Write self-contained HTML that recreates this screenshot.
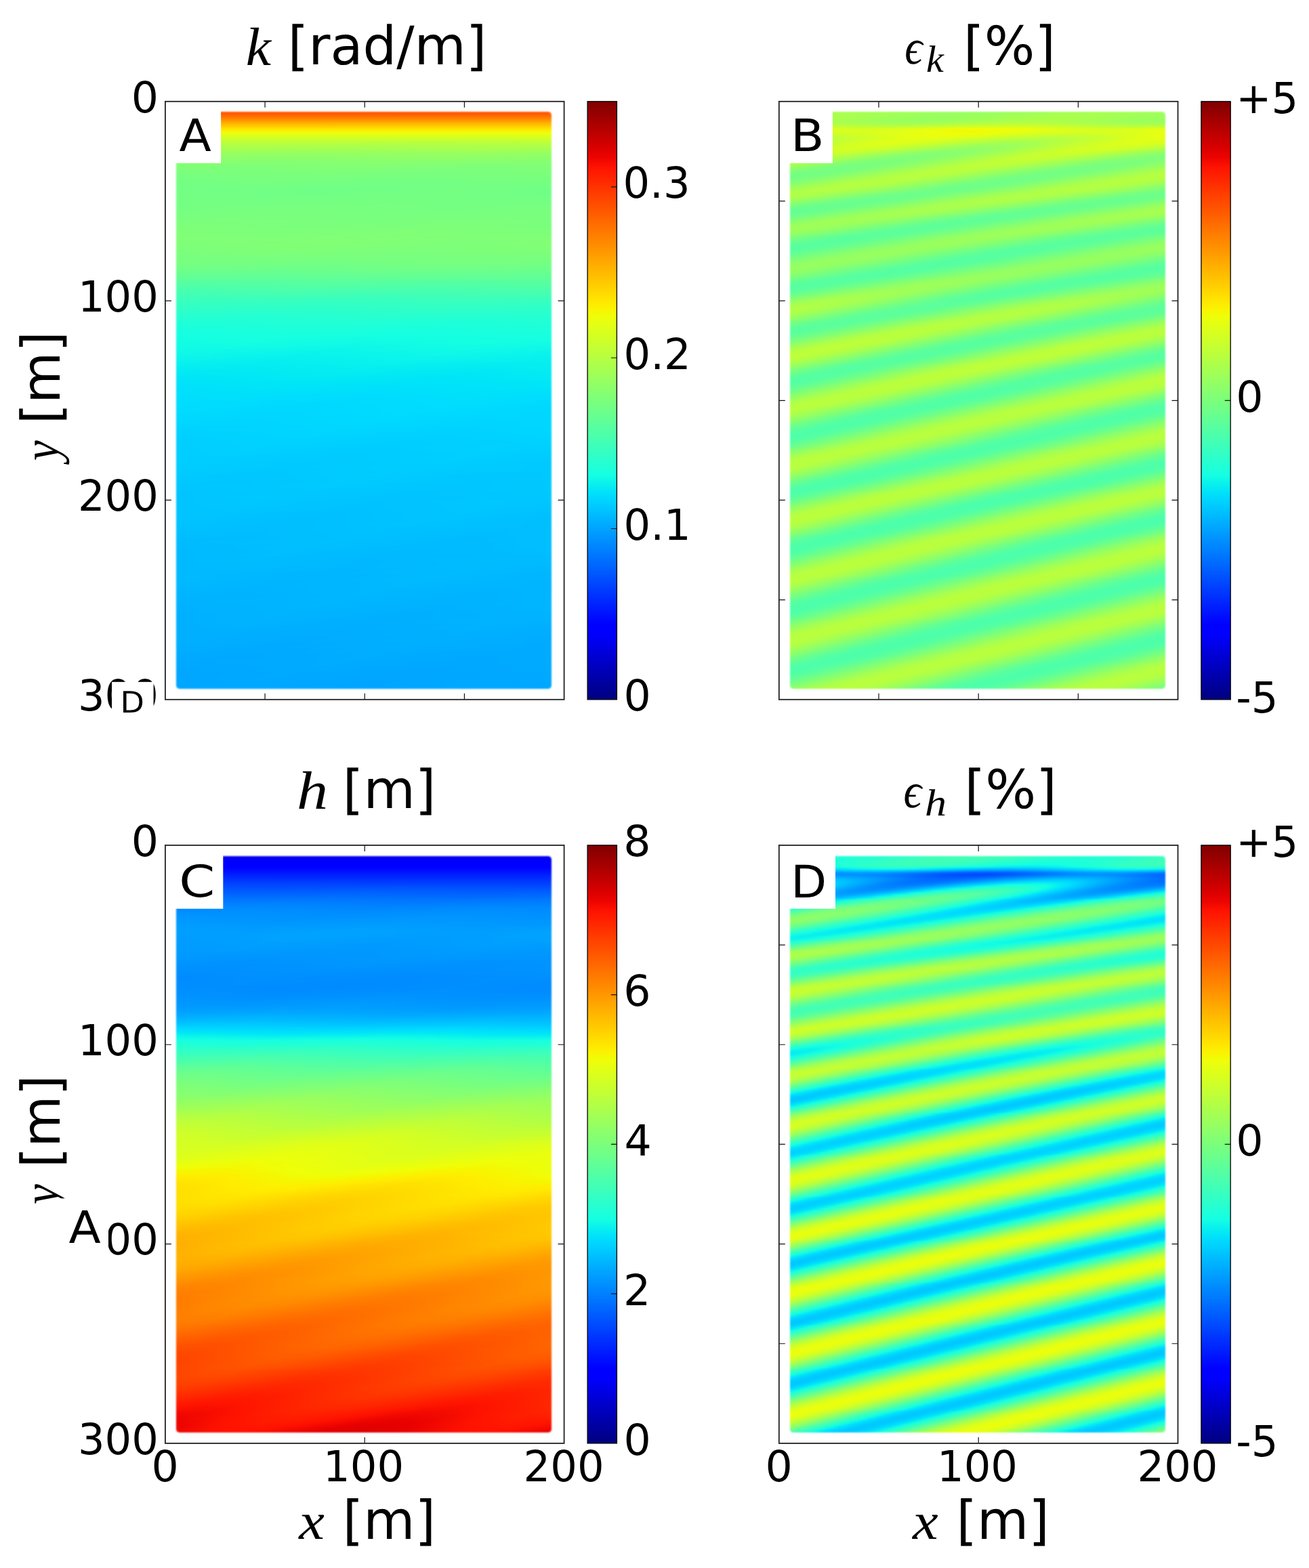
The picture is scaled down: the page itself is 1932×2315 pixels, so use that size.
<!DOCTYPE html><html><head><meta charset="utf-8"><title>Figure</title><style>html,body{margin:0;padding:0;background:#fff}#r{position:relative;width:1932px;height:2315px;overflow:hidden;background:#fff}#b{position:absolute;left:0;top:0;width:100%;height:100%}.f{filter:blur(.8px)}.f{position:absolute;overflow:hidden;border-radius:5px;display:flex;flex-direction:column}.f i{display:block;flex:1 1 0;min-height:0}svg{position:absolute;left:0;top:0}text{font-size:100px;fill:#000;font-kerning:none;text-rendering:geometricPrecision}.s{font-family:"DejaVu Sans","Liberation Sans",sans-serif}.m{font-family:"Liberation Serif","DejaVu Serif",serif;font-style:italic}</style></head><body><div id="r"><div id="b"><div class="f" style="left:259.6px;top:165.4px;width:554.7px;height:851.5px"><i style="background:#ff5200"></i><i style="background:#ff6200"></i><i style="background:linear-gradient(90deg,#ff7300 0%,#ff7400 100%)"></i><i style="background:linear-gradient(90deg,#ff8500 0%,#ff8700 100%)"></i><i style="background:linear-gradient(90deg,#ff9a00 0%,#ff9c00 100%)"></i><i style="background:linear-gradient(90deg,#ffae00 0%,#ffb000 100%)"></i><i style="background:linear-gradient(90deg,#ffc000 0%,#ffc100 100%)"></i><i style="background:linear-gradient(90deg,#ffd200 0%,#ffd300 100%)"></i><i style="background:#ffe300"></i><i style="background:#f8f400"></i><i style="background:#ebff0c"></i><i style="background:linear-gradient(90deg,#dfff18 0%,#e1ff16 100%)"></i><i style="background:linear-gradient(90deg,#d4ff23 0%,#d6ff21 100%)"></i><i style="background:linear-gradient(90deg,#c9ff2e 0%,#ccff2b 100%)"></i><i style="background:linear-gradient(90deg,#bfff38 0%,#c2ff34 28%,#bfff38 63%,#c2ff35 100%)"></i><i style="background:linear-gradient(90deg,#b7ff40 0%,#baff3d 24.9%,#b7ff40 58.7%,#b9ff3d 100%)"></i><i style="background:linear-gradient(90deg,#b0ff47 0%,#b3ff44 21.7%,#afff48 55%,#b2ff45 100%)"></i><i style="background:linear-gradient(90deg,#a9ff4d 0%,#acff4b 19%,#a8ff4f 50.8%,#acff4b 82%,#aaff4d 100%)"></i><i style="background:linear-gradient(90deg,#a4ff53 0%,#a6ff51 18%,#a2ff55 49.7%,#a6ff51 81.5%,#a3ff53 100%)"></i><i style="background:linear-gradient(90deg,#9fff58 0%,#9cff5b 45.5%,#a0ff57 78.3%,#9dff5a 100%)"></i><i style="background:linear-gradient(90deg,#9aff5c 0%,#97ff60 41.3%,#9bff5c 75.7%,#97ff5f 100%)"></i><i style="background:linear-gradient(90deg,#96ff61 0%,#92ff64 37.6%,#96ff61 72.5%,#93ff64 100%)"></i><i style="background:linear-gradient(90deg,#92ff65 0%,#8eff69 33.9%,#92ff65 68.8%,#8eff69 100%)"></i><i style="background:linear-gradient(90deg,#8eff69 0%,#8aff6d 28%,#8eff69 63%,#8aff6d 100%)"></i><i style="background:linear-gradient(90deg,#8aff6d 0%,#86ff70 24.9%,#8aff6d 59.3%,#87ff70 100%)"></i><i style="background:linear-gradient(90deg,#86ff71 0%,#83ff74 22.2%,#87ff70 55%,#84ff73 100%)"></i><i style="background:linear-gradient(90deg,#83ff74 0%,#80ff76 19%,#84ff73 51.3%,#80ff76 82.5%,#82ff75 100%)"></i><i style="background:linear-gradient(90deg,#80ff77 0%,#7eff79 18.5%,#82ff75 50.3%,#7eff79 82%,#80ff76 100%)"></i><i style="background:linear-gradient(90deg,#7eff79 0%,#80ff77 46.6%,#7cff7a 79.4%,#7fff78 100%)"></i><i style="background:linear-gradient(90deg,#7bff7b 0%,#7eff79 42.3%,#7bff7c 76.2%,#7eff79 100%)"></i><i style="background:linear-gradient(90deg,#79ff7d 0%,#7dff7a 38.6%,#79ff7e 73%,#7dff7a 100%)"></i><i style="background:linear-gradient(90deg,#78ff7f 0%,#7bff7b 34.9%,#78ff7f 69.8%,#7bff7b 100%)"></i><i style="background:linear-gradient(90deg,#77ff80 0%,#7aff7d 29.6%,#77ff80 64.6%,#7aff7d 100%)"></i><i style="background:linear-gradient(90deg,#75ff81 0%,#79ff7e 26.5%,#75ff82 60.8%,#78ff7e 100%)"></i><i style="background:linear-gradient(90deg,#74ff82 0%,#77ff80 23.3%,#74ff83 56.6%,#77ff80 100%)"></i><i style="background:linear-gradient(90deg,#73ff83 0%,#76ff81 20.6%,#72ff84 52.9%,#75ff82 100%)"></i><i style="background:#73ff84"></i><i style="background:linear-gradient(90deg,#73ff84 0%,#74ff83 16.9%,#71ff86 48.1%,#74ff83 79.9%,#72ff85 100%)"></i><i style="background:linear-gradient(90deg,#73ff84 0%,#70ff87 43.9%,#74ff83 77.2%,#71ff86 100%)"></i><i style="background:linear-gradient(90deg,#73ff84 0%,#70ff87 40.2%,#74ff83 74.1%,#70ff86 100%)"></i><i style="background:linear-gradient(90deg,#74ff83 0%,#70ff86 36%,#74ff83 70.9%,#70ff86 100%)"></i><i style="background:linear-gradient(90deg,#74ff82 0%,#71ff86 30.2%,#74ff82 65.1%,#71ff86 100%)"></i><i style="background:linear-gradient(90deg,#75ff82 0%,#71ff85 27%,#75ff82 61.4%,#72ff85 100%)"></i><i style="background:linear-gradient(90deg,#75ff82 0%,#72ff85 23.3%,#75ff81 57.1%,#73ff84 100%)"></i><i style="background:linear-gradient(90deg,#75ff82 0%,#73ff84 20.6%,#76ff81 52.9%,#74ff83 100%)"></i><i style="background:#75ff82"></i><i style="background:linear-gradient(90deg,#75ff82 0%,#77ff7f 47.1%,#74ff83 79.4%,#76ff80 100%)"></i><i style="background:linear-gradient(90deg,#75ff82 0%,#78ff7f 42.9%,#75ff82 76.2%,#77ff7f 100%)"></i><i style="background:linear-gradient(90deg,#75ff81 0%,#79ff7e 38.6%,#75ff82 73%,#78ff7e 100%)"></i><i style="background:linear-gradient(90deg,#76ff81 0%,#79ff7e 34.4%,#76ff81 69.3%,#79ff7e 100%)"></i><i style="background:linear-gradient(90deg,#76ff80 0%,#7aff7d 28.6%,#76ff80 63%,#7aff7d 100%)"></i><i style="background:linear-gradient(90deg,#77ff7f 0%,#7aff7c 24.9%,#77ff80 58.7%,#7aff7d 100%)"></i><i style="background:linear-gradient(90deg,#78ff7e 0%,#7bff7c 21.7%,#78ff7f 54.5%,#7aff7d 100%)"></i><i style="background:#7aff7d"></i><i style="background:linear-gradient(90deg,#7bff7c 0%,#7cff7b 17.5%,#79ff7e 49.2%,#7cff7b 81%,#7aff7d 100%)"></i><i style="background:linear-gradient(90deg,#7cff7b 0%,#79ff7d 45%,#7dff7a 77.8%,#7aff7d 100%)"></i><i style="background:linear-gradient(90deg,#7dff7a 0%,#7aff7d 40.7%,#7dff79 74.6%,#7aff7c 100%)"></i><i style="background:linear-gradient(90deg,#7eff79 0%,#7bff7c 36.5%,#7eff79 71.4%,#7bff7c 100%)"></i><i style="background:linear-gradient(90deg,#7fff78 0%,#7cff7b 30.7%,#7fff78 65.6%,#7cff7b 100%)"></i><i style="background:linear-gradient(90deg,#80ff77 0%,#7cff7b 27.5%,#80ff77 61.9%,#7cff7a 100%)"></i><i style="background:linear-gradient(90deg,#80ff77 0%,#7dff7a 24.3%,#80ff77 58.2%,#7dff79 100%)"></i><i style="background:linear-gradient(90deg,#80ff77 0%,#7dff79 21.7%,#81ff76 54.5%,#7eff78 100%)"></i><i style="background:linear-gradient(90deg,#80ff77 0%,#7eff79 19%,#81ff76 50.8%,#7eff79 82%,#7fff77 100%)"></i><i style="background:#80ff77"></i><i style="background:linear-gradient(90deg,#7fff78 0%,#82ff75 46%,#7eff79 78.8%,#81ff76 100%)"></i><i style="background:linear-gradient(90deg,#7fff78 0%,#81ff75 42.3%,#7eff79 76.2%,#81ff76 100%)"></i><i style="background:linear-gradient(90deg,#7eff79 0%,#81ff76 38.6%,#7eff79 73%,#81ff76 100%)"></i><i style="background:linear-gradient(90deg,#7dff7a 0%,#80ff76 34.9%,#7dff7a 69.8%,#80ff76 100%)"></i><i style="background:linear-gradient(90deg,#7cff7a 0%,#80ff77 29.6%,#7cff7a 64.6%,#80ff77 100%)"></i><i style="background:linear-gradient(90deg,#7bff7b 0%,#7fff78 26.5%,#7bff7b 60.8%,#7eff78 100%)"></i><i style="background:linear-gradient(90deg,#7bff7c 0%,#7eff79 23.8%,#7aff7c 57.7%,#7dff7a 100%)"></i><i style="background:linear-gradient(90deg,#7aff7d 0%,#7cff7a 21.2%,#79ff7e 54%,#7bff7b 100%)"></i><i style="background:#79ff7e"></i><i style="background:#78ff7f"></i><i style="background:linear-gradient(90deg,#77ff7f 0%,#75ff82 46%,#78ff7e 78.8%,#76ff81 100%)"></i><i style="background:linear-gradient(90deg,#76ff81 0%,#73ff83 42.3%,#77ff80 76.2%,#74ff83 100%)"></i><i style="background:linear-gradient(90deg,#74ff82 0%,#71ff85 38.6%,#75ff82 73%,#72ff85 100%)"></i><i style="background:linear-gradient(90deg,#72ff85 0%,#6fff88 35.4%,#72ff85 70.4%,#6fff88 100%)"></i><i style="background:linear-gradient(90deg,#6fff88 0%,#6cff8b 30.2%,#6fff88 64.6%,#6cff8b 100%)"></i><i style="background:linear-gradient(90deg,#6cff8b 0%,#69ff8e 27%,#6cff8b 61.4%,#69ff8e 100%)"></i><i style="background:linear-gradient(90deg,#68ff8e 0%,#66ff91 23.8%,#69ff8e 57.7%,#66ff91 100%)"></i><i style="background:linear-gradient(90deg,#65ff92 0%,#62ff95 21.2%,#65ff91 54%,#63ff94 100%)"></i><i style="background:#61ff96"></i><i style="background:#5dff9a"></i><i style="background:linear-gradient(90deg,#59ff9e 0%,#5bff9c 46%,#58ff9f 78.8%,#5aff9d 100%)"></i><i style="background:linear-gradient(90deg,#55ffa2 0%,#58ff9f 42.3%,#54ffa2 75.7%,#57ff9f 100%)"></i><i style="background:linear-gradient(90deg,#51ffa5 0%,#54ffa2 38.6%,#51ffa6 73%,#54ffa2 100%)"></i><i style="background:linear-gradient(90deg,#4effa9 0%,#51ffa6 34.9%,#4effa9 69.8%,#51ffa6 100%)"></i><i style="background:linear-gradient(90deg,#4affad 0%,#4effa9 29.6%,#4affad 64.6%,#4effa9 100%)"></i><i style="background:linear-gradient(90deg,#47ffb0 0%,#4affad 26.5%,#47ffb0 60.8%,#4affad 100%)"></i><i style="background:linear-gradient(90deg,#43ffb4 0%,#46ffb1 23.8%,#43ffb4 57.7%,#46ffb1 100%)"></i><i style="background:linear-gradient(90deg,#40ffb7 0%,#43ffb4 21.2%,#3fffb8 54%,#42ffb5 100%)"></i><i style="background:linear-gradient(90deg,#3dffba 0%,#3fffb7 18.5%,#3cffbb 50.3%,#3fffb7 82%,#3effb9 100%)"></i><i style="background:linear-gradient(90deg,#3bffbc 0%,#3cffba 18%,#39ffbe 49.7%,#3cffba 81.5%,#3affbd 100%)"></i><i style="background:linear-gradient(90deg,#38ffbe 0%,#36ffc1 46%,#3affbd 78.8%,#37ffc0 100%)"></i><i style="background:linear-gradient(90deg,#36ffc1 0%,#33ffc3 42.9%,#37ffc0 76.2%,#34ffc3 100%)"></i><i style="background:linear-gradient(90deg,#34ffc3 0%,#31ffc6 39.2%,#34ffc2 73.5%,#31ffc6 100%)"></i><i style="background:linear-gradient(90deg,#32ffc5 0%,#2effc8 36%,#32ffc5 70.9%,#2effc8 100%)"></i><i style="background:linear-gradient(90deg,#2fffc7 0%,#2cffcb 30.7%,#2fffc7 65.6%,#2cffcb 100%)"></i><i style="background:linear-gradient(90deg,#2dffca 0%,#2affcd 28%,#2dffca 62.4%,#2affcd 100%)"></i><i style="background:linear-gradient(90deg,#2bffcc 0%,#27ffcf 25.4%,#2bffcc 59.3%,#28ffcf 100%)"></i><i style="background:linear-gradient(90deg,#28ffcf 0%,#25ffd2 22.8%,#29ffce 56.1%,#26ffd1 100%)"></i><i style="background:linear-gradient(90deg,#26ffd1 0%,#23ffd4 20.6%,#27ffd0 52.9%,#23ffd4 83.6%,#24ffd2 100%)"></i><i style="background:linear-gradient(90deg,#23ffd3 0%,#21ffd6 18%,#25ffd2 49.7%,#21ffd6 81.5%,#23ffd4 100%)"></i><i style="background:linear-gradient(90deg,#21ffd6 0%,#1fffd7 18%,#23ffd4 49.2%,#1fffd7 81%,#22ffd5 100%)"></i><i style="background:linear-gradient(90deg,#1fffd8 0%,#21ffd5 46%,#1effd9 78.8%,#20ffd6 100%)"></i><i style="background:linear-gradient(90deg,#1dffda 0%,#20ffd7 42.9%,#1cffdb 76.7%,#1fffd7 100%)"></i><i style="background:linear-gradient(90deg,#1bffdc 0%,#1effd8 39.7%,#1bffdc 74.1%,#1effd9 100%)"></i><i style="background:linear-gradient(90deg,#19ffdd 0%,#1dffda 37%,#19ffde 71.4%,#1dffda 100%)"></i><i style="background:linear-gradient(90deg,#18ffdf 0%,#1cffdb 33.9%,#18ffdf 68.8%,#1cffdb 100%)"></i><i style="background:linear-gradient(90deg,#17ffe0 0%,#1affdd 29.1%,#17ffe0 64%,#1affdd 100%)"></i><i style="background:linear-gradient(90deg,#15ffe1 0%,#19ffde 26.5%,#15ffe2 60.8%,#19ffde 100%)"></i><i style="background:linear-gradient(90deg,#14ffe2 0%,#18ffdf 24.3%,#14fee3 57.7%,#17ffe0 100%)"></i><i style="background:linear-gradient(90deg,#14fee3 0%,#17ffe0 21.7%,#13fde4 55%,#16ffe1 100%)"></i><i style="background:linear-gradient(90deg,#13fde4 0%,#15ffe1 19.6%,#12fbe5 52.4%,#15ffe1 83.1%,#14fee3 100%)"></i><i style="background:linear-gradient(90deg,#12fce5 0%,#14ffe2 17.5%,#11fae6 48.7%,#14ffe2 81%,#12fce4 100%)"></i><i style="background:linear-gradient(90deg,#12fbe5 0%,#13fde4 17.5%,#0ff9e7 48.7%,#13fde4 81%,#11fae6 100%)"></i><i style="background:linear-gradient(90deg,#11fbe6 0%,#12fce5 15.3%,#0ef7e8 45.5%,#12fce5 78.8%,#0ff8e8 100%)"></i><i style="background:linear-gradient(90deg,#10fae6 0%,#0df6ea 42.9%,#11fbe6 76.2%,#0ef6e9 100%)"></i><i style="background:linear-gradient(90deg,#10f9e7 0%,#0cf5eb 39.7%,#10f9e7 74.1%,#0cf5ea 100%)"></i><i style="background:linear-gradient(90deg,#0ff8e8 0%,#0bf3ec 37%,#0ff8e8 71.4%,#0bf3ec 100%)"></i><i style="background:linear-gradient(90deg,#0ef7e9 0%,#0af2ed 34.4%,#0ef7e9 69.3%,#0af2ed 100%)"></i><i style="background:linear-gradient(90deg,#0df5ea 0%,#09f1ee 29.6%,#0df5ea 64.6%,#09f1ee 100%)"></i><i style="background:linear-gradient(90deg,#0cf4eb 0%,#08efef 27%,#0cf4eb 61.4%,#08f0ee 100%)"></i><i style="background:linear-gradient(90deg,#0af3ec 0%,#07eef0 24.9%,#0bf3ec 58.7%,#08efef 100%)"></i><i style="background:linear-gradient(90deg,#09f1ee 0%,#06edf1 22.8%,#0af2ed 56.1%,#06edf1 85.2%,#07eef0 100%)"></i><i style="background:linear-gradient(90deg,#08efef 0%,#05ecf2 20.6%,#09f1ee 52.9%,#05ecf2 83.6%,#06eef0 100%)"></i><i style="background:linear-gradient(90deg,#07eef0 0%,#04ebf3 18.5%,#08efef 50.3%,#04ebf3 82%,#06edf1 100%)"></i><i style="background:linear-gradient(90deg,#05ecf2 0%,#03eaf3 18.5%,#07eef0 50.3%,#03eaf3 82%,#06ecf1 100%)"></i><i style="background:linear-gradient(90deg,#04eaf3 0%,#02e9f4 16.4%,#06edf1 47.6%,#02e8f4 79.9%,#05ecf2 100%)"></i><i style="background:linear-gradient(90deg,#02e9f4 0%,#02e8f5 14.8%,#05ecf2 44.4%,#02e7f5 77.8%,#05ebf2 100%)"></i><i style="background:linear-gradient(90deg,#01e7f6 0%,#04ebf2 41.8%,#01e6f6 75.7%,#04eaf3 100%)"></i><i style="background:linear-gradient(90deg,#00e6f7 0%,#03eaf3 39.2%,#00e5f7 73.5%,#03eaf4 100%)"></i><i style="background:linear-gradient(90deg,#00e4f8 0%,#03e9f4 36.5%,#00e4f8 71.4%,#02e9f4 100%)"></i><i style="background:linear-gradient(90deg,#00e3f9 0%,#02e7f5 33.9%,#00e3f9 68.8%,#02e7f5 100%)"></i><i style="background:linear-gradient(90deg,#00e2fa 0%,#01e6f6 29.1%,#00e2fa 64%,#01e6f6 100%)"></i><i style="background:linear-gradient(90deg,#00e1fa 0%,#00e5f7 27%,#00e1fb 61.4%,#00e5f7 100%)"></i><i style="background:linear-gradient(90deg,#00e0fb 0%,#00e4f8 24.9%,#00e0fb 58.7%,#00e4f8 100%)"></i><i style="background:linear-gradient(90deg,#00dffc 0%,#00e3f9 22.8%,#00dffc 56.1%,#00e3f9 85.7%,#00e2f9 100%)"></i><i style="background:linear-gradient(90deg,#00dffc 0%,#00e2f9 20.6%,#00defd 53.4%,#00e2f9 84.1%,#00e1fb 100%)"></i><i style="background:linear-gradient(90deg,#00dffc 0%,#00e1fa 19%,#00ddfe 50.8%,#00e1fa 82%,#00dffc 100%)"></i><i style="background:linear-gradient(90deg,#00defd 0%,#00e0fb 19%,#00dcfe 50.8%,#00e1fb 82.5%,#00defd 100%)"></i><i style="background:linear-gradient(90deg,#00defd 0%,#00e0fb 16.9%,#00dbff 48.1%,#00e0fb 80.4%,#00ddfe 100%)"></i><i style="background:linear-gradient(90deg,#00defd 0%,#00dffc 15.3%,#00dbff 45.5%,#00dffc 78.3%,#00dbff 100%)"></i><i style="background:linear-gradient(90deg,#00ddfd 0%,#00daff 42.9%,#00defd 76.2%,#00daff 100%)"></i><i style="background:linear-gradient(90deg,#00ddfd 0%,#00d9ff 40.2%,#00defd 74.6%,#00daff 100%)"></i><i style="background:linear-gradient(90deg,#00ddfe 0%,#00d9ff 37.6%,#00ddfe 72%,#00d9ff 100%)"></i><i style="background:linear-gradient(90deg,#00ddfe 0%,#00d8ff 34.9%,#00ddfe 69.8%,#00d8ff 100%)"></i><i style="background:linear-gradient(90deg,#00dcfe 0%,#00d8ff 30.7%,#00dcfe 65.6%,#00d8ff 100%)"></i><i style="background:linear-gradient(90deg,#00dcff 0%,#00d7ff 28%,#00dcff 63%,#00d7ff 100%)"></i><i style="background:linear-gradient(90deg,#00dbff 0%,#00d7ff 25.9%,#00dbff 60.3%,#00d7ff 100%)"></i><i style="background:linear-gradient(90deg,#00daff 0%,#00d6ff 23.8%,#00dbff 57.7%,#00d7ff 100%)"></i><i style="background:linear-gradient(90deg,#00daff 0%,#00d6ff 22.2%,#00daff 55%,#00d6ff 85.2%,#00d7ff 100%)"></i><i style="background:linear-gradient(90deg,#00d9ff 0%,#00d5ff 20.1%,#00daff 52.4%,#00d6ff 83.6%,#00d7ff 100%)"></i><i style="background:linear-gradient(90deg,#00d8ff 0%,#00d5ff 18%,#00d9ff 49.7%,#00d5ff 81.5%,#00d7ff 100%)"></i><i style="background:linear-gradient(90deg,#00d6ff 0%,#00d4ff 18.5%,#00d9ff 50.3%,#00d4ff 82%,#00d7ff 100%)"></i><i style="background:linear-gradient(90deg,#00d5ff 0%,#00d4ff 16.4%,#00d8ff 47.6%,#00d4ff 79.9%,#00d7ff 100%)"></i><i style="background:linear-gradient(90deg,#00d4ff 0%,#00d3ff 14.8%,#00d7ff 45%,#00d3ff 77.8%,#00d7ff 100%)"></i><i style="background:linear-gradient(90deg,#00d3ff 0%,#00d7ff 42.3%,#00d2ff 76.2%,#00d6ff 100%)"></i><i style="background:linear-gradient(90deg,#00d2ff 0%,#00d6ff 39.7%,#00d2ff 74.1%,#00d6ff 100%)"></i><i style="background:linear-gradient(90deg,#00d1ff 0%,#00d5ff 37.6%,#00d1ff 72%,#00d5ff 100%)"></i><i style="background:linear-gradient(90deg,#00d0ff 0%,#00d5ff 34.9%,#00d0ff 69.8%,#00d5ff 100%)"></i><i style="background:linear-gradient(90deg,#00cfff 0%,#00d4ff 30.7%,#00cfff 65.1%,#00d4ff 100%)"></i><i style="background:linear-gradient(90deg,#00cfff 0%,#00d3ff 28%,#00cfff 63%,#00d3ff 100%)"></i><i style="background:linear-gradient(90deg,#00ceff 0%,#00d3ff 25.9%,#00ceff 60.3%,#00d2ff 100%)"></i><i style="background:linear-gradient(90deg,#00ceff 0%,#00d2ff 24.3%,#00ceff 57.7%,#00d1ff 100%)"></i><i style="background:linear-gradient(90deg,#00ceff 0%,#00d2ff 22.2%,#00cdff 55.6%,#00d1ff 85.2%,#00d0ff 100%)"></i><i style="background:linear-gradient(90deg,#00ceff 0%,#00d1ff 20.1%,#00cdff 52.9%,#00d1ff 83.6%,#00d0ff 100%)"></i><i style="background:linear-gradient(90deg,#00ceff 0%,#00d1ff 18.5%,#0cf 50.3%,#00d1ff 82%,#00cfff 100%)"></i><i style="background:linear-gradient(90deg,#00ceff 0%,#00d0ff 18.5%,#0cf 50.3%,#00d0ff 82%,#00ceff 100%)"></i><i style="background:linear-gradient(90deg,#00ceff 0%,#00d0ff 16.9%,#00cbff 48.1%,#00d0ff 80.4%,#00cdff 100%)"></i><i style="background:linear-gradient(90deg,#00ceff 0%,#00cfff 15.3%,#00cbff 45.5%,#00cfff 78.3%,#0cf 100%)"></i><i style="background:linear-gradient(90deg,#00ceff 0%,#00cbff 42.9%,#00cfff 76.2%,#00cbff 100%)"></i><i style="background:linear-gradient(90deg,#00ceff 0%,#00caff 40.2%,#00cfff 74.6%,#00caff 100%)"></i><i style="background:linear-gradient(90deg,#00ceff 0%,#00caff 37.6%,#00ceff 72.5%,#00caff 100%)"></i><i style="background:linear-gradient(90deg,#00ceff 0%,#00c9ff 35.4%,#00ceff 69.8%,#00c9ff 100%)"></i><i style="background:linear-gradient(90deg,#00cdff 0%,#00c9ff 30.7%,#00cdff 65.6%,#00c9ff 100%)"></i><i style="background:linear-gradient(90deg,#00cdff 0%,#00c9ff 28.6%,#00cdff 63%,#00c9ff 100%)"></i><i style="background:linear-gradient(90deg,#00cdff 0%,#00c8ff 26.5%,#00cdff 60.3%,#00c9ff 100%)"></i><i style="background:linear-gradient(90deg,#0cf 0%,#00c8ff 24.3%,#0cf 58.2%,#00c9ff 100%)"></i><i style="background:linear-gradient(90deg,#00cbff 0%,#00c8ff 22.2%,#0cf 55.6%,#00c8ff 85.2%,#00c9ff 100%)"></i><i style="background:linear-gradient(90deg,#00caff 0%,#00c7ff 20.1%,#0cf 52.9%,#00c7ff 83.6%,#00c9ff 100%)"></i><i style="background:linear-gradient(90deg,#00caff 0%,#00c7ff 18.5%,#00cbff 50.3%,#00c7ff 82%,#00c9ff 100%)"></i><i style="background:linear-gradient(90deg,#00c9ff 0%,#00c7ff 18.5%,#00cbff 50.3%,#00c7ff 82%,#00c9ff 100%)"></i><i style="background:linear-gradient(90deg,#00c8ff 0%,#00c6ff 16.9%,#00cbff 47.6%,#00c6ff 79.9%,#00c9ff 100%)"></i><i style="background:linear-gradient(90deg,#00c7ff 0%,#00c6ff 14.8%,#00caff 45%,#00c6ff 77.8%,#00c9ff 100%)"></i><i style="background:linear-gradient(90deg,#00c6ff 0%,#00caff 42.3%,#00c6ff 76.2%,#00c9ff 100%)"></i><i style="background:linear-gradient(90deg,#00c6ff 0%,#00caff 39.7%,#00c5ff 74.1%,#00c9ff 100%)"></i><i style="background:linear-gradient(90deg,#00c5ff 0%,#00c9ff 37%,#00c5ff 71.4%,#00c9ff 100%)"></i><i style="background:linear-gradient(90deg,#00c5ff 0%,#00c9ff 34.4%,#00c5ff 69.3%,#00c9ff 100%)"></i><i style="background:linear-gradient(90deg,#00c4ff 0%,#00c8ff 30.2%,#00c4ff 64.6%,#00c8ff 100%)"></i><i style="background:linear-gradient(90deg,#00c4ff 0%,#00c8ff 27.5%,#00c4ff 62.4%,#00c8ff 100%)"></i><i style="background:linear-gradient(90deg,#00c4ff 0%,#00c8ff 25.4%,#00c3ff 59.8%,#00c7ff 100%)"></i><i style="background:linear-gradient(90deg,#00c4ff 0%,#00c7ff 23.3%,#00c3ff 57.1%,#00c7ff 100%)"></i><i style="background:linear-gradient(90deg,#00c4ff 0%,#00c7ff 21.7%,#00c3ff 54.5%,#00c7ff 84.7%,#00c6ff 100%)"></i><i style="background:linear-gradient(90deg,#00c4ff 0%,#00c7ff 19.6%,#00c2ff 51.9%,#00c7ff 83.1%,#00c5ff 100%)"></i><i style="background:linear-gradient(90deg,#00c4ff 0%,#00c6ff 18%,#00c2ff 49.2%,#00c6ff 81%,#00c4ff 100%)"></i><i style="background:linear-gradient(90deg,#00c4ff 0%,#00c6ff 18%,#00c2ff 49.2%,#00c6ff 81.5%,#00c3ff 100%)"></i><i style="background:linear-gradient(90deg,#00c4ff 0%,#00c5ff 16.4%,#00c1ff 46.6%,#00c6ff 79.4%,#00c2ff 100%)"></i><i style="background:linear-gradient(90deg,#00c4ff 0%,#00c5ff 14.8%,#00c1ff 43.9%,#00c5ff 77.2%,#00c2ff 100%)"></i><i style="background:linear-gradient(90deg,#00c4ff 0%,#00c0ff 41.8%,#00c5ff 75.7%,#00c1ff 100%)"></i><i style="background:linear-gradient(90deg,#00c4ff 0%,#00c0ff 39.2%,#00c4ff 73.5%,#00c0ff 100%)"></i><i style="background:linear-gradient(90deg,#00c4ff 0%,#00c0ff 36.5%,#00c4ff 71.4%,#00c0ff 100%)"></i><i style="background:linear-gradient(90deg,#00c4ff 0%,#00bfff 34.4%,#00c4ff 68.8%,#00bfff 100%)"></i><i style="background:linear-gradient(90deg,#00c3ff 0%,#00bfff 29.6%,#00c3ff 64.6%,#00bfff 100%)"></i><i style="background:linear-gradient(90deg,#00c3ff 0%,#00bfff 27.5%,#00c3ff 61.9%,#00bfff 100%)"></i><i style="background:linear-gradient(90deg,#00c2ff 0%,#00beff 25.4%,#00c3ff 59.8%,#00bfff 100%)"></i><i style="background:linear-gradient(90deg,#00c2ff 0%,#00beff 23.8%,#00c2ff 57.1%,#00bfff 100%)"></i><i style="background:linear-gradient(90deg,#00c1ff 0%,#00beff 21.7%,#00c2ff 54.5%,#00beff 84.7%,#00bfff 100%)"></i><i style="background:linear-gradient(90deg,#00c0ff 0%,#00bdff 20.1%,#00c2ff 52.4%,#00bdff 83.1%,#00bfff 100%)"></i><i style="background:linear-gradient(90deg,#00c0ff 0%,#00bdff 18%,#00c1ff 49.7%,#00bdff 81.5%,#00bfff 100%)"></i><i style="background:linear-gradient(90deg,#00bfff 0%,#00bdff 18.5%,#00c1ff 50.3%,#00bdff 81.5%,#00bfff 100%)"></i><i style="background:linear-gradient(90deg,#00beff 0%,#00bcff 16.9%,#00c1ff 47.6%,#00bcff 79.9%,#00bfff 100%)"></i><i style="background:linear-gradient(90deg,#00bdff 0%,#00bcff 15.3%,#00c0ff 45%,#00bcff 78.3%,#00bfff 100%)"></i><i style="background:linear-gradient(90deg,#00bcff 0%,#00c0ff 42.9%,#00bcff 76.2%,#00bfff 100%)"></i><i style="background:linear-gradient(90deg,#00bcff 0%,#00c0ff 40.2%,#0bf 74.6%,#00bfff 100%)"></i><i style="background:linear-gradient(90deg,#0bf 0%,#00bfff 37.6%,#0bf 72.5%,#00bfff 100%)"></i><i style="background:linear-gradient(90deg,#0bf 0%,#00bfff 35.4%,#0bf 70.4%,#00bfff 100%)"></i><i style="background:linear-gradient(90deg,#00baff 0%,#00bfff 31.2%,#00baff 66.1%,#00bfff 100%)"></i><i style="background:linear-gradient(90deg,#00baff 0%,#00beff 29.1%,#00baff 63.5%,#00beff 100%)"></i><i style="background:linear-gradient(90deg,#00baff 0%,#00beff 27%,#00baff 61.4%,#00beff 100%)"></i><i style="background:linear-gradient(90deg,#00baff 0%,#00beff 24.9%,#00b9ff 59.3%,#00bdff 100%)"></i><i style="background:linear-gradient(90deg,#00baff 0%,#00bdff 23.3%,#00b9ff 56.6%,#00bcff 100%)"></i><i style="background:linear-gradient(90deg,#00baff 0%,#00bdff 21.2%,#00b9ff 54%,#00bdff 84.7%,#00bcff 100%)"></i><i style="background:linear-gradient(90deg,#00baff 0%,#00bdff 19.6%,#00b8ff 51.9%,#00bdff 83.1%,#0bf 100%)"></i><i style="background:linear-gradient(90deg,#00baff 0%,#00bcff 18%,#00b8ff 49.2%,#00bcff 81.5%,#00baff 100%)"></i><i style="background:linear-gradient(90deg,#00baff 0%,#00bcff 18%,#00b8ff 49.7%,#00bcff 81.5%,#00b9ff 100%)"></i><i style="background:linear-gradient(90deg,#00baff 0%,#00bcff 16.4%,#00b8ff 47.1%,#00bcff 79.9%,#00b9ff 100%)"></i><i style="background:linear-gradient(90deg,#00baff 0%,#0bf 14.8%,#00b7ff 45%,#0bf 77.8%,#00b8ff 100%)"></i><i style="background:linear-gradient(90deg,#00baff 0%,#00b7ff 42.3%,#0bf 76.2%,#00b7ff 100%)"></i><i style="background:linear-gradient(90deg,#00baff 0%,#00b7ff 40.2%,#0bf 74.1%,#00b7ff 100%)"></i><i style="background:linear-gradient(90deg,#00baff 0%,#00b6ff 37.6%,#00baff 72.5%,#00b6ff 100%)"></i><i style="background:linear-gradient(90deg,#00baff 0%,#00b6ff 35.4%,#00baff 70.4%,#00b6ff 100%)"></i><i style="background:linear-gradient(90deg,#00baff 0%,#00b6ff 31.2%,#00baff 66.1%,#00b6ff 100%)"></i><i style="background:linear-gradient(90deg,#00baff 0%,#00b5ff 29.1%,#00baff 63.5%,#00b5ff 100%)"></i><i style="background:linear-gradient(90deg,#00b9ff 0%,#00b5ff 27%,#00b9ff 61.4%,#00b5ff 100%)"></i><i style="background:linear-gradient(90deg,#00b9ff 0%,#00b5ff 24.9%,#00b9ff 58.7%,#00b5ff 100%)"></i><i style="background:linear-gradient(90deg,#00b8ff 0%,#00b4ff 23.3%,#00b9ff 56.6%,#00b5ff 100%)"></i><i style="background:linear-gradient(90deg,#00b7ff 0%,#00b4ff 21.2%,#00b8ff 54%,#00b4ff 84.7%,#00b5ff 100%)"></i><i style="background:linear-gradient(90deg,#00b7ff 0%,#00b4ff 19.6%,#00b8ff 51.9%,#00b4ff 83.1%,#00b5ff 100%)"></i><i style="background:linear-gradient(90deg,#00b6ff 0%,#00b3ff 18%,#00b8ff 49.2%,#00b3ff 81.5%,#00b6ff 100%)"></i><i style="background:linear-gradient(90deg,#00b5ff 0%,#00b3ff 18%,#00b7ff 49.7%,#00b3ff 81.5%,#00b6ff 100%)"></i><i style="background:linear-gradient(90deg,#00b4ff 0%,#00b3ff 16.4%,#00b7ff 47.6%,#00b3ff 79.9%,#00b6ff 100%)"></i><i style="background:linear-gradient(90deg,#00b4ff 0%,#00b3ff 14.8%,#00b7ff 45%,#00b2ff 77.8%,#00b6ff 100%)"></i><i style="background:linear-gradient(90deg,#00b3ff 0%,#00b6ff 42.3%,#00b2ff 76.2%,#00b6ff 100%)"></i><i style="background:linear-gradient(90deg,#00b2ff 0%,#00b6ff 40.2%,#00b2ff 74.6%,#00b6ff 100%)"></i><i style="background:linear-gradient(90deg,#00b2ff 0%,#00b6ff 38.1%,#00b2ff 72.5%,#00b6ff 100%)"></i><i style="background:linear-gradient(90deg,#00b1ff 0%,#00b5ff 35.4%,#00b1ff 70.4%,#00b5ff 100%)"></i><i style="background:linear-gradient(90deg,#00b1ff 0%,#00b5ff 31.2%,#00b1ff 66.1%,#00b5ff 100%)"></i><i style="background:linear-gradient(90deg,#00b1ff 0%,#00b5ff 29.1%,#00b0ff 64%,#00b4ff 100%)"></i><i style="background:linear-gradient(90deg,#00b0ff 0%,#00b4ff 27%,#00b0ff 61.9%,#00b4ff 100%)"></i><i style="background:linear-gradient(90deg,#00b0ff 0%,#00b4ff 25.4%,#00b0ff 59.3%,#00b3ff 100%)"></i><i style="background:linear-gradient(90deg,#00b0ff 0%,#00b4ff 23.3%,#00b0ff 57.1%,#00b3ff 100%)"></i><i style="background:linear-gradient(90deg,#00b0ff 0%,#00b3ff 21.7%,#00afff 54.5%,#00b3ff 84.7%,#00b2ff 100%)"></i><i style="background:linear-gradient(90deg,#00b0ff 0%,#00b3ff 20.1%,#00afff 52.4%,#00b3ff 83.1%,#00b1ff 100%)"></i><i style="background:linear-gradient(90deg,#00b0ff 0%,#00b3ff 18%,#00afff 49.7%,#00b3ff 81.5%,#00b1ff 100%)"></i><i style="background:linear-gradient(90deg,#00b0ff 0%,#00b2ff 18.5%,#00aeff 50.3%,#00b2ff 82%,#00b0ff 100%)"></i><i style="background:linear-gradient(90deg,#00b0ff 0%,#00b2ff 16.9%,#00aeff 48.1%,#00b2ff 79.9%,#00afff 100%)"></i><i style="background:linear-gradient(90deg,#00b0ff 0%,#00b1ff 15.3%,#00aeff 45.5%,#00b2ff 78.3%,#00aeff 100%)"></i><i style="background:linear-gradient(90deg,#00b0ff 0%,#00adff 42.9%,#00b1ff 76.7%,#00aeff 100%)"></i><i style="background:linear-gradient(90deg,#00b0ff 0%,#00adff 40.7%,#00b1ff 74.6%,#00adff 100%)"></i><i style="background:linear-gradient(90deg,#00b0ff 0%,#00adff 38.6%,#00b1ff 73%,#00adff 100%)"></i><i style="background:linear-gradient(90deg,#00b0ff 0%,#00acff 36%,#00b0ff 70.9%,#00acff 100%)"></i><i style="background:linear-gradient(90deg,#00b0ff 0%,#00acff 33.9%,#00b0ff 68.8%,#00acff 100%)"></i><i style="background:linear-gradient(90deg,#00b0ff 0%,#00acff 29.6%,#00b0ff 64.6%,#00acff 100%)"></i><i style="background:linear-gradient(90deg,#00afff 0%,#00abff 27.5%,#00afff 62.4%,#00abff 100%)"></i><i style="background:linear-gradient(90deg,#00afff 0%,#00abff 25.9%,#00afff 59.8%,#00abff 100%)"></i><i style="background:linear-gradient(90deg,#00aeff 0%,#00abff 23.8%,#00afff 57.7%,#00abff 100%)"></i><i style="background:linear-gradient(90deg,#00aeff 0%,#0af 22.2%,#00aeff 55%,#00abff 100%)"></i><i style="background:linear-gradient(90deg,#00adff 0%,#0af 20.6%,#00aeff 52.9%,#0af 83.6%,#00abff 100%)"></i><i style="background:linear-gradient(90deg,#00acff 0%,#0af 18.5%,#00aeff 50.8%,#0af 82%,#00abff 100%)"></i><i style="background:linear-gradient(90deg,#00abff 0%,#00a9ff 19%,#00adff 50.8%,#00a9ff 82.5%,#00acff 100%)"></i><i style="background:linear-gradient(90deg,#00abff 0%,#00a9ff 17.5%,#00adff 48.7%,#00a9ff 81%,#00acff 100%)"></i><i style="background:linear-gradient(90deg,#0af 0%,#00a9ff 15.9%,#00adff 46.6%,#00a9ff 78.8%,#00acff 100%)"></i><i style="background:linear-gradient(90deg,#00a9ff 0%,#00acff 43.9%,#00a8ff 77.2%,#00acff 100%)"></i><i style="background:linear-gradient(90deg,#00a9ff 0%,#00acff 41.8%,#00a8ff 75.7%,#00acff 100%)"></i><i style="background:linear-gradient(90deg,#00a8ff 0%,#00acff 39.2%,#00a8ff 73.5%,#00abff 100%)"></i><i style="background:linear-gradient(90deg,#00a7ff 0%,#00abff 37%,#00a7ff 71.4%,#00abff 100%)"></i><i style="background:linear-gradient(90deg,#00a7ff 0%,#00abff 34.9%,#00a7ff 69.8%,#00abff 100%)"></i><i style="background:linear-gradient(90deg,#00a7ff 0%,#00abff 30.7%,#00a7ff 65.6%,#00abff 100%)"></i><i style="background:linear-gradient(90deg,#00a6ff 0%,#0af 28.6%,#00a6ff 63%,#0af 100%)"></i><i style="background:linear-gradient(90deg,#00a6ff 0%,#0af 26.5%,#00a6ff 60.8%,#0af 100%)"></i><i style="background:linear-gradient(90deg,#00a6ff 0%,#0af 24.9%,#00a6ff 58.7%,#00a9ff 100%)"></i><i style="background:linear-gradient(90deg,#00a6ff 0%,#0af 22.8%,#00a6ff 56.1%,#00a9ff 100%)"></i><i style="background:linear-gradient(90deg,#00a6ff 0%,#00a9ff 21.2%,#00a5ff 54%,#00a9ff 84.1%,#00a8ff 100%)"></i><i style="background:linear-gradient(90deg,#00a6ff 0%,#00a9ff 19.6%,#00a5ff 51.3%,#00a9ff 82.5%,#00a7ff 100%)"></i><i style="background:linear-gradient(90deg,#00a7ff 0%,#00a9ff 18%,#00a5ff 49.2%,#00a9ff 81.5%,#00a7ff 100%)"></i><i style="background:linear-gradient(90deg,#00a7ff 0%,#00a9ff 18%,#00a5ff 49.7%,#00a9ff 81.5%,#00a6ff 100%)"></i><i style="background:linear-gradient(90deg,#00a7ff 0%,#00a8ff 16.4%,#00a4ff 47.6%,#00a8ff 79.9%,#00a6ff 100%)"></i></div><div class="f" style="left:1165.5px;top:165.4px;width:554.7px;height:851.5px"><i style="background:linear-gradient(90deg,#a0ff57 0%,#a7ff50 10.1%,#a8ff4f 18%,#9aff5d 41.3%,#98ff5f 49.7%,#a8ff4f 81.5%,#9eff59 100%)"></i><i style="background:linear-gradient(90deg,#a4ff53 0%,#a8ff4f 7.9%,#a8ff4e 15.3%,#9aff5d 37%,#98ff5f 45.5%,#9aff5c 53.4%,#a7ff50 70.4%,#a9ff4e 78.8%,#9cff5b 100%)"></i><i style="background:linear-gradient(90deg,#a7ff50 0%,#a9ff4e 13.2%,#9aff5c 33.3%,#98ff5f 41.8%,#9bff5c 49.7%,#a8ff4f 67.2%,#aaff4d 75.7%,#9aff5d 100%)"></i><i style="background:linear-gradient(90deg,#abff4c 0%,#aaff4d 10.6%,#9bff5b 29.1%,#98ff5e 37.6%,#9bff5b 46%,#aaff4d 64%,#abff4b 72.5%,#99ff5e 100%)"></i><i style="background:linear-gradient(90deg,#aeff49 0%,#acff4b 7.9%,#9cff5a 25.4%,#99ff5e 33.9%,#9cff5b 42.3%,#acff4b 60.3%,#aeff49 68.8%,#9bff5b 92.1%,#99ff5e 100%)"></i><i style="background:linear-gradient(90deg,#b5ff42 0%,#9fff58 28.6%,#a1ff56 37%,#b2ff45 54.5%,#b5ff42 63%,#b2ff45 71.4%,#a1ff56 89.9%,#a0ff57 100%)"></i><i style="background:linear-gradient(90deg,#c3ff34 0%,#b1ff45 17.5%,#adff4a 24.9%,#afff48 33.3%,#c1ff36 50.8%,#c5ff32 59.3%,#c1ff36 67.7%,#aeff49 87.3%,#adff4a 93.7%,#b0ff47 100%)"></i><i style="background:linear-gradient(90deg,#d3ff23 0%,#c4ff33 13.8%,#bfff38 21.7%,#c2ff35 30.2%,#d4ff23 47.1%,#d8ff1e 55%,#d5ff22 63.5%,#c0ff37 84.7%,#c0ff37 92.1%,#c6ff31 100%)"></i><i style="background:linear-gradient(90deg,#e5ff12 0%,#d8ff1f 11.1%,#d4ff23 19%,#d7ff20 27%,#eaff0c 43.4%,#efff08 50.8%,#ecff0b 59.3%,#d9ff1e 75.7%,#d4ff23 82.5%,#d6ff21 90.5%,#e0ff17 100%)"></i><i style="background:linear-gradient(90deg,#e6ff11 0%,#dbff1c 10.1%,#d9ff1e 18%,#deff19 25.4%,#eeff09 37.6%,#f4f802 44.4%,#f5f701 49.7%,#eeff08 59.3%,#ddff1a 73%,#d9ff1e 81.5%,#ddff1a 89.4%,#eaff0c 100%)"></i><i style="background:linear-gradient(90deg,#dbff1c 0%,#d2ff24 7.9%,#d2ff25 15.3%,#d7ff20 21.7%,#ecff0b 37%,#f0fd06 45.5%,#ebff0b 53.4%,#d5ff22 70.4%,#d1ff26 78.3%,#d6ff21 86.2%,#e9ff0d 100%)"></i><i style="background:linear-gradient(90deg,#ccff2b 0%,#c7ff30 6.9%,#c9ff2e 13.2%,#e5ff11 33.3%,#eaff0d 41.8%,#e4ff12 49.7%,#caff2d 67.2%,#c7ff30 75.7%,#cdff2a 83.1%,#e7ff10 100%)"></i><i style="background:linear-gradient(90deg,#bfff38 0%,#bdff3a 5.3%,#c0ff37 10.6%,#e0ff16 29.1%,#e7ff10 37.6%,#e0ff17 46%,#c1ff36 63.5%,#bdff39 72%,#c4ff33 78.8%,#deff18 93.1%,#e6ff11 100%)"></i><i style="background:linear-gradient(90deg,#b3ff43 0%,#b8ff3f 7.9%,#dcff1a 25.4%,#e4ff13 33.9%,#dcff1a 42.3%,#b8ff3f 59.8%,#b4ff43 64.6%,#b4ff43 68.8%,#bcff3b 75.7%,#deff19 91.5%,#e4ff13 100%)"></i><i style="background:linear-gradient(90deg,#abff4c 0%,#b4ff42 6.9%,#d8ff1f 21.7%,#e0ff17 28%,#e0ff16 32.3%,#dcff1b 36.5%,#b2ff44 54.5%,#acff4b 58.7%,#aaff4d 63%,#acff4a 67.2%,#b3ff44 71.4%,#dcff1b 89.4%,#e1ff16 94.7%,#deff18 100%)"></i><i style="background:linear-gradient(90deg,#a7ff50 0%,#b1ff46 4.8%,#d3ff24 17.5%,#ddff1a 24.9%,#dcff1a 29.1%,#d7ff1f 33.3%,#abff4b 50.8%,#a2ff54 58.7%,#a4ff53 63%,#aaff4c 67.2%,#d0ff27 81.5%,#daff1c 87.3%,#ddff1a 93.7%,#d5ff22 100%)"></i><i style="background:linear-gradient(90deg,#a8ff4f 0%,#cfff28 13.8%,#daff1d 21.7%,#d9ff1d 25.4%,#d4ff23 29.6%,#a5ff52 47.1%,#9eff59 51.3%,#9bff5c 55%,#9dff5a 59.3%,#a4ff53 63.5%,#cdff2a 78.3%,#d8ff1e 84.7%,#d8ff1f 92.1%,#c8ff2e 100%)"></i><i style="background:linear-gradient(90deg,#acff4a 0%,#ceff29 11.1%,#d5ff22 15.3%,#d7ff1f 19%,#d0ff27 26.5%,#a0ff56 42.9%,#98ff5f 47.1%,#94ff62 50.8%,#96ff61 55%,#9cff5b 59.3%,#caff2d 75.1%,#d6ff21 82%,#d7ff20 85.7%,#d3ff24 89.9%,#caff2d 94.2%,#b9ff3e 100%)"></i><i style="background:linear-gradient(90deg,#b4ff43 0%,#c6ff31 5.8%,#cfff27 10.1%,#d4ff23 14.3%,#d3ff23 18%,#c7ff2f 24.9%,#96ff61 41.3%,#90ff67 45.5%,#8fff68 49.7%,#9aff5d 57.1%,#ccff2b 73.5%,#d3ff24 77.8%,#d4ff23 81.5%,#d2ff25 85.2%,#cbff2c 88.9%,#a9ff4e 100%)"></i><i style="background:linear-gradient(90deg,#bcff3b 0%,#ceff29 7.9%,#d1ff26 11.6%,#cfff28 15.3%,#c3ff34 21.7%,#93ff64 37%,#8cff6b 41.3%,#8aff6d 45.5%,#8dff6a 49.2%,#96ff61 53.4%,#c9ff2e 70.4%,#d0ff27 74.6%,#d1ff26 78.3%,#ceff29 82%,#c5ff32 86.2%,#99ff5d 100%)"></i><i style="background:linear-gradient(90deg,#c2ff34 0%,#cdff2a 6.9%,#caff2d 13.2%,#bdff3a 19%,#91ff66 32.8%,#89ff6e 37%,#86ff70 41.3%,#8aff6d 45.5%,#92ff65 49.7%,#baff3c 62.4%,#c7ff30 67.2%,#cdff2a 71.4%,#cdff2a 75.7%,#c0ff36 83.1%,#99ff5d 95.2%,#8dff6a 100%)"></i><i style="background:linear-gradient(90deg,#c7ff30 0%,#caff2c 5.3%,#c5ff32 10.6%,#b8ff3f 15.9%,#8eff68 29.1%,#86ff71 33.3%,#83ff73 37.6%,#86ff70 41.8%,#8fff68 46%,#b7ff40 58.7%,#c3ff34 63.5%,#caff2d 68.3%,#c9ff2d 72.5%,#bfff38 78.8%,#92ff65 93.1%,#85ff72 100%)"></i><i style="background:linear-gradient(90deg,#c7ff30 0%,#c6ff30 3.7%,#c0ff36 7.9%,#b4ff43 12.7%,#8cff6b 25.4%,#83ff73 29.6%,#81ff76 33.9%,#83ff73 38.1%,#8bff6b 42.3%,#b5ff42 55.6%,#c1ff36 60.3%,#c7ff30 64.6%,#c7ff30 68.8%,#b9ff3d 76.2%,#89ff6e 92.1%,#82ff75 96.3%,#81ff76 100%)"></i><i style="background:linear-gradient(90deg,#c4ff33 0%,#b6ff40 7.4%,#8aff6d 21.7%,#7fff78 28%,#7fff78 32.3%,#85ff72 37%,#91ff65 41.8%,#baff3d 54.5%,#c2ff35 58.7%,#c5ff32 63%,#c2ff35 67.2%,#baff3d 71.4%,#90ff67 84.7%,#83ff73 89.9%,#7eff79 95.2%,#81ff76 100%)"></i><i style="background:linear-gradient(90deg,#bdff3a 0%,#b0ff47 5.3%,#88ff6f 18%,#7cff7a 24.9%,#7dff7a 29.1%,#82ff74 33.3%,#8fff68 38.1%,#b7ff40 50.8%,#bfff37 55%,#c3ff34 59.3%,#c0ff37 63.5%,#b8ff3f 67.7%,#8dff6a 81.5%,#80ff77 87.3%,#7cff7b 93.7%,#85ff72 100%)"></i><i style="background:linear-gradient(90deg,#b3ff44 0%,#86ff71 14.3%,#7dff79 18.5%,#7aff7d 22.2%,#7bff7c 25.9%,#81ff76 30.2%,#b4ff42 47.1%,#bdff3a 51.3%,#c0ff36 55%,#bfff38 59.3%,#b8ff3f 63.5%,#88ff6e 78.8%,#7cff7b 85.2%,#7cff7b 92.1%,#8dff6a 100%)"></i><i style="background:linear-gradient(90deg,#a7ff50 0%,#82ff74 11.6%,#7bff7c 15.3%,#78ff7f 19%,#79ff7d 22.8%,#80ff77 27%,#b2ff45 43.4%,#bbff3c 47.6%,#beff38 51.3%,#bdff3a 55.6%,#b6ff40 59.8%,#86ff71 75.7%,#79ff7e 82.5%,#78ff7f 86.2%,#7cff7a 90.5%,#86ff71 94.7%,#96ff61 100%)"></i><i style="background:linear-gradient(90deg,#9aff5d 0%,#7dff7a 10.1%,#77ff80 14.3%,#77ff80 18.5%,#83ff74 25.4%,#b5ff42 41.8%,#bcff3b 46%,#bdff3a 50.3%,#b9ff3e 54%,#b0ff47 58.2%,#7fff77 74.1%,#78ff7f 78.3%,#76ff80 82%,#79ff7e 85.7%,#80ff77 89.4%,#a0ff56 100%)"></i><i style="background:linear-gradient(90deg,#8dff6a 0%,#78ff7f 8.5%,#75ff82 12.2%,#76ff80 15.9%,#84ff73 22.8%,#b3ff44 38.1%,#baff3d 42.3%,#bbff3b 46.6%,#b8ff3f 50.3%,#afff48 54.5%,#7dff7a 70.9%,#76ff80 75.1%,#75ff82 79.4%,#79ff7e 83.1%,#82ff75 87.3%,#aaff4d 100%)"></i><i style="background:linear-gradient(90deg,#81ff76 0%,#75ff82 6.9%,#77ff80 13.8%,#83ff73 19.6%,#b0ff47 33.9%,#b8ff3f 38.1%,#baff3c 42.3%,#b7ff40 46.6%,#afff48 50.8%,#7bff7b 67.7%,#75ff82 72%,#74ff83 76.2%,#80ff77 83.6%,#b2ff45 100%)"></i><i style="background:linear-gradient(90deg,#78ff7f 0%,#73ff84 5.8%,#77ff80 11.1%,#83ff74 16.4%,#aeff48 30.2%,#b6ff40 34.4%,#b9ff3d 38.6%,#b6ff40 42.9%,#aeff49 47.1%,#7aff7d 64.6%,#74ff83 68.8%,#73ff84 73%,#7eff79 79.9%,#a9ff4d 93.7%,#b7ff40 100%)"></i><i style="background:linear-gradient(90deg,#73ff84 0%,#72ff84 4.2%,#79ff7e 9%,#85ff72 13.8%,#adff4a 26.5%,#b5ff41 30.7%,#b8ff3e 34.9%,#b6ff41 39.2%,#aeff49 43.4%,#84ff72 56.6%,#78ff7e 61.4%,#73ff84 65.6%,#73ff84 69.8%,#7fff77 77.2%,#afff48 92.6%,#b6ff41 96.3%,#b8ff3e 100%)"></i><i style="background:linear-gradient(90deg,#71ff85 0%,#7bff7c 6.9%,#aaff4d 22.2%,#b7ff40 29.6%,#b7ff40 33.9%,#b1ff46 38.1%,#a5ff52 42.9%,#7cff7b 56.1%,#74ff83 60.3%,#71ff86 64.6%,#74ff82 68.8%,#7dff7a 73%,#a5ff52 85.7%,#b1ff46 90.5%,#b7ff40 95.2%,#b6ff41 100%)"></i><i style="background:linear-gradient(90deg,#74ff83 0%,#80ff76 5.8%,#acff4b 19.6%,#b6ff40 26.5%,#b6ff41 30.7%,#b0ff47 34.9%,#7bff7b 52.4%,#73ff83 56.6%,#70ff86 60.8%,#73ff84 65.1%,#7bff7b 69.3%,#a7ff50 83.1%,#b3ff44 88.4%,#b7ff40 94.2%,#b0ff46 100%)"></i><i style="background:linear-gradient(90deg,#7aff7d 0%,#aaff4c 15.9%,#b6ff41 23.3%,#b5ff42 27.5%,#aeff48 31.7%,#7bff7b 48.7%,#73ff84 52.9%,#70ff87 56.6%,#72ff85 60.8%,#79ff7e 65.1%,#a7ff50 79.9%,#b4ff43 86.2%,#b5ff42 93.1%,#a7ff4f 100%)"></i><i style="background:linear-gradient(90deg,#83ff74 0%,#abff4c 12.7%,#b3ff44 16.9%,#b6ff41 20.6%,#b4ff43 24.3%,#adff4a 28.6%,#7bff7c 45%,#73ff84 49.2%,#6fff87 52.9%,#71ff86 57.1%,#78ff7f 61.4%,#a7ff50 76.7%,#b4ff43 83.6%,#b6ff41 87.3%,#b2ff44 91%,#aaff4d 95.2%,#9cff5b 100%)"></i><i style="background:linear-gradient(90deg,#8dff69 0%,#acff4b 10.1%,#b3ff44 13.8%,#b5ff42 17.5%,#b3ff44 21.2%,#adff4a 24.9%,#7bff7c 41.3%,#72ff84 45.5%,#6fff88 49.2%,#70ff87 53.4%,#77ff80 57.7%,#a7ff4f 73.5%,#b4ff42 81%,#b4ff43 85.2%,#afff48 89.4%,#90ff67 100%)"></i><i style="background:linear-gradient(90deg,#99ff5e 0%,#b0ff47 9%,#b4ff43 13.2%,#b3ff44 16.9%,#a6ff51 23.8%,#76ff81 39.7%,#6fff87 43.9%,#6eff89 48.1%,#7aff7d 55.6%,#acff4b 72%,#b3ff44 76.2%,#b4ff42 79.9%,#b2ff45 83.6%,#aaff4d 87.8%,#83ff73 100%)"></i><i style="background:linear-gradient(90deg,#a3ff54 0%,#b2ff45 7.4%,#b2ff45 14.3%,#a4ff52 20.6%,#77ff80 35.4%,#6fff87 39.7%,#6dff89 43.9%,#70ff86 47.6%,#79ff7e 51.9%,#acff4b 68.8%,#b2ff44 73%,#b3ff43 77.2%,#b0ff47 81%,#a7ff50 85.2%,#79ff7e 100%)"></i><i style="background:linear-gradient(90deg,#abff4b 0%,#b3ff44 6.3%,#afff48 12.2%,#a3ff54 17.5%,#76ff80 31.7%,#6fff88 36%,#6dff8a 40.2%,#70ff87 43.9%,#78ff7f 48.1%,#acff4b 65.6%,#b2ff45 69.8%,#b3ff44 74.1%,#a8ff4f 81%,#7eff79 94.2%,#71ff86 100%)"></i><i style="background:linear-gradient(90deg,#b0ff46 0%,#b2ff45 4.8%,#acff4a 9.5%,#a1ff56 14.3%,#77ff80 27.5%,#6fff88 31.7%,#6cff8b 36%,#6fff88 40.2%,#77ff80 44.4%,#a0ff57 57.7%,#acff4b 62.4%,#b2ff45 66.7%,#b2ff45 70.9%,#a4ff52 78.3%,#77ff80 93.1%,#6cff8b 100%)"></i><i style="background:linear-gradient(90deg,#b1ff45 0%,#afff48 3.7%,#a8ff4f 7.4%,#78ff7f 23.3%,#6cff8b 30.2%,#6cff8b 34.4%,#72ff85 39.2%,#a6ff50 56.6%,#afff48 60.8%,#b1ff45 65.1%,#afff48 69.3%,#a6ff50 73.5%,#72ff85 91%,#6cff8b 95.8%,#6cff8b 100%)"></i><i style="background:linear-gradient(90deg,#aeff49 0%,#a1ff56 6.3%,#76ff81 20.1%,#6bff8c 27%,#6bff8c 31.2%,#71ff85 35.4%,#a5ff51 52.9%,#aeff49 57.1%,#b0ff46 61.4%,#aeff49 65.6%,#a6ff51 69.8%,#7bff7c 83.6%,#6eff88 88.9%,#6aff8d 94.2%,#70ff87 100%)"></i><i style="background:linear-gradient(90deg,#a6ff51 0%,#76ff81 15.9%,#6aff8d 23.3%,#6aff8c 27.5%,#70ff86 31.7%,#a5ff52 49.2%,#adff4a 53.4%,#afff47 57.1%,#adff4a 61.4%,#a6ff51 65.6%,#79ff7d 79.9%,#6cff8b 86.2%,#6bff8c 93.1%,#77ff7f 100%)"></i><i style="background:linear-gradient(90deg,#9bff5c 0%,#73ff84 12.7%,#6bff8c 16.9%,#68ff8e 20.6%,#6aff8d 24.3%,#71ff86 28.6%,#a2ff54 45%,#abff4c 49.2%,#aeff49 52.9%,#adff4a 57.1%,#a6ff51 61.4%,#77ff80 76.7%,#6aff8d 83.6%,#68ff8e 87.3%,#6cff8b 91%,#74ff83 95.2%,#82ff75 100%)"></i><i style="background:linear-gradient(90deg,#8eff69 0%,#6eff88 10.6%,#68ff8e 14.8%,#68ff8f 19%,#74ff83 26.5%,#a5ff52 42.9%,#acff4b 47.1%,#adff4a 51.3%,#a2ff55 58.7%,#70ff87 75.1%,#6aff8d 78.8%,#67ff8f 82.5%,#69ff8d 86.2%,#70ff87 89.9%,#8eff69 100%)"></i><i style="background:linear-gradient(90deg,#80ff77 0%,#72ff85 4.8%,#6aff8d 9%,#67ff90 12.7%,#68ff8f 16.4%,#75ff82 23.3%,#a3ff54 38.6%,#aaff4d 42.9%,#acff4b 47.1%,#a8ff4e 50.8%,#a0ff57 55%,#6fff88 71.4%,#68ff8f 75.7%,#66ff90 79.4%,#69ff8d 83.1%,#71ff85 87.3%,#99ff5e 100%)"></i><i style="background:linear-gradient(90deg,#73ff84 0%,#67ff90 6.9%,#68ff8f 13.8%,#74ff82 19.6%,#a1ff55 34.4%,#a9ff4e 38.6%,#abff4c 42.9%,#a8ff4f 46.6%,#a0ff57 50.8%,#6dff89 67.7%,#67ff90 72%,#66ff91 76.2%,#69ff8d 79.9%,#72ff85 84.1%,#a2ff55 100%)"></i><i style="background:linear-gradient(90deg,#69ff8d 0%,#64ff92 5.8%,#69ff8e 11.1%,#75ff81 16.4%,#9fff57 30.2%,#a7ff50 34.4%,#a9ff4d 38.6%,#a7ff50 42.3%,#9fff58 46.6%,#77ff80 59.8%,#6bff8c 64.6%,#65ff92 68.8%,#65ff92 73%,#70ff87 79.9%,#9aff5c 93.7%,#a7ff50 100%)"></i><i style="background:linear-gradient(90deg,#64ff93 0%,#64ff92 4.2%,#6aff8c 8.5%,#9dff5a 25.9%,#a5ff52 30.2%,#a8ff4f 34.4%,#a5ff51 38.6%,#9dff59 42.9%,#6bff8c 60.3%,#64ff93 65.1%,#64ff93 69.3%,#71ff86 76.7%,#9fff58 92.1%,#a6ff51 96.3%,#a8ff4f 100%)"></i><i style="background:linear-gradient(90deg,#63ff94 0%,#70ff87 7.4%,#9dff5a 22.2%,#a6ff51 28.6%,#a6ff51 32.8%,#a0ff56 37%,#95ff62 41.8%,#6eff89 54.5%,#66ff91 58.7%,#63ff94 63%,#65ff92 67.2%,#6dff8a 71.4%,#96ff61 85.2%,#a1ff55 89.9%,#a7ff50 95.2%,#a4ff53 100%)"></i><i style="background:linear-gradient(90deg,#67ff90 0%,#74ff83 5.3%,#99ff5e 17.5%,#a5ff52 24.9%,#a5ff52 29.1%,#9fff58 33.3%,#6cff8a 50.8%,#64ff92 55%,#62ff95 58.7%,#64ff93 63%,#6bff8c 67.2%,#96ff61 81.5%,#a2ff55 87.3%,#a5ff52 93.7%,#9cff5b 100%)"></i><i style="background:linear-gradient(90deg,#6fff88 0%,#98ff5e 13.8%,#a1ff56 18%,#a4ff53 21.7%,#a3ff53 25.4%,#9dff59 29.6%,#6cff8a 46.6%,#64ff93 50.8%,#61ff96 54.5%,#62ff94 58.7%,#69ff8e 63%,#96ff60 78.3%,#a3ff54 84.7%,#a4ff52 88.4%,#a2ff55 92.1%,#91ff66 100%)"></i><i style="background:linear-gradient(90deg,#79ff7e 0%,#9aff5d 11.1%,#a3ff54 18.5%,#a2ff55 22.2%,#9bff5c 26.5%,#6bff8c 42.9%,#60ff97 50.3%,#61ff96 54.5%,#67ff8f 58.7%,#97ff60 75.1%,#a2ff54 82%,#a3ff54 85.7%,#9eff58 89.9%,#95ff62 94.2%,#84ff73 100%)"></i><i style="background:linear-gradient(90deg,#85ff72 0%,#9dff59 9.5%,#a2ff55 13.8%,#a1ff55 17.5%,#96ff61 24.3%,#66ff90 40.7%,#60ff97 45%,#5fff98 49.2%,#6aff8c 56.6%,#9aff5d 73%,#a1ff56 77.2%,#a2ff55 81%,#9fff57 84.7%,#98ff5f 88.9%,#76ff80 100%)"></i><i style="background:linear-gradient(90deg,#8fff68 0%,#9fff57 7.9%,#9fff57 14.8%,#93ff63 21.2%,#67ff90 36.5%,#60ff97 40.7%,#5eff98 45%,#61ff95 48.7%,#6aff8d 52.9%,#9aff5d 69.8%,#a0ff57 74.1%,#a1ff56 77.8%,#9eff59 81.5%,#95ff61 85.7%,#6bff8c 100%)"></i><i style="background:linear-gradient(90deg,#98ff5f 0%,#a0ff57 6.3%,#9dff5a 12.2%,#91ff66 18%,#67ff90 32.3%,#60ff97 36.5%,#5dff99 40.7%,#60ff97 44.4%,#68ff8f 48.7%,#99ff5e 66.1%,#9fff58 70.4%,#a0ff57 74.6%,#95ff62 82%,#6eff88 94.7%,#62ff94 100%)"></i><i style="background:linear-gradient(90deg,#9dff5a 0%,#9fff57 4.8%,#9aff5d 10.1%,#8fff68 14.8%,#68ff8f 28%,#60ff97 32.3%,#5dff9a 36.5%,#5fff98 40.7%,#67ff90 45%,#8eff69 58.2%,#99ff5d 63%,#9fff58 67.2%,#9fff58 71.4%,#93ff64 78.8%,#67ff90 93.7%,#5dff99 100%)"></i><i style="background:linear-gradient(90deg,#9fff58 0%,#9dff5a 3.7%,#96ff60 7.9%,#68ff8e 23.8%,#5dff9a 30.7%,#5dff9a 34.9%,#63ff94 39.7%,#94ff63 57.1%,#9cff5b 61.4%,#9fff58 65.6%,#9cff5b 69.8%,#95ff62 74.1%,#63ff94 91.5%,#5dff9a 95.8%,#5cff9a 100%)"></i><i style="background:linear-gradient(90deg,#9dff5a 0%,#90ff67 6.9%,#66ff91 21.2%,#5cff9b 27.5%,#5cff9b 31.7%,#62ff95 36%,#6dff8a 40.7%,#94ff63 54%,#9cff5b 58.2%,#9eff59 61.9%,#9cff5b 66.1%,#95ff62 70.4%,#6cff8b 84.1%,#60ff97 89.4%,#5bff9b 94.7%,#5fff97 100%)"></i><i style="background:linear-gradient(90deg,#97ff60 0%,#8cff6b 4.8%,#67ff90 16.9%,#5bff9b 24.3%,#5cff9b 28.6%,#62ff95 32.8%,#93ff64 50.3%,#9bff5c 54.5%,#9eff59 58.2%,#9cff5b 62.4%,#94ff62 66.7%,#6aff8c 81%,#5eff99 86.8%,#5bff9b 93.1%,#66ff91 100%)"></i><i style="background:linear-gradient(90deg,#8fff68 0%,#66ff91 13.8%,#5eff99 18%,#5aff9c 21.7%,#5bff9b 25.4%,#62ff95 29.6%,#92ff65 46.6%,#9aff5d 50.8%,#9dff5a 54.5%,#9bff5c 58.7%,#94ff62 63%,#68ff8f 78.3%,#5cff9b 84.7%,#5aff9c 88.4%,#5dff9a 92.1%,#6eff89 100%)"></i><i style="background:linear-gradient(90deg,#84ff73 0%,#63ff94 11.1%,#5cff9b 15.3%,#5aff9d 19%,#62ff95 26.5%,#91ff66 42.9%,#99ff5e 47.1%,#9cff5b 50.8%,#9bff5c 55%,#94ff62 59.3%,#66ff90 75.1%,#5bff9c 82%,#5aff9d 85.7%,#5eff99 89.9%,#67ff90 94.2%,#78ff7f 100%)"></i><i style="background:linear-gradient(90deg,#79ff7e 0%,#5eff99 10.1%,#59ff9d 14.3%,#5aff9d 18%,#65ff92 24.9%,#94ff63 41.3%,#9bff5c 45.5%,#9cff5b 49.7%,#98ff5f 53.4%,#90ff67 57.7%,#62ff95 73.5%,#5bff9c 77.8%,#59ff9e 81.5%,#5cff9b 85.2%,#63ff94 89.4%,#82ff74 100%)"></i><i style="background:linear-gradient(90deg,#6eff89 0%,#5bff9c 8.5%,#59ff9e 12.2%,#5aff9c 15.9%,#66ff91 22.2%,#93ff64 37.6%,#9aff5d 41.8%,#9bff5c 46%,#98ff5f 49.7%,#90ff67 54%,#60ff97 70.9%,#5aff9d 75.1%,#59ff9e 78.8%,#5cff9b 82.5%,#64ff93 86.8%,#8cff6b 100%)"></i><i style="background:linear-gradient(90deg,#64ff93 0%,#59ff9e 6.9%,#5bff9c 13.2%,#66ff91 19%,#92ff65 33.9%,#99ff5e 38.1%,#9bff5c 42.3%,#98ff5f 46%,#90ff67 50.3%,#5fff98 67.7%,#59ff9e 72%,#58ff9e 76.2%,#64ff93 83.6%,#93ff64 100%)"></i><i style="background:linear-gradient(90deg,#5cff9a 0%,#57ff9f 5.8%,#5cff9b 11.1%,#67ff8f 16.4%,#90ff67 30.2%,#98ff5f 34.4%,#9aff5d 38.6%,#97ff5f 42.9%,#8fff67 47.1%,#5eff99 64.6%,#58ff9e 68.8%,#58ff9f 73%,#63ff94 79.9%,#8bff6b 93.7%,#98ff5f 100%)"></i><i style="background:linear-gradient(90deg,#58ff9f 0%,#57ff9f 4.2%,#5dff99 9%,#69ff8e 13.8%,#8fff68 26.5%,#97ff60 30.7%,#9aff5d 34.9%,#97ff5f 39.2%,#90ff67 43.4%,#69ff8e 56.6%,#5dff9a 61.4%,#58ff9f 65.6%,#58ff9f 69.8%,#64ff93 77.2%,#90ff66 92.6%,#9aff5d 100%)"></i><i style="background:linear-gradient(90deg,#57ffa0 0%,#60ff96 7.4%,#8cff6b 22.2%,#98ff5e 29.6%,#99ff5e 33.9%,#92ff64 38.6%,#61ff96 56.1%,#59ff9e 60.3%,#56ffa0 64.6%,#59ff9e 68.8%,#61ff96 73%,#88ff6f 86.2%,#93ff63 91%,#99ff5e 95.8%,#98ff5f 100%)"></i><i style="background:linear-gradient(90deg,#59ff9e 0%,#65ff91 6.3%,#8dff6a 19.6%,#98ff5f 26.5%,#98ff5f 30.7%,#92ff65 35.4%,#60ff96 52.9%,#59ff9e 57.1%,#56ffa1 60.8%,#58ff9f 65.1%,#5fff97 69.3%,#89ff6d 83.6%,#95ff62 88.9%,#99ff5e 94.2%,#93ff63 100%)"></i><i style="background:linear-gradient(90deg,#5eff99 0%,#8dff6a 16.4%,#98ff5f 23.8%,#97ff60 28%,#91ff66 32.3%,#60ff97 49.7%,#58ff9f 54%,#56ffa1 57.7%,#58ff9f 61.9%,#5fff98 66.1%,#89ff6e 80.4%,#95ff61 86.2%,#97ff5f 93.1%,#8cff6b 100%)"></i><i style="background:linear-gradient(90deg,#65ff92 0%,#8dff6a 13.2%,#95ff62 17.5%,#98ff5f 21.2%,#97ff60 24.9%,#91ff66 29.1%,#60ff96 46%,#58ff9e 50.3%,#55ffa1 54%,#57ffa0 58.2%,#5eff99 62.4%,#8aff6c 77.8%,#96ff61 84.1%,#98ff5f 87.8%,#95ff61 91.5%,#83ff74 100%)"></i><i style="background:linear-gradient(90deg,#6eff88 0%,#8fff68 11.1%,#98ff5f 18.5%,#96ff61 22.2%,#8fff68 26.5%,#61ff96 42.3%,#59ff9e 46.6%,#55ffa2 50.3%,#56ffa0 54.5%,#5dff9a 58.7%,#8cff6b 75.1%,#97ff60 82%,#97ff5f 85.7%,#93ff64 89.9%,#78ff7f 100%)"></i><i style="background:linear-gradient(90deg,#78ff7e 0%,#8aff6d 5.8%,#93ff64 10.1%,#97ff60 14.3%,#97ff60 18%,#8bff6c 24.9%,#5cff9b 41.3%,#56ffa1 45.5%,#55ffa2 49.7%,#60ff97 57.1%,#8fff68 73.5%,#96ff61 77.8%,#97ff5f 81.5%,#8eff69 88.9%,#6eff89 100%)"></i><i style="background:linear-gradient(90deg,#82ff75 0%,#95ff62 8.5%,#97ff60 12.2%,#95ff61 15.9%,#89ff6d 22.2%,#5dff9a 37.6%,#56ffa1 41.8%,#55ffa2 46%,#58ff9f 49.7%,#60ff97 54%,#90ff67 70.9%,#96ff61 75.1%,#97ff60 78.8%,#94ff63 82.5%,#8bff6b 86.8%,#64ff93 100%)"></i><i style="background:linear-gradient(90deg,#8bff6c 0%,#96ff61 6.9%,#94ff62 13.2%,#88ff6f 19.6%,#5eff99 33.9%,#56ffa0 38.1%,#54ffa2 42.3%,#57ffa0 46%,#5fff98 50.3%,#90ff67 67.7%,#96ff61 72%,#97ff60 76.2%,#8bff6c 83.6%,#5cff9b 100%)"></i><i style="background:linear-gradient(90deg,#92ff65 0%,#97ff60 5.8%,#93ff64 11.1%,#87ff70 16.4%,#5fff98 30.2%,#57ffa0 34.4%,#54ffa2 38.6%,#57ffa0 42.9%,#5fff98 47.1%,#90ff67 64.6%,#96ff61 68.8%,#96ff60 73%,#8cff6b 79.9%,#63ff93 93.7%,#57ffa0 100%)"></i><i style="background:linear-gradient(90deg,#96ff61 0%,#96ff60 4.2%,#91ff66 9%,#86ff71 13.8%,#5eff98 27%,#57ffa0 31.2%,#54ffa3 35.4%,#57ffa0 39.7%,#5fff98 43.9%,#90ff67 61.4%,#96ff61 66.1%,#96ff61 70.4%,#8aff6c 77.2%,#5eff99 92.6%,#54ffa2 100%)"></i><i style="background:linear-gradient(90deg,#97ff60 0%,#8dff69 7.4%,#61ff96 22.8%,#55ffa2 30.2%,#55ffa2 34.4%,#5bff9c 38.6%,#8cff6b 56.1%,#94ff63 60.3%,#97ff60 64.6%,#94ff62 68.8%,#8dff6a 73%,#66ff91 86.2%,#5aff9c 91%,#55ffa2 95.8%,#55ffa1 100%)"></i><i style="background:linear-gradient(90deg,#95ff62 0%,#88ff6f 6.3%,#5fff98 20.1%,#55ffa2 27%,#55ffa2 31.2%,#5bff9c 35.4%,#8cff6a 52.9%,#94ff62 57.1%,#97ff60 61.4%,#94ff62 65.6%,#8dff6a 69.8%,#64ff93 83.6%,#59ff9e 88.9%,#54ffa2 94.2%,#5aff9d 100%)"></i><i style="background:linear-gradient(90deg,#90ff67 0%,#60ff96 16.4%,#55ffa2 23.8%,#55ffa1 28%,#5bff9b 32.3%,#8dff6a 49.7%,#95ff62 54%,#98ff5f 57.7%,#95ff61 61.9%,#8eff69 66.1%,#64ff93 80.4%,#57ffa0 86.8%,#55ffa2 93.1%,#61ff96 100%)"></i><i style="background:linear-gradient(90deg,#88ff6e 0%,#60ff97 13.2%,#58ff9f 17.5%,#55ffa2 21.2%,#56ffa1 24.9%,#5cff9b 29.1%,#8dff6a 46%,#95ff62 50.3%,#98ff5f 54%,#97ff60 58.2%,#90ff67 62.4%,#62ff94 77.8%,#56ffa0 84.1%,#54ffa2 87.8%,#57ffa0 91.5%,#6aff8d 100%)"></i><i style="background:linear-gradient(90deg,#7fff78 0%,#5eff99 11.1%,#55ffa2 18.5%,#56ffa0 22.2%,#5dff9a 26.5%,#8cff6a 42.3%,#95ff62 46.6%,#99ff5e 50.3%,#98ff5f 54.5%,#91ff66 58.7%,#61ff96 75.1%,#55ffa1 82%,#55ffa2 85.7%,#5aff9d 89.9%,#63ff94 94.2%,#75ff82 100%)"></i><i style="background:linear-gradient(90deg,#75ff82 0%,#63ff94 5.8%,#59ff9d 10.1%,#55ffa2 14.3%,#56ffa1 18%,#62ff95 24.9%,#91ff65 40.7%,#99ff5e 45.5%,#9aff5d 49.7%,#8eff69 57.1%,#5dff9a 73.5%,#56ffa1 77.8%,#55ffa2 81.5%,#5eff99 88.9%,#80ff77 100%)"></i><i style="background:linear-gradient(90deg,#6aff8c 0%,#58ff9f 7.9%,#55ffa2 11.6%,#56ffa1 15.3%,#64ff93 22.2%,#93ff64 37.6%,#9aff5d 41.8%,#9bff5c 46%,#97ff5f 49.7%,#8fff68 54%,#5dff9a 70.4%,#56ffa1 74.6%,#55ffa2 78.8%,#59ff9e 82.5%,#61ff95 86.8%,#8bff6c 100%)"></i><i style="background:linear-gradient(90deg,#61ff96 0%,#55ffa1 6.9%,#58ff9f 13.2%,#64ff93 19%,#93ff64 33.9%,#9aff5d 38.1%,#9cff5b 42.3%,#99ff5e 46%,#91ff66 50.3%,#5dff9a 67.2%,#56ffa1 71.4%,#55ffa2 75.7%,#61ff96 83.1%,#94ff62 100%)"></i><i style="background:linear-gradient(90deg,#5aff9d 0%,#55ffa2 5.8%,#5aff9d 11.1%,#67ff90 16.4%,#93ff64 30.2%,#9bff5c 34.4%,#9eff59 38.6%,#9aff5d 42.9%,#91ff65 47.1%,#68ff8f 59.8%,#5cff9b 64.6%,#56ffa1 68.8%,#55ffa1 73%,#61ff96 79.9%,#8eff69 93.7%,#9bff5c 100%)"></i><i style="background:linear-gradient(90deg,#56ffa1 0%,#55ffa1 4.2%,#5cff9b 9%,#69ff8e 13.8%,#93ff64 26.5%,#9cff5b 30.7%,#9fff58 34.9%,#9cff5b 39.2%,#94ff63 43.4%,#68ff8f 56.6%,#5cff9b 61.4%,#56ffa1 65.6%,#56ffa1 69.8%,#63ff94 77.2%,#95ff62 92.6%,#9cff5b 96.3%,#9fff58 100%)"></i><i style="background:linear-gradient(90deg,#55ffa2 0%,#5fff98 6.9%,#91ff65 22.2%,#9fff57 29.6%,#a0ff57 33.9%,#98ff5e 38.6%,#8dff6a 42.9%,#61ff96 56.1%,#58ff9f 60.3%,#55ffa2 64.6%,#58ff9f 68.8%,#61ff96 73%,#8dff69 86.2%,#9aff5d 91%,#a0ff57 95.8%,#9fff58 100%)"></i><i style="background:linear-gradient(90deg,#58ff9f 0%,#67ff90 6.3%,#94ff63 19.6%,#a1ff56 26.5%,#a1ff56 30.7%,#9aff5d 35.4%,#61ff96 52.9%,#58ff9f 57.1%,#55ffa2 60.8%,#58ff9f 65.1%,#60ff97 69.3%,#8fff68 83.1%,#9cff5a 88.4%,#a2ff55 94.2%,#9bff5b 100%)"></i><i style="background:linear-gradient(90deg,#5fff98 0%,#96ff61 16.4%,#9eff58 20.1%,#a3ff54 23.8%,#a2ff55 28%,#9bff5c 32.3%,#8fff68 36.5%,#62ff94 49.2%,#59ff9e 53.4%,#55ffa2 57.7%,#58ff9f 61.9%,#61ff96 66.1%,#92ff65 80.4%,#a0ff57 86.2%,#a3ff54 89.9%,#a2ff55 93.1%,#95ff62 100%)"></i><i style="background:linear-gradient(90deg,#69ff8e 0%,#98ff5f 13.2%,#a1ff55 17.5%,#a5ff52 21.2%,#a4ff53 24.9%,#9cff5a 29.1%,#90ff67 33.3%,#63ff94 46%,#59ff9d 50.3%,#56ffa1 54%,#58ff9f 58.2%,#60ff97 62.4%,#95ff62 77.8%,#a3ff54 84.1%,#a5ff52 87.8%,#a2ff55 91.5%,#9bff5c 95.2%,#8cff6b 100%)"></i><i style="background:linear-gradient(90deg,#75ff82 0%,#9dff5a 11.1%,#a4ff53 14.8%,#a7ff4f 18.5%,#a5ff52 22.2%,#9dff5a 26.5%,#65ff91 42.3%,#5bff9c 46.6%,#57ffa0 50.3%,#58ff9f 54.5%,#60ff97 58.7%,#6cff8a 63%,#99ff5e 75.1%,#a6ff50 82%,#a7ff50 85.7%,#a1ff55 89.9%,#96ff60 94.2%,#81ff76 100%)"></i><i style="background:linear-gradient(90deg,#83ff74 0%,#98ff5e 5.8%,#a4ff53 10.1%,#a9ff4e 14.3%,#a9ff4e 18%,#9bff5c 24.9%,#6eff89 37%,#61ff96 41.3%,#59ff9e 45.5%,#58ff9f 49.7%,#5cff9a 53.4%,#65ff92 57.1%,#9fff57 73.5%,#a8ff4f 77.8%,#aaff4d 81.5%,#a6ff50 85.2%,#9fff58 88.9%,#77ff80 100%)"></i><i style="background:linear-gradient(90deg,#91ff66 0%,#a1ff56 4.8%,#a9ff4e 8.5%,#acff4b 12.2%,#aaff4d 15.9%,#9bff5c 22.2%,#63ff93 37.6%,#5bff9c 41.8%,#59ff9e 46%,#5cff9a 49.7%,#66ff90 54%,#96ff61 66.7%,#a3ff54 70.9%,#aaff4c 75.1%,#acff4b 78.8%,#a8ff4f 82.5%,#9eff59 86.8%,#6cff8a 100%)"></i><i style="background:linear-gradient(90deg,#9eff59 0%,#adff4a 6.9%,#aeff49 10.1%,#aaff4c 13.8%,#9cff5b 19.6%,#65ff92 34.4%,#5cff9b 38.6%,#5aff9d 42.9%,#5dff99 46.6%,#67ff8f 50.8%,#97ff5f 63.5%,#a5ff52 67.7%,#acff4a 72%,#aeff49 76.2%,#a9ff4e 79.9%,#a0ff57 83.6%,#64ff93 100%)"></i><i style="background:linear-gradient(90deg,#a8ff4f 0%,#b0ff47 5.8%,#abff4c 11.6%,#9cff5b 16.9%,#67ff8f 30.7%,#5eff99 34.9%,#5aff9c 39.2%,#5eff99 43.4%,#68ff8f 47.6%,#99ff5e 60.3%,#a7ff4f 65.1%,#afff48 69.3%,#afff47 73.5%,#abff4c 76.7%,#a2ff55 80.4%,#6dff89 94.2%,#5eff99 100%)"></i><i style="background:linear-gradient(90deg,#afff47 0%,#b1ff46 4.8%,#aaff4d 9.5%,#9cff5b 14.3%,#68ff8e 27.5%,#5eff98 31.7%,#5bff9c 36%,#5eff98 40.2%,#68ff8e 44.4%,#99ff5d 57.1%,#a9ff4e 61.9%,#b1ff46 66.7%,#b1ff46 70.9%,#abff4c 74.6%,#a0ff57 78.3%,#68ff8f 93.1%,#5fff98 96.8%,#5bff9c 100%)"></i><i style="background:linear-gradient(90deg,#b3ff44 0%,#b0ff47 3.7%,#a7ff4f 7.9%,#6bff8c 23.8%,#61ff96 27.5%,#5cff9b 30.7%,#5cff9b 34.9%,#64ff93 39.7%,#73ff84 44.4%,#a5ff52 57.1%,#afff48 61.4%,#b3ff44 65.6%,#afff48 69.8%,#a5ff52 74.1%,#72ff85 87.3%,#64ff93 91.5%,#5cff9a 95.8%,#5cff9b 100%)"></i><i style="background:linear-gradient(90deg,#b2ff45 0%,#a2ff55 6.9%,#68ff8e 21.7%,#5cff9b 28%,#5cff9b 32.3%,#63ff94 36.5%,#72ff84 41.3%,#a5ff52 54%,#afff48 58.2%,#b3ff43 62.4%,#b0ff47 66.7%,#a6ff51 70.9%,#70ff86 84.7%,#62ff95 89.4%,#5bff9c 94.7%,#5fff98 100%)"></i><i style="background:linear-gradient(90deg,#aeff49 0%,#9eff59 5.3%,#6bff8c 18%,#61ff96 21.7%,#5bff9b 25.4%,#5cff9b 29.6%,#64ff93 33.9%,#72ff85 38.1%,#a6ff51 51.3%,#b0ff46 55.6%,#b4ff43 59.3%,#b1ff46 63.5%,#a8ff4f 67.7%,#6fff87 82%,#5fff98 87.8%,#5bff9c 93.7%,#66ff91 100%)"></i><i style="background:linear-gradient(90deg,#a6ff50 0%,#6bff8b 14.8%,#60ff97 19%,#5bff9c 22.8%,#5cff9a 27%,#65ff92 31.2%,#73ff84 35.4%,#a6ff51 48.1%,#b1ff46 52.4%,#b5ff42 56.1%,#b2ff45 60.3%,#a9ff4e 64.6%,#6eff88 79.4%,#5eff99 85.7%,#5bff9c 89.4%,#5dff9a 92.6%,#64ff93 96.3%,#70ff87 100%)"></i><i style="background:linear-gradient(90deg,#9cff5a 0%,#69ff8e 12.7%,#5eff99 16.9%,#5aff9c 20.6%,#5cff9a 24.3%,#65ff91 28.6%,#74ff83 32.8%,#a6ff51 45%,#b1ff46 49.2%,#b5ff42 52.9%,#b3ff44 57.1%,#aaff4d 61.4%,#9bff5b 65.6%,#6dff89 76.7%,#62ff95 80.4%,#5cff9b 83.6%,#5bff9c 87.3%,#5eff98 91%,#69ff8d 95.2%,#7bff7b 100%)"></i><i style="background:linear-gradient(90deg,#91ff66 0%,#66ff90 10.6%,#5eff99 14.3%,#5aff9d 18%,#5dff9a 21.7%,#66ff91 25.9%,#a5ff51 41.8%,#b1ff46 46%,#b6ff41 49.7%,#b4ff42 54%,#acff4b 58.2%,#9dff5a 62.4%,#6bff8c 74.6%,#60ff97 78.3%,#5bff9c 81.5%,#5bff9c 85.7%,#62ff94 89.9%,#70ff87 94.2%,#88ff6f 100%)"></i><i style="background:linear-gradient(90deg,#84ff72 0%,#6cff8a 5.8%,#60ff97 10.1%,#5aff9d 14.3%,#5bff9b 18%,#61ff96 21.2%,#6cff8b 24.9%,#9dff5a 36.5%,#acff4b 40.7%,#b5ff42 45%,#b7ff40 49.2%,#b2ff45 52.9%,#a6ff50 57.1%,#74ff83 69.3%,#65ff92 73.5%,#5dff9a 77.2%,#5aff9d 81%,#5dff9a 84.7%,#67ff8f 88.9%,#95ff62 100%)"></i><i style="background:linear-gradient(90deg,#78ff7f 0%,#66ff90 4.8%,#5dff99 8.5%,#5aff9d 12.2%,#5cff9b 15.9%,#6dff8a 22.2%,#abff4b 37.6%,#b5ff42 41.8%,#b7ff3f 46%,#b3ff44 49.7%,#a8ff4f 54%,#73ff84 66.7%,#64ff93 70.9%,#5bff9b 75.1%,#5aff9d 78.8%,#5eff99 82.5%,#6aff8d 86.8%,#a1ff56 100%)"></i><i style="background:linear-gradient(90deg,#6dff8a 0%,#61ff96 3.7%,#5bff9c 6.9%,#5aff9d 10.1%,#5dff9a 13.8%,#6fff88 20.1%,#abff4c 34.4%,#b5ff42 38.6%,#b8ff3f 42.9%,#b5ff42 46.6%,#aaff4d 50.8%,#72ff85 64%,#63ff93 68.3%,#5bff9c 72.5%,#5aff9d 76.7%,#60ff97 80.4%,#6aff8d 84.1%,#acff4b 100%)"></i><i style="background:linear-gradient(90deg,#63ff93 0%,#5cff9b 3.2%,#59ff9d 6.3%,#5fff98 12.2%,#70ff87 17.5%,#aaff4d 31.2%,#b5ff42 35.4%,#b9ff3e 39.7%,#b5ff42 43.9%,#aaff4d 48.1%,#73ff84 60.8%,#63ff94 65.6%,#5bff9c 69.8%,#5aff9d 74.1%,#5fff98 77.2%,#69ff8e 81%,#a1ff55 94.2%,#b4ff43 100%)"></i><i style="background:linear-gradient(90deg,#5dff9a 0%,#59ff9e 4.8%,#61ff96 10.1%,#70ff86 14.8%,#abff4c 28.6%,#b6ff41 32.8%,#baff3d 37%,#b5ff42 41.3%,#aaff4d 45.5%,#73ff84 58.2%,#62ff95 63%,#5aff9d 67.2%,#5aff9d 71.4%,#68ff8f 77.8%,#a7ff50 92.6%,#b2ff45 96.3%,#b8ff3e 100%)"></i><i style="background:linear-gradient(90deg,#59ff9e 0%,#5aff9d 3.7%,#62ff95 7.9%,#73ff84 12.7%,#aaff4c 25.4%,#b6ff41 29.6%,#baff3d 33.9%,#b6ff40 38.1%,#abff4b 42.3%,#72ff85 55.6%,#61ff95 60.3%,#5aff9d 64.6%,#5aff9d 68.8%,#60ff97 72.5%,#6cff8b 76.2%,#9fff58 87.8%,#afff48 92.1%,#b8ff3f 96.3%,#baff3d 100%)"></i><i style="background:linear-gradient(90deg,#59ff9e 0%,#5dff9a 3.2%,#67ff8f 6.9%,#a8ff4f 21.7%,#b3ff44 25.4%,#baff3d 29.1%,#baff3d 33.3%,#b2ff45 37.6%,#a1ff56 42.3%,#67ff8f 55.6%,#5cff9b 59.8%,#58ff9e 64%,#5dff9a 68.3%,#68ff8f 72.5%,#a2ff55 85.7%,#b2ff44 90.5%,#baff3c 95.2%,#b8ff3f 100%)"></i><i style="background:linear-gradient(90deg,#5cff9b 0%,#70ff87 6.3%,#aaff4c 19.6%,#b5ff42 23.3%,#baff3c 26.5%,#baff3d 30.7%,#b2ff45 34.9%,#a1ff56 39.7%,#67ff90 52.9%,#5cff9b 57.1%,#58ff9f 60.8%,#5cff9b 65.1%,#67ff90 69.3%,#a3ff54 83.1%,#b5ff42 88.4%,#bbff3c 94.2%,#b3ff44 100%)"></i><i style="background:linear-gradient(90deg,#63ff94 0%,#72ff85 4.2%,#abff4c 16.9%,#b6ff41 20.6%,#bbff3b 24.3%,#baff3d 28.6%,#b1ff46 32.8%,#a1ff56 37%,#68ff8f 49.7%,#5cff9a 54%,#58ff9f 57.7%,#5bff9c 61.9%,#65ff92 66.1%,#75ff81 70.4%,#a6ff51 81%,#b8ff3f 86.8%,#bbff3b 89.9%,#bbff3c 93.1%,#b6ff41 96.3%,#abff4c 100%)"></i><i style="background:linear-gradient(90deg,#6cff8b 0%,#aaff4d 13.8%,#b7ff40 18%,#bcff3b 21.7%,#baff3d 25.9%,#b1ff46 30.2%,#a1ff56 34.4%,#68ff8f 47.1%,#5cff9b 51.3%,#58ff9f 55%,#5bff9c 59.3%,#65ff92 63.5%,#76ff81 67.7%,#a7ff50 78.3%,#b9ff3e 84.7%,#bcff3b 88.4%,#b9ff3e 92.1%,#b0ff47 95.8%,#a0ff57 100%)"></i><i style="background:linear-gradient(90deg,#77ff7f 0%,#acff4b 11.6%,#b8ff3f 15.9%,#bdff3a 19.6%,#bbff3c 23.3%,#b1ff46 27.5%,#a1ff56 31.7%,#69ff8d 43.9%,#5dff9a 48.1%,#58ff9f 51.9%,#5aff9d 56.1%,#64ff93 60.3%,#74ff83 64.6%,#a9ff4e 76.2%,#b5ff42 79.9%,#bbff3c 83.1%,#bcff3a 86.8%,#b6ff41 91%,#a9ff4e 95.2%,#94ff63 100%)"></i><i style="background:linear-gradient(90deg,#84ff73 0%,#a0ff57 5.8%,#b0ff46 10.1%,#baff3d 13.8%,#bdff3a 17.5%,#baff3d 21.2%,#b1ff46 24.9%,#a1ff56 29.1%,#69ff8e 41.3%,#5eff99 45%,#58ff9f 48.7%,#59ff9e 52.9%,#64ff93 57.7%,#74ff83 61.9%,#aaff4d 73.5%,#b6ff41 77.2%,#bcff3b 81%,#bcff3b 85.2%,#b4ff43 89.4%,#a4ff52 93.7%,#87ff70 100%)"></i><i style="background:linear-gradient(90deg,#91ff65 0%,#a9ff4e 5.3%,#b7ff40 9.5%,#bdff3a 13.8%,#bcff3b 17.5%,#b6ff41 20.6%,#aaff4d 24.3%,#74ff83 36%,#63ff94 40.2%,#59ff9e 44.4%,#57ffa0 48.7%,#5cff9a 52.4%,#69ff8e 56.6%,#a1ff55 68.8%,#b2ff45 73%,#bbff3b 77.2%,#bdff39 81%,#b9ff3e 84.7%,#afff48 88.4%,#9dff59 92.6%,#7aff7d 100%)"></i><i style="background:linear-gradient(90deg,#9eff59 0%,#afff47 4.2%,#baff3d 7.9%,#beff39 11.6%,#bbff3b 15.3%,#b5ff42 18.5%,#a8ff4f 22.2%,#76ff81 32.8%,#65ff92 37%,#5aff9d 41.3%,#57ffa0 45.5%,#5bff9c 49.2%,#67ff90 53.4%,#a2ff55 66.1%,#b2ff45 70.4%,#bcff3b 74.6%,#bdff39 78.8%,#b8ff3f 82.5%,#abff4c 86.8%,#6eff89 100%)"></i><i style="background:linear-gradient(90deg,#aaff4d 0%,#b6ff41 3.7%,#bcff3a 6.9%,#beff39 10.1%,#baff3d 13.8%,#a8ff4f 19.6%,#76ff81 30.2%,#64ff92 34.4%,#5aff9d 38.6%,#57ffa0 42.9%,#5bff9c 46.6%,#67ff90 50.8%,#a2ff55 63.5%,#b2ff45 67.7%,#bcff3b 72%,#beff39 76.2%,#b8ff3f 79.9%,#abff4c 84.1%,#74ff82 95.8%,#64ff93 100%)"></i><i style="background:linear-gradient(90deg,#b3ff43 0%,#bbff3c 3.2%,#beff39 6.3%,#b8ff3f 12.2%,#a6ff51 17.5%,#66ff91 31.2%,#5aff9c 35.4%,#56ffa0 39.7%,#5bff9c 43.9%,#67ff90 48.1%,#a2ff55 60.8%,#b4ff43 65.6%,#bdff3a 69.8%,#bdff39 74.1%,#b8ff3e 77.2%,#adff4a 81%,#70ff87 94.2%,#5cff9b 100%)"></i><i style="background:linear-gradient(90deg,#baff3d 0%,#beff38 4.8%,#b6ff40 10.1%,#a3ff53 15.3%,#66ff91 28.6%,#5aff9d 32.8%,#56ffa1 37%,#5bff9c 41.3%,#67ff90 45.5%,#a2ff55 58.2%,#b4ff43 63%,#bdff3a 67.2%,#beff39 71.4%,#b8ff3e 74.6%,#afff48 77.8%,#6bff8c 92.6%,#5fff98 96.3%,#57ff9f 100%)"></i><i style="background:linear-gradient(90deg,#beff39 0%,#bdff3a 4.2%,#b3ff43 8.5%,#a3ff53 12.7%,#66ff91 25.9%,#5aff9d 30.2%,#56ffa1 34.4%,#5bff9c 38.6%,#67ff90 42.9%,#a2ff55 55.6%,#b4ff43 60.3%,#beff39 65.1%,#bdff3a 69.3%,#b7ff3f 72.5%,#abff4b 76.2%,#74ff82 87.8%,#63ff93 92.1%,#59ff9e 96.3%,#56ffa1 100%)"></i><i style="background:linear-gradient(90deg,#beff39 0%,#baff3c 3.2%,#b0ff47 6.9%,#6aff8d 22.2%,#5eff99 25.9%,#57ffa0 29.6%,#57ffa0 33.9%,#60ff97 38.1%,#71ff85 42.9%,#afff48 56.1%,#bbff3c 60.3%,#bfff38 64.6%,#baff3d 68.8%,#adff49 73%,#72ff85 85.7%,#60ff97 90.5%,#57ffa0 95.2%,#58ff9f 100%)"></i><i style="background:linear-gradient(90deg,#bbff3b 0%,#a8ff4f 6.3%,#66ff91 20.6%,#5cff9a 23.8%,#57ffa0 27%,#57ffa0 31.2%,#61ff96 36%,#71ff86 40.2%,#afff48 53.4%,#bbff3c 57.7%,#beff38 61.4%,#bbff3c 65.6%,#afff47 69.8%,#9eff59 74.1%,#70ff87 83.6%,#5dff9a 88.9%,#56ffa1 94.2%,#5dff9a 100%)"></i><i style="background:linear-gradient(90deg,#b5ff41 0%,#a4ff53 4.8%,#68ff8f 17.5%,#5cff9a 21.2%,#56ffa0 24.9%,#57ff9f 29.1%,#61ff96 33.3%,#71ff86 37.6%,#aeff48 50.8%,#baff3c 55%,#beff38 58.7%,#bbff3c 63%,#b0ff47 67.2%,#9eff59 71.4%,#6eff89 81.5%,#5bff9c 87.3%,#56ffa1 90.5%,#57ffa0 93.7%,#5cff9b 96.8%,#65ff92 100%)"></i><i style="background:linear-gradient(90deg,#adff4a 0%,#68ff8f 14.8%,#5bff9c 19%,#56ffa1 22.8%,#57ffa0 26.5%,#60ff96 30.7%,#70ff86 34.9%,#aeff49 48.1%,#baff3d 52.4%,#beff38 56.1%,#bbff3c 60.3%,#b0ff47 64.6%,#9eff59 68.8%,#6eff89 78.8%,#59ff9d 85.2%,#56ffa1 88.9%,#57ff9f 92.1%,#5fff97 95.8%,#6fff88 100%)"></i><i style="background:linear-gradient(90deg,#a2ff55 0%,#66ff90 12.7%,#5aff9d 16.9%,#55ffa1 20.6%,#58ff9f 24.3%,#62ff95 28.6%,#72ff85 32.8%,#acff4b 45%,#b9ff3e 49.2%,#beff39 52.9%,#bcff3b 57.1%,#b2ff45 61.4%,#a1ff56 65.6%,#69ff8d 77.2%,#58ff9f 83.6%,#55ffa1 87.3%,#5aff9d 91%,#66ff91 95.2%,#7bff7c 100%)"></i><i style="background:linear-gradient(90deg,#96ff61 0%,#65ff92 10.6%,#59ff9e 14.8%,#55ffa2 18.5%,#58ff9f 22.2%,#61ff96 25.9%,#72ff85 30.2%,#abff4c 42.3%,#b8ff3e 46.6%,#beff39 50.3%,#bcff3b 54.5%,#b2ff45 58.7%,#a1ff56 63%,#6aff8d 74.6%,#5dff9a 78.3%,#56ffa1 82%,#56ffa1 85.7%,#5dff9a 89.9%,#6cff8b 94.2%,#87ff70 100%)"></i><i style="background:linear-gradient(90deg,#89ff6e 0%,#6dff8a 5.8%,#5eff99 10.1%,#56ffa1 14.3%,#56ffa1 18.5%,#5cff9b 21.7%,#68ff8f 25.4%,#a2ff55 37.6%,#b2ff45 41.8%,#bcff3b 46%,#bdff39 50.3%,#b8ff3f 54%,#acff4a 57.7%,#73ff84 69.8%,#62ff95 74.1%,#57ff9f 78.3%,#55ffa2 82%,#59ff9e 85.7%,#63ff94 89.4%,#74ff82 93.7%,#94ff63 100%)"></i><i style="background:linear-gradient(90deg,#7cff7b 0%,#67ff90 4.8%,#5aff9d 9%,#55ffa2 12.7%,#56ffa0 16.4%,#5dff9a 19.6%,#69ff8d 23.3%,#a1ff56 34.9%,#b2ff45 39.2%,#bcff3b 43.4%,#bdff39 47.6%,#b8ff3f 51.3%,#abff4c 55.6%,#71ff86 67.7%,#60ff96 72%,#57ffa0 76.2%,#55ffa2 79.9%,#59ff9d 83.6%,#66ff91 87.8%,#a0ff57 100%)"></i><i style="background:linear-gradient(90deg,#70ff87 0%,#60ff97 4.2%,#57ffa0 7.9%,#54ffa2 11.1%,#57ff9f 14.8%,#6bff8c 21.2%,#9eff59 31.7%,#afff48 36%,#baff3d 40.2%,#bdff39 44.4%,#b9ff3e 48.1%,#adff4a 52.4%,#71ff86 65.1%,#5fff98 69.8%,#56ffa1 74.1%,#55ffa2 77.8%,#5aff9d 81.5%,#67ff8f 85.7%,#aaff4d 100%)"></i><i style="background:linear-gradient(90deg,#65ff91 0%,#5aff9d 3.7%,#55ffa2 6.9%,#54ffa2 10.1%,#59ff9e 13.2%,#6cff8b 19%,#9dff5a 29.1%,#aeff48 33.3%,#baff3d 37.6%,#bdff3a 41.8%,#b9ff3e 45.5%,#adff4a 49.7%,#6fff88 63%,#5fff98 67.2%,#56ffa1 71.4%,#55ffa2 75.7%,#5bff9c 79.4%,#66ff90 83.1%,#a0ff57 95.2%,#b3ff44 100%)"></i><i style="background:linear-gradient(90deg,#5dff9a 0%,#54ffa3 5.8%,#5bff9c 11.6%,#6dff89 16.9%,#adff49 30.7%,#b9ff3e 34.9%,#bdff3a 39.2%,#b8ff3f 43.4%,#acff4b 47.6%,#70ff87 60.3%,#5eff99 65.1%,#55ffa2 69.3%,#55ffa2 73.5%,#5aff9d 76.7%,#66ff91 80.4%,#a6ff51 94.2%,#b9ff3e 100%)"></i><i style="background:linear-gradient(90deg,#57ffa0 0%,#54ffa3 4.8%,#5dff9a 10.1%,#6fff88 14.8%,#adff4a 28%,#b9ff3e 32.3%,#bdff3a 36.5%,#b8ff3f 40.7%,#acff4b 45%,#70ff87 57.7%,#5eff99 62.4%,#54ffa2 67.2%,#55ffa2 71.4%,#5bff9c 74.6%,#67ff90 78.3%,#adff49 93.7%,#b7ff40 96.8%,#bcff3b 100%)"></i><i style="background:linear-gradient(90deg,#53ffa3 0%,#55ffa2 3.7%,#5eff99 7.9%,#70ff87 12.7%,#acff4b 25.4%,#b8ff3f 29.6%,#bcff3a 33.9%,#b8ff3e 38.1%,#acff4b 42.3%,#6eff89 55.6%,#5cff9a 60.3%,#54ffa3 64.6%,#54ffa3 68.8%,#5bff9c 72.5%,#68ff8f 76.2%,#9fff57 87.8%,#b0ff47 92.1%,#baff3d 96.3%,#bcff3a 100%)"></i><i style="background:linear-gradient(90deg,#53ffa4 0%,#57ff9f 3.2%,#62ff95 6.9%,#a9ff4e 22.2%,#b5ff42 25.9%,#bbff3c 29.1%,#bbff3b 33.3%,#b2ff45 38.1%,#a0ff57 42.9%,#64ff93 55.6%,#57ff9f 59.8%,#53ffa4 64%,#57ffa0 68.3%,#63ff94 72.5%,#a1ff56 85.7%,#b3ff44 90.5%,#bcff3b 95.2%,#baff3d 100%)"></i><i style="background:linear-gradient(90deg,#56ffa1 0%,#69ff8e 6.3%,#aaff4d 20.1%,#b5ff41 23.8%,#bbff3c 27%,#bbff3c 31.2%,#b2ff45 35.4%,#a0ff57 40.2%,#62ff95 53.4%,#56ffa0 57.7%,#52ffa4 61.4%,#56ffa1 65.6%,#62ff95 69.8%,#73ff83 74.1%,#a2ff55 83.6%,#b5ff42 88.9%,#bcff3b 94.2%,#b4ff42 100%)"></i><i style="background:linear-gradient(90deg,#5bff9c 0%,#6fff88 5.3%,#a9ff4e 17.5%,#b5ff42 21.2%,#bbff3c 24.9%,#baff3d 29.1%,#b1ff46 33.3%,#9eff58 38.1%,#63ff94 50.8%,#56ffa0 55%,#52ffa5 58.7%,#55ffa1 63%,#61ff96 67.2%,#72ff85 71.4%,#a3ff54 81.5%,#b6ff40 87.3%,#bbff3c 90.5%,#bbff3c 93.7%,#b6ff41 96.8%,#adff4a 100%)"></i><i style="background:linear-gradient(90deg,#63ff94 0%,#aaff4d 15.3%,#b5ff42 19%,#bbff3c 22.8%,#b9ff3d 27%,#b0ff47 31.2%,#9fff58 35.4%,#63ff94 48.1%,#57ffa0 52.4%,#52ffa5 56.1%,#55ffa2 60.3%,#60ff97 64.6%,#71ff86 68.8%,#a4ff53 79.4%,#b8ff3f 85.7%,#bbff3c 89.4%,#b9ff3e 92.6%,#b0ff46 96.3%,#a3ff54 100%)"></i><i style="background:linear-gradient(90deg,#6cff8a 0%,#a8ff4e 12.7%,#b6ff41 16.9%,#bbff3c 20.6%,#b9ff3d 24.3%,#b0ff47 28.6%,#9dff59 33.3%,#64ff93 45.5%,#57ffa0 49.7%,#52ffa5 53.4%,#54ffa3 57.7%,#5fff98 61.9%,#70ff87 66.1%,#a5ff52 77.2%,#b2ff45 81%,#b9ff3e 84.1%,#bbff3c 87.8%,#b6ff41 91.5%,#acff4b 95.2%,#97ff5f 100%)"></i><i style="background:linear-gradient(90deg,#77ff7f 0%,#9aff5d 6.9%,#abff4b 11.1%,#b7ff40 15.3%,#bbff3c 19%,#b8ff3f 22.8%,#afff48 26.5%,#9eff59 30.7%,#64ff93 42.9%,#57ffa0 47.1%,#52ffa5 50.8%,#54ffa3 55%,#5eff99 59.3%,#6eff88 63.5%,#a6ff51 75.1%,#b3ff44 78.8%,#b9ff3e 82%,#baff3c 85.7%,#b4ff43 89.9%,#a6ff51 94.2%,#8bff6c 100%)"></i><i style="background:linear-gradient(90deg,#83ff74 0%,#a2ff55 6.3%,#b1ff46 10.6%,#b9ff3d 14.8%,#b9ff3d 19%,#b4ff43 22.2%,#a8ff4f 25.9%,#6eff89 38.1%,#5dff9a 42.3%,#53ffa4 46.6%,#51ffa5 50.8%,#57ffa0 54.5%,#64ff93 58.7%,#9cff5b 70.4%,#adff4a 74.6%,#b8ff3f 78.8%,#baff3c 82.5%,#b7ff40 86.2%,#adff4a 89.9%,#9bff5b 94.2%,#7fff78 100%)"></i><i style="background:linear-gradient(90deg,#8fff68 0%,#a5ff52 4.8%,#b3ff44 9%,#baff3d 13.2%,#b9ff3e 16.9%,#b3ff44 20.1%,#a6ff50 23.8%,#6fff88 35.4%,#5eff99 39.7%,#53ffa4 43.9%,#51ffa6 48.1%,#56ffa1 51.9%,#63ff94 56.1%,#9dff5a 68.3%,#aeff49 72.5%,#b8ff3f 76.7%,#baff3d 80.4%,#b6ff41 84.1%,#a9ff4d 88.4%,#72ff84 100%)"></i><i style="background:linear-gradient(90deg,#9bff5c 0%,#acff4b 4.2%,#b6ff41 7.9%,#baff3d 11.6%,#b7ff3f 15.3%,#a5ff52 21.7%,#6fff87 32.8%,#5eff99 37%,#53ffa3 41.3%,#51ffa6 45.5%,#55ffa1 49.2%,#62ff95 53.4%,#9eff59 66.1%,#aeff48 70.4%,#b8ff3f 74.6%,#baff3d 78.3%,#b5ff42 82%,#a8ff4f 86.2%,#67ff8f 100%)"></i><i style="background:linear-gradient(90deg,#a5ff52 0%,#b2ff45 3.7%,#b8ff3f 6.9%,#baff3d 10.1%,#b6ff41 13.8%,#a3ff53 19.6%,#70ff86 30.2%,#5fff98 34.4%,#54ffa3 38.6%,#50ffa6 42.9%,#55ffa2 46.6%,#61ff96 50.8%,#9dff5a 63.5%,#afff48 68.3%,#b8ff3e 72.5%,#baff3d 76.2%,#b4ff43 79.9%,#a7ff50 84.1%,#6fff88 95.8%,#5eff99 100%)"></i><i style="background:linear-gradient(90deg,#aeff49 0%,#b6ff41 3.2%,#baff3d 6.3%,#b9ff3e 9%,#b4ff43 12.2%,#a0ff57 18%,#5fff97 31.7%,#54ffa3 36%,#50ffa7 40.2%,#54ffa3 43.9%,#60ff97 48.1%,#9eff59 61.4%,#b0ff47 66.1%,#b9ff3e 70.4%,#b9ff3e 74.6%,#b3ff43 77.8%,#a8ff4f 81.5%,#69ff8e 94.7%,#57ffa0 100%)"></i><i style="background:linear-gradient(90deg,#b4ff43 0%,#baff3d 5.3%,#b2ff45 10.6%,#9eff58 15.9%,#60ff97 29.1%,#54ffa3 33.3%,#50ffa7 37.6%,#54ffa2 41.8%,#61ff96 46%,#9dff5a 58.7%,#afff48 63.5%,#b8ff3f 67.7%,#b9ff3e 72%,#b4ff43 75.1%,#a8ff4e 78.8%,#65ff91 93.1%,#59ff9e 96.8%,#52ffa5 100%)"></i><i style="background:linear-gradient(90deg,#b8ff3f 0%,#b9ff3e 4.2%,#afff47 9%,#9dff5a 13.8%,#61ff96 26.5%,#54ffa2 30.7%,#50ffa7 34.9%,#54ffa3 39.2%,#60ff97 43.4%,#9eff59 56.6%,#b0ff47 61.4%,#b8ff3e 65.6%,#b9ff3e 69.8%,#b2ff45 73.5%,#a5ff52 77.2%,#70ff87 88.4%,#5eff99 92.6%,#54ffa3 96.3%,#50ffa7 100%)"></i><i style="background:linear-gradient(90deg,#baff3d 0%,#b6ff41 3.7%,#adff4a 7.4%,#9cff5b 11.6%,#64ff93 23.3%,#57ff9f 27%,#51ffa6 30.7%,#51ffa6 34.9%,#59ff9d 39.2%,#6cff8b 43.9%,#aaff4d 57.1%,#b6ff41 61.4%,#baff3d 65.6%,#b5ff42 69.8%,#a8ff4f 74.1%,#6cff8b 86.8%,#5aff9d 91.5%,#51ffa6 95.8%,#50ffa6 100%)"></i><i style="background:linear-gradient(90deg,#b8ff3f 0%,#b2ff45 3.2%,#a6ff51 6.9%,#61ff96 21.7%,#56ffa0 24.9%,#51ffa6 28%,#50ffa6 32.3%,#5aff9d 37%,#6dff8a 41.8%,#a9ff4e 54.5%,#b5ff42 58.7%,#baff3d 63%,#b5ff42 67.2%,#a9ff4e 71.4%,#6aff8c 84.7%,#57ffa0 89.9%,#4fffa7 95.2%,#54ffa3 100%)"></i><i style="background:linear-gradient(90deg,#b4ff43 0%,#a0ff57 5.8%,#61ff95 19%,#56ffa1 22.8%,#50ffa7 25.9%,#51ffa6 30.2%,#59ff9e 34.4%,#6bff8b 39.2%,#aaff4d 52.4%,#b6ff41 56.6%,#b9ff3d 60.3%,#b6ff41 64.6%,#aaff4d 68.8%,#69ff8e 82.5%,#55ffa2 88.4%,#50ffa7 91.5%,#4fffa7 94.2%,#5aff9d 100%)"></i><i style="background:linear-gradient(90deg,#adff49 0%,#9dff5a 4.2%,#62ff94 16.4%,#56ffa1 20.1%,#50ffa7 23.8%,#51ffa6 28%,#5aff9d 32.3%,#6cff8a 37%,#a9ff4e 49.7%,#b5ff42 54%,#b9ff3d 57.7%,#b6ff41 61.9%,#abff4c 66.1%,#99ff5e 70.4%,#66ff91 81%,#53ffa3 86.8%,#4fffa7 89.9%,#50ffa6 93.1%,#56ffa1 96.3%,#62ff95 100%)"></i><i style="background:linear-gradient(90deg,#a5ff52 0%,#61ff95 14.3%,#54ffa3 18.5%,#4fffa8 22.2%,#51ffa6 25.9%,#5bff9c 30.2%,#6bff8c 34.4%,#a8ff4f 47.1%,#b5ff42 51.3%,#b9ff3d 55%,#b7ff40 59.3%,#acff4b 63.5%,#9bff5c 67.7%,#65ff92 78.8%,#52ffa5 85.2%,#4fffa8 88.4%,#52ffa5 92.1%,#5bff9b 95.8%,#6cff8b 100%)"></i><i style="background:linear-gradient(90deg,#9aff5c 0%,#60ff96 12.2%,#54ffa3 16.4%,#4fffa8 20.1%,#51ffa6 23.8%,#5bff9c 28%,#6cff8b 32.3%,#a7ff50 44.4%,#b4ff43 48.7%,#b9ff3e 52.4%,#b7ff40 56.6%,#adff4a 60.8%,#9cff5b 65.1%,#64ff93 76.7%,#57ffa0 80.4%,#51ffa6 83.6%,#4fffa8 87.3%,#54ffa2 91%,#62ff95 95.2%,#77ff7f 100%)"></i><i style="background:linear-gradient(90deg,#8fff68 0%,#6fff88 6.3%,#5dff99 10.6%,#53ffa4 14.3%,#4fffa8 18%,#51ffa5 21.7%,#5cff9b 25.9%,#6dff8a 30.2%,#a7ff4f 42.3%,#b3ff44 46%,#b9ff3e 49.7%,#b8ff3f 54%,#aeff49 58.2%,#9dff5a 62.4%,#62ff94 74.6%,#56ffa1 78.3%,#50ffa7 81.5%,#50ffa7 85.7%,#58ff9f 89.9%,#67ff90 94.2%,#83ff74 100%)"></i><i style="background:linear-gradient(90deg,#83ff74 0%,#67ff90 5.8%,#58ff9f 10.1%,#4fffa7 14.3%,#50ffa7 18.5%,#56ffa1 21.7%,#62ff94 25.4%,#9dff5a 37.6%,#aeff49 41.8%,#b8ff3f 46%,#b9ff3e 50.3%,#b3ff44 54%,#a7ff4f 57.7%,#6dff8a 69.8%,#5cff9b 74.1%,#51ffa6 78.3%,#4fffa8 82%,#53ffa4 85.7%,#5dff99 89.4%,#6fff88 93.7%,#8fff68 100%)"></i><i style="background:linear-gradient(90deg,#77ff80 0%,#61ff95 4.8%,#54ffa3 9%,#4fffa8 12.7%,#50ffa7 16.4%,#57ffa0 19.6%,#63ff94 23.3%,#9cff5b 34.9%,#adff4a 39.2%,#b7ff40 43.4%,#b9ff3e 47.6%,#b4ff43 51.3%,#a6ff50 55.6%,#6cff8b 67.7%,#5bff9c 72%,#51ffa6 76.2%,#4fffa8 79.9%,#53ffa4 83.6%,#60ff97 87.8%,#9aff5c 100%)"></i><i style="background:linear-gradient(90deg,#6cff8b 0%,#5bff9c 4.2%,#51ffa5 7.9%,#4effa8 11.6%,#51ffa6 14.8%,#59ff9e 18%,#64ff93 21.2%,#9aff5d 32.3%,#acff4b 36.5%,#b7ff40 40.7%,#b9ff3d 45%,#b5ff42 48.7%,#a8ff4f 52.9%,#6bff8c 65.6%,#5aff9d 69.8%,#50ffa6 74.1%,#4fffa8 77.8%,#54ffa3 81.5%,#61ff96 85.7%,#a5ff52 100%)"></i><i style="background:linear-gradient(90deg,#62ff95 0%,#55ffa1 3.7%,#50ffa7 6.9%,#4effa8 10.1%,#52ffa4 13.2%,#67ff90 19.6%,#99ff5e 29.6%,#aaff4c 33.9%,#b6ff41 38.1%,#b9ff3d 42.3%,#b5ff42 46%,#a9ff4e 50.3%,#6aff8d 63.5%,#59ff9d 67.7%,#50ffa7 72%,#4fffa8 76.2%,#55ffa2 79.9%,#61ff95 83.6%,#9cff5b 95.8%,#adff4a 100%)"></i><i style="background:linear-gradient(90deg,#59ff9d 0%,#51ffa5 3.2%,#4effa9 6.3%,#4fffa7 9%,#55ffa2 12.2%,#68ff8f 17.5%,#a9ff4e 31.2%,#b5ff41 35.4%,#baff3d 39.7%,#b5ff42 43.9%,#a8ff4f 48.1%,#6bff8c 60.8%,#59ff9e 65.6%,#50ffa7 69.8%,#4fffa8 74.1%,#54ffa2 77.2%,#60ff97 81%,#9fff57 94.2%,#b4ff43 100%)"></i><i style="background:linear-gradient(90deg,#53ffa4 0%,#4effa9 5.3%,#57ffa0 10.6%,#69ff8e 15.3%,#98ff5f 24.9%,#aaff4d 29.1%,#b6ff41 33.3%,#b9ff3d 37.6%,#b6ff41 41.3%,#a9ff4d 45.5%,#6aff8d 58.7%,#58ff9f 63.5%,#4fffa8 67.7%,#4fffa8 72%,#55ffa2 75.1%,#5fff98 78.3%,#a5ff52 93.1%,#b1ff45 96.8%,#b8ff3f 100%)"></i><i style="background:linear-gradient(90deg,#4fffa8 0%,#4fffa8 4.2%,#59ff9e 9%,#6cff8b 13.8%,#a9ff4e 26.5%,#b5ff42 30.7%,#baff3d 34.9%,#b5ff42 39.2%,#a9ff4e 43.4%,#6cff8b 56.1%,#59ff9e 60.8%,#4fffa8 65.6%,#4fffa8 69.8%,#56ffa0 73.5%,#63ff93 77.2%,#9aff5d 88.4%,#abff4b 92.6%,#b6ff41 96.3%,#baff3d 100%)"></i><i style="background:linear-gradient(90deg,#4effa9 0%,#51ffa5 3.7%,#5bff9c 7.4%,#6dff8a 11.6%,#a5ff51 23.3%,#b2ff45 27%,#b9ff3e 30.7%,#b8ff3f 34.9%,#afff48 39.2%,#9dff5a 43.9%,#60ff97 56.6%,#53ffa4 60.8%,#4effa9 65.1%,#52ffa5 69.3%,#5eff99 73.5%,#9dff5a 86.8%,#b0ff47 91.5%,#b8ff3e 95.8%,#b9ff3e 100%)"></i><i style="background:linear-gradient(90deg,#4fffa8 0%,#55ffa2 3.2%,#62ff95 6.9%,#a8ff4f 21.7%,#b2ff44 24.9%,#b8ff3e 28%,#b9ff3e 32.3%,#afff48 37%,#9cff5b 41.8%,#5fff98 54.5%,#52ffa5 58.7%,#4effa9 63%,#52ffa5 67.2%,#5eff98 71.4%,#9eff59 84.7%,#b2ff45 89.9%,#baff3d 95.2%,#b5ff42 100%)"></i><i style="background:linear-gradient(90deg,#53ffa4 0%,#67ff90 5.8%,#a7ff50 19%,#b3ff44 22.8%,#b9ff3e 25.9%,#b8ff3e 30.2%,#aeff49 34.9%,#9dff59 39.2%,#5eff99 52.4%,#52ffa5 56.6%,#4effa9 60.3%,#51ffa5 64.6%,#5dff9a 68.8%,#6fff88 73%,#a1ff56 83.1%,#b3ff43 88.4%,#b9ff3e 91.5%,#b9ff3d 94.2%,#afff48 100%)"></i><i style="background:linear-gradient(90deg,#59ff9e 0%,#6aff8d 4.2%,#a8ff4f 16.9%,#b3ff43 20.6%,#b9ff3e 24.3%,#b8ff3f 28.6%,#adff49 32.8%,#9dff5a 37%,#5fff98 49.7%,#52ffa4 54%,#4effa9 57.7%,#51ffa6 61.9%,#5cff9b 66.1%,#6eff89 70.4%,#a2ff55 81%,#b5ff42 86.8%,#b9ff3d 89.9%,#b9ff3e 93.1%,#b3ff44 96.3%,#a7ff50 100%)"></i><i style="background:linear-gradient(90deg,#62ff95 0%,#a6ff51 14.3%,#b4ff43 18.5%,#b9ff3d 22.2%,#b8ff3f 25.9%,#afff48 30.2%,#9cff5b 34.9%,#5eff98 47.6%,#52ffa5 51.9%,#4dffa9 55.6%,#51ffa6 59.8%,#5cff9a 64%,#6eff88 68.3%,#a3ff54 78.8%,#b6ff40 85.2%,#baff3d 88.9%,#b7ff40 92.1%,#aeff49 95.8%,#9dff5a 100%)"></i><i style="background:linear-gradient(90deg,#6cff8b 0%,#a7ff50 12.2%,#b4ff43 16.4%,#b9ff3d 20.1%,#b8ff3f 23.8%,#aeff49 28%,#9dff59 32.3%,#60ff97 45%,#52ffa4 49.2%,#4dffa9 52.9%,#50ffa7 57.1%,#5bff9c 61.4%,#6dff8a 65.6%,#a4ff53 76.7%,#b1ff46 80.4%,#b8ff3f 83.6%,#baff3d 87.3%,#b5ff42 91%,#a8ff4f 95.2%,#92ff65 100%)"></i><i style="background:linear-gradient(90deg,#77ff80 0%,#aaff4d 10.6%,#b6ff41 14.8%,#baff3d 18.5%,#b7ff40 22.2%,#acff4b 26.5%,#9aff5d 30.7%,#61ff96 42.3%,#53ffa4 46.6%,#4effa9 50.3%,#4fffa7 54.5%,#5aff9d 58.7%,#6bff8c 63%,#a4ff52 74.6%,#b1ff45 78.3%,#b9ff3e 82%,#b9ff3e 85.7%,#b2ff45 89.9%,#a2ff54 94.2%,#86ff71 100%)"></i><i style="background:linear-gradient(90deg,#83ff74 0%,#a0ff57 5.8%,#b0ff47 10.1%,#b9ff3e 14.3%,#b9ff3e 18.5%,#b2ff45 22.2%,#a5ff52 25.9%,#6bff8b 37.6%,#5aff9d 41.8%,#50ffa7 46%,#4dffa9 50.3%,#53ffa4 54%,#60ff96 58.2%,#9cff5b 70.4%,#adff4a 74.6%,#b7ff40 78.3%,#baff3d 82%,#b6ff41 85.7%,#acff4b 89.4%,#9aff5c 93.7%,#7aff7d 100%)"></i><i style="background:linear-gradient(90deg,#8fff68 0%,#a5ff52 4.8%,#b3ff44 9%,#baff3d 13.2%,#b8ff3f 16.9%,#b1ff46 20.1%,#a4ff53 23.8%,#6bff8c 35.4%,#59ff9d 39.7%,#4fffa8 43.9%,#4dffa9 48.1%,#53ffa4 51.9%,#5fff98 55.6%,#9dff5a 68.3%,#aeff49 72.5%,#b8ff3f 76.7%,#baff3d 80.4%,#b5ff42 84.1%,#a7ff4f 88.4%,#6eff88 100%)"></i><i style="background:linear-gradient(90deg,#9aff5d 0%,#acff4b 4.2%,#b6ff41 7.9%,#baff3d 11.6%,#b7ff40 15.3%,#afff48 18.5%,#a3ff54 21.7%,#6cff8b 32.8%,#5aff9c 37%,#50ffa7 41.3%,#4dffaa 45.5%,#52ffa4 49.2%,#60ff97 53.4%,#9bff5b 65.6%,#aeff48 70.4%,#b8ff3f 74.6%,#baff3d 78.3%,#b4ff43 82%,#a7ff50 86.2%,#64ff93 100%)"></i><i style="background:linear-gradient(90deg,#a5ff52 0%,#b2ff45 3.7%,#b8ff3f 6.9%,#baff3d 10.1%,#b5ff41 13.8%,#a2ff54 19.6%,#6eff89 30.2%,#5cff9b 34.4%,#50ffa7 38.6%,#4dffaa 42.9%,#52ffa5 46.6%,#5eff98 50.8%,#9cff5b 63.5%,#adff49 67.7%,#b8ff3f 72%,#b9ff3d 76.2%,#b4ff43 79.9%,#a6ff51 84.1%,#6cff8a 95.8%,#5bff9c 100%)"></i><i style="background:linear-gradient(90deg,#adff49 0%,#b6ff41 3.2%,#baff3d 6.3%,#b9ff3e 9%,#b4ff43 12.2%,#9fff58 18%,#6fff88 27.5%,#5dff9a 31.7%,#51ffa6 36%,#4dffaa 40.2%,#51ffa6 43.9%,#5dff9a 48.1%,#70ff87 52.4%,#9dff5a 61.4%,#b0ff47 66.1%,#b9ff3e 70.4%,#b9ff3e 74.6%,#b3ff44 77.8%,#a7ff50 81.5%,#67ff90 94.7%,#54ffa3 100%)"></i><i style="background:linear-gradient(90deg,#b4ff43 0%,#baff3d 5.3%,#b2ff45 10.6%,#9eff59 15.9%,#5eff99 29.1%,#51ffa6 33.3%,#4dffaa 37.6%,#51ffa6 41.8%,#5eff99 46%,#9cff5b 58.7%,#afff48 63.5%,#b9ff3e 68.3%,#b9ff3e 72.5%,#b3ff44 75.7%,#a8ff4e 78.8%,#63ff94 93.1%,#56ffa1 96.8%,#4fffa8 100%)"></i><i style="background:linear-gradient(90deg,#b8ff3e 0%,#b9ff3d 4.2%,#b0ff47 9%,#9dff5a 13.8%,#6fff87 22.8%,#5dff9a 27%,#51ffa6 31.2%,#4dffaa 35.4%,#52ffa5 39.7%,#5fff98 43.9%,#9dff5a 56.6%,#b0ff47 61.4%,#b9ff3e 65.6%,#b9ff3e 69.8%,#b2ff45 73.5%,#a5ff51 77.2%,#6cff8b 88.9%,#5cff9b 92.6%,#51ffa6 96.3%,#4dffaa 100%)"></i><i style="background:linear-gradient(90deg,#baff3d 0%,#b7ff40 3.7%,#acff4b 7.9%,#9aff5d 12.2%,#62ff95 23.3%,#55ffa2 27%,#4effa9 30.7%,#4effa9 34.9%,#58ff9f 39.7%,#69ff8e 43.9%,#a9ff4e 57.1%,#b6ff41 61.4%,#baff3d 65.6%,#b6ff41 69.8%,#a9ff4e 74.1%,#6bff8c 86.8%,#58ff9f 91.5%,#4effa9 95.8%,#4dffa9 100%)"></i><i style="background:linear-gradient(90deg,#b9ff3e 0%,#b2ff45 3.7%,#a5ff52 7.4%,#5dff9a 22.2%,#53ffa4 25.4%,#4dffa9 28.6%,#4effa9 32.8%,#57ffa0 37%,#6aff8d 41.8%,#a8ff4f 54.5%,#b5ff42 58.7%,#baff3d 63%,#b6ff41 67.2%,#aaff4d 71.4%,#67ff90 85.2%,#55ffa2 89.9%,#4dffaa 95.2%,#51ffa6 100%)"></i><i style="background:linear-gradient(90deg,#b5ff42 0%,#a1ff56 5.8%,#5eff99 19.6%,#52ffa4 23.3%,#4dffaa 26.5%,#4effa9 30.7%,#58ff9f 34.9%,#6bff8c 39.7%,#a9ff4e 52.4%,#b6ff41 56.6%,#baff3d 60.3%,#b7ff40 64.6%,#abff4c 68.8%,#99ff5e 73%,#66ff91 83.1%,#53ffa4 88.4%,#4dffa9 91.5%,#4cffaa 94.2%,#57ffa0 100%)"></i><i style="background:linear-gradient(90deg,#afff48 0%,#9eff59 4.2%,#5fff98 16.9%,#53ffa4 20.6%,#4dffaa 24.3%,#4effa9 28.6%,#58ff9e 32.8%,#69ff8d 37%,#a8ff4f 49.7%,#b5ff42 54%,#baff3c 58.2%,#b6ff40 62.4%,#aaff4d 66.7%,#65ff92 81%,#51ffa6 86.8%,#4dffaa 89.9%,#4dffa9 93.1%,#53ffa4 96.3%,#5fff98 100%)"></i><i style="background:linear-gradient(90deg,#a6ff51 0%,#60ff97 14.3%,#52ffa5 18.5%,#4dffaa 22.2%,#4effa9 25.9%,#57ff9f 30.2%,#6bff8c 34.9%,#a9ff4e 47.6%,#b6ff41 51.9%,#baff3c 55.6%,#b7ff40 59.8%,#abff4c 64%,#99ff5e 68.3%,#63ff93 78.8%,#57ff9f 82%,#4fffa7 85.2%,#4cffab 88.9%,#4fffa8 92.1%,#58ff9f 95.8%,#69ff8d 100%)"></i><i style="background:linear-gradient(90deg,#9bff5c 0%,#5fff98 12.2%,#51ffa5 16.4%,#4cffaa 20.1%,#4effa9 23.8%,#58ff9f 28%,#69ff8d 32.3%,#a8ff4f 45%,#b5ff41 49.2%,#baff3c 52.9%,#b7ff3f 57.1%,#acff4b 61.4%,#9aff5d 65.6%,#62ff94 76.7%,#55ffa2 80.4%,#4effa9 83.6%,#4cffaa 87.3%,#51ffa5 91%,#5fff98 95.2%,#75ff82 100%)"></i><i style="background:linear-gradient(90deg,#8fff67 0%,#6eff89 6.3%,#5cff9b 10.6%,#50ffa7 14.8%,#4cffab 18.5%,#4fffa7 22.2%,#59ff9e 25.9%,#6bff8c 30.2%,#a7ff50 42.3%,#b5ff42 46.6%,#baff3d 50.3%,#b8ff3f 54.5%,#adff4a 58.7%,#9bff5b 63%,#61ff96 74.6%,#54ffa3 78.3%,#4dffaa 82%,#4dffaa 85.7%,#55ffa2 89.9%,#64ff92 94.2%,#81ff75 100%)"></i><i style="background:linear-gradient(90deg,#83ff74 0%,#65ff91 5.8%,#55ffa1 10.1%,#4dffaa 14.3%,#4dffa9 18.5%,#53ffa3 21.7%,#60ff97 25.4%,#9dff5a 37.6%,#aeff49 41.8%,#b9ff3e 46%,#baff3d 50.3%,#b4ff43 54%,#a8ff4f 57.7%,#6cff8b 69.8%,#5aff9d 74.1%,#4fffa8 78.3%,#4cffab 82%,#50ffa7 85.7%,#5bff9c 89.4%,#6dff8a 93.7%,#8eff69 100%)"></i><i style="background:linear-gradient(90deg,#76ff81 0%,#60ff97 4.8%,#52ffa5 9%,#4cffab 13.2%,#4effa8 16.9%,#56ffa1 20.1%,#63ff93 23.8%,#9cff5b 34.9%,#adff49 39.2%,#b8ff3f 43.4%,#baff3c 47.6%,#b5ff42 51.3%,#a7ff50 55.6%,#6aff8c 67.7%,#59ff9e 72%,#4effa9 76.2%,#4cffab 79.9%,#51ffa6 83.6%,#5eff99 87.8%,#9aff5d 100%)"></i><i style="background:linear-gradient(90deg,#6aff8d 0%,#59ff9e 4.2%,#4fffa8 7.9%,#4cffab 11.6%,#4fffa8 14.8%,#56ffa0 18%,#62ff94 21.2%,#9aff5c 32.3%,#adff4a 36.5%,#b8ff3f 40.7%,#bbff3c 45%,#b6ff41 48.7%,#a8ff4f 52.9%,#69ff8e 65.6%,#58ff9f 69.8%,#4effa9 74.1%,#4cffab 77.8%,#51ffa5 81.5%,#5fff98 85.7%,#a5ff52 100%)"></i><i style="background:linear-gradient(90deg,#5fff97 0%,#53ffa4 3.7%,#4dffaa 6.9%,#4cffab 10.1%,#50ffa7 13.2%,#63ff93 19%,#99ff5d 29.6%,#acff4b 33.9%,#b8ff3f 38.1%,#bbff3c 42.3%,#b6ff41 46%,#a9ff4e 50.3%,#6aff8d 63%,#57ffa0 67.7%,#4dffaa 72%,#4dffaa 76.2%,#53ffa4 79.9%,#60ff97 83.6%,#9dff5a 95.8%,#aeff48 100%)"></i><i style="background:linear-gradient(90deg,#57ffa0 0%,#4fffa8 3.2%,#4cffab 5.8%,#4cffaa 8.5%,#52ffa5 11.6%,#67ff90 17.5%,#98ff5f 27%,#abff4c 31.2%,#b7ff40 35.4%,#bbff3c 39.7%,#b7ff40 43.4%,#aaff4d 47.6%,#97ff5f 51.9%,#69ff8e 60.8%,#58ff9f 65.1%,#4dffaa 69.8%,#4dffaa 74.1%,#53ffa4 77.2%,#5fff98 81%,#a1ff56 94.2%,#b5ff41 100%)"></i><i style="background:linear-gradient(90deg,#50ffa7 0%,#4cffab 4.8%,#54ffa3 10.1%,#68ff8e 15.3%,#aaff4d 28.6%,#b7ff40 32.8%,#bbff3c 37%,#b6ff41 41.3%,#a9ff4e 45.5%,#6aff8d 58.2%,#57ffa0 63%,#4dffaa 67.2%,#4cffaa 71.4%,#52ffa5 74.6%,#5cff9b 77.8%,#a7ff50 93.1%,#b3ff43 96.8%,#baff3d 100%)"></i><i style="background:linear-gradient(90deg,#4cffaa 0%,#4dffaa 4.2%,#56ffa0 8.5%,#6aff8d 13.2%,#a9ff4e 25.9%,#b6ff41 30.2%,#bbff3c 34.4%,#b7ff40 38.6%,#aaff4d 42.9%,#68ff8e 56.1%,#56ffa1 60.8%,#4dffaa 65.1%,#4dffaa 69.3%,#54ffa3 73%,#61ff96 76.7%,#9aff5d 87.8%,#acff4b 92.1%,#b8ff3f 96.3%,#bbff3c 100%)"></i><i style="background:linear-gradient(90deg,#4bffab 0%,#50ffa7 3.7%,#5bff9c 7.4%,#6bff8c 11.1%,#a6ff51 22.8%,#b3ff44 26.5%,#baff3d 30.2%,#baff3d 34.4%,#b1ff46 38.6%,#9eff59 43.4%,#6fff88 52.4%,#5cff9b 56.6%,#4fffa7 60.8%,#4bffab 64.6%,#4fffa7 68.8%,#5cff9b 73%,#6fff88 77.2%,#9dff59 86.2%,#b1ff46 91%,#baff3c 95.8%,#baff3d 100%)"></i><i style="background:linear-gradient(90deg,#4effa9 0%,#55ffa2 3.2%,#62ff94 6.9%,#a9ff4e 21.2%,#b4ff43 24.3%,#baff3d 27.5%,#baff3d 31.7%,#b0ff47 36.5%,#9cff5b 41.3%,#5dff9a 54%,#50ffa7 58.2%,#4bffab 62.4%,#50ffa7 66.7%,#5dff9a 70.9%,#9fff58 84.1%,#b3ff44 89.4%,#bbff3c 94.7%,#b5ff42 100%)"></i><i style="background:linear-gradient(90deg,#52ffa4 0%,#66ff91 5.3%,#a8ff4e 18.5%,#b5ff42 22.2%,#baff3c 25.4%,#baff3d 29.6%,#b1ff46 33.9%,#9dff59 38.6%,#5eff99 51.3%,#50ffa6 55.6%,#4bffac 59.8%,#4fffa7 64%,#5cff9b 68.3%,#6fff88 72.5%,#a0ff57 82%,#b5ff42 87.8%,#bbff3c 91%,#bbff3c 93.7%,#b7ff40 96.8%,#aeff49 100%)"></i><i style="background:linear-gradient(90deg,#5aff9d 0%,#6cff8a 4.2%,#a7ff4f 15.9%,#b4ff43 19.6%,#bbff3c 23.3%,#baff3d 27.5%,#b0ff47 31.7%,#9cff5b 36.5%,#5dff9a 49.2%,#50ffa7 53.4%,#4bffac 57.1%,#4fffa8 61.4%,#5bff9c 65.6%,#6dff89 69.8%,#a1ff55 79.9%,#b7ff40 86.2%,#bbff3b 89.9%,#b9ff3d 93.1%,#b2ff44 96.3%,#a5ff52 100%)"></i><i style="background:linear-gradient(90deg,#64ff93 0%,#a8ff4e 13.8%,#b6ff41 18%,#bbff3c 21.7%,#b9ff3d 25.4%,#afff48 29.6%,#9eff59 33.9%,#5eff99 46.6%,#50ffa7 50.8%,#4bffab 54.5%,#4effa9 58.7%,#5aff9d 63%,#6cff8b 67.2%,#a5ff52 78.3%,#b1ff46 81.5%,#b9ff3e 84.7%,#bbff3b 88.4%,#b7ff40 92.1%,#acff4a 95.8%,#9aff5d 100%)"></i><i style="background:linear-gradient(90deg,#6fff88 0%,#a9ff4d 11.6%,#b7ff40 15.9%,#bbff3b 19.6%,#b9ff3e 23.3%,#aeff49 27.5%,#9cff5a 31.7%,#5fff98 43.9%,#51ffa6 48.1%,#4bffab 51.9%,#4effa9 56.1%,#59ff9e 60.3%,#6bff8c 64.6%,#a6ff51 76.2%,#b3ff44 79.9%,#baff3d 83.1%,#bbff3c 86.8%,#b4ff43 91%,#a5ff52 95.2%,#8eff69 100%)"></i><i style="background:linear-gradient(90deg,#7bff7c 0%,#9dff5a 6.3%,#aeff48 10.6%,#b8ff3f 14.3%,#bbff3b 18%,#b8ff3f 21.7%,#adff49 25.4%,#9bff5c 29.6%,#5eff99 41.8%,#51ffa5 45.5%,#4bffab 49.2%,#4dffaa 53.4%,#58ff9f 57.7%,#69ff8d 61.9%,#a7ff50 74.1%,#b4ff43 77.8%,#baff3d 81%,#baff3c 85.2%,#b2ff45 89.4%,#a1ff55 93.7%,#81ff76 100%)"></i><i style="background:linear-gradient(90deg,#88ff6f 0%,#a5ff52 5.8%,#b4ff43 10.1%,#bbff3c 14.3%,#baff3d 18%,#b3ff43 21.2%,#a6ff51 24.9%,#6bff8c 36.5%,#59ff9e 40.7%,#4effa9 45%,#4bffac 49.2%,#51ffa6 52.9%,#5fff98 57.1%,#9cff5a 69.3%,#aeff49 73.5%,#b9ff3e 77.8%,#bbff3b 81.5%,#b7ff40 85.2%,#acff4b 88.9%,#99ff5e 93.1%,#74ff83 100%)"></i><i style="background:linear-gradient(90deg,#94ff62 0%,#aaff4c 4.8%,#b6ff41 8.5%,#bcff3b 12.7%,#b9ff3e 16.4%,#b1ff46 19.6%,#a5ff52 22.8%,#6cff8b 33.9%,#5aff9d 38.1%,#4effa9 42.3%,#4bffac 46.6%,#50ffa7 50.3%,#5dff99 54.5%,#9eff59 67.2%,#afff48 71.4%,#b9ff3d 75.7%,#bbff3b 79.4%,#b6ff41 83.1%,#a9ff4e 87.3%,#68ff8e 100%)"></i><i style="background:linear-gradient(90deg,#a0ff57 0%,#b1ff46 4.2%,#baff3d 7.9%,#bcff3b 11.1%,#b7ff3f 14.8%,#afff48 18%,#a2ff55 21.2%,#6eff89 31.2%,#5bff9c 35.4%,#4fffa8 39.7%,#4bffac 43.9%,#4fffa7 47.6%,#5cff9b 51.9%,#9fff58 65.1%,#b0ff47 69.3%,#baff3d 73.5%,#bbff3c 77.2%,#b6ff41 81%,#a8ff4f 85.2%,#5eff99 100%)"></i><i style="background:linear-gradient(90deg,#aaff4d 0%,#b5ff42 3.2%,#baff3c 6.3%,#bbff3b 9.5%,#b7ff40 12.7%,#a3ff54 18.5%,#6dff8a 29.1%,#5aff9d 33.3%,#4effa9 37.6%,#4bffac 41.8%,#50ffa7 45.5%,#5dff9a 49.7%,#9dff5a 62.4%,#b1ff46 67.2%,#baff3d 71.4%,#bbff3c 75.7%,#b4ff43 79.4%,#a7ff50 83.1%,#69ff8e 95.2%,#56ffa1 100%)"></i><i style="background:linear-gradient(90deg,#b2ff45 0%,#b9ff3d 3.2%,#bcff3b 5.8%,#baff3d 8.5%,#b4ff43 11.6%,#a0ff57 16.9%,#6eff89 26.5%,#5bff9c 30.7%,#4fffa8 34.9%,#4bffac 39.2%,#4fffa8 42.9%,#5cff9b 47.1%,#6fff88 51.3%,#9eff59 60.3%,#b0ff47 64.6%,#baff3c 69.3%,#bbff3c 73.5%,#b5ff42 76.7%,#a8ff4f 80.4%,#65ff91 93.7%,#4fffa7 100%)"></i><i style="background:linear-gradient(90deg,#b8ff3f 0%,#bbff3b 4.8%,#b2ff45 10.1%,#9fff58 14.8%,#5cff9a 28%,#4fffa7 32.3%,#4bffac 36.5%,#50ffa7 40.7%,#5dff9a 45%,#9dff5a 57.7%,#b0ff47 62.4%,#bbff3c 67.2%,#baff3c 71.4%,#b3ff44 75.1%,#a5ff52 78.8%,#5cff9b 93.7%,#51ffa5 96.8%,#4cffab 100%)"></i><i style="background:linear-gradient(90deg,#bbff3c 0%,#baff3d 4.2%,#afff47 8.5%,#9eff59 12.7%,#6fff88 21.7%,#5cff9b 25.9%,#4fffa8 30.2%,#4bffac 34.4%,#50ffa7 38.6%,#5dff99 42.9%,#9dff59 55.6%,#b1ff46 60.3%,#baff3d 64.6%,#bbff3c 68.8%,#b4ff43 72.5%,#a6ff50 76.2%,#6bff8c 87.8%,#59ff9e 92.1%,#4effa9 96.3%,#4bffac 100%)"></i><i style="background:linear-gradient(90deg,#bbff3b 0%,#b6ff40 3.7%,#abff4c 7.4%,#62ff95 22.2%,#54ffa3 25.9%,#4cffab 29.6%,#4cffab 33.9%,#56ffa1 38.6%,#6aff8d 43.4%,#aaff4d 56.1%,#b7ff40 60.3%,#bcff3b 64.6%,#b7ff40 68.8%,#aaff4d 73%,#68ff8f 86.2%,#55ffa2 91%,#4bffab 95.8%,#4dffaa 100%)"></i><i style="background:linear-gradient(90deg,#b9ff3e 0%,#b2ff45 3.2%,#a4ff53 6.9%,#5dff9a 21.2%,#52ffa5 24.3%,#4cffab 27.5%,#4cffab 31.7%,#57ffa0 36.5%,#68ff8f 40.7%,#97ff60 49.7%,#aaff4c 54%,#b7ff40 58.2%,#bcff3b 61.9%,#b8ff3f 66.1%,#abff4b 70.4%,#99ff5e 74.6%,#67ff90 84.1%,#53ffa4 89.4%,#4bffac 94.7%,#51ffa5 100%)"></i><i style="background:linear-gradient(90deg,#b4ff43 0%,#a1ff56 5.3%,#5eff99 18.5%,#52ffa5 22.2%,#4cffab 25.4%,#4cffaa 29.6%,#56ffa1 33.9%,#69ff8e 38.6%,#a9ff4e 51.3%,#b6ff40 55.6%,#bcff3b 59.8%,#b7ff3f 64%,#abff4c 68.3%,#98ff5f 72.5%,#66ff91 82%,#51ffa6 87.8%,#4cffab 91%,#4bffac 93.7%,#4fffa8 96.8%,#58ff9f 100%)"></i><i style="background:linear-gradient(90deg,#adff4a 0%,#9bff5c 4.2%,#60ff97 15.9%,#51ffa6 20.1%,#4bffab 23.8%,#4dffaa 28%,#58ff9f 32.3%,#6aff8d 36.5%,#a9ff4d 49.2%,#b7ff40 53.4%,#bbff3b 57.1%,#b8ff3f 61.4%,#acff4b 65.6%,#9aff5d 69.8%,#63ff94 80.4%,#50ffa7 86.2%,#4bffac 89.9%,#4dffaa 93.1%,#54ffa3 96.3%,#61ff96 100%)"></i><i style="background:linear-gradient(90deg,#a4ff53 0%,#5fff98 13.8%,#51ffa6 18%,#4bffab 21.7%,#4dffa9 25.9%,#58ff9e 30.2%,#6aff8c 34.4%,#a8ff4f 46.6%,#b6ff41 50.8%,#bbff3c 54.5%,#b9ff3e 58.7%,#aeff49 63%,#9cff5b 67.2%,#63ff94 78.3%,#56ffa0 81.5%,#4effa9 84.7%,#4bffac 88.4%,#4fffa8 92.1%,#59ff9e 95.8%,#6bff8b 100%)"></i><i style="background:linear-gradient(90deg,#99ff5d 0%,#5cff9a 12.2%,#4fffa7 16.4%,#4bffac 20.1%,#4effa9 23.8%,#59ff9e 28%,#6bff8c 32.3%,#a8ff4e 44.4%,#b6ff41 48.7%,#bbff3c 52.4%,#b9ff3e 56.6%,#adff4a 60.8%,#9bff5c 65.1%,#62ff95 76.2%,#54ffa3 79.9%,#4dffaa 83.1%,#4bffac 86.8%,#51ffa5 91%,#60ff97 95.2%,#77ff80 100%)"></i><i style="background:linear-gradient(90deg,#8eff69 0%,#6cff8a 6.3%,#5aff9d 10.6%,#4fffa8 14.3%,#4bffac 18%,#4effa9 21.7%,#59ff9d 25.9%,#6cff8b 30.2%,#a7ff50 41.8%,#b5ff42 46%,#bbff3c 49.7%,#b9ff3e 54%,#afff48 58.2%,#9dff5a 62.4%,#5fff98 74.6%,#52ffa4 78.3%,#4cffaa 81.5%,#4cffab 85.7%,#55ffa2 89.9%,#65ff92 94.2%,#83ff74 100%)"></i><i style="background:linear-gradient(90deg,#82ff75 0%,#64ff92 5.8%,#54ffa3 10.1%,#4cffab 14.3%,#4dffaa 18.5%,#53ffa4 21.7%,#60ff97 25.4%,#9bff5c 37%,#adff49 41.3%,#b9ff3d 46%,#bbff3c 50.3%,#b5ff42 54%,#a8ff4f 57.7%,#6bff8c 69.8%,#59ff9e 74.1%,#4fffa8 77.8%,#4bffac 81.5%,#4fffa8 85.2%,#5bff9c 89.4%,#6dff89 93.7%,#8fff68 100%)"></i><i style="background:linear-gradient(90deg,#76ff81 0%,#5fff98 4.8%,#51ffa6 9%,#4bffac 13.2%,#4dffa9 16.9%,#55ffa2 20.1%,#63ff94 23.8%,#9cff5b 34.9%,#aeff49 39.2%,#b9ff3e 43.4%,#bbff3c 47.6%,#b6ff41 51.3%,#a8ff4f 55.6%,#6aff8d 67.7%,#58ff9f 72%,#4dffa9 76.2%,#4bffac 79.9%,#50ffa7 83.6%,#5dff9a 87.8%,#9aff5c 100%)"></i><i style="background:linear-gradient(90deg,#6bff8c 0%,#59ff9e 4.2%,#4fffa8 7.9%,#4bffac 11.6%,#4fffa8 15.3%,#57ffa0 18.5%,#63ff93 21.7%,#9aff5d 32.3%,#acff4b 36.5%,#b8ff3f 40.7%,#bbff3c 45%,#b7ff40 48.7%,#a9ff4d 52.9%,#6aff8d 65.6%,#58ff9f 69.8%,#4dffa9 74.1%,#4cffab 78.3%,#51ffa5 82%,#60ff97 86.2%,#a5ff52 100%)"></i><i style="background:linear-gradient(90deg,#61ff96 0%,#53ffa3 3.7%,#4dffaa 6.9%,#4bffac 10.1%,#50ffa7 13.8%,#64ff93 19.6%,#9aff5d 30.2%,#adff4a 34.4%,#b8ff3f 38.6%,#bbff3c 42.9%,#b6ff41 46.6%,#a9ff4e 50.8%,#69ff8e 63.5%,#58ff9f 67.7%,#4dffaa 72%,#4cffab 76.2%,#52ffa5 79.9%,#5eff99 83.6%,#9bff5b 95.8%,#adff49 100%)"></i><i style="background:linear-gradient(90deg,#58ff9f 0%,#4fffa7 3.2%,#4bffab 6.3%,#4cffab 9%,#51ffa5 12.2%,#67ff90 18%,#98ff5f 27.5%,#abff4c 31.7%,#b7ff3f 36%,#bbff3c 40.2%,#b7ff40 43.9%,#abff4c 48.1%,#98ff5f 52.4%,#69ff8e 61.4%,#56ffa1 66.1%,#4cffaa 70.4%,#4cffab 74.6%,#52ffa5 77.8%,#5eff98 81.5%,#a1ff56 94.7%,#b4ff43 100%)"></i><i style="background:linear-gradient(90deg,#51ffa5 0%,#4bffac 5.3%,#53ffa4 10.6%,#67ff90 15.9%,#98ff5e 25.4%,#abff4c 29.6%,#b8ff3f 33.9%,#bbff3c 37.6%,#b7ff40 41.8%,#aaff4d 46%,#68ff8f 59.3%,#55ffa2 64%,#4cffaa 68.3%,#4cffaa 72.5%,#52ffa5 75.7%,#5dff9a 78.8%,#a4ff53 93.1%,#b1ff45 96.8%,#b9ff3e 100%)"></i><i style="background:linear-gradient(90deg,#4dffaa 0%,#4cffab 4.2%,#55ffa2 9%,#67ff8f 13.8%,#aaff4d 27%,#b7ff40 31.2%,#bbff3c 35.4%,#b7ff40 39.7%,#aaff4d 43.9%,#68ff8f 57.1%,#57ffa0 61.4%,#4cffab 66.1%,#4cffaa 70.4%,#54ffa3 74.1%,#61ff95 77.8%,#9aff5d 88.9%,#acff4a 93.1%,#b7ff40 96.8%,#bbff3c 100%)"></i><i style="background:linear-gradient(90deg,#4bffac 0%,#4effa9 3.7%,#59ff9e 7.9%,#6aff8c 12.2%,#a6ff51 23.8%,#b3ff44 27.5%,#baff3d 31.2%,#baff3d 35.4%,#b1ff46 39.7%,#9eff59 44.4%,#6fff88 53.4%,#5cff9b 57.7%,#4fffa7 61.9%,#4bffac 66.1%,#50ffa7 70.4%,#5dff99 74.6%,#9dff5a 87.3%,#b0ff46 92.1%,#baff3d 96.3%,#bbff3c 100%)"></i><i style="background:linear-gradient(90deg,#4cffab 0%,#51ffa6 3.2%,#5bff9c 6.3%,#6bff8c 10.1%,#a6ff51 21.7%,#b3ff44 25.4%,#baff3d 29.1%,#baff3d 33.3%,#b1ff46 37.6%,#9eff59 42.3%,#6fff88 51.3%,#5cff9b 55.6%,#4fffa8 59.8%,#4bffac 63.5%,#4fffa8 67.7%,#5cff9b 72%,#6fff88 76.2%,#a0ff57 85.7%,#b2ff45 90.5%,#bbff3c 95.2%,#b8ff3f 100%)"></i><i style="background:linear-gradient(90deg,#4fffa8 0%,#57ff9f 3.2%,#64ff93 6.3%,#a8ff4e 20.1%,#b5ff42 23.8%,#baff3d 27%,#baff3d 31.2%,#b0ff46 35.4%,#9dff5a 40.2%,#5eff99 52.9%,#50ffa7 57.1%,#4bffac 61.4%,#4fffa7 65.6%,#5cff9b 69.8%,#6cff8a 73.5%,#a0ff57 83.6%,#b4ff43 88.9%,#bbff3c 94.2%,#b9ff3d 96.8%,#b3ff44 100%)"></i><i style="background:linear-gradient(90deg,#54ffa3 0%,#69ff8e 5.3%,#a6ff50 17.5%,#b3ff43 21.2%,#baff3d 24.9%,#baff3d 29.1%,#b0ff47 33.3%,#9dff5a 38.1%,#5dff9a 50.8%,#50ffa7 55%,#4bffac 59.3%,#50ffa7 63.5%,#5cff9b 67.7%,#a1ff56 81.5%,#b5ff41 87.3%,#baff3c 90.5%,#baff3c 93.7%,#b5ff41 96.8%,#acff4b 100%)"></i><i style="background:linear-gradient(90deg,#5cff9b 0%,#a7ff50 15.3%,#b5ff42 19.6%,#bbff3c 23.3%,#b9ff3e 27.5%,#aeff49 31.7%,#9cff5a 36%,#5dff9a 48.7%,#50ffa7 52.9%,#4bffab 56.6%,#4fffa8 60.8%,#5bff9c 65.1%,#6dff8a 69.3%,#a3ff54 79.9%,#b7ff40 85.7%,#bbff3c 89.4%,#b9ff3e 92.6%,#b1ff46 96.3%,#a3ff54 100%)"></i><i style="background:linear-gradient(90deg,#65ff92 0%,#a7ff50 13.2%,#b5ff42 17.5%,#bbff3c 21.2%,#b9ff3e 25.4%,#aeff49 29.6%,#9cff5b 33.9%,#5fff98 46%,#51ffa6 50.3%,#4cffab 54%,#4effa9 58.2%,#59ff9e 62.4%,#6bff8c 66.7%,#a4ff53 77.8%,#b1ff45 81.5%,#b9ff3e 84.7%,#bbff3c 88.4%,#b6ff41 92.1%,#abff4c 95.8%,#98ff5e 100%)"></i><i style="background:linear-gradient(90deg,#6fff88 0%,#a9ff4d 11.6%,#b6ff40 15.9%,#bbff3c 19.6%,#b9ff3e 23.3%,#aeff49 27.5%,#9cff5b 31.7%,#5fff98 43.9%,#51ffa6 48.1%,#4cffab 51.9%,#4effa9 56.1%,#59ff9e 60.3%,#6bff8c 64.6%,#a6ff51 76.2%,#b3ff44 79.9%,#baff3d 83.1%,#bbff3c 86.8%,#b3ff43 91%,#a4ff52 95.2%,#8dff6a 100%)"></i><i style="background:linear-gradient(90deg,#7bff7c 0%,#9cff5b 6.3%,#aeff49 10.6%,#b8ff3f 14.3%,#bbff3c 18%,#b7ff3f 21.7%,#adff49 25.4%,#9bff5b 29.6%,#5eff98 41.8%,#52ffa5 45.5%,#4cffab 49.2%,#4dffa9 53.4%,#58ff9f 57.7%,#69ff8e 61.9%,#a6ff50 74.1%,#b3ff44 77.8%,#baff3d 81.5%,#baff3d 85.2%,#b2ff45 89.4%,#a2ff55 93.7%,#81ff75 100%)"></i><i style="background:linear-gradient(90deg,#86ff71 0%,#a3ff53 5.8%,#b3ff44 10.1%,#baff3c 14.3%,#baff3d 18%,#b4ff43 21.2%,#a7ff50 24.9%,#6aff8d 37%,#58ff9f 41.3%,#4effa9 45.5%,#4cffab 49.7%,#52ffa5 53.4%,#60ff97 57.7%,#9bff5c 69.3%,#adff4a 73.5%,#b8ff3f 77.8%,#bbff3c 81.5%,#b7ff40 85.2%,#aaff4c 89.4%,#97ff5f 93.7%,#76ff81 100%)"></i><i style="background:linear-gradient(90deg,#92ff65 0%,#a8ff4f 4.8%,#b6ff41 9%,#bbff3c 12.7%,#b9ff3e 16.4%,#b2ff45 19.6%,#a4ff52 23.3%,#6cff8b 34.4%,#5aff9d 38.6%,#4effa8 42.9%,#4cffab 47.1%,#51ffa6 50.8%,#5eff99 55%,#9dff59 67.7%,#afff48 72%,#b9ff3e 76.2%,#bbff3c 79.9%,#b6ff41 83.6%,#a8ff4f 87.8%,#6bff8c 100%)"></i><i style="background:linear-gradient(90deg,#9dff5a 0%,#aeff49 4.2%,#b8ff3f 7.9%,#bbff3c 11.6%,#b8ff3f 14.8%,#b0ff47 18%,#a4ff53 21.2%,#6cff8b 32.3%,#5aff9d 36.5%,#4effa9 40.7%,#4cffab 45%,#51ffa6 48.7%,#5eff99 52.9%,#9eff59 65.6%,#afff48 69.8%,#b9ff3e 74.1%,#bbff3c 77.8%,#b5ff41 81.5%,#a8ff4f 85.7%,#61ff96 100%)"></i><i style="background:linear-gradient(90deg,#a6ff50 0%,#b3ff44 3.7%,#b9ff3d 6.9%,#bbff3c 10.1%,#b6ff41 13.8%,#a2ff55 19.6%,#6eff89 29.6%,#5bff9b 33.9%,#4fffa8 38.1%,#4bffab 42.3%,#50ffa7 46%,#5cff9a 50.3%,#9eff59 63.5%,#afff48 67.7%,#b9ff3e 72%,#baff3c 76.2%,#b4ff43 79.9%,#a7ff4f 83.6%,#6aff8d 95.8%,#59ff9e 100%)"></i><i style="background:linear-gradient(90deg,#afff48 0%,#b7ff40 3.2%,#bbff3c 6.3%,#baff3d 9%,#b4ff42 12.2%,#a1ff55 17.5%,#6eff89 27.5%,#5bff9c 31.7%,#4fffa8 36%,#4bffab 40.2%,#50ffa7 43.9%,#5dff9a 48.1%,#9eff59 61.4%,#afff47 65.6%,#b9ff3e 69.8%,#baff3d 74.1%,#b4ff43 77.8%,#a7ff50 81.5%,#67ff8f 94.2%,#52ffa5 100%)"></i><i style="background:linear-gradient(90deg,#b5ff42 0%,#bbff3c 5.3%,#b3ff44 10.6%,#9fff58 15.9%,#5dff9a 29.1%,#50ffa7 33.3%,#4bffab 37.6%,#50ffa7 41.8%,#5dff9a 46%,#9cff5b 58.7%,#b0ff47 63.5%,#baff3d 68.3%,#baff3d 72.5%,#b4ff43 75.7%,#a9ff4e 78.8%,#62ff94 93.1%,#55ffa2 96.8%,#4effa9 100%)"></i><i style="background:linear-gradient(90deg,#b9ff3e 0%,#baff3d 4.2%,#b1ff46 9%,#9eff59 13.8%,#5dff9a 27%,#50ffa7 31.2%,#4bffab 35.4%,#50ffa7 39.7%,#5dff9a 43.9%,#9cff5a 56.6%,#b0ff47 61.4%,#baff3d 66.1%,#b9ff3d 70.4%,#b2ff45 74.1%,#a4ff52 77.8%,#5cff9b 92.6%,#50ffa6 96.3%,#4cffab 100%)"></i><i style="background:linear-gradient(90deg,#bbff3c 0%,#b8ff3f 3.7%,#adff4a 7.9%,#9bff5b 12.2%,#61ff96 23.8%,#54ffa3 27.5%,#4cffaa 31.2%,#4dffaa 35.4%,#56ffa1 39.7%,#69ff8e 44.4%,#97ff5f 53.4%,#aaff4c 57.7%,#b7ff40 61.9%,#bbff3c 66.1%,#b6ff41 70.4%,#a8ff4e 74.6%,#69ff8e 87.3%,#58ff9f 91.5%,#4dffa9 95.8%,#4cffab 100%)"></i><i style="background:linear-gradient(90deg,#baff3d 0%,#b5ff42 3.2%,#abff4c 6.3%,#9bff5c 10.1%,#60ff96 21.7%,#53ffa3 25.4%,#4cffaa 29.1%,#4dffaa 33.3%,#56ffa1 37.6%,#69ff8e 42.3%,#a8ff4e 55%,#b6ff41 59.3%,#bbff3c 63.5%,#b7ff40 67.7%,#aaff4d 72%,#97ff5f 76.2%,#66ff90 85.7%,#54ffa3 90.5%,#4cffab 95.2%,#4fffa8 100%)"></i><i style="background:linear-gradient(90deg,#b7ff40 0%,#afff48 3.2%,#a2ff55 6.3%,#5eff99 20.1%,#52ffa5 23.8%,#4cffaa 27%,#4dffaa 31.2%,#56ffa0 35.4%,#6aff8d 40.2%,#a9ff4e 52.9%,#b6ff41 57.1%,#bbff3c 61.4%,#b7ff40 65.6%,#aaff4d 69.8%,#66ff91 83.6%,#53ffa4 88.9%,#4cffab 94.2%,#4dffaa 96.8%,#54ffa3 100%)"></i><i style="background:linear-gradient(90deg,#b2ff45 0%,#9dff5a 5.3%,#60ff97 17.5%,#53ffa4 21.2%,#4cffaa 24.9%,#4dffaa 29.1%,#57ffa0 33.3%,#6aff8d 38.1%,#a9ff4e 50.8%,#b6ff41 55%,#bbff3c 58.7%,#b7ff3f 63%,#acff4b 67.2%,#99ff5d 71.4%,#66ff91 81.5%,#51ffa6 87.3%,#4cffab 90.5%,#4cffab 93.7%,#51ffa5 96.8%,#5bff9c 100%)"></i><i style="background:linear-gradient(90deg,#aaff4c 0%,#60ff97 15.3%,#52ffa5 19.6%,#4cffab 23.3%,#4dffaa 27%,#57ffa0 31.2%,#6aff8d 36%,#a9ff4e 48.7%,#b6ff41 52.9%,#bbff3c 56.6%,#b7ff3f 60.8%,#abff4b 65.1%,#99ff5e 69.3%,#63ff94 79.9%,#50ffa7 85.7%,#4cffab 89.4%,#4dffa9 92.6%,#56ffa1 96.3%,#64ff93 100%)"></i><i style="background:linear-gradient(90deg,#a1ff55 0%,#5fff97 13.2%,#52ffa5 17.5%,#4cffab 21.2%,#4effa9 25.4%,#59ff9e 29.6%,#6aff8c 33.9%,#a7ff50 46%,#b5ff42 50.3%,#baff3c 54%,#b8ff3f 58.2%,#adff4a 62.4%,#9bff5b 66.7%,#63ff94 77.8%,#55ffa2 81.5%,#4effa9 84.7%,#4cffab 88.4%,#50ffa6 92.1%,#5bff9b 95.8%,#6eff89 100%)"></i><i style="background:linear-gradient(90deg,#97ff60 0%,#5dff9a 11.6%,#50ffa7 15.9%,#4cffab 19.6%,#4effa9 23.3%,#59ff9e 27.5%,#6bff8c 31.7%,#a7ff4f 43.9%,#b5ff42 48.1%,#baff3c 51.9%,#b8ff3f 56.1%,#adff4a 60.3%,#9bff5c 64.6%,#61ff96 76.2%,#54ffa3 79.9%,#4dffaa 83.1%,#4cffab 86.8%,#53ffa4 91%,#62ff95 95.2%,#79ff7e 100%)"></i><i style="background:linear-gradient(90deg,#8cff6b 0%,#6bff8c 6.3%,#59ff9e 10.6%,#4fffa8 14.3%,#4cffab 18%,#4fffa8 21.7%,#59ff9e 25.4%,#6bff8c 29.6%,#a8ff4f 41.8%,#b4ff43 45.5%,#baff3d 49.2%,#b9ff3e 53.4%,#afff48 57.7%,#9bff5c 62.4%,#60ff96 74.1%,#53ffa3 77.8%,#4dffaa 81.5%,#4cffaa 85.2%,#55ffa2 89.4%,#67ff90 94.2%,#85ff72 100%)"></i><i style="background:linear-gradient(90deg,#80ff76 0%,#63ff93 5.8%,#54ffa3 10.1%,#4cffab 14.3%,#4dffaa 18%,#54ffa3 21.7%,#61ff95 25.4%,#9cff5b 37%,#aeff49 41.3%,#b8ff3e 45.5%,#baff3d 49.7%,#b5ff42 53.4%,#a6ff50 57.7%,#6cff8b 69.3%,#5aff9d 73.5%,#4fffa8 77.8%,#4cffab 81.5%,#50ffa7 85.2%,#5cff9b 89.4%,#6fff88 93.7%,#90ff67 100%)"></i><i style="background:linear-gradient(90deg,#75ff82 0%,#5fff98 4.8%,#51ffa6 9%,#4cffab 12.7%,#4effa9 16.4%,#54ffa2 19.6%,#62ff95 23.3%,#9cff5a 34.9%,#aeff49 39.2%,#b8ff3e 43.4%,#baff3d 47.6%,#b4ff42 51.3%,#a8ff4e 55%,#69ff8d 67.7%,#58ff9f 72%,#4effa9 76.2%,#4cffab 79.9%,#51ffa6 83.6%,#5eff98 87.8%,#9bff5c 100%)"></i><i style="background:linear-gradient(90deg,#6aff8d 0%,#59ff9e 4.2%,#4fffa8 7.9%,#4cffab 11.6%,#4effa8 14.8%,#56ffa1 18%,#62ff95 21.2%,#9aff5d 32.3%,#acff4b 36.5%,#b8ff3f 40.7%,#baff3c 45%,#b5ff41 48.7%,#a8ff4f 52.9%,#69ff8e 65.6%,#58ff9f 69.8%,#4effa9 74.1%,#4cffab 77.8%,#51ffa6 81.5%,#5eff98 85.7%,#a5ff52 100%)"></i><i style="background:linear-gradient(90deg,#61ff96 0%,#54ffa3 3.7%,#4dffaa 6.9%,#4cffab 10.1%,#51ffa6 13.8%,#64ff92 19.6%,#9aff5d 30.2%,#aaff4d 33.9%,#b7ff40 38.1%,#baff3c 42.3%,#b5ff41 46.6%,#a8ff4f 50.8%,#69ff8e 63.5%,#58ff9f 67.7%,#4effa9 72%,#4cffab 76.2%,#52ffa4 79.9%,#5fff98 83.6%,#9bff5c 95.8%,#adff4a 100%)"></i><i style="background:linear-gradient(90deg,#58ff9e 0%,#50ffa7 3.2%,#4cffab 6.3%,#4dffaa 9%,#52ffa5 12.2%,#67ff90 18%,#98ff5f 27.5%,#aaff4c 31.7%,#b7ff40 36%,#baff3c 40.2%,#b6ff40 43.9%,#aaff4d 48.1%,#97ff60 52.4%,#69ff8e 61.4%,#56ffa1 66.1%,#4dffaa 70.4%,#4dffaa 74.6%,#53ffa4 77.8%,#5fff98 81.5%,#a0ff56 94.7%,#b4ff43 100%)"></i><i style="background:linear-gradient(90deg,#52ffa5 0%,#4cffab 5.3%,#53ffa3 10.6%,#67ff90 15.9%,#98ff5f 25.4%,#abff4c 29.6%,#b7ff40 33.9%,#baff3c 38.1%,#b6ff41 41.8%,#aaff4d 46%,#97ff60 50.3%,#69ff8e 59.3%,#58ff9f 63.5%,#4dffaa 68.3%,#4dffaa 72.5%,#53ffa4 75.7%,#5dff9a 78.8%,#a3ff54 93.1%,#b1ff46 96.8%,#b8ff3f 100%)"></i><i style="background:linear-gradient(90deg,#4effa9 0%,#4dffaa 4.8%,#57ffa0 9.5%,#6aff8d 14.3%,#a9ff4e 27%,#b6ff41 31.2%,#baff3c 35.4%,#b6ff41 39.7%,#aaff4d 43.9%,#68ff8e 57.1%,#56ffa1 61.9%,#4dffaa 66.1%,#4dffaa 70.4%,#54ffa3 74.1%,#61ff95 77.8%,#99ff5e 88.9%,#abff4b 93.1%,#b6ff41 96.8%,#baff3d 100%)"></i><i style="background:linear-gradient(90deg,#4cffab 0%,#4fffa8 4.2%,#5aff9c 8.5%,#6cff8a 12.7%,#a4ff52 23.8%,#b2ff45 27.5%,#b9ff3e 31.2%,#b9ff3d 35.4%,#afff48 40.2%,#9cff5b 45%,#5dff9a 57.7%,#50ffa7 61.9%,#4cffab 66.1%,#50ffa6 70.4%,#5dff9a 74.6%,#9cff5b 87.3%,#afff48 92.1%,#b9ff3e 96.3%,#baff3d 100%)"></i><i style="background:linear-gradient(90deg,#4cffaa 0%,#51ffa6 3.2%,#5cff9a 6.9%,#a5ff52 21.7%,#b2ff45 25.4%,#b9ff3e 29.1%,#b9ff3d 33.3%,#afff48 38.1%,#9eff59 42.3%,#5dff9a 55.6%,#50ffa7 59.8%,#4cffab 64%,#50ffa6 68.3%,#5dff99 72.5%,#9fff58 85.7%,#b1ff46 90.5%,#baff3d 95.2%,#b8ff3f 100%)"></i><i style="background:linear-gradient(90deg,#4fffa8 0%,#57ffa0 3.2%,#63ff94 6.3%,#a9ff4e 20.6%,#b3ff44 23.8%,#b9ff3e 27%,#b9ff3e 31.2%,#b0ff46 35.4%,#9eff59 40.2%,#5dff9a 53.4%,#50ffa7 57.7%,#4cffab 61.9%,#51ffa6 66.1%,#5dff99 70.4%,#9fff58 83.6%,#b2ff44 88.9%,#b9ff3e 92.1%,#baff3c 94.7%,#b3ff44 100%)"></i><i style="background:linear-gradient(90deg,#54ffa3 0%,#68ff8f 5.3%,#a7ff50 18%,#b3ff43 21.7%,#baff3d 25.4%,#b9ff3e 29.6%,#afff48 33.9%,#9eff59 38.1%,#5dff9a 51.3%,#50ffa7 55.6%,#4cffab 59.3%,#50ffa7 63.5%,#5cff9b 67.7%,#6eff89 72%,#a1ff56 82%,#b4ff43 87.3%,#b9ff3d 90.5%,#baff3d 93.7%,#b5ff41 96.8%,#acff4b 100%)"></i><i style="background:linear-gradient(90deg,#5bff9c 0%,#6bff8c 3.7%,#a7ff50 15.9%,#b3ff43 19.6%,#baff3d 23.3%,#b8ff3e 27.5%,#afff48 31.7%,#9eff59 36%,#5dff9a 49.2%,#50ffa7 53.4%,#4cffab 57.1%,#50ffa7 61.4%,#5cff9b 65.6%,#6eff89 69.8%,#a1ff55 79.9%,#b6ff40 86.2%,#baff3d 89.9%,#b8ff3f 93.1%,#b1ff46 96.3%,#a4ff53 100%)"></i><i style="background:linear-gradient(90deg,#63ff93 0%,#a7ff50 13.8%,#b5ff42 18%,#baff3d 21.7%,#b8ff3e 25.4%,#aeff48 29.6%,#9dff59 33.9%,#5fff98 46.6%,#51ffa6 50.8%,#4cffab 54.5%,#4fffa8 58.7%,#5aff9d 63%,#6cff8b 67.2%,#a4ff53 78.3%,#b0ff47 81.5%,#b7ff3f 84.7%,#baff3d 88.4%,#b6ff41 92.1%,#acff4b 95.8%,#9aff5d 100%)"></i><i style="background:linear-gradient(90deg,#6dff89 0%,#a9ff4e 12.2%,#b6ff41 16.4%,#baff3d 20.1%,#b8ff3f 23.8%,#adff4a 28%,#9bff5c 32.3%,#5eff98 44.4%,#51ffa6 48.7%,#4cffab 52.4%,#4fffa8 56.6%,#5aff9d 60.8%,#6cff8b 65.1%,#a4ff53 76.2%,#b1ff46 79.9%,#b8ff3f 83.1%,#baff3d 86.8%,#b4ff43 91%,#a6ff51 95.2%,#8fff68 100%)"></i><i style="background:linear-gradient(90deg,#78ff7f 0%,#99ff5e 6.3%,#abff4b 10.6%,#b6ff41 14.3%,#baff3d 18%,#b7ff3f 21.7%,#acff4a 25.9%,#9bff5c 30.2%,#5eff98 42.3%,#52ffa4 46%,#4cffaa 49.7%,#4effa9 54%,#58ff9e 58.2%,#6aff8d 62.4%,#a6ff51 74.6%,#b3ff44 78.3%,#b9ff3e 81.5%,#b9ff3e 85.7%,#b1ff46 89.9%,#a1ff56 94.2%,#84ff73 100%)"></i><i style="background:linear-gradient(90deg,#83ff73 0%,#a1ff56 5.8%,#b1ff46 10.1%,#b9ff3e 14.3%,#b9ff3e 18.5%,#b3ff44 21.7%,#a6ff51 25.4%,#6aff8d 37.6%,#58ff9e 41.8%,#4effa9 46%,#4cffaa 50.3%,#52ffa5 54%,#60ff96 58.2%,#9aff5c 69.8%,#acff4b 74.1%,#b7ff3f 78.3%,#baff3d 82%,#b6ff41 85.7%,#abff4b 89.4%,#99ff5d 93.7%,#78ff7e 100%)"></i><i style="background:linear-gradient(90deg,#8fff68 0%,#a5ff52 4.8%,#b4ff43 9%,#baff3d 13.2%,#b8ff3f 16.9%,#b1ff46 20.1%,#a4ff53 23.8%,#6aff8d 35.4%,#58ff9e 39.7%,#4effa9 43.9%,#4cffaa 48.1%,#52ffa4 51.9%,#5eff98 55.6%,#9aff5c 67.7%,#acff4b 72%,#b7ff3f 76.2%,#baff3d 79.9%,#b6ff41 83.6%,#a9ff4d 87.8%,#97ff60 92.1%,#6eff89 100%)"></i><i style="background:linear-gradient(90deg,#99ff5d 0%,#abff4b 4.2%,#b6ff41 7.9%,#baff3d 11.6%,#b7ff40 15.3%,#b0ff47 18.5%,#a4ff53 21.7%,#6cff8b 32.8%,#5aff9d 37%,#4fffa8 41.3%,#4cffab 45.5%,#51ffa6 49.2%,#5eff98 53.4%,#9dff5a 66.1%,#aeff49 70.4%,#b8ff3f 74.6%,#baff3d 78.3%,#b5ff42 82%,#a7ff50 86.2%,#64ff93 100%)"></i><i style="background:linear-gradient(90deg,#a3ff54 0%,#b1ff46 3.7%,#b8ff3f 6.9%,#baff3d 10.1%,#b6ff41 13.8%,#a1ff55 20.1%,#6fff88 30.2%,#5cff9b 34.4%,#50ffa7 38.6%,#4cffab 42.9%,#51ffa6 47.1%,#5fff98 51.3%,#9dff5a 64%,#aeff49 68.3%,#b8ff3f 72.5%,#b9ff3d 76.7%,#b3ff43 80.4%,#a7ff50 84.1%,#6bff8c 96.3%,#5bff9c 100%)"></i><i style="background:linear-gradient(90deg,#acff4b 0%,#b5ff42 3.2%,#baff3d 6.3%,#b9ff3e 9.5%,#b4ff43 12.7%,#9fff58 18.5%,#6eff88 28%,#5cff9b 32.3%,#50ffa7 36.5%,#4cffab 40.7%,#50ffa7 44.4%,#5dff9a 48.7%,#6fff88 52.9%,#9dff5a 61.9%,#aeff49 66.1%,#b8ff3f 70.4%,#b9ff3d 74.6%,#b3ff44 78.3%,#a7ff50 82%,#68ff8e 94.7%,#54ffa2 100%)"></i><i style="background:linear-gradient(90deg,#b2ff44 0%,#b9ff3e 3.2%,#baff3d 5.8%,#b2ff44 11.1%,#9fff58 16.4%,#6eff88 25.9%,#5cff9b 30.2%,#50ffa7 34.4%,#4cffab 38.6%,#50ffa7 42.3%,#5dff9a 46.6%,#9dff59 59.8%,#aeff49 64%,#b9ff3e 68.8%,#b9ff3e 73%,#b3ff44 76.2%,#a9ff4e 79.4%,#64ff93 93.7%,#57ff9f 96.8%,#4fffa7 100%)"></i><i style="background:linear-gradient(90deg,#b7ff40 0%,#baff3d 4.8%,#b1ff46 9.5%,#9fff58 14.3%,#5eff99 27.5%,#51ffa6 31.7%,#4cffab 36%,#50ffa6 40.2%,#5dff9a 44.4%,#9dff59 57.7%,#b0ff47 62.4%,#b9ff3e 66.7%,#b9ff3e 70.9%,#b2ff45 74.6%,#a5ff52 78.3%,#5dff9a 93.1%,#52ffa5 96.8%,#4dffaa 100%)"></i><i style="background:linear-gradient(90deg,#b9ff3d 0%,#b8ff3e 3.7%,#afff48 7.9%,#9cff5b 12.7%,#5eff99 25.4%,#51ffa6 29.6%,#4cffab 33.9%,#50ffa6 38.1%,#5dff9a 42.3%,#9dff59 55.6%,#b0ff47 60.3%,#b9ff3e 64.6%,#b9ff3e 68.8%,#b2ff45 72.5%,#a5ff52 76.2%,#6bff8c 87.8%,#59ff9e 92.1%,#4fffa8 96.3%,#4cffab 100%)"></i><i style="background:linear-gradient(90deg,#baff3d 0%,#b6ff41 3.2%,#acff4b 6.9%,#9aff5d 11.1%,#62ff95 22.2%,#55ffa2 25.9%,#4dffa9 29.6%,#4dffaa 33.9%,#57ff9f 38.6%,#6bff8c 43.4%,#a9ff4e 56.1%,#b5ff41 60.3%,#baff3d 64.6%,#b5ff41 68.8%,#a9ff4e 73%,#68ff8f 86.2%,#56ffa1 91%,#4dffaa 95.8%,#4effa9 100%)"></i><i style="background:linear-gradient(90deg,#b8ff3f 0%,#b1ff46 3.2%,#a3ff54 6.9%,#5eff99 21.2%,#53ffa3 24.3%,#4dffa9 27.5%,#4dffaa 31.7%,#57ff9f 36.5%,#6bff8c 41.3%,#a9ff4e 54%,#b5ff41 58.2%,#baff3d 62.4%,#b5ff41 66.7%,#a9ff4e 70.9%,#68ff8f 84.1%,#54ffa3 89.4%,#4cffab 94.7%,#52ffa5 100%)"></i><i style="background:linear-gradient(90deg,#b3ff43 0%,#9eff58 5.8%,#60ff97 18.5%,#53ffa3 22.2%,#4dffaa 25.9%,#4effa9 30.2%,#57ff9f 34.4%,#68ff8f 38.6%,#a9ff4e 51.9%,#b5ff41 56.1%,#baff3d 59.8%,#b6ff40 64%,#abff4c 68.3%,#98ff5f 72.5%,#66ff91 82.5%,#53ffa4 87.8%,#4dffaa 91%,#4cffaa 93.7%,#50ffa7 96.8%,#58ff9f 100%)"></i><i style="background:linear-gradient(90deg,#adff4a 0%,#9cff5b 4.2%,#60ff97 16.4%,#53ffa3 20.1%,#4dffaa 23.8%,#4effa9 28%,#58ff9f 32.3%,#68ff8e 36.5%,#a9ff4e 49.7%,#b5ff41 54%,#baff3d 57.7%,#b6ff41 61.9%,#aaff4c 66.1%,#98ff5f 70.4%,#65ff91 80.4%,#50ffa6 86.8%,#4cffaa 89.9%,#4effa9 93.1%,#54ffa3 96.3%,#60ff97 100%)"></i><i style="background:linear-gradient(90deg,#a5ff52 0%,#60ff97 14.3%,#52ffa5 18.5%,#4dffaa 22.2%,#4fffa8 26.5%,#59ff9d 30.7%,#6bff8c 34.9%,#a7ff50 47.1%,#b4ff43 51.3%,#baff3d 55%,#b7ff40 59.3%,#acff4b 63.5%,#9bff5c 67.7%,#63ff94 78.8%,#57ffa0 82%,#4fffa7 85.2%,#4cffab 88.9%,#4fffa8 92.1%,#58ff9e 95.8%,#69ff8d 100%)"></i><i style="background:linear-gradient(90deg,#9cff5b 0%,#5eff99 12.7%,#51ffa6 16.9%,#4cffaa 20.6%,#4fffa8 24.3%,#59ff9d 28.6%,#6bff8c 32.8%,#a7ff50 45%,#b4ff43 49.2%,#b9ff3d 52.9%,#b7ff40 57.1%,#acff4b 61.4%,#9bff5c 65.6%,#63ff94 76.7%,#56ffa1 80.4%,#4fffa8 83.6%,#4cffaa 87.3%,#51ffa6 91%,#5eff99 95.2%,#74ff83 100%)"></i><i style="background:linear-gradient(90deg,#91ff66 0%,#6eff89 6.9%,#5cff9b 11.1%,#51ffa6 14.8%,#4cffaa 18.5%,#4fffa8 22.2%,#59ff9d 26.5%,#6bff8c 30.7%,#a7ff50 42.9%,#b4ff43 47.1%,#b9ff3d 50.8%,#b7ff40 55%,#acff4b 59.3%,#9aff5c 63.5%,#61ff96 75.1%,#54ffa3 78.8%,#4effa9 82%,#4dffaa 85.7%,#54ffa3 89.9%,#63ff94 94.2%,#7fff78 100%)"></i><i style="background:linear-gradient(90deg,#86ff71 0%,#66ff90 6.3%,#56ffa1 10.6%,#4dffa9 14.8%,#4dffa9 19%,#55ffa2 22.8%,#62ff95 26.5%,#9bff5b 38.1%,#adff4a 42.3%,#b7ff3f 46.6%,#b9ff3d 50.8%,#b4ff43 54.5%,#a6ff51 58.7%,#6aff8d 70.9%,#59ff9e 75.1%,#4fffa7 78.8%,#4cffaa 82.5%,#50ffa7 86.2%,#5aff9c 89.9%,#6cff8b 94.2%,#8aff6d 100%)"></i><i style="background:linear-gradient(90deg,#7bff7c 0%,#62ff95 5.3%,#53ffa3 9.5%,#4dffaa 13.8%,#4effa9 17.5%,#55ffa2 20.6%,#62ff95 24.3%,#9bff5b 36%,#adff4a 40.2%,#b7ff40 44.4%,#b9ff3d 48.7%,#b4ff43 52.4%,#a6ff51 56.6%,#6aff8d 68.8%,#59ff9e 73%,#4fffa8 77.2%,#4dffaa 81%,#51ffa5 84.7%,#5cff9a 88.4%,#6fff88 92.6%,#95ff62 100%)"></i><i style="background:linear-gradient(90deg,#70ff86 0%,#5cff9b 4.8%,#51ffa6 8.5%,#4cffaa 12.2%,#4fffa8 15.9%,#56ffa1 19%,#62ff95 22.2%,#9bff5b 33.9%,#adff4a 38.1%,#b7ff40 42.3%,#b9ff3e 46.6%,#b4ff43 50.3%,#a6ff51 54.5%,#6aff8d 66.7%,#59ff9e 70.9%,#4fffa8 75.1%,#4dffaa 78.8%,#51ffa5 82.5%,#5eff98 86.8%,#9fff58 100%)"></i><i style="background:linear-gradient(90deg,#66ff90 0%,#58ff9f 3.7%,#4fffa8 7.4%,#4cffaa 10.6%,#50ffa7 14.3%,#64ff93 20.6%,#99ff5e 31.2%,#abff4c 35.4%,#b6ff40 39.7%,#b9ff3d 43.9%,#b5ff42 47.6%,#a8ff4f 51.9%,#6aff8d 64.6%,#59ff9e 68.8%,#4fffa8 73%,#4dffaa 77.2%,#53ffa4 81%,#60ff96 85.2%,#a8ff4f 100%)"></i><i style="background:linear-gradient(90deg,#5eff99 0%,#52ffa5 3.7%,#4dffaa 6.9%,#4dffaa 10.1%,#52ffa5 13.2%,#66ff90 19%,#99ff5e 29.1%,#abff4c 33.3%,#b6ff40 37.6%,#b9ff3d 41.8%,#b5ff42 45.5%,#a8ff4f 49.7%,#6aff8d 62.4%,#57ffa0 67.2%,#4effa9 71.4%,#4dffaa 75.7%,#54ffa3 79.4%,#61ff96 83.1%,#9cff5a 95.2%,#afff48 100%)"></i><i style="background:linear-gradient(90deg,#56ffa0 0%,#4dffaa 5.8%,#4effa9 8.5%,#53ffa3 11.6%,#66ff90 16.9%,#a9ff4e 30.7%,#b5ff41 34.9%,#b9ff3d 39.2%,#b5ff42 43.4%,#a8ff4f 47.6%,#6aff8d 60.3%,#57ffa0 65.1%,#4effa9 69.3%,#4dffa9 73.5%,#53ffa4 76.7%,#5eff98 80.4%,#a1ff56 94.2%,#b5ff42 100%)"></i><i style="background:linear-gradient(90deg,#51ffa6 0%,#4dffaa 4.8%,#55ffa2 10.1%,#69ff8e 15.3%,#a9ff4e 28.6%,#b5ff42 32.8%,#b9ff3d 37%,#b5ff42 41.3%,#a8ff4f 45.5%,#6aff8d 58.2%,#57ffa0 63%,#4effa9 67.2%,#4dffa9 71.4%,#53ffa4 74.6%,#5cff9a 77.8%,#a3ff53 92.6%,#b1ff46 96.3%,#b8ff3f 100%)"></i><i style="background:linear-gradient(90deg,#4effa9 0%,#4effa9 4.2%,#56ffa0 8.5%,#69ff8e 13.2%,#a9ff4e 26.5%,#b5ff42 30.7%,#b9ff3d 34.9%,#b5ff42 39.2%,#a8ff4f 43.4%,#6aff8d 56.1%,#57ffa0 60.8%,#4dffa9 65.6%,#4effa9 69.8%,#54ffa3 73%,#61ff96 76.7%,#9aff5d 88.4%,#acff4b 92.6%,#b6ff41 96.3%,#b9ff3d 100%)"></i><i style="background:linear-gradient(90deg,#4dffaa 0%,#50ffa7 3.7%,#5aff9d 7.4%,#6bff8c 11.6%,#a5ff52 23.3%,#b1ff45 27%,#b8ff3e 30.7%,#b8ff3f 34.9%,#afff48 39.2%,#9dff5a 43.9%,#6fff88 52.9%,#5dff9a 57.1%,#50ffa6 61.4%,#4dffaa 65.6%,#51ffa5 69.8%,#5eff98 74.1%,#9cff5a 86.8%,#afff48 91.5%,#b8ff3f 95.8%,#b8ff3e 100%)"></i><i style="background:linear-gradient(90deg,#4effa9 0%,#55ffa2 3.7%,#62ff95 7.4%,#a9ff4e 22.2%,#b3ff44 25.4%,#b8ff3e 28.6%,#b8ff3f 32.8%,#afff48 37%,#9dff5a 41.8%,#6fff88 50.8%,#5dff9a 55%,#51ffa6 59.3%,#4dffaa 63%,#50ffa6 67.2%,#5cff9a 71.4%,#6fff88 75.7%,#9fff58 85.2%,#b1ff46 89.9%,#b9ff3e 95.2%,#b5ff41 100%)"></i><i style="background:linear-gradient(90deg,#51ffa6 0%,#66ff90 6.3%,#a7ff50 19.6%,#b3ff44 23.3%,#b8ff3e 26.5%,#b8ff3f 30.7%,#afff48 34.9%,#9dff5a 39.7%,#6fff88 48.7%,#5dff9a 52.9%,#51ffa6 57.1%,#4dffaa 60.8%,#50ffa6 65.1%,#5dff9a 69.3%,#6fff88 73.5%,#9fff58 83.1%,#b2ff45 88.4%,#b8ff3f 91.5%,#b9ff3d 94.2%,#b0ff47 100%)"></i><i style="background:linear-gradient(90deg,#56ffa0 0%,#69ff8e 4.8%,#a7ff50 17.5%,#b3ff44 21.2%,#b9ff3e 24.9%,#b7ff3f 29.1%,#adff49 33.3%,#9dff5a 37.6%,#5fff98 50.3%,#52ffa5 54.5%,#4dffaa 58.7%,#50ffa6 63%,#5dff9a 67.2%,#a1ff56 81.5%,#b4ff42 87.3%,#b9ff3e 90.5%,#b8ff3e 93.7%,#b3ff44 96.8%,#a9ff4e 100%)"></i><i style="background:linear-gradient(90deg,#5eff99 0%,#a7ff50 15.3%,#b3ff44 19%,#b9ff3e 22.8%,#b7ff3f 27%,#adff49 31.2%,#9dff5a 35.4%,#5fff98 48.1%,#52ffa5 52.4%,#4dffaa 56.1%,#50ffa7 60.3%,#5bff9c 64.6%,#6cff8a 68.8%,#a1ff56 79.4%,#b6ff41 85.7%,#b9ff3e 89.4%,#b7ff40 92.6%,#aeff48 96.3%,#a0ff56 100%)"></i><i style="background:linear-gradient(90deg,#66ff90 0%,#a7ff50 13.2%,#b4ff43 17.5%,#b9ff3e 21.2%,#b7ff3f 24.9%,#adff49 29.1%,#9dff5a 33.3%,#5fff98 46%,#52ffa5 50.3%,#4dffaa 54%,#50ffa7 58.2%,#5bff9c 62.4%,#6cff8a 66.7%,#a3ff54 77.8%,#afff48 81%,#b6ff40 84.1%,#b9ff3e 87.8%,#b5ff42 91.5%,#abff4c 95.2%,#97ff60 100%)"></i><i style="background:linear-gradient(90deg,#70ff87 0%,#a9ff4e 11.6%,#b5ff42 15.9%,#b9ff3e 19.6%,#b7ff40 23.3%,#acff4b 27.5%,#9aff5d 31.7%,#5fff98 43.9%,#53ffa4 47.6%,#4dffaa 51.3%,#4fffa8 55.6%,#5bff9c 60.3%,#6cff8a 64.6%,#a3ff54 75.7%,#b0ff46 79.4%,#b7ff40 82.5%,#b9ff3e 86.2%,#b3ff44 90.5%,#a5ff52 94.7%,#8cff6b 100%)"></i><i style="background:linear-gradient(90deg,#7bff7c 0%,#9bff5c 6.3%,#acff4a 10.6%,#b6ff41 14.3%,#b9ff3e 18%,#b6ff41 21.7%,#acff4b 25.4%,#9aff5d 29.6%,#5fff98 41.8%,#53ffa4 45.5%,#4dffaa 49.2%,#4fffa8 53.4%,#59ff9e 57.7%,#6aff8d 61.9%,#a5ff51 74.1%,#b2ff45 77.8%,#b8ff3e 81.5%,#b8ff3e 85.2%,#b0ff47 89.4%,#a0ff56 93.7%,#81ff76 100%)"></i><i style="background:linear-gradient(90deg,#86ff71 0%,#a2ff55 5.8%,#b1ff46 10.1%,#b9ff3e 14.3%,#b8ff3f 18%,#b2ff45 21.2%,#a6ff51 24.9%,#6aff8d 37%,#59ff9e 41.3%,#4fffa8 45.5%,#4dffaa 49.7%,#53ffa4 53.4%,#61ff96 57.7%,#9aff5d 69.3%,#abff4b 73.5%,#b6ff40 77.8%,#b9ff3e 81.5%,#b5ff42 85.2%,#a9ff4e 89.4%,#76ff81 100%)"></i><i style="background:linear-gradient(90deg,#91ff66 0%,#a6ff50 4.8%,#b4ff43 9%,#b9ff3e 12.7%,#b7ff3f 16.4%,#b1ff46 19.6%,#a4ff53 23.3%,#6aff8c 34.9%,#59ff9e 39.2%,#4fffa8 43.4%,#4dffaa 47.6%,#53ffa4 51.3%,#5eff98 55%,#9cff5b 67.7%,#adff4a 72%,#b7ff40 76.2%,#b9ff3e 79.9%,#b4ff43 83.6%,#a7ff50 87.8%,#6cff8b 100%)"></i></div><div class="f" style="left:259.6px;top:1263.5px;width:554.7px;height:851.5px"><i style="background:#0000ef"></i><i style="background:#0000f4"></i><i style="background:#0000f9"></i><i style="background:#00f"></i><i style="background:#00f"></i><i style="background:#00f"></i><i style="background:#0006ff"></i><i style="background:#000eff"></i><i style="background:#0016ff"></i><i style="background:#001fff"></i><i style="background:#0027ff"></i><i style="background:linear-gradient(90deg,#002fff 0%,#002eff 100%)"></i><i style="background:linear-gradient(90deg,#0037ff 0%,#0036ff 100%)"></i><i style="background:linear-gradient(90deg,#0040ff 0%,#003dff 100%)"></i><i style="background:linear-gradient(90deg,#0048ff 0%,#0045ff 100%)"></i><i style="background:linear-gradient(90deg,#004fff 0%,#004cff 24.9%,#0050ff 58.7%,#004dff 100%)"></i><i style="background:linear-gradient(90deg,#0056ff 0%,#0053ff 21.7%,#0057ff 55%,#0054ff 100%)"></i><i style="background:linear-gradient(90deg,#005cff 0%,#005aff 19%,#005dff 50.8%,#005aff 82%,#005bff 100%)"></i><i style="background:linear-gradient(90deg,#0062ff 0%,#0060ff 18%,#0064ff 49.7%,#0060ff 81.5%,#0062ff 100%)"></i><i style="background:linear-gradient(90deg,#0067ff 0%,#06f 15.3%,#006aff 45.5%,#06f 78.3%,#0069ff 100%)"></i><i style="background:linear-gradient(90deg,#006cff 0%,#0070ff 41.3%,#006bff 75.7%,#006fff 100%)"></i><i style="background:linear-gradient(90deg,#0071ff 0%,#0075ff 37.6%,#0071ff 72.5%,#0075ff 100%)"></i><i style="background:linear-gradient(90deg,#0076ff 0%,#007aff 33.9%,#0076ff 68.8%,#007aff 100%)"></i><i style="background:linear-gradient(90deg,#007bff 0%,#007fff 28%,#007bff 63%,#007fff 100%)"></i><i style="background:linear-gradient(90deg,#0080ff 0%,#0084ff 24.9%,#007fff 59.3%,#0083ff 100%)"></i><i style="background:linear-gradient(90deg,#0084ff 0%,#08f 22.2%,#0083ff 55%,#08f 85.2%,#0087ff 100%)"></i><i style="background:linear-gradient(90deg,#08f 0%,#008cff 19%,#0087ff 51.3%,#008cff 82.5%,#008aff 100%)"></i><i style="background:linear-gradient(90deg,#008cff 0%,#008fff 18.5%,#008aff 50.3%,#008fff 82%,#008cff 100%)"></i><i style="background:linear-gradient(90deg,#0090ff 0%,#0091ff 15.9%,#008cff 46.6%,#0091ff 79.4%,#008eff 100%)"></i><i style="background:linear-gradient(90deg,#0093ff 0%,#0093ff 13.8%,#008fff 42.3%,#0094ff 76.2%,#008fff 100%)"></i><i style="background:linear-gradient(90deg,#0095ff 0%,#0091ff 38.6%,#0096ff 73%,#0091ff 100%)"></i><i style="background:linear-gradient(90deg,#0098ff 0%,#0093ff 34.9%,#0098ff 69.8%,#0093ff 100%)"></i><i style="background:linear-gradient(90deg,#09f 0%,#0094ff 29.6%,#09f 64.6%,#0095ff 100%)"></i><i style="background:linear-gradient(90deg,#009bff 0%,#0096ff 26.5%,#009bff 60.8%,#0097ff 100%)"></i><i style="background:linear-gradient(90deg,#009dff 0%,#0098ff 23.3%,#009dff 56.6%,#0098ff 86.2%,#09f 100%)"></i><i style="background:linear-gradient(90deg,#009eff 0%,#009aff 20.6%,#009fff 52.9%,#009aff 83.6%,#009cff 100%)"></i><i style="background:linear-gradient(90deg,#009fff 0%,#009cff 17.5%,#00a1ff 49.2%,#009cff 81%,#009fff 100%)"></i><i style="background:linear-gradient(90deg,#009fff 0%,#009dff 16.9%,#00a2ff 48.1%,#009dff 79.9%,#00a1ff 100%)"></i><i style="background:linear-gradient(90deg,#009fff 0%,#009eff 14.3%,#00a3ff 43.9%,#009eff 77.2%,#00a2ff 100%)"></i><i style="background:linear-gradient(90deg,#009eff 0%,#00a3ff 40.2%,#009eff 74.1%,#00a3ff 100%)"></i><i style="background:linear-gradient(90deg,#009dff 0%,#00a2ff 36%,#009dff 70.9%,#00a2ff 100%)"></i><i style="background:linear-gradient(90deg,#009dff 0%,#00a2ff 30.2%,#009dff 65.1%,#00a2ff 100%)"></i><i style="background:linear-gradient(90deg,#009cff 0%,#00a1ff 27%,#009cff 61.4%,#00a1ff 100%)"></i><i style="background:linear-gradient(90deg,#009cff 0%,#00a0ff 23.3%,#009bff 57.1%,#00a0ff 86.2%,#009fff 100%)"></i><i style="background:linear-gradient(90deg,#009bff 0%,#009fff 20.6%,#009aff 52.9%,#009fff 83.6%,#009dff 100%)"></i><i style="background:linear-gradient(90deg,#009bff 0%,#009eff 19%,#09f 51.3%,#009eff 82.5%,#009bff 100%)"></i><i style="background:linear-gradient(90deg,#009bff 0%,#009dff 16.4%,#0098ff 47.1%,#009dff 79.4%,#009aff 100%)"></i><i style="background:linear-gradient(90deg,#009bff 0%,#009cff 13.8%,#0097ff 42.9%,#009cff 76.2%,#0098ff 100%)"></i><i style="background:linear-gradient(90deg,#009bff 0%,#0097ff 38.6%,#009bff 73%,#0097ff 100%)"></i><i style="background:linear-gradient(90deg,#009bff 0%,#0096ff 34.4%,#009bff 69.3%,#0096ff 100%)"></i><i style="background:linear-gradient(90deg,#009aff 0%,#0095ff 28.6%,#009aff 63%,#0095ff 100%)"></i><i style="background:linear-gradient(90deg,#0098ff 0%,#0094ff 24.9%,#09f 58.7%,#0095ff 100%)"></i><i style="background:linear-gradient(90deg,#0097ff 0%,#0093ff 21.7%,#0098ff 54.5%,#0093ff 84.7%,#0094ff 100%)"></i><i style="background:linear-gradient(90deg,#0095ff 0%,#0092ff 18.5%,#0097ff 50.3%,#0092ff 82%,#0094ff 100%)"></i><i style="background:linear-gradient(90deg,#0093ff 0%,#0091ff 17.5%,#0096ff 49.2%,#0091ff 81%,#0094ff 100%)"></i><i style="background:linear-gradient(90deg,#0092ff 0%,#0091ff 14.8%,#0095ff 45%,#0090ff 77.8%,#0094ff 100%)"></i><i style="background:linear-gradient(90deg,#0090ff 0%,#0094ff 40.7%,#0090ff 74.6%,#0094ff 100%)"></i><i style="background:linear-gradient(90deg,#008fff 0%,#0093ff 36.5%,#008fff 71.4%,#0093ff 100%)"></i><i style="background:linear-gradient(90deg,#008eff 0%,#0092ff 30.7%,#008eff 65.6%,#0092ff 100%)"></i><i style="background:linear-gradient(90deg,#008dff 0%,#0091ff 27.5%,#008dff 61.9%,#0091ff 100%)"></i><i style="background:linear-gradient(90deg,#008cff 0%,#0090ff 24.3%,#008cff 58.2%,#0090ff 100%)"></i><i style="background:linear-gradient(90deg,#008cff 0%,#0090ff 21.7%,#008bff 54.5%,#0090ff 84.7%,#008eff 100%)"></i><i style="background:linear-gradient(90deg,#008cff 0%,#008fff 19%,#008bff 50.8%,#008fff 82%,#008dff 100%)"></i><i style="background:linear-gradient(90deg,#008dff 0%,#008fff 18%,#008aff 49.7%,#008fff 81.5%,#008cff 100%)"></i><i style="background:linear-gradient(90deg,#008dff 0%,#008fff 15.9%,#008aff 46%,#008fff 78.8%,#008bff 100%)"></i><i style="background:linear-gradient(90deg,#008eff 0%,#008aff 42.3%,#008fff 76.2%,#008bff 100%)"></i><i style="background:linear-gradient(90deg,#008fff 0%,#008bff 38.6%,#008fff 73%,#008bff 100%)"></i><i style="background:linear-gradient(90deg,#0090ff 0%,#008cff 34.9%,#0090ff 69.8%,#008cff 100%)"></i><i style="background:linear-gradient(90deg,#0091ff 0%,#008dff 29.6%,#0091ff 64.6%,#008dff 100%)"></i><i style="background:linear-gradient(90deg,#0092ff 0%,#008eff 26.5%,#0093ff 60.8%,#008eff 100%)"></i><i style="background:linear-gradient(90deg,#0093ff 0%,#008fff 23.8%,#0094ff 57.7%,#0090ff 100%)"></i><i style="background:linear-gradient(90deg,#0095ff 0%,#0091ff 21.2%,#0096ff 54%,#0091ff 84.1%,#0093ff 100%)"></i><i style="background:linear-gradient(90deg,#0096ff 0%,#0093ff 18.5%,#0098ff 50.3%,#0093ff 82%,#0095ff 100%)"></i><i style="background:linear-gradient(90deg,#0097ff 0%,#0095ff 18%,#009aff 49.7%,#0095ff 81.5%,#0098ff 100%)"></i><i style="background:linear-gradient(90deg,#0098ff 0%,#0097ff 15.9%,#009cff 46%,#0097ff 78.8%,#009aff 100%)"></i><i style="background:linear-gradient(90deg,#009aff 0%,#009eff 42.3%,#09f 76.2%,#009dff 100%)"></i><i style="background:linear-gradient(90deg,#009dff 0%,#00a1ff 38.6%,#009cff 73%,#00a1ff 100%)"></i><i style="background:linear-gradient(90deg,#00a0ff 0%,#00a5ff 35.4%,#00a0ff 70.4%,#00a5ff 100%)"></i><i style="background:linear-gradient(90deg,#00a4ff 0%,#00a9ff 30.2%,#00a4ff 64.6%,#00a9ff 100%)"></i><i style="background:linear-gradient(90deg,#00a9ff 0%,#00aeff 27%,#00a9ff 61.4%,#00aeff 100%)"></i><i style="background:linear-gradient(90deg,#00afff 0%,#00b4ff 23.8%,#00aeff 57.7%,#00b3ff 86.8%,#00b3ff 100%)"></i><i style="background:linear-gradient(90deg,#00b5ff 0%,#00b9ff 21.2%,#00b4ff 54%,#00b9ff 84.1%,#00b8ff 100%)"></i><i style="background:linear-gradient(90deg,#00bcff 0%,#00bfff 18.5%,#00baff 50.3%,#00bfff 82%,#00bdff 100%)"></i><i style="background:linear-gradient(90deg,#00c3ff 0%,#00c6ff 18%,#00c0ff 49.7%,#00c6ff 81.5%,#00c2ff 100%)"></i><i style="background:linear-gradient(90deg,#00caff 0%,#0cf 15.3%,#00c6ff 46%,#0cf 78.8%,#00c8ff 100%)"></i><i style="background:linear-gradient(90deg,#00d1ff 0%,#00d2ff 13.2%,#0cf 42.3%,#00d3ff 75.7%,#00cdff 100%)"></i><i style="background:linear-gradient(90deg,#00d8ff 0%,#00d3ff 38.6%,#00d9ff 73%,#00d3ff 100%)"></i><i style="background:linear-gradient(90deg,#00dffc 0%,#00d9ff 34.9%,#00e0fc 69.8%,#00d9ff 100%)"></i><i style="background:linear-gradient(90deg,#01e7f6 0%,#00e0fb 29.6%,#01e7f6 64.6%,#00e0fb 100%)"></i><i style="background:linear-gradient(90deg,#07efef 0%,#02e8f5 26.5%,#08efef 60.8%,#02e8f5 88.4%,#02e8f4 100%)"></i><i style="background:linear-gradient(90deg,#0ef6e9 0%,#08f0ef 23.8%,#0ef7e9 57.7%,#08f0ee 86.2%,#09f1ed 100%)"></i><i style="background:linear-gradient(90deg,#13fee3 0%,#0ff8e8 21.2%,#15ffe2 50.3%,#0ff8e8 84.7%,#11fae6 100%)"></i><i style="background:linear-gradient(90deg,#19ffde 0%,#15ffe2 18.5%,#1bffdc 50.3%,#15ffe2 82%,#18ffdf 100%)"></i><i style="background:linear-gradient(90deg,#1effd9 0%,#1bffdc 18%,#21ffd6 49.7%,#1affdc 81.5%,#1fffd8 100%)"></i><i style="background:linear-gradient(90deg,#22ffd5 0%,#20ffd7 15.9%,#27ffd0 46%,#20ffd7 78.8%,#25ffd2 100%)"></i><i style="background:linear-gradient(90deg,#27ffd0 0%,#25ffd1 13.8%,#2cffca 42.9%,#25ffd2 76.2%,#2cffcb 100%)"></i><i style="background:linear-gradient(90deg,#2bffcc 0%,#2bffcc 11.6%,#32ffc5 39.2%,#2bffcc 73.5%,#32ffc5 100%)"></i><i style="background:linear-gradient(90deg,#30ffc7 0%,#37ffbf 36%,#30ffc7 70.9%,#37ffbf 100%)"></i><i style="background:linear-gradient(90deg,#35ffc2 0%,#3dffba 30.7%,#35ffc2 65.6%,#3dffba 100%)"></i><i style="background:linear-gradient(90deg,#3affbc 0%,#42ffb5 28%,#3affbd 62.4%,#42ffb5 100%)"></i><i style="background:linear-gradient(90deg,#40ffb7 0%,#48ffaf 25.4%,#3fffb8 59.3%,#47ffb0 87.8%,#47ffb0 100%)"></i><i style="background:linear-gradient(90deg,#45ffb1 0%,#4dffaa 22.8%,#44ffb3 56.1%,#4cffaa 85.7%,#4bffac 100%)"></i><i style="background:linear-gradient(90deg,#4bffab 0%,#52ffa5 20.6%,#49ffae 52.9%,#51ffa5 83.6%,#4effa8 100%)"></i><i style="background:linear-gradient(90deg,#51ffa6 0%,#56ffa0 18%,#4effa9 49.7%,#56ffa0 81.5%,#52ffa5 100%)"></i><i style="background:linear-gradient(90deg,#57ffa0 0%,#5bff9c 18%,#52ffa5 49.2%,#5bff9c 81%,#55ffa2 100%)"></i><i style="background:linear-gradient(90deg,#5cff9a 0%,#5fff97 15.9%,#56ffa1 46%,#60ff97 78.8%,#58ff9e 100%)"></i><i style="background:linear-gradient(90deg,#62ff95 0%,#63ff93 13.8%,#5aff9d 42.9%,#64ff93 76.7%,#5bff9b 100%)"></i><i style="background:linear-gradient(90deg,#67ff90 0%,#67ff90 12.2%,#5eff99 39.7%,#68ff8f 74.1%,#5fff98 100%)"></i><i style="background:linear-gradient(90deg,#6bff8b 0%,#6bff8c 10.1%,#62ff95 37%,#6cff8b 71.4%,#62ff95 100%)"></i><i style="background:linear-gradient(90deg,#70ff87 0%,#65ff91 33.9%,#6fff87 68.8%,#65ff91 100%)"></i><i style="background:linear-gradient(90deg,#73ff84 0%,#69ff8e 29.1%,#73ff84 64%,#6aff8d 90.5%,#69ff8e 100%)"></i><i style="background:linear-gradient(90deg,#76ff80 0%,#6cff8a 26.5%,#77ff80 60.8%,#6dff8a 88.4%,#6dff8a 100%)"></i><i style="background:linear-gradient(90deg,#79ff7e 0%,#70ff87 24.3%,#7aff7c 57.7%,#70ff87 86.8%,#71ff85 100%)"></i><i style="background:linear-gradient(90deg,#7cff7b 0%,#73ff84 21.7%,#7eff79 55%,#73ff84 84.7%,#76ff81 100%)"></i><i style="background:linear-gradient(90deg,#7eff79 0%,#76ff81 19.6%,#81ff76 51.9%,#76ff80 83.1%,#7bff7c 100%)"></i><i style="background:linear-gradient(90deg,#80ff77 0%,#79ff7d 17.5%,#85ff72 48.7%,#79ff7d 81%,#7fff77 100%)"></i><i style="background:linear-gradient(90deg,#82ff75 0%,#7dff7a 17.5%,#88ff6f 48.7%,#7dff7a 81%,#84ff73 100%)"></i><i style="background:linear-gradient(90deg,#84ff73 0%,#80ff77 15.3%,#8cff6b 45.5%,#80ff77 78.8%,#89ff6e 100%)"></i><i style="background:linear-gradient(90deg,#86ff71 0%,#84ff73 13.8%,#8fff68 42.9%,#83ff73 76.2%,#8eff69 100%)"></i><i style="background:linear-gradient(90deg,#88ff6f 0%,#87ff6f 12.2%,#93ff64 39.7%,#87ff70 74.1%,#92ff65 100%)"></i><i style="background:linear-gradient(90deg,#8aff6c 0%,#8bff6c 10.1%,#96ff61 37%,#8aff6d 71.4%,#96ff61 100%)"></i><i style="background:linear-gradient(90deg,#8dff6a 0%,#99ff5d 34.4%,#8eff68 60.3%,#8dff6a 69.3%,#99ff5d 100%)"></i><i style="background:linear-gradient(90deg,#90ff66 0%,#9dff5a 29.6%,#90ff66 64.6%,#9bff5b 90.5%,#9cff5a 100%)"></i><i style="background:linear-gradient(90deg,#94ff63 0%,#a0ff57 27%,#9fff58 36%,#94ff63 61.4%,#9fff58 88.9%,#9fff58 100%)"></i><i style="background:linear-gradient(90deg,#98ff5f 0%,#a3ff54 24.9%,#97ff60 58.7%,#a3ff54 87.3%,#a1ff55 100%)"></i><i style="background:linear-gradient(90deg,#9cff5b 0%,#a7ff50 22.8%,#9aff5d 56.1%,#a6ff51 85.2%,#a3ff53 100%)"></i><i style="background:linear-gradient(90deg,#a0ff56 0%,#aaff4d 20.6%,#9dff5a 52.9%,#aaff4d 83.6%,#a5ff52 100%)"></i><i style="background:linear-gradient(90deg,#a5ff52 0%,#adff4a 18.5%,#a0ff57 50.3%,#adff4a 82%,#a7ff50 100%)"></i><i style="background:linear-gradient(90deg,#aaff4d 0%,#b0ff47 18.5%,#a5ff52 41.8%,#a3ff53 50.3%,#b0ff47 82%,#a8ff4e 100%)"></i><i style="background:linear-gradient(90deg,#afff48 0%,#b3ff44 16.4%,#a8ff4f 39.2%,#a6ff50 47.6%,#b3ff43 79.9%,#aaff4d 100%)"></i><i style="background:linear-gradient(90deg,#b3ff44 0%,#b6ff41 14.8%,#a9ff4d 44.4%,#b7ff40 77.8%,#acff4b 100%)"></i><i style="background:linear-gradient(90deg,#b8ff3f 0%,#b9ff3d 13.2%,#adff4a 41.8%,#baff3d 75.7%,#aeff49 100%)"></i><i style="background:linear-gradient(90deg,#bcff3b 0%,#bcff3a 11.6%,#b0ff47 39.2%,#bcff3b 65.1%,#bdff3a 73.5%,#b0ff46 100%)"></i><i style="background:linear-gradient(90deg,#c0ff37 0%,#bfff37 10.1%,#b3ff44 36.5%,#bfff38 62.4%,#c0ff36 71.4%,#b3ff44 100%)"></i><i style="background:linear-gradient(90deg,#c4ff33 0%,#b6ff41 33.9%,#c3ff34 60.3%,#c4ff33 68.8%,#b6ff41 100%)"></i><i style="background:linear-gradient(90deg,#c7ff30 0%,#baff3d 29.1%,#bbff3c 38.1%,#c7ff30 64%,#bbff3c 90.5%,#baff3d 100%)"></i><i style="background:linear-gradient(90deg,#caff2d 0%,#bdff3a 27%,#beff39 35.4%,#caff2c 61.4%,#beff39 88.9%,#beff39 100%)"></i><i style="background:linear-gradient(90deg,#cdff2a 0%,#c0ff37 24.9%,#c1ff36 33.3%,#ceff29 58.7%,#ccff2b 67.2%,#c0ff36 87.3%,#c2ff35 100%)"></i><i style="background:linear-gradient(90deg,#cfff28 0%,#c3ff34 22.8%,#c4ff32 31.2%,#d1ff26 56.1%,#cfff28 64.6%,#c3ff34 85.7%,#c6ff31 100%)"></i><i style="background:linear-gradient(90deg,#d0ff27 0%,#c6ff31 20.6%,#d4ff23 53.4%,#d2ff25 61.9%,#c6ff31 84.1%,#caff2c 100%)"></i><i style="background:linear-gradient(90deg,#d2ff25 0%,#c8ff2e 19%,#d7ff20 50.8%,#d5ff22 59.3%,#c9ff2e 82%,#c9ff2d 89.9%,#cfff28 100%)"></i><i style="background:linear-gradient(90deg,#d3ff24 0%,#ccff2a 10.6%,#cbff2b 19%,#d8ff1f 42.3%,#daff1d 50.8%,#cbff2c 82.5%,#d3ff23 100%)"></i><i style="background:linear-gradient(90deg,#d4ff23 0%,#ceff29 16.9%,#daff1c 39.7%,#dcff1b 48.1%,#ceff29 80.4%,#d8ff1f 100%)"></i><i style="background:linear-gradient(90deg,#d4ff22 0%,#d0ff26 15.3%,#ddff1a 37%,#dfff18 45.5%,#d0ff27 78.3%,#dbff1b 100%)"></i><i style="background:linear-gradient(90deg,#d5ff22 0%,#d3ff24 13.8%,#dfff18 34.4%,#e1ff16 42.9%,#d4ff23 68.3%,#d2ff24 76.2%,#dfff18 100%)"></i><i style="background:linear-gradient(90deg,#d6ff21 0%,#d5ff22 12.2%,#e1ff16 31.7%,#e3ff14 40.2%,#d6ff21 66.1%,#d4ff22 74.6%,#e2ff15 100%)"></i><i style="background:linear-gradient(90deg,#d7ff20 0%,#d7ff20 10.6%,#e2ff14 29.1%,#e5ff12 37.6%,#d7ff1f 63.5%,#d6ff21 72%,#e4ff12 100%)"></i><i style="background:linear-gradient(90deg,#d8ff1f 0%,#d9ff1e 9%,#e6ff10 34.9%,#e4ff13 43.4%,#d9ff1e 61.4%,#d8ff1f 69.8%,#e6ff10 100%)"></i><i style="background:linear-gradient(90deg,#d9ff1e 0%,#e8ff0f 30.7%,#e7ff10 39.2%,#dbff1b 57.1%,#d9ff1e 65.6%,#e7ff10 91.5%,#e8ff0f 100%)"></i><i style="background:linear-gradient(90deg,#dbff1c 0%,#e9ff0d 28%,#e8ff0f 37%,#ddff1a 54.5%,#dbff1c 63%,#ddff1a 71.4%,#e8ff0e 89.9%,#e9ff0e 100%)"></i><i style="background:linear-gradient(90deg,#ddff1a 0%,#ebff0c 25.9%,#eaff0d 34.4%,#dcff1b 60.3%,#deff19 68.8%,#eaff0d 88.4%,#eaff0d 100%)"></i><i style="background:linear-gradient(90deg,#dfff18 0%,#ecff0a 23.8%,#ebff0c 32.3%,#deff19 57.7%,#e0ff17 66.1%,#ecff0b 86.8%,#eaff0d 100%)"></i><i style="background:linear-gradient(90deg,#e2ff15 0%,#eeff09 22.2%,#edff0a 30.2%,#dfff18 55%,#e1ff16 63.5%,#eeff09 85.2%,#eaff0d 100%)"></i><i style="background:linear-gradient(90deg,#e5ff12 0%,#f0fd07 20.1%,#e1ff16 52.4%,#e2ff14 60.8%,#f0fe07 83.6%,#eaff0d 100%)"></i><i style="background:linear-gradient(90deg,#e9ff0e 0%,#f2fb05 18%,#eeff08 28.6%,#e3ff14 49.7%,#e4ff12 58.7%,#eeff08 73.5%,#f2fc05 81.5%,#f1fd06 89.9%,#eaff0c 100%)"></i><i style="background:linear-gradient(90deg,#ecff0a 0%,#f3fa04 10.1%,#f4f903 18.5%,#efff08 29.1%,#e6ff11 41.8%,#e5ff12 50.3%,#eeff08 68.3%,#f4f903 82%,#ebff0c 100%)"></i><i style="background:linear-gradient(90deg,#f0fd07 0%,#f5f701 9%,#f6f701 16.4%,#eeff08 30.2%,#e7ff10 47.6%,#eeff08 63%,#f5f802 72.5%,#f6f601 79.9%,#ebff0c 100%)"></i><i style="background:linear-gradient(90deg,#f4f803 0%,#f8f400 7.9%,#f8f400 14.8%,#efff08 30.7%,#e9ff0e 45%,#efff08 57.7%,#f7f600 69.3%,#f9f400 77.8%,#f7f600 84.1%,#eeff08 96.3%,#ecff0b 100%)"></i><i style="background:linear-gradient(90deg,#f8f400 0%,#faf100 13.2%,#f7f600 20.6%,#eeff08 32.3%,#ebff0b 42.3%,#efff08 51.9%,#f7f600 63%,#fbf100 75.7%,#f7f600 86.2%,#edff0a 100%)"></i><i style="background:linear-gradient(90deg,#fcf000 0%,#fdee00 11.1%,#f7f500 21.7%,#effe07 32.8%,#eeff08 43.4%,#f7f600 57.1%,#fdef00 66.7%,#feee00 74.1%,#f7f600 87.3%,#efff08 100%)"></i><i style="background:linear-gradient(90deg,#ffeb00 0%,#ffec00 10.6%,#f7f500 22.8%,#f0fd06 37.6%,#f7f500 51.9%,#ffec00 63.5%,#ffeb00 72%,#feed00 77.2%,#f7f600 88.4%,#f1fd06 100%)"></i><i style="background:linear-gradient(90deg,#ffe800 0%,#ffec00 12.7%,#f5f701 26.5%,#f3fa04 34.9%,#f5f701 43.4%,#ffec00 57.1%,#ffe800 69.8%,#ffec00 78.3%,#f5f702 92.1%,#f3fa04 100%)"></i><i style="background:linear-gradient(90deg,#ffe500 0%,#ffec00 14.3%,#f5f701 30.7%,#f7f500 39.7%,#ffec00 51.3%,#ffe500 65.1%,#ffec00 79.4%,#f7f500 91%,#f5f701 100%)"></i><i style="background:linear-gradient(90deg,#ffe200 0%,#ffec00 14.8%,#f8f400 28%,#f9f300 36%,#ffec00 46%,#ffe400 55.6%,#ffe200 63%,#ffe400 70.4%,#ffec00 79.9%,#f9f300 89.9%,#f8f400 100%)"></i><i style="background:linear-gradient(90deg,#ffe000 0%,#ffec00 15.3%,#faf200 25.9%,#fbf000 34.9%,#ffec00 40.7%,#ffe200 52.4%,#ffdf00 60.3%,#ffe200 68.3%,#ffec00 80.4%,#fbf100 88.4%,#fbf000 100%)"></i><i style="background:linear-gradient(90deg,#ffdf00 0%,#ffec00 15.9%,#fcf000 24.3%,#feee00 32.8%,#ffe000 49.7%,#fd0 57.7%,#ffe000 66.1%,#fcef00 86.8%,#ffed00 100%)"></i><i style="background:linear-gradient(90deg,#ffde00 0%,#ffea00 14.3%,#feee00 22.2%,#ffec00 30.2%,#ffde00 47.6%,#ffdb00 55.6%,#ffde00 64%,#feed00 85.2%,#feed00 92.1%,#ffe900 100%)"></i><i style="background:linear-gradient(90deg,#ffde00 0%,#ffe900 12.2%,#ffec00 20.1%,#ffea00 28%,#ffdc00 45%,#ffd900 52.9%,#ffdb00 61.4%,#ffeb00 83.6%,#ffeb00 91%,#ffe500 100%)"></i><i style="background:linear-gradient(90deg,#ffde00 0%,#ffe700 10.6%,#ffea00 18.5%,#ffe700 26.5%,#ffda00 42.3%,#ffd700 50.3%,#ffd900 58.7%,#ffea00 82%,#ffe800 89.9%,#ffe100 100%)"></i><i style="background:linear-gradient(90deg,#ffde00 0%,#ffe600 10.1%,#ffe800 18.5%,#ffd700 41.8%,#ffd500 50.3%,#ffd800 58.2%,#ffe600 74.6%,#ffe800 82%,#ffe600 89.4%,#fd0 100%)"></i><i style="background:linear-gradient(90deg,#ffdf00 0%,#ffe500 9%,#ffe600 16.9%,#ffd500 39.7%,#ffd300 48.1%,#ffd600 55.6%,#ffe400 72.5%,#ffe600 80.4%,#ffe300 88.4%,#ffd900 100%)"></i><i style="background:linear-gradient(90deg,#ffdf00 0%,#ffe400 7.9%,#ffe400 15.3%,#ffd300 37%,#ffd100 45.5%,#ffd400 53.4%,#ffe200 70.4%,#ffe400 78.3%,#ffe100 86.2%,#ffd500 100%)"></i><i style="background:linear-gradient(90deg,#ffdf00 0%,#ffe200 13.8%,#ffd200 34.4%,#ffcf00 42.9%,#ffd200 50.8%,#ffe000 67.7%,#ffe300 76.2%,#ffdf00 84.1%,#ffd200 100%)"></i><i style="background:linear-gradient(90deg,#ffdf00 0%,#ffe000 12.2%,#ffd000 31.7%,#ffcd00 40.2%,#ffd000 48.1%,#ffdf00 66.1%,#ffe100 74.6%,#ffcf00 100%)"></i><i style="background:linear-gradient(90deg,#ffde00 0%,#ffde00 10.6%,#ffcf00 29.1%,#fc0 37.6%,#ffcf00 46%,#fd0 63.5%,#ffdf00 72.5%,#fc0 100%)"></i><i style="background:linear-gradient(90deg,#fd0 0%,#ffdc00 9%,#ffcd00 27%,#ffca00 35.4%,#ffcd00 43.9%,#ffdc00 61.4%,#ffde00 69.8%,#ffcd00 92.6%,#ffca00 100%)"></i><i style="background:linear-gradient(90deg,#ffdc00 0%,#ffd900 7.9%,#ffc900 30.7%,#ffca00 39.7%,#ffd900 57.1%,#ffdc00 65.6%,#ffd900 74.1%,#ffca00 91.5%,#ffc800 100%)"></i><i style="background:linear-gradient(90deg,#ffda00 0%,#ffc700 28.6%,#ffc900 37%,#ffd700 54.5%,#ffdb00 63%,#ffd800 71.4%,#ffc800 89.9%,#ffc700 100%)"></i><i style="background:linear-gradient(90deg,#ffd800 0%,#ffc500 26.5%,#ffc700 34.9%,#ffd600 52.4%,#ffd900 60.3%,#ffd600 68.8%,#ffc600 88.4%,#ffc700 100%)"></i><i style="background:linear-gradient(90deg,#ffd500 0%,#ffc700 16.9%,#ffc300 24.3%,#ffc600 32.8%,#ffd400 49.7%,#ffd700 58.2%,#ffd400 66.7%,#ffc400 86.8%,#ffc700 100%)"></i><i style="background:linear-gradient(90deg,#ffd200 0%,#ffc500 14.3%,#ffc200 22.2%,#ffc400 30.2%,#ffd300 47.6%,#ffd600 55.6%,#ffd300 64%,#ffc200 85.2%,#ffc200 92.1%,#ffc700 100%)"></i><i style="background:linear-gradient(90deg,#ffcf00 0%,#ffc400 12.2%,#ffc000 20.1%,#ffc200 28%,#ffd100 45%,#ffd400 52.9%,#ffd200 61.4%,#ffc100 83.6%,#ffc100 91%,#ffc800 100%)"></i><i style="background:linear-gradient(90deg,#ffcb00 0%,#ffc100 10.6%,#ffbf00 18.5%,#ffc100 25.9%,#ffcf00 42.3%,#ffd300 50.3%,#ffd000 58.7%,#ffbf00 82%,#ffc000 89.9%,#ffc800 100%)"></i><i style="background:linear-gradient(90deg,#ffc700 0%,#ffbf00 10.1%,#ffbd00 18.5%,#ffcf00 41.8%,#ffd100 50.3%,#ffce00 57.7%,#ffbf00 74.1%,#ffbd00 82%,#ffc000 89.4%,#ffc900 100%)"></i><i style="background:linear-gradient(90deg,#ffc300 0%,#ffbc00 9%,#ffbc00 16.9%,#ffcd00 39.2%,#ffd000 47.6%,#fc0 55.6%,#ffbe00 72%,#fb0 79.9%,#ffbf00 87.8%,#ffca00 100%)"></i><i style="background:linear-gradient(90deg,#ffbf00 0%,#ffba00 7.9%,#ffba00 14.8%,#fc0 36.5%,#ffce00 45%,#ffcb00 52.9%,#ffbc00 69.8%,#ffba00 77.8%,#ffbd00 85.7%,#ffca00 100%)"></i><i style="background:linear-gradient(90deg,#ffbc00 0%,#ffb900 13.2%,#ffca00 33.9%,#ffcd00 42.3%,#ffc900 50.3%,#ffba00 67.7%,#ffb800 76.2%,#ffbc00 83.6%,#ffca00 100%)"></i><i style="background:linear-gradient(90deg,#ffb800 0%,#ffb700 11.6%,#ffc800 31.2%,#ffcb00 39.7%,#ffc800 47.6%,#ffb800 65.1%,#ffb600 74.1%,#ffca00 100%)"></i><i style="background:linear-gradient(90deg,#ffb500 0%,#ffb600 10.1%,#ffc600 28.6%,#ffc900 37%,#ffc600 45.5%,#ffb700 63%,#ffb500 71.4%,#ffc900 100%)"></i><i style="background:linear-gradient(90deg,#ffb300 0%,#ffb500 8.5%,#ffc400 25.9%,#ffc800 34.4%,#ffc400 42.9%,#ffb500 60.8%,#ffb300 69.3%,#ffc500 92.1%,#ffc800 100%)"></i><i style="background:linear-gradient(90deg,#ffb100 0%,#ffb400 7.4%,#ffc200 22.8%,#ffc600 30.2%,#ffc400 38.6%,#ffb400 56.6%,#ffb100 64.6%,#ffb400 73%,#ffc400 91%,#ffc600 100%)"></i><i style="background:linear-gradient(90deg,#ffb000 0%,#ffc400 27.5%,#ffc200 36.5%,#ffb200 54%,#ffaf00 62.4%,#ffb200 70.9%,#ffc300 89.4%,#ffc300 100%)"></i><i style="background:linear-gradient(90deg,#ffaf00 0%,#ffc200 25.4%,#ffc100 33.9%,#ffb100 51.3%,#ffad00 59.8%,#ffb000 68.3%,#ffc100 87.8%,#ffc000 100%)"></i><i style="background:linear-gradient(90deg,#ffae00 0%,#ffbd00 15.9%,#ffc100 23.3%,#ffbf00 31.7%,#ffaf00 49.2%,#ffac00 57.1%,#ffaf00 65.6%,#ffc000 86.2%,#ffc000 93.1%,#ffbd00 100%)"></i><i style="background:linear-gradient(90deg,#ffae00 0%,#fb0 13.8%,#ffbf00 21.7%,#ffbd00 29.6%,#ffad00 46.6%,#fa0 54.5%,#ffad00 63%,#ffbf00 84.7%,#ffbe00 92.1%,#ffb900 100%)"></i><i style="background:linear-gradient(90deg,#ffaf00 0%,#ffba00 11.6%,#ffbd00 19.6%,#fb0 27.5%,#ffac00 43.9%,#ffa800 51.9%,#ffab00 60.3%,#ffbd00 83.1%,#ffbc00 91%,#ffb500 100%)"></i><i style="background:linear-gradient(90deg,#ffaf00 0%,#ffb900 10.6%,#ffbc00 18%,#ffb900 25.4%,#fa0 41.8%,#ffa600 49.2%,#ffa900 57.7%,#fb0 81%,#ffba00 89.4%,#ffb000 100%)"></i><i style="background:linear-gradient(90deg,#ffb000 0%,#ffb800 10.1%,#ffba00 18%,#ffa700 40.7%,#ffa400 49.2%,#ffa800 57.1%,#ffb700 73.5%,#ffba00 81.5%,#ffb700 88.9%,#ffac00 100%)"></i><i style="background:linear-gradient(90deg,#ffb100 0%,#ffb700 8.5%,#ffb800 16.4%,#ffa500 38.1%,#ffa300 46.6%,#ffa600 54.5%,#ffb600 71.4%,#ffb800 79.4%,#ffb400 87.3%,#ffa800 100%)"></i><i style="background:linear-gradient(90deg,#ffb100 0%,#ffb600 7.9%,#ffb600 14.8%,#ffa400 35.4%,#ffa100 43.9%,#ffa400 51.9%,#ffb400 69.3%,#ffb600 77.2%,#ffb300 85.2%,#ffa400 100%)"></i><i style="background:linear-gradient(90deg,#ffb100 0%,#ffb400 12.7%,#ffa200 33.3%,#ff9f00 41.8%,#ffa200 49.7%,#ffb300 67.2%,#ffb400 75.7%,#ffb100 83.1%,#ffa100 100%)"></i><i style="background:linear-gradient(90deg,#ffb100 0%,#ffb100 11.6%,#ffa000 30.7%,#ff9d00 39.2%,#ffa000 47.1%,#ffb100 64.6%,#ffb300 73.5%,#ff9e00 100%)"></i><i style="background:linear-gradient(90deg,#ffb000 0%,#ffaf00 10.1%,#ff9f00 28%,#ff9b00 36.5%,#ff9f00 45%,#ffaf00 62.4%,#ffb100 71.4%,#ff9b00 100%)"></i><i style="background:linear-gradient(90deg,#ffaf00 0%,#ffad00 8.5%,#ff9d00 25.9%,#f90 34.4%,#ff9d00 42.9%,#ffad00 60.3%,#ffaf00 68.8%,#ffab00 76.2%,#ff9c00 92.1%,#f90 100%)"></i><i style="background:linear-gradient(90deg,#ffae00 0%,#fa0 7.4%,#ff9c00 22.2%,#ff9800 29.6%,#ff9a00 38.6%,#fa0 56.1%,#ffae00 64.6%,#fa0 73%,#ff9a00 91%,#ff9800 100%)"></i><i style="background:linear-gradient(90deg,#ffab00 0%,#ff9600 27.5%,#ff9800 36.5%,#ffa900 54%,#ffac00 61.9%,#ffa900 70.4%,#ff9700 89.4%,#ff9700 100%)"></i><i style="background:linear-gradient(90deg,#ffa900 0%,#ff9800 18.5%,#ff9400 25.4%,#ff9600 33.9%,#ffa600 51.3%,#fa0 59.8%,#ffa700 68.3%,#ff9500 87.8%,#ff9700 100%)"></i><i style="background:linear-gradient(90deg,#ffa600 0%,#ff9600 15.9%,#ff9200 23.8%,#ff9500 32.3%,#ffa500 49.2%,#ffa800 57.1%,#ffa500 65.6%,#ff9300 86.2%,#ff9300 93.1%,#ff9700 100%)"></i><i style="background:linear-gradient(90deg,#ffa200 0%,#ff9400 13.8%,#ff9000 21.7%,#ff9300 30.2%,#ffa300 46.6%,#ffa700 54.5%,#ffa400 63%,#ff9100 84.7%,#ff9100 92.1%,#ff9700 100%)"></i><i style="background:linear-gradient(90deg,#ff9e00 0%,#ff9200 12.2%,#ff8f00 20.1%,#ff9100 28%,#ffa100 44.4%,#ffa500 52.4%,#ffa200 60.8%,#ff8f00 83.1%,#ff9000 91%,#ff9700 100%)"></i><i style="background:linear-gradient(90deg,#ff9a00 0%,#ff9000 10.6%,#ff8d00 18%,#ff9000 25.9%,#ff9f00 41.8%,#ffa300 49.7%,#ffa100 58.2%,#ff9100 74.6%,#ff8d00 81.5%,#ff8f00 89.9%,#ff9800 100%)"></i><i style="background:linear-gradient(90deg,#ff9600 0%,#ff8d00 10.1%,#ff8b00 18.5%,#ff9f00 41.3%,#ffa100 50.3%,#ff9e00 57.7%,#ff8e00 74.1%,#ff8b00 81.5%,#ff8e00 89.4%,#f90 100%)"></i><i style="background:linear-gradient(90deg,#ff9200 0%,#ff8a00 9%,#ff8a00 16.9%,#ff9d00 39.2%,#ffa000 47.6%,#ff9c00 55.6%,#ff8c00 72%,#ff8900 79.9%,#ff8d00 87.8%,#f90 100%)"></i><i style="background:linear-gradient(90deg,#ff8e00 0%,#f80 7.9%,#f80 15.3%,#ff9b00 36.5%,#ff9e00 45%,#ff9a00 52.9%,#ff8a00 69.8%,#f80 78.3%,#ff8c00 86.2%,#f90 100%)"></i><i style="background:linear-gradient(90deg,#ff8a00 0%,#ff8600 6.9%,#ff8700 13.8%,#f90 34.4%,#ff9c00 42.9%,#f90 50.8%,#f80 67.7%,#ff8600 76.2%,#ff8a00 83.6%,#ff9a00 100%)"></i><i style="background:linear-gradient(90deg,#ff8700 0%,#ff8500 12.2%,#ff9700 31.7%,#ff9b00 40.2%,#ff9700 48.1%,#ff8600 66.1%,#ff8400 74.6%,#f80 81.5%,#f90 100%)"></i><i style="background:linear-gradient(90deg,#ff8300 0%,#ff8400 10.6%,#ff9600 29.6%,#f90 37.6%,#ff9500 46%,#ff8400 64%,#ff8200 72.5%,#ff9800 100%)"></i><i style="background:linear-gradient(90deg,#ff8100 0%,#ff8200 9%,#ff9400 27%,#ff9700 35.4%,#ff9400 43.9%,#ff8300 61.4%,#ff8100 70.4%,#ff8500 77.8%,#ff9400 93.1%,#ff9700 100%)"></i><i style="background:linear-gradient(90deg,#ff7f00 0%,#ff8100 7.9%,#ff9100 23.8%,#ff9500 31.2%,#ff9300 39.7%,#ff8200 57.7%,#ff7f00 66.1%,#ff8200 74.6%,#ff9300 92.1%,#ff9500 100%)"></i><i style="background:linear-gradient(90deg,#ff7d00 0%,#ff9400 29.1%,#ff9200 37.6%,#ff8000 55.6%,#ff7d00 63.5%,#ff8000 72%,#ff9200 90.5%,#ff9300 100%)"></i><i style="background:linear-gradient(90deg,#ff7c00 0%,#ff9200 27%,#ff9000 35.4%,#ff7f00 52.9%,#ff7b00 61.4%,#ff7f00 69.8%,#ff9100 88.9%,#ff9100 100%)"></i><i style="background:linear-gradient(90deg,#ff7b00 0%,#ff8c00 17.5%,#ff9000 24.9%,#ff8e00 33.3%,#ff7d00 50.8%,#ff7a00 59.3%,#ff7d00 67.7%,#ff8f00 87.3%,#ff9000 93.7%,#ff8d00 100%)"></i><i style="background:linear-gradient(90deg,#ff7b00 0%,#ff8b00 15.3%,#ff8f00 23.3%,#ff8c00 31.7%,#ff7c00 48.7%,#ff7800 56.6%,#ff7b00 65.1%,#ff8e00 85.7%,#ff8f00 92.6%,#ff8a00 100%)"></i><i style="background:linear-gradient(90deg,#ff7b00 0%,#ff8900 13.2%,#ff8d00 21.2%,#ff8b00 29.6%,#ff7a00 46%,#ff7600 54%,#ff7900 62.4%,#ff8d00 84.7%,#ff8c00 92.1%,#ff8600 100%)"></i><i style="background:linear-gradient(90deg,#ff7c00 0%,#f80 11.6%,#ff8c00 19.6%,#ff8900 27.5%,#ff7800 43.9%,#ff7500 51.9%,#f70 60.3%,#ff8700 76.2%,#ff8b00 83.1%,#ff8a00 91%,#ff8200 100%)"></i><i style="background:linear-gradient(90deg,#ff7d00 0%,#ff8700 10.6%,#ff8a00 18%,#ff8700 25.4%,#f70 41.8%,#ff7300 49.2%,#ff7500 57.7%,#ff8600 74.1%,#ff8a00 81.5%,#f80 89.4%,#ff7e00 100%)"></i><i style="background:linear-gradient(90deg,#ff7d00 0%,#ff8700 10.1%,#f80 18%,#ff8400 24.9%,#ff7400 41.3%,#ff7100 49.7%,#ff7500 57.7%,#ff8500 73.5%,#f80 81.5%,#ff8500 89.4%,#ff7a00 100%)"></i><i style="background:linear-gradient(90deg,#ff7e00 0%,#ff8600 9%,#ff8600 16.4%,#ff7200 38.6%,#ff6f00 47.1%,#ff7300 55%,#ff8400 72%,#ff8700 79.9%,#ff8300 87.8%,#ff7600 100%)"></i><i style="background:linear-gradient(90deg,#ff7f00 0%,#ff8400 7.9%,#ff8400 14.8%,#ff7100 36.5%,#ff6e00 45%,#ff7200 52.9%,#ff8200 69.8%,#ff8500 77.8%,#ff8100 85.7%,#ff7200 100%)"></i><i style="background:linear-gradient(90deg,#ff7f00 0%,#ff8300 6.9%,#ff8200 13.8%,#ff6f00 33.9%,#ff6c00 42.3%,#ff6f00 50.3%,#ff8100 67.7%,#ff8300 76.2%,#ff7f00 83.6%,#ff6f00 100%)"></i><i style="background:linear-gradient(90deg,#ff7f00 0%,#ff8000 12.2%,#ff6d00 31.7%,#ff6a00 40.2%,#ff6e00 48.1%,#ff7f00 65.6%,#ff8100 74.1%,#ff7d00 81.5%,#ff6c00 100%)"></i><i style="background:linear-gradient(90deg,#ff7f00 0%,#ff7e00 10.6%,#ff6c00 29.1%,#ff6800 37.6%,#ff6c00 46%,#ff7e00 63.5%,#ff8000 72.5%,#ff6900 100%)"></i><i style="background:linear-gradient(90deg,#ff7e00 0%,#ff7c00 9%,#ff6a00 27%,#ff6700 35.4%,#ff6a00 43.9%,#ff7c00 61.4%,#ff7e00 70.4%,#ff7900 77.8%,#ff6a00 92.6%,#ff6700 100%)"></i><i style="background:linear-gradient(90deg,#ff7c00 0%,#ff7a00 7.9%,#ff6900 23.8%,#ff6500 31.2%,#ff6700 39.7%,#ff7900 57.7%,#ff7c00 66.1%,#ff7900 74.6%,#ff6700 91.5%,#ff6500 100%)"></i><i style="background:linear-gradient(90deg,#ff7b00 0%,#ff6300 29.1%,#ff6500 37.6%,#f70 55%,#ff7b00 63.5%,#f70 72%,#ff6500 90.5%,#ff6400 100%)"></i><i style="background:linear-gradient(90deg,#ff7800 0%,#ff6500 20.1%,#ff6100 27%,#ff6400 35.4%,#ff7500 52.9%,#ff7900 61.4%,#ff7500 69.8%,#ff6300 88.9%,#ff6300 100%)"></i><i style="background:linear-gradient(90deg,#ff7500 0%,#ff6400 17.5%,#ff6000 24.9%,#ff6200 33.3%,#ff7300 50.8%,#f70 58.7%,#ff7400 67.2%,#ff6100 87.3%,#ff6000 93.7%,#ff6300 100%)"></i><i style="background:linear-gradient(90deg,#ff7200 0%,#ff6200 15.3%,#ff5e00 23.3%,#ff6000 31.2%,#ff7200 48.7%,#ff7500 56.6%,#ff7200 65.1%,#ff5e00 85.7%,#ff5e00 92.6%,#ff6300 100%)"></i><i style="background:linear-gradient(90deg,#ff6e00 0%,#ff6000 13.2%,#ff5c00 21.2%,#ff5e00 29.6%,#ff6f00 46%,#ff7400 54%,#ff7100 62.4%,#ff5c00 84.7%,#ff5d00 92.1%,#ff6300 100%)"></i><i style="background:linear-gradient(90deg,#ff6a00 0%,#ff5e00 11.6%,#ff5a00 19.6%,#ff5d00 27.5%,#ff6e00 43.9%,#ff7200 51.9%,#ff6f00 60.3%,#ff5e00 76.2%,#ff5a00 83.1%,#ff5b00 91%,#ff6400 100%)"></i><i style="background:linear-gradient(90deg,#f60 0%,#ff5b00 10.6%,#ff5800 18%,#ff5b00 25.4%,#ff6c00 41.8%,#ff7000 49.2%,#ff6d00 57.7%,#ff5c00 74.1%,#ff5800 81.5%,#ff5a00 89.4%,#ff6400 100%)"></i><i style="background:linear-gradient(90deg,#ff6100 0%,#ff5800 10.1%,#ff5600 18%,#ff5b00 25.4%,#ff6b00 41.3%,#ff6e00 49.7%,#ff6a00 57.7%,#ff5900 73.5%,#ff5600 81.5%,#ff5900 89.4%,#ff6500 100%)"></i><i style="background:linear-gradient(90deg,#ff5d00 0%,#f50 9%,#ff5400 16.4%,#ff6900 39.2%,#ff6c00 47.6%,#ff6800 55%,#ff5700 72%,#ff5400 79.9%,#ff5800 87.8%,#ff6500 100%)"></i><i style="background:linear-gradient(90deg,#ff5900 0%,#ff5300 7.9%,#ff5300 14.8%,#ff6700 36.5%,#ff6a00 45%,#f60 52.9%,#f50 69.8%,#ff5200 77.8%,#ff5600 85.7%,#f60 100%)"></i><i style="background:linear-gradient(90deg,#f50 0%,#ff5000 6.9%,#ff5100 13.8%,#ff6500 33.9%,#ff6800 42.3%,#ff6400 50.8%,#ff5300 67.7%,#ff5000 76.2%,#ff5400 83.6%,#ff6500 100%)"></i><i style="background:linear-gradient(90deg,#ff5100 0%,#ff4e00 6.3%,#ff4f00 12.2%,#ff6300 31.7%,#f60 40.2%,#ff6300 48.1%,#ff5000 66.1%,#ff4e00 74.6%,#ff5200 81.5%,#ff6500 100%)"></i><i style="background:linear-gradient(90deg,#ff4e00 0%,#ff4e00 10.6%,#ff6100 29.6%,#ff6500 38.1%,#ff6100 46%,#ff4f00 63.5%,#ff4c00 72.5%,#ff6400 100%)"></i><i style="background:linear-gradient(90deg,#ff4b00 0%,#ff4d00 9.5%,#ff5f00 27%,#ff6300 35.4%,#ff5f00 43.9%,#ff4c00 61.9%,#ff4a00 70.4%,#ff4f00 77.8%,#ff5f00 93.1%,#ff6300 100%)"></i><i style="background:linear-gradient(90deg,#ff4800 0%,#ff4b00 8.5%,#ff5c00 23.8%,#ff6000 31.2%,#ff5e00 40.2%,#ff4c00 57.7%,#ff4800 66.1%,#ff4c00 74.6%,#ff5e00 92.1%,#ff6100 100%)"></i><i style="background:linear-gradient(90deg,#ff4600 0%,#ff4a00 6.9%,#ff5a00 21.7%,#ff5e00 29.1%,#ff5c00 38.1%,#ff4a00 55.6%,#ff4600 64%,#ff4a00 72.5%,#ff5d00 90.5%,#ff5e00 100%)"></i><i style="background:linear-gradient(90deg,#ff4500 0%,#ff5c00 27%,#ff5b00 35.4%,#ff4800 53.4%,#f40 61.9%,#ff4800 70.4%,#ff5b00 88.9%,#ff5b00 100%)"></i><i style="background:linear-gradient(90deg,#f40 0%,#ff5600 18%,#ff5b00 25.4%,#ff5800 33.9%,#ff4600 51.3%,#ff4200 59.3%,#ff4600 67.7%,#ff5900 87.3%,#ff5b00 93.7%,#ff5800 100%)"></i><i style="background:linear-gradient(90deg,#ff4300 0%,#ff5400 15.9%,#ff5900 23.3%,#ff5600 31.7%,#f40 49.2%,#ff4000 57.1%,#f40 65.6%,#ff5800 86.2%,#ff5800 93.1%,#ff5400 100%)"></i><i style="background:linear-gradient(90deg,#ff4300 0%,#ff5300 13.8%,#ff5700 21.7%,#ff5400 29.6%,#ff4200 46.6%,#ff3e00 54.5%,#ff4100 63%,#ff5600 84.7%,#ff5600 92.1%,#ff5000 100%)"></i><i style="background:linear-gradient(90deg,#f40 0%,#ff5100 12.2%,#f50 20.1%,#ff5200 28%,#ff4000 44.4%,#ff3c00 52.4%,#ff3f00 60.8%,#ff5400 83.1%,#ff5300 91%,#ff4b00 100%)"></i><i style="background:linear-gradient(90deg,#f40 0%,#ff5000 10.6%,#ff5300 18%,#ff5000 25.9%,#ff3e00 42.3%,#ff3a00 49.7%,#ff3d00 58.2%,#ff4e00 74.6%,#ff5300 81.5%,#ff5100 89.9%,#ff4700 100%)"></i><i style="background:linear-gradient(90deg,#f40 0%,#ff4f00 10.1%,#ff5100 18.5%,#ff4c00 25.4%,#ff3b00 41.8%,#ff3800 50.3%,#ff3c00 58.2%,#ff4e00 74.1%,#ff5100 82%,#ff4e00 89.4%,#ff4200 100%)"></i><i style="background:linear-gradient(90deg,#ff4500 0%,#ff4d00 9%,#ff4e00 16.9%,#ff3900 39.7%,#ff3600 48.1%,#ff3a00 55.6%,#ff4c00 72%,#ff4f00 79.9%,#ff4b00 87.8%,#ff3d00 100%)"></i><i style="background:linear-gradient(90deg,#ff4500 0%,#ff4c00 7.9%,#ff4c00 15.3%,#ff3700 37%,#ff3400 45.5%,#ff3800 53.4%,#ff4a00 70.4%,#ff4d00 78.3%,#ff4900 86.2%,#ff3900 100%)"></i><i style="background:linear-gradient(90deg,#ff4600 0%,#ff4a00 6.9%,#ff4a00 13.8%,#ff3500 34.4%,#ff3200 42.9%,#ff3600 51.3%,#ff4800 68.3%,#ff4b00 76.7%,#ff4700 84.1%,#ff3500 100%)"></i><i style="background:linear-gradient(90deg,#ff4600 0%,#ff4900 6.3%,#ff4800 12.7%,#f30 32.3%,#ff3000 40.7%,#f30 48.7%,#ff4600 66.1%,#ff4900 74.6%,#ff4500 82%,#ff3200 100%)"></i><i style="background:linear-gradient(90deg,#ff4500 0%,#ff4500 11.1%,#ff3100 30.2%,#ff2e00 38.6%,#ff3100 46.6%,#f40 64%,#ff4700 73%,#ff4300 79.4%,#ff2e00 100%)"></i><i style="background:linear-gradient(90deg,#f40 0%,#ff4300 9.5%,#ff3000 27.5%,#ff2c00 36%,#ff2f00 44.4%,#ff4300 62.4%,#ff4500 70.9%,#ff4000 78.3%,#ff2f00 93.1%,#ff2c00 100%)"></i><i style="background:linear-gradient(90deg,#ff4300 0%,#ff4000 7.9%,#ff2e00 25.4%,#ff2900 33.9%,#ff2d00 42.3%,#ff4100 60.3%,#ff4300 68.8%,#ff3e00 76.2%,#ff2c00 92.1%,#ff2900 100%)"></i><i style="background:linear-gradient(90deg,#ff4100 0%,#ff3e00 6.9%,#ff2c00 22.2%,#ff2800 29.6%,#ff2a00 38.6%,#ff3d00 56.1%,#ff4100 64.6%,#ff3d00 73%,#ff2a00 91%,#ff2800 100%)"></i><i style="background:linear-gradient(90deg,#ff3e00 0%,#ff2500 27.5%,#ff2800 36.5%,#ff3b00 54%,#ff3f00 62.4%,#ff3b00 70.9%,#ff2700 89.4%,#ff2700 100%)"></i><i style="background:linear-gradient(90deg,#ff3b00 0%,#ff2800 18.5%,#ff2300 25.9%,#ff2600 34.4%,#ff3900 51.9%,#ff3d00 59.8%,#ff3900 68.3%,#ff2400 87.8%,#ff2300 93.7%,#ff2600 100%)"></i><i style="background:linear-gradient(90deg,#ff3800 0%,#ff2500 16.4%,#ff2100 23.8%,#ff2300 32.3%,#ff3600 49.7%,#ff3a00 57.7%,#ff3700 66.1%,#f20 86.8%,#ff2100 93.1%,#ff2500 100%)"></i><i style="background:linear-gradient(90deg,#f30 0%,#ff2300 14.3%,#ff1f00 22.2%,#f20 30.7%,#ff3400 47.1%,#ff3800 55%,#ff3500 63.5%,#ff1f00 85.2%,#ff1f00 92.1%,#ff2500 100%)"></i><i style="background:linear-gradient(90deg,#ff2f00 0%,#ff2000 12.7%,#ff1c00 20.6%,#ff1f00 28.6%,#ff3200 45%,#ff3600 52.9%,#f30 61.4%,#ff1d00 83.6%,#ff1d00 91%,#ff2600 100%)"></i><i style="background:linear-gradient(90deg,#ff2a00 0%,#ff1e00 11.1%,#ff1a00 18.5%,#ff1d00 26.5%,#ff3000 42.9%,#ff3400 50.8%,#ff3100 59.3%,#ff1f00 75.1%,#ff1a00 82%,#ff1c00 89.9%,#ff2600 100%)"></i><i style="background:linear-gradient(90deg,#ff2600 0%,#ff1a00 10.6%,#ff1800 19%,#ff1d00 26.5%,#ff2f00 42.3%,#ff3200 50.8%,#ff2d00 58.7%,#ff1b00 75.1%,#ff1800 82.5%,#ff1b00 89.9%,#ff2600 100%)"></i><i style="background:linear-gradient(90deg,#ff2100 0%,#ff1700 9.5%,#ff1600 17.5%,#ff1b00 24.3%,#ff2d00 40.2%,#ff3000 48.7%,#ff2b00 56.6%,#ff1900 73%,#ff1600 81%,#ff1900 88.4%,#ff2700 100%)"></i><i style="background:linear-gradient(90deg,#ff1c00 0%,#ff1400 8.5%,#ff1400 15.9%,#ff2a00 38.1%,#ff2d00 46.6%,#ff2900 54.5%,#ff1600 70.9%,#ff1300 78.8%,#ff1800 86.8%,#ff2700 100%)"></i><i style="background:linear-gradient(90deg,#ff1700 0%,#fe1200 7.4%,#fe1200 14.3%,#ff2800 35.4%,#ff2b00 43.9%,#ff2700 51.9%,#ff1400 68.8%,#fd1100 77.2%,#ff1600 85.2%,#ff2700 100%)"></i><i style="background:linear-gradient(90deg,#ff1300 0%,#fa0f00 6.9%,#fc1000 13.2%,#ff1300 16.9%,#ff2600 33.3%,#ff2900 41.8%,#ff2500 49.7%,#fd1200 67.2%,#fa0f00 75.7%,#ff1300 82.5%,#ff2700 100%)"></i><i style="background:linear-gradient(90deg,#fa0f00 0%,#f80d00 5.8%,#fa0e00 11.6%,#ff1300 16.9%,#ff2300 30.7%,#ff2700 39.2%,#ff2300 47.6%,#ff1300 60.8%,#f90e00 67.7%,#f80d00 73.5%,#ff1300 82.5%,#ff2600 100%)"></i><i style="background:linear-gradient(90deg,#f60c00 0%,#f70d00 10.1%,#ff1300 16.9%,#f20 29.1%,#ff2500 37%,#ff2100 45%,#ff1300 57.1%,#f60c00 65.1%,#f50b00 71.4%,#ff1300 82%,#ff2000 93.1%,#ff2500 100%)"></i><i style="background:linear-gradient(90deg,#f30900 0%,#f40a00 7.4%,#ff1300 16.4%,#ff2000 27%,#ff2300 34.9%,#ff1f00 42.9%,#ff1300 53.4%,#f40a00 62.4%,#f30900 69.8%,#ff1300 81.5%,#ff1f00 92.1%,#ff2300 100%)"></i><i style="background:linear-gradient(90deg,#f00700 0%,#f30900 6.9%,#ff1300 15.9%,#ff1d00 24.3%,#ff2100 30.7%,#ff1f00 39.2%,#ff1300 49.7%,#f30900 58.7%,#f00700 65.6%,#f30a00 72.5%,#ff1300 81%,#ff1f00 91.5%,#ff2100 100%)"></i><i style="background:linear-gradient(90deg,#ee0500 0%,#f20900 6.3%,#ff1300 15.3%,#ff1f00 28.6%,#ff1d00 36.5%,#ff1300 46%,#f20800 55.6%,#ed0500 63%,#f10800 70.4%,#ff1300 80.4%,#ff1e00 91%,#ff1e00 100%)"></i><i style="background:linear-gradient(90deg,#ec0400 0%,#ff1300 14.3%,#ff1d00 26.5%,#ff1c00 33.9%,#ff1300 42.3%,#ef0600 53.4%,#eb0300 60.8%,#ef0600 68.8%,#ff1300 79.9%,#ff1d00 90.5%,#ff1b00 100%)"></i><i style="background:linear-gradient(90deg,#ec0300 0%,#ff1300 13.8%,#ff1b00 24.9%,#ff1a00 31.2%,#ff1300 38.6%,#ee0500 50.8%,#e90100 58.7%,#ed0400 66.7%,#ff1300 79.4%,#ff1b00 89.9%,#ff1700 100%)"></i><i style="background:linear-gradient(90deg,#ec0300 0%,#ff1300 13.2%,#ff1a00 22.8%,#ff1800 28.6%,#ff1300 34.9%,#eb0200 49.2%,#e60000 57.1%,#eb0200 64.6%,#ff1300 78.8%,#ff1a00 89.4%,#ff1300 100%)"></i><i style="background:linear-gradient(90deg,#ec0300 0%,#ff1300 12.7%,#ff1800 21.2%,#ff1300 31.7%,#e80000 47.6%,#e40000 54.5%,#e80000 61.9%,#ff1300 78.3%,#ff1800 88.9%,#ff1300 96.8%,#fb0f00 100%)"></i><i style="background:linear-gradient(90deg,#ed0400 0%,#ff1300 12.7%,#ff1600 20.1%,#ff1300 27.5%,#e80000 43.4%,#e20000 51.9%,#e80000 61.9%,#ff1300 77.8%,#ff1600 88.4%,#ff1300 93.1%,#f50b00 100%)"></i><i style="background:linear-gradient(90deg,#ee0500 0%,#ff1300 12.7%,#ff1300 23.8%,#e80000 40.2%,#e00000 49.2%,#e20000 55%,#e80000 61.4%,#ff1300 77.8%,#ff1300 88.9%,#f00700 100%)"></i><i style="background:linear-gradient(90deg,#f00600 0%,#fd1100 10.1%,#ff1300 18%,#f90e00 24.9%,#e80000 36.5%,#e00000 43.4%,#de0000 49.7%,#e80000 60.3%,#fc1000 74.1%,#ff1300 83.1%,#fa0f00 89.9%,#eb0200 100%)"></i><i style="background:linear-gradient(90deg,#f10800 0%,#fc1000 9%,#fd1100 16.4%,#f70c00 23.3%,#e80000 33.3%,#df0000 40.7%,#dc0000 47.6%,#e70000 59.3%,#f90e00 71.4%,#fd1200 79.9%,#f80d00 87.8%,#e60000 100%)"></i></div><div class="f" style="left:1165.5px;top:1263.5px;width:554.7px;height:851.5px"><i style="background:linear-gradient(90deg,#30ffc6 0%,#23ffd4 10.1%,#21ffd6 18%,#27ffd0 25.4%,#3effb9 41.3%,#42ffb5 49.7%,#3cffbb 57.7%,#24ffd2 74.1%,#21ffd6 81.5%,#25ffd1 89.4%,#35ffc2 100%)"></i><i style="background:linear-gradient(90deg,#2affcd 0%,#21ffd6 7.9%,#20ffd7 15.3%,#26ffd0 22.2%,#3dffba 37%,#42ffb5 45.5%,#3cffbb 53.4%,#23ffd4 70.4%,#1fffd8 78.8%,#25ffd1 86.8%,#3affbd 100%)"></i><i style="background:linear-gradient(90deg,#23ffd4 0%,#1dffda 6.9%,#1effd8 13.2%,#3cffbb 33.3%,#41ffb6 41.8%,#3cffbb 49.7%,#20ffd6 67.2%,#1dffda 75.7%,#23ffd4 83.1%,#3effb9 100%)"></i><i style="background:linear-gradient(90deg,#1bffdb 0%,#19ffde 5.3%,#1cffdb 10.6%,#3affbd 29.1%,#40ffb6 37.6%,#3affbc 46%,#1dffda 64%,#1affdd 72.5%,#1fffd7 78.8%,#38ffbf 93.1%,#40ffb7 100%)"></i><i style="background:linear-gradient(90deg,#15ffe2 0%,#19ffde 7.9%,#38ffbf 25.4%,#3fffb8 33.9%,#39ffbe 42.3%,#18ffde 60.3%,#15ffe2 68.8%,#1dffda 76.2%,#3affbd 92.1%,#3fffb8 100%)"></i><i style="background:linear-gradient(90deg,#06edf1 0%,#0af3ec 4.8%,#15ffe2 10.6%,#2bffcc 21.2%,#33ffc4 28.6%,#32ffc4 32.8%,#2effc9 37.6%,#15ffe2 50.3%,#09f1ee 57.1%,#05ecf1 63%,#09f0ee 68.8%,#15ffe1 76.2%,#30ffc7 89.9%,#33ffc4 95.2%,#31ffc6 100%)"></i><i style="background:linear-gradient(90deg,#00c9ff 0%,#00dcff 7.9%,#00e5f7 11.1%,#0ef7e9 18%,#15ffe2 23.3%,#16ffe1 28%,#12fce5 32.8%,#01e6f6 41.8%,#00dcff 45.5%,#00caff 52.9%,#00c4ff 59.3%,#00caff 65.6%,#00dbff 73%,#00e5f7 76.7%,#0cf5ea 82.5%,#13fee3 87.3%,#15ffe2 95.8%,#0ff8e7 100%)"></i><i style="background:linear-gradient(90deg,#009fff 0%,#00c6ff 13.8%,#00cfff 18%,#00d2ff 21.7%,#00d1ff 25.9%,#00cbff 30.2%,#009dff 47.1%,#0095ff 51.3%,#0092ff 55%,#0094ff 59.3%,#009bff 63.5%,#00c4ff 78.3%,#00d0ff 84.7%,#00d3ff 88.4%,#00d1ff 92.1%,#00c1ff 100%)"></i><i style="background:linear-gradient(90deg,#0071ff 0%,#0093ff 11.1%,#009bff 15.3%,#009dff 19%,#009cff 22.8%,#0095ff 27%,#0064ff 43.4%,#0059ff 50.8%,#005aff 55%,#0061ff 59.3%,#0091ff 75.7%,#009dff 82.5%,#009dff 86.2%,#0098ff 90.5%,#007fff 100%)"></i><i style="background:linear-gradient(90deg,#006eff 0%,#0082ff 5.8%,#008cff 10.1%,#0091ff 14.3%,#0090ff 18%,#0084ff 24.9%,#0050ff 41.3%,#0049ff 45.5%,#0048ff 49.7%,#004cff 53.4%,#05f 57.7%,#08f 73.5%,#008fff 77.8%,#0091ff 81.5%,#008eff 85.2%,#0086ff 89.4%,#0063ff 100%)"></i><i style="background:linear-gradient(90deg,#008cff 0%,#09f 4.2%,#00a1ff 7.9%,#00a4ff 11.6%,#00a2ff 15.3%,#0094ff 21.7%,#005eff 37%,#0056ff 41.3%,#0054ff 45.5%,#0057ff 49.2%,#0061ff 53.4%,#009bff 70.4%,#00a2ff 74.6%,#00a4ff 78.3%,#00a0ff 82%,#0097ff 86.2%,#0065ff 100%)"></i><i style="background:linear-gradient(90deg,#00b0ff 0%,#00b9ff 3.7%,#00bdff 6.9%,#00bdff 10.1%,#00b9ff 13.2%,#00a9ff 19%,#0070ff 33.3%,#06f 37.6%,#0063ff 41.8%,#0067ff 45.5%,#0072ff 49.7%,#00a5ff 62.4%,#00b5ff 67.2%,#00bdff 71.4%,#00bdff 75.7%,#00b8ff 79.4%,#00adff 83.1%,#007cff 95.2%,#006cff 100%)"></i><i style="background:linear-gradient(90deg,#00d1ff 0%,#00d6ff 5.3%,#00ceff 10.6%,#0bf 15.9%,#007cff 29.1%,#0070ff 33.3%,#006bff 37.6%,#0070ff 41.8%,#007cff 46%,#00b9ff 58.7%,#0cf 63.5%,#00d5ff 67.7%,#00d6ff 72%,#00d1ff 75.1%,#00c5ff 78.8%,#0081ff 93.1%,#0074ff 96.8%,#006dff 100%)"></i><i style="background:linear-gradient(90deg,#08efef 0%,#07eef0 3.7%,#00e3f9 7.9%,#00daff 10.1%,#0086ff 25.4%,#07f 29.6%,#0072ff 33.9%,#07f 38.1%,#0086ff 42.3%,#00daff 57.7%,#00e3f9 59.8%,#07eef0 64.6%,#07eef0 68.8%,#00e6f7 72.5%,#00d9ff 75.7%,#0097ff 87.3%,#0083ff 91.5%,#0076ff 95.8%,#0072ff 100%)"></i><i style="background:linear-gradient(90deg,#19ffde 0%,#15ffe1 2.1%,#11fbe6 3.7%,#01e6f6 7.9%,#00d9ff 10.1%,#0093ff 21.2%,#0083ff 24.9%,#007cff 28%,#007cff 32.8%,#008bff 37.6%,#00a5ff 42.3%,#00d9ff 50.3%,#00e6f7 52.4%,#0df6e9 55.6%,#15ffe2 58.2%,#1bffdc 63%,#13fee3 68.3%,#00e5f7 73.5%,#00dbff 75.1%,#00a0ff 84.1%,#08f 88.9%,#007eff 92.1%,#007aff 94.7%,#007bff 97.4%,#0080ff 100%)"></i><i style="background:linear-gradient(90deg,#20ffd6 0%,#14fee3 3.2%,#01e7f6 6.9%,#00dbff 8.5%,#00b2ff 14.3%,#009bff 18%,#008bff 21.7%,#0084ff 24.9%,#0085ff 29.1%,#0095ff 33.9%,#00adff 38.1%,#00daff 44.4%,#00e5f7 46%,#15ffe1 50.3%,#26ffd1 55%,#2bffcc 59.3%,#26ffd1 63.5%,#15ffe2 68.3%,#00e5f7 72.5%,#00daff 74.1%,#00a0ff 82.5%,#0090ff 85.7%,#0086ff 88.9%,#0083ff 91.5%,#0084ff 94.2%,#008bff 96.8%,#0098ff 100%)"></i><i style="background:linear-gradient(90deg,#1fffd8 0%,#13fde3 2.1%,#00e6f7 5.3%,#00d9ff 6.9%,#00b5ff 11.6%,#009fff 15.3%,#0090ff 19%,#008aff 22.2%,#008fff 26.5%,#00a0ff 30.7%,#00b7ff 34.4%,#00dbff 39.2%,#01e7f5 40.7%,#15ffe2 43.9%,#25ffd2 47.1%,#31ffc5 50.3%,#38ffbf 52.9%,#3affbd 55.6%,#38ffbf 58.2%,#32ffc5 60.8%,#25ffd1 64%,#15ffe2 67.2%,#02e8f5 70.4%,#00dcff 72%,#00b8ff 76.7%,#00a0ff 80.4%,#0092ff 83.6%,#008bff 86.8%,#008bff 89.9%,#0093ff 93.1%,#00a1ff 96.3%,#00b9ff 100%)"></i><i style="background:linear-gradient(90deg,#15ffe1 0%,#00e6f6 3.2%,#00d9ff 4.8%,#00b8ff 9%,#00a2ff 12.7%,#0096ff 15.9%,#0092ff 19%,#0095ff 22.2%,#00a3ff 25.9%,#00b9ff 29.6%,#00d9ff 33.9%,#01e7f6 35.4%,#16ffe1 38.6%,#2cffcb 42.3%,#3bffbc 45.5%,#44ffb2 48.7%,#48ffaf 51.9%,#45ffb2 55%,#3cffbb 58.2%,#2dffca 61.4%,#14fee3 65.6%,#02e8f4 68.3%,#00dbff 69.8%,#0bf 74.1%,#00a4ff 77.8%,#0097ff 81%,#0092ff 84.1%,#0094ff 87.3%,#00a1ff 91%,#0bf 95.2%,#00dbff 99.5%,#00e0fb 100%)"></i><i style="background:linear-gradient(90deg,#06edf0 0%,#00e4f8 1.1%,#00dbff 2.1%,#00bfff 5.8%,#00abff 9%,#009dff 12.7%,#09f 15.9%,#009eff 19%,#00abff 22.2%,#00beff 25.4%,#00dbff 29.1%,#02e8f5 30.7%,#15ffe2 33.3%,#33ffc3 38.1%,#46ffb1 41.8%,#51ffa6 45.5%,#54ffa3 48.7%,#50ffa7 51.9%,#43ffb4 55.6%,#2fffc7 59.3%,#13fee3 63.5%,#01e7f6 66.1%,#00d9ff 67.7%,#00b0ff 73.5%,#009eff 77.8%,#09f 81.5%,#009dff 84.1%,#00a9ff 87.3%,#00bcff 90.5%,#00ddfe 94.7%,#00e6f7 95.8%,#12fce4 98.4%,#1dffd9 100%)"></i><i style="background:linear-gradient(90deg,#00d8ff 0%,#00bdff 3.7%,#00adff 6.9%,#00a3ff 10.1%,#00a2ff 13.2%,#00a8ff 15.9%,#00b3ff 18.5%,#00c3ff 21.2%,#00dbff 24.3%,#02e8f5 25.9%,#15ffe2 28.6%,#38ffbe 33.9%,#4cffaa 37.6%,#59ff9e 41.3%,#5dff9a 45%,#59ff9e 48.1%,#4dffaa 51.9%,#39ffbe 55.6%,#15ffe2 60.8%,#02e8f5 63.5%,#00dbff 65.1%,#00bfff 68.8%,#00aeff 72%,#00a4ff 75.1%,#00a2ff 77.8%,#00a5ff 80.4%,#00b1ff 83.6%,#00c4ff 86.8%,#00ddfe 89.9%,#00e5f7 91%,#16ffe0 94.2%,#3dffba 100%)"></i><i style="background:linear-gradient(90deg,#00c7ff 0%,#00b0ff 4.8%,#00abff 7.4%,#00abff 9.5%,#00afff 11.6%,#00b8ff 14.3%,#00c7ff 16.9%,#00daff 19.6%,#01e7f6 21.2%,#13fee3 23.8%,#17ffe0 24.3%,#3cffbb 29.6%,#53ffa4 33.9%,#60ff97 37.6%,#64ff92 41.3%,#5fff98 45%,#52ffa5 48.7%,#3dffba 52.4%,#15ffe2 58.2%,#03e9f4 60.8%,#00dcff 62.4%,#00b9ff 67.7%,#00afff 70.4%,#00abff 72.5%,#00abff 75.1%,#00b3ff 78.3%,#00c2ff 81.5%,#00d8ff 84.7%,#00e4f8 86.2%,#15ffe2 89.4%,#40ffb6 95.8%,#56ffa0 100%)"></i><i style="background:linear-gradient(90deg,#00bcff 0%,#00b2ff 4.2%,#00b6ff 7.9%,#00c3ff 11.1%,#00d9ff 14.8%,#00e5f7 16.4%,#15ffe1 19.6%,#41ffb5 25.9%,#59ff9e 30.2%,#66ff91 33.9%,#6bff8c 37.6%,#66ff91 41.3%,#59ff9e 45%,#41ffb6 49.2%,#15ffe2 55.6%,#00e5f7 58.7%,#00ddfe 59.8%,#00cbff 62.4%,#00bdff 65.1%,#00b5ff 67.7%,#00b2ff 70.4%,#00b5ff 72.5%,#00bcff 75.1%,#00caff 77.8%,#00dbff 80.4%,#01e7f5 82%,#13fee3 84.7%,#17ffe0 85.2%,#4fffa7 93.7%,#5fff98 96.8%,#68ff8f 100%)"></i><i style="background:linear-gradient(90deg,#00baff 0%,#00baff 2.6%,#00c2ff 5.8%,#00d9ff 10.1%,#00e4f8 11.6%,#13fde4 14.8%,#17ffe0 15.3%,#43ffb4 21.7%,#5cff9b 25.9%,#6cff8b 30.2%,#71ff86 33.9%,#6cff8b 37.6%,#5dff9a 41.8%,#44ffb3 46%,#14fee3 52.9%,#00e5f7 56.1%,#00daff 57.7%,#00c5ff 61.4%,#00bcff 64%,#00baff 66.1%,#0bf 68.3%,#00c1ff 70.9%,#00daff 75.7%,#00e6f7 77.2%,#15ffe2 80.4%,#48ffaf 87.8%,#5fff97 92.1%,#6eff89 96.3%,#71ff86 100%)"></i><i style="background:linear-gradient(90deg,#00c2ff 0%,#00caff 2.6%,#00dbff 5.8%,#00e6f7 7.4%,#14fee3 10.6%,#5bff9c 21.2%,#6cff8b 24.9%,#75ff82 28.6%,#74ff83 32.8%,#65ff92 37.6%,#4affad 42.3%,#17ffe0 49.7%,#00e5f7 53.4%,#00daff 55%,#00c6ff 59.3%,#00c0ff 63.5%,#00c9ff 67.7%,#00d9ff 70.9%,#00e3f8 72.5%,#16ffe1 76.2%,#50ffa7 84.7%,#69ff8e 89.4%,#71ff85 92.1%,#76ff81 94.7%,#75ff82 97.4%,#70ff87 100%)"></i><i style="background:linear-gradient(90deg,#00d4ff 0%,#00ddfe 1.6%,#01e7f6 3.2%,#14fee3 6.3%,#4bffac 14.3%,#62ff95 18%,#72ff85 21.7%,#7aff7d 25.4%,#78ff7f 29.6%,#68ff8f 34.4%,#50ffa7 38.6%,#15ffe1 47.1%,#02e8f5 50.3%,#00dbff 52.4%,#00caff 56.6%,#00c6ff 60.3%,#00cdff 63.5%,#00dbff 66.7%,#00e5f8 68.3%,#16ffe1 72%,#5dff9a 82.5%,#6dff8a 85.7%,#77ff80 88.9%,#7aff7c 91.5%,#79ff7d 94.2%,#73ff83 96.8%,#67ff90 100%)"></i><i style="background:linear-gradient(90deg,#07eef0 0%,#14fee3 2.1%,#17ffe0 2.6%,#4effa9 10.6%,#65ff92 14.3%,#77ff80 18.5%,#7eff78 22.2%,#7bff7b 26.5%,#6dff8a 30.7%,#52ffa5 35.4%,#17ffe0 43.9%,#14fee3 44.4%,#01e7f5 47.6%,#00dbff 49.7%,#00ceff 53.4%,#00cbff 56.6%,#00d0ff 59.3%,#00daff 61.9%,#00e5f7 64%,#15ffe2 67.7%,#60ff97 78.8%,#72ff85 82.5%,#7cff7b 85.7%,#7fff78 88.9%,#7aff7d 92.6%,#6cff8b 96.3%,#57ffa0 100%)"></i><i style="background:linear-gradient(90deg,#20ffd6 0%,#54ffa3 7.4%,#6dff8a 11.6%,#7cff7b 15.3%,#82ff74 19%,#7eff78 23.3%,#6fff88 27.5%,#57ffa0 31.7%,#15ffe1 41.3%,#01e7f6 45%,#00daff 47.6%,#00d1ff 50.8%,#00d0ff 53.4%,#00dbff 57.7%,#00e5f7 59.8%,#14ffe3 63.5%,#66ff91 75.7%,#77ff7f 79.4%,#81ff76 83.1%,#82ff75 86.8%,#77ff80 91%,#62ff94 95.2%,#43ffb4 100%)"></i><i style="background:linear-gradient(90deg,#3cffbb 0%,#63ff93 5.8%,#79ff7e 10.1%,#85ff72 14.3%,#85ff72 18%,#7cff7b 21.7%,#6bff8b 25.4%,#17ffe0 38.1%,#14fee3 38.6%,#01e6f6 42.3%,#00dbff 45%,#00d5ff 47.6%,#00d5ff 50.3%,#00daff 52.9%,#00e6f7 55.6%,#16ffe0 59.8%,#58ff9f 69.3%,#70ff86 73.5%,#81ff76 77.8%,#86ff71 82%,#80ff76 85.7%,#72ff84 89.4%,#5aff9d 93.7%,#2effc9 100%)"></i><i style="background:linear-gradient(90deg,#57ff9f 0%,#74ff83 4.8%,#83ff74 8.5%,#89ff6e 12.2%,#86ff71 15.9%,#7cff7b 19%,#6aff8d 22.8%,#15ffe2 35.4%,#02e8f4 39.2%,#00dcfe 42.3%,#00d9ff 43.9%,#00dbff 48.1%,#00e6f7 51.3%,#15ffe2 55.6%,#5dff9a 66.1%,#75ff82 70.4%,#86ff71 75.1%,#88ff6e 79.4%,#81ff76 83.1%,#6eff88 87.3%,#1affdd 100%)"></i><i style="background:linear-gradient(90deg,#70ff87 0%,#81ff76 3.7%,#89ff6d 6.9%,#8bff6b 10.1%,#85ff72 13.8%,#7bff7c 16.4%,#6bff8c 19.6%,#16ffe1 32.3%,#08f0ef 34.9%,#00e5f7 37%,#00defd 39.2%,#00dbff 42.9%,#00e5f7 47.1%,#16ffe1 51.9%,#61ff96 63%,#79ff7e 67.2%,#89ff6e 72%,#8bff6c 76.2%,#83ff74 79.9%,#72ff85 83.6%,#14ffe2 97.9%,#09f1ed 100%)"></i><i style="background:linear-gradient(90deg,#82ff75 0%,#8bff6c 3.2%,#8eff69 5.8%,#8bff6b 8.5%,#84ff72 11.1%,#79ff7d 13.8%,#68ff8f 16.9%,#16ffe1 29.1%,#0ef7e9 30.7%,#00e5f7 34.4%,#00ddfd 38.6%,#00dffc 40.7%,#01e7f6 43.4%,#17ffe0 48.1%,#62ff95 59.3%,#7aff7d 63.5%,#8aff6c 68.3%,#8cff6a 73%,#84ff73 76.7%,#73ff84 80.4%,#15ffe2 94.7%,#06edf1 97.9%,#00e4f8 100%)"></i><i style="background:linear-gradient(90deg,#8dff69 0%,#8eff69 4.2%,#81ff76 9%,#68ff8f 13.8%,#16ffe0 25.9%,#11fae6 27%,#00e6f6 31.2%,#00e0fb 34.9%,#01e7f6 39.2%,#0ff8e8 42.9%,#17ffe0 44.4%,#69ff8e 56.6%,#82ff75 61.4%,#8eff69 65.6%,#8eff69 69.8%,#84ff72 73.5%,#73ff84 77.2%,#15ffe2 91.5%,#01e7f6 96.3%,#00e0fb 100%)"></i><i style="background:linear-gradient(90deg,#91ff66 0%,#89ff6d 3.7%,#77ff80 7.9%,#16ffe0 22.8%,#06edf1 26.5%,#00e3f8 29.6%,#00e4f8 33.9%,#02e8f5 35.4%,#0bf3ec 38.1%,#15ffe2 40.2%,#2bffcc 43.9%,#65ff91 52.4%,#7bff7c 56.1%,#8cff6b 60.3%,#91ff66 64.6%,#8aff6c 68.8%,#79ff7e 73%,#15ffe2 88.4%,#0bf3ec 90.5%,#01e6f6 93.7%,#00e3f9 95.2%,#00e2fa 97.4%,#00e5f7 100%)"></i><i style="background:linear-gradient(90deg,#8cff6b 0%,#82ff75 2.6%,#71ff86 5.8%,#2cffca 15.9%,#16ffe1 19.6%,#06edf0 23.3%,#00e5f7 26.5%,#01e6f6 30.7%,#0df6e9 34.9%,#15ffe2 36.5%,#2bffcc 40.2%,#65ff91 48.7%,#7bff7c 52.4%,#8cff6a 56.6%,#92ff64 60.8%,#8cff6a 65.1%,#7bff7b 69.3%,#65ff91 73%,#2bffcc 81.5%,#15ffe2 85.2%,#07efef 88.4%,#00e5f7 91.5%,#00e4f8 94.2%,#02e8f5 96.8%,#0cf5eb 100%)"></i><i style="background:linear-gradient(90deg,#7fff78 0%,#6aff8d 3.7%,#2fffc8 12.2%,#16ffe1 16.4%,#07eef0 20.1%,#00e6f6 23.3%,#02e9f4 27.5%,#10fae7 31.7%,#15ffe2 32.8%,#2bffcc 36.5%,#65ff92 45%,#7bff7b 48.7%,#8dff6a 52.9%,#94ff63 56.6%,#90ff67 60.8%,#80ff76 65.1%,#6cff8b 68.8%,#2effc9 77.8%,#15ffe2 82%,#05ebf2 86.2%,#00e5f7 89.9%,#03e9f4 93.1%,#09f0ee 95.2%,#14fee3 97.9%,#1fffd8 100%)"></i><i style="background:linear-gradient(90deg,#6cff8b 0%,#2effc9 9%,#18ffde 12.7%,#13fde4 13.8%,#07eef0 16.9%,#01e7f6 20.6%,#04ebf2 24.3%,#13fde4 28.6%,#2bffcc 32.8%,#65ff92 41.3%,#7cff7b 45%,#8eff69 49.2%,#95ff62 52.9%,#91ff65 57.1%,#83ff74 61.4%,#6eff89 65.1%,#2dffca 74.6%,#14ffe2 78.8%,#0af1ed 81.5%,#04eaf3 83.6%,#01e7f6 87.3%,#08efef 91%,#14fee3 94.2%,#37ffc0 100%)"></i><i style="background:linear-gradient(90deg,#56ffa1 0%,#2dffc9 5.8%,#15ffe2 10.1%,#07efef 13.8%,#02e8f4 17.5%,#06eef0 21.2%,#13fde3 24.9%,#2bffcc 29.1%,#7cff7b 41.3%,#8eff68 45.5%,#96ff61 49.2%,#93ff64 53.4%,#85ff72 57.7%,#6dff8a 61.9%,#2fffc8 70.9%,#17ffe0 75.1%,#0af2ed 78.3%,#04eaf3 81%,#04eaf3 85.2%,#10f9e7 89.4%,#14ffe2 90.5%,#2cffcb 94.7%,#51ffa6 100%)"></i><i style="background:linear-gradient(90deg,#3effb9 0%,#26ffd1 3.7%,#15ffe2 6.9%,#0cf5ea 9%,#04eaf3 13.2%,#06edf1 16.9%,#16ffe0 21.7%,#2effc8 25.9%,#70ff87 35.4%,#87ff70 39.7%,#95ff62 43.9%,#97ff60 48.1%,#8fff68 51.9%,#7fff78 55.6%,#69ff8e 59.3%,#2effc9 67.7%,#16ffe1 72%,#07efef 76.2%,#04eaf3 79.9%,#09f1ee 83.6%,#15ffe2 86.8%,#1affdd 87.8%,#33ffc4 92.1%,#6aff8c 100%)"></i><i style="background:linear-gradient(90deg,#28ffcf 0%,#14ffe2 3.7%,#08f0ee 7.4%,#05ecf2 10.6%,#0af1ed 14.3%,#15ffe2 17.5%,#2bffcb 21.7%,#6dff8a 31.2%,#85ff72 35.4%,#95ff62 39.7%,#99ff5e 43.9%,#93ff64 47.6%,#81ff76 51.9%,#6bff8c 55.6%,#2dffca 64.6%,#16ffe1 68.8%,#07eef0 73.5%,#06ecf1 77.2%,#0af2ed 79.9%,#16ffe1 83.1%,#20ffd7 85.2%,#6bff8c 96.3%,#81ff76 100%)"></i><i style="background:linear-gradient(90deg,#16ffe0 0%,#0bf3eb 3.2%,#07eef0 6.3%,#08efef 9%,#0ff9e7 12.2%,#15ffe1 13.8%,#29ffce 17.5%,#6dff89 27.5%,#86ff71 31.7%,#96ff61 36%,#9aff5c 40.2%,#94ff62 43.9%,#83ff74 48.1%,#6dff8a 51.9%,#2fffc8 60.8%,#15ffe1 65.6%,#09f0ee 69.8%,#07efef 74.1%,#0bf4eb 76.2%,#14ffe3 78.8%,#1effd9 81%,#34ffc2 84.7%,#76ff81 94.2%,#87ff70 97.4%,#92ff65 100%)"></i><i style="background:linear-gradient(90deg,#0cf4eb 0%,#08f0ef 2.6%,#09f0ee 4.8%,#0cf5eb 6.9%,#15ffe2 9.5%,#2dffca 14.3%,#6eff88 23.8%,#84ff72 27.5%,#96ff61 31.7%,#9cff5b 36%,#96ff61 40.2%,#85ff72 44.4%,#6fff87 48.1%,#2effc9 57.7%,#15ffe2 62.4%,#09f1ed 66.7%,#0af1ed 70.9%,#15ffe1 75.1%,#25ffd2 78.3%,#70ff87 89.4%,#86ff71 93.1%,#95ff62 96.8%,#9bff5b 100%)"></i><i style="background:linear-gradient(90deg,#0af2ed 0%,#0ff8e8 3.7%,#14fee3 5.3%,#1dffda 7.4%,#35ffc2 11.6%,#83ff74 23.3%,#94ff63 27%,#9cff5b 30.2%,#9cff5a 34.4%,#8fff68 39.2%,#75ff82 43.9%,#37ffc0 52.9%,#21ffd6 56.6%,#15ffe2 59.3%,#10f9e7 60.8%,#0af2ed 65.1%,#10f9e7 69.3%,#15ffe2 70.9%,#21ffd6 73.5%,#37ffc0 77.2%,#75ff82 86.2%,#8fff68 91%,#9cff5a 95.8%,#9cff5b 100%)"></i><i style="background:linear-gradient(90deg,#11fbe6 0%,#16ffe1 1.6%,#2dffc9 6.3%,#72ff85 16.4%,#88ff6f 20.1%,#98ff5f 23.8%,#9fff58 27%,#9dff59 31.2%,#91ff66 35.4%,#77ff80 40.2%,#39ffbe 49.2%,#23ffd4 52.9%,#15ffe2 56.1%,#12fce5 57.1%,#0cf4eb 61.4%,#12fce5 65.6%,#15ffe2 66.7%,#23ffd4 69.8%,#39ffbe 73.5%,#7dff7a 83.6%,#97ff60 88.9%,#9dff59 91.5%,#a0ff57 94.2%,#9dff5a 96.8%,#94ff63 100%)"></i><i style="background:linear-gradient(90deg,#21ffd5 0%,#3affbd 4.2%,#70ff86 12.2%,#87ff70 15.9%,#98ff5f 19.6%,#a1ff56 23.3%,#9fff58 27.5%,#92ff64 31.7%,#7cff7b 36%,#3bffbc 45.5%,#25ffd2 49.2%,#14fee3 53.4%,#0ef7e9 57.1%,#13fde4 61.4%,#23ffd4 65.6%,#3bffbc 69.8%,#7fff77 79.9%,#90ff67 83.1%,#9cff5b 86.2%,#a1ff55 89.9%,#9fff58 93.1%,#96ff61 96.3%,#84ff73 100%)"></i><i style="background:linear-gradient(90deg,#39ffbe 0%,#77ff80 9%,#8cff6a 12.7%,#9dff59 16.9%,#a3ff53 20.6%,#a0ff57 24.3%,#91ff65 28.6%,#7aff7d 32.8%,#40ffb7 41.3%,#29ffcd 45%,#17ffdf 49.2%,#11fae6 52.9%,#14fee3 57.1%,#23ffd4 61.4%,#3bffbc 65.6%,#85ff72 76.7%,#97ff60 80.4%,#a1ff56 83.6%,#a3ff54 87.3%,#9dff5a 91%,#8bff6c 95.2%,#6eff89 100%)"></i><i style="background:linear-gradient(90deg,#55ffa1 0%,#80ff76 6.3%,#97ff60 10.6%,#a3ff53 14.8%,#a4ff52 19%,#9cff5b 22.8%,#8bff6c 26.5%,#3affbc 38.6%,#23ffd3 42.9%,#16ffe1 47.1%,#13fee3 51.3%,#1bffdc 55%,#2bffcc 58.7%,#41ffb6 62.4%,#7bff7c 70.9%,#93ff64 75.1%,#a0ff56 78.8%,#a5ff51 82.5%,#a1ff56 86.2%,#94ff62 89.9%,#7dff7a 94.2%,#55ffa1 100%)"></i><i style="background:linear-gradient(90deg,#73ff84 0%,#8fff67 4.8%,#a1ff56 9%,#a7ff50 12.7%,#a5ff52 16.4%,#9bff5c 19.6%,#89ff6e 23.3%,#3fffb8 34.4%,#28ffcf 38.6%,#19ffde 42.9%,#16ffe1 47.1%,#1dffda 50.8%,#2fffc8 55%,#45ffb2 58.7%,#7eff78 67.2%,#96ff61 71.4%,#a4ff53 75.7%,#a7ff4f 79.4%,#a1ff55 83.1%,#90ff66 87.3%,#7bff7c 91%,#3effb9 100%)"></i><i style="background:linear-gradient(90deg,#8dff6a 0%,#9eff58 3.7%,#a7ff50 6.9%,#a9ff4d 10.1%,#a4ff53 13.8%,#9aff5c 16.4%,#8aff6c 19.6%,#44ffb3 30.2%,#2cffcb 34.4%,#1cffda 38.6%,#18ffdf 42.9%,#1effd9 46.6%,#2fffc7 50.8%,#45ffb2 54.5%,#82ff75 63.5%,#99ff5e 67.7%,#a7ff50 72%,#a9ff4e 76.2%,#a1ff55 79.9%,#8fff68 84.1%,#42ffb4 95.8%,#2bffcc 100%)"></i><i style="background:linear-gradient(90deg,#a1ff56 0%,#a9ff4d 3.2%,#acff4b 5.8%,#a9ff4e 8.5%,#a2ff55 11.1%,#88ff6f 16.4%,#48ffae 25.9%,#30ffc7 30.2%,#20ffd7 34.4%,#1bffdc 38.6%,#20ffd7 42.3%,#30ffc7 46.6%,#49ffae 50.8%,#85ff72 59.8%,#9eff59 64.6%,#aaff4d 68.8%,#aaff4d 73%,#a3ff54 76.2%,#93ff64 79.9%,#3affbd 93.7%,#2affcd 96.8%,#1fffd7 100%)"></i><i style="background:linear-gradient(90deg,#adff4a 0%,#abff4b 4.2%,#9fff58 8.5%,#86ff71 13.2%,#4affad 22.2%,#34ffc3 25.9%,#23ffd3 30.2%,#1dffd9 34.4%,#23ffd4 38.6%,#34ffc3 42.9%,#49ffae 46.6%,#89ff6e 56.1%,#9fff58 60.3%,#acff4b 65.1%,#acff4b 69.3%,#a2ff54 73%,#91ff66 76.7%,#48ffaf 87.8%,#31ffc6 92.1%,#22ffd5 96.3%,#1dffd9 100%)"></i><i style="background:linear-gradient(90deg,#aeff49 0%,#a4ff52 3.7%,#93ff63 7.4%,#4bffac 18.5%,#36ffc1 22.2%,#29ffce 25.4%,#21ffd5 28.6%,#22ffd5 32.8%,#2effc9 37%,#46ffb1 41.8%,#82ff75 50.8%,#98ff5f 54.5%,#a9ff4e 58.7%,#b0ff47 63%,#aaff4c 67.2%,#9aff5c 71.4%,#82ff75 75.7%,#43ffb4 85.2%,#2cffcb 89.9%,#24ffd3 92.6%,#20ffd6 95.2%,#26ffd1 100%)"></i><i style="background:linear-gradient(90deg,#a6ff51 0%,#8bff6c 5.3%,#3dffba 17.5%,#2cffca 21.2%,#24ffd3 24.9%,#25ffd2 29.1%,#31ffc6 33.3%,#4affad 38.1%,#86ff71 47.1%,#9bff5c 50.8%,#abff4b 55%,#b1ff45 58.7%,#adff4a 63%,#9eff59 67.2%,#86ff70 71.4%,#44ffb2 81.5%,#34ffc3 84.7%,#2affcd 87.3%,#24ffd3 90.5%,#24ffd3 93.7%,#2affcc 96.8%,#37ffc0 100%)"></i><i style="background:linear-gradient(90deg,#95ff61 0%,#3effb8 13.8%,#2dffca 18%,#26ffd1 21.7%,#28ffcf 25.4%,#34ffc3 29.6%,#4dffaa 34.4%,#85ff71 42.9%,#9bff5c 46.6%,#acff4a 50.8%,#b3ff44 54.5%,#b0ff47 58.7%,#a2ff55 63%,#8bff6c 67.2%,#43ffb4 78.3%,#33ffc3 81.5%,#29ffcd 84.7%,#25ffd1 88.4%,#2affcc 92.1%,#38ffbf 95.8%,#4fffa8 100%)"></i><i style="background:linear-gradient(90deg,#80ff77 0%,#52ffa5 6.9%,#3bffbc 11.1%,#2dffca 14.8%,#28ffcf 18.5%,#2bffcb 22.2%,#3affbd 26.5%,#50ffa6 30.7%,#88ff6e 39.2%,#9eff59 42.9%,#adff4a 46.6%,#b5ff42 50.3%,#b3ff44 54.5%,#a5ff51 58.7%,#8fff68 63%,#41ffb5 75.1%,#31ffc5 78.8%,#29ffcd 82%,#28ffce 85.7%,#32ffc5 89.9%,#45ffb1 94.2%,#6aff8d 100%)"></i><i style="background:linear-gradient(90deg,#68ff8f 0%,#47ffb0 5.3%,#34ffc3 9.5%,#2bffcc 13.8%,#2cffcb 17.5%,#34ffc3 20.6%,#44ffb3 24.3%,#91ff65 36.5%,#a7ff4f 40.7%,#b4ff42 45%,#b6ff40 49.2%,#afff48 52.9%,#9fff58 56.6%,#8aff6d 60.3%,#52ffa5 68.8%,#3bffbb 73%,#2dffc9 77.2%,#2affcd 81%,#30ffc7 84.7%,#40ffb7 88.9%,#58ff9f 93.1%,#86ff71 100%)"></i><i style="background:linear-gradient(90deg,#52ffa5 0%,#3cffbb 4.2%,#30ffc7 7.9%,#2cffcb 11.1%,#30ffc7 14.8%,#3affbd 18%,#49ffae 21.2%,#90ff66 32.3%,#a7ff50 36.5%,#b5ff42 40.7%,#b8ff3e 45%,#b2ff45 48.7%,#a1ff56 52.9%,#8bff6b 56.6%,#54ffa3 65.1%,#3bffbc 69.8%,#2effc8 74.1%,#2dffca 77.8%,#33ffc3 81.5%,#45ffb2 85.7%,#9eff59 100%)"></i><i style="background:linear-gradient(90deg,#40ffb7 0%,#34ffc2 3.2%,#2fffc8 6.3%,#2fffc8 9%,#35ffc2 12.2%,#3effb9 14.8%,#4effa9 18%,#8fff68 28%,#a6ff50 32.3%,#b6ff41 36.5%,#baff3d 40.7%,#b5ff42 44.4%,#a5ff52 48.7%,#90ff67 52.4%,#52ffa4 61.9%,#3dffba 66.1%,#30ffc6 70.4%,#2fffc8 74.6%,#37ffc0 78.3%,#47ffb0 82%,#97ff60 94.7%,#b0ff47 100%)"></i><i style="background:linear-gradient(90deg,#35ffc2 0%,#30ffc7 4.8%,#34ffc3 7.4%,#3bffbb 10.1%,#52ffa4 14.8%,#90ff67 24.3%,#a5ff52 28%,#b6ff41 32.3%,#bcff3b 36.5%,#b6ff40 40.7%,#a7ff50 45%,#8fff68 49.2%,#54ffa2 58.2%,#3dffba 63%,#31ffc5 67.2%,#31ffc6 71.4%,#3affbc 75.1%,#4bffac 78.8%,#92ff65 89.9%,#a6ff51 93.7%,#b3ff44 96.8%,#baff3c 100%)"></i><i style="background:linear-gradient(90deg,#31ffc6 0%,#35ffc2 3.7%,#43ffb4 7.9%,#59ff9d 12.2%,#a3ff54 23.8%,#b3ff44 27.5%,#bbff3c 30.7%,#bcff3b 34.9%,#afff47 39.7%,#97ff5f 44.4%,#5dff9a 53.4%,#48ffaf 57.1%,#37ffbf 61.4%,#31ffc6 65.6%,#36ffc0 69.8%,#46ffb0 74.1%,#5eff99 78.3%,#99ff5e 87.3%,#aeff49 91.5%,#bbff3c 95.8%,#bcff3b 100%)"></i><i style="background:linear-gradient(90deg,#36ffc1 0%,#3fffb8 3.2%,#50ffa6 6.9%,#94ff63 17.5%,#a9ff4e 21.2%,#b6ff41 24.3%,#bdff3a 27.5%,#bdff3a 31.7%,#b1ff45 36%,#9aff5d 40.7%,#5fff98 49.7%,#47ffaf 54%,#38ffbf 58.2%,#32ffc4 61.9%,#37ffc0 66.1%,#47ffb0 70.4%,#5eff99 74.6%,#9cff5b 84.1%,#b5ff42 89.4%,#bcff3b 92.1%,#beff39 94.7%,#bcff3a 97.4%,#b6ff41 100%)"></i><i style="background:linear-gradient(90deg,#41ffb5 0%,#5aff9d 4.8%,#a6ff51 16.9%,#b6ff41 20.6%,#bfff38 24.3%,#bdff39 28.6%,#b1ff45 32.8%,#99ff5e 37.6%,#5eff98 46.6%,#4affad 50.3%,#39ffbd 54.5%,#34ffc3 58.2%,#38ffbf 62.4%,#47ffb0 66.7%,#5eff99 70.9%,#9fff58 81%,#afff48 84.1%,#b9ff3e 86.8%,#bfff38 89.9%,#bfff38 93.1%,#b8ff3f 96.3%,#a9ff4e 100%)"></i><i style="background:linear-gradient(90deg,#53ffa4 0%,#a9ff4e 13.8%,#baff3d 18%,#c0ff36 21.7%,#beff39 25.4%,#b1ff45 29.6%,#9cff5b 33.9%,#61ff96 42.9%,#4cffab 46.6%,#3bffbb 50.8%,#35ffc2 54.5%,#39ffbe 58.7%,#47ffb0 63%,#5eff99 67.2%,#a5ff52 78.3%,#b4ff43 81.5%,#bdff3a 84.7%,#c1ff36 88.4%,#bbff3b 92.1%,#aeff49 95.8%,#97ff60 100%)"></i><i style="background:linear-gradient(90deg,#69ff8e 0%,#96ff60 6.9%,#aeff49 11.1%,#bdff3a 15.3%,#c2ff35 19%,#beff39 22.8%,#b2ff45 26.5%,#9bff5b 30.7%,#4fffa8 42.9%,#3dffb9 47.1%,#36ffc0 50.8%,#39ffbd 55%,#47ffb0 59.3%,#5dff99 63.5%,#a7ff50 75.1%,#b8ff3f 78.8%,#c0ff37 82%,#c2ff35 85.7%,#b9ff3e 89.9%,#a6ff51 94.2%,#82ff75 100%)"></i><i style="background:linear-gradient(90deg,#81ff76 0%,#a5ff51 5.8%,#b9ff3e 10.1%,#c2ff34 14.3%,#c2ff35 18%,#baff3d 21.2%,#aaff4d 24.9%,#5eff99 37%,#47ffaf 41.3%,#3affbd 45.5%,#38ffbf 49.7%,#3fffb8 53.4%,#51ffa6 57.7%,#9aff5c 69.3%,#b1ff46 73.5%,#bfff37 77.8%,#c3ff34 81.5%,#beff39 85.2%,#aeff48 89.4%,#97ff60 93.7%,#6dff8a 100%)"></i><i style="background:linear-gradient(90deg,#98ff5f 0%,#b2ff45 4.8%,#bfff37 8.5%,#c4ff32 12.2%,#c1ff36 15.9%,#b7ff40 19%,#a8ff4f 22.2%,#61ff96 33.3%,#4affad 37.6%,#3cffbb 41.8%,#39ffbe 46%,#3fffb7 49.7%,#50ffa6 54%,#66ff91 57.7%,#9dff5a 66.1%,#b6ff41 70.9%,#c2ff35 75.1%,#c4ff33 78.8%,#bdff3a 82.5%,#acff4b 86.8%,#59ff9e 100%)"></i><i style="background:linear-gradient(90deg,#acff4a 0%,#bcff3a 3.7%,#c4ff33 6.9%,#c5ff32 10.1%,#c0ff37 13.2%,#b7ff40 15.9%,#a8ff4f 19%,#64ff93 29.6%,#4dffaa 33.9%,#3effb9 38.1%,#3affbd 42.3%,#3fffb7 46%,#50ffa7 50.3%,#64ff92 54%,#9fff58 63%,#b7ff3f 67.7%,#c3ff33 72%,#c5ff32 76.2%,#bcff3b 79.9%,#acff4a 83.6%,#60ff97 95.8%,#4affad 100%)"></i><i style="background:linear-gradient(90deg,#bcff3b 0%,#c4ff32 3.2%,#c7ff30 5.8%,#c4ff32 8.5%,#beff39 11.1%,#a5ff52 16.4%,#64ff92 26.5%,#50ffa7 30.2%,#40ffb7 34.4%,#3bffbc 38.6%,#41ffb6 42.9%,#51ffa5 47.1%,#66ff90 50.8%,#a1ff56 59.8%,#b9ff3e 64.6%,#c5ff32 68.8%,#c6ff31 73%,#bfff38 76.2%,#afff47 79.9%,#5aff9d 93.7%,#4affad 96.8%,#3fffb7 100%)"></i><i style="background:linear-gradient(90deg,#c6ff31 0%,#c7ff30 4.2%,#baff3c 9%,#a2ff54 13.8%,#68ff8f 22.8%,#53ffa4 26.5%,#42ffb5 30.7%,#3cffbb 34.9%,#41ffb6 39.2%,#51ffa6 43.4%,#68ff8f 47.6%,#a3ff54 56.6%,#bbff3c 61.4%,#c6ff31 65.6%,#c6ff30 69.8%,#bdff39 73.5%,#adff4a 77.2%,#63ff93 88.9%,#4fffa7 92.6%,#42ffb5 96.3%,#3cffbb 100%)"></i><i style="background:linear-gradient(90deg,#c8ff2e 0%,#c2ff35 3.7%,#b4ff43 7.4%,#a0ff57 11.1%,#59ff9e 22.2%,#48ffaf 25.9%,#3effb8 29.6%,#3effb9 33.9%,#4bffac 38.6%,#63ff93 43.4%,#9eff59 52.4%,#b3ff44 56.1%,#c3ff34 60.3%,#c9ff2e 64.6%,#c3ff34 68.8%,#b3ff44 73%,#9eff59 76.7%,#61ff96 86.2%,#49ffae 91%,#3effb9 95.8%,#3fffb8 100%)"></i><i style="background:linear-gradient(90deg,#c4ff32 0%,#b9ff3d 3.2%,#a9ff4d 6.3%,#57ffa0 19.6%,#47ffb0 23.3%,#3fffb7 26.5%,#3fffb8 30.7%,#4cffaa 35.4%,#62ff95 39.7%,#9fff57 49.2%,#b4ff43 52.9%,#c4ff33 57.1%,#caff2d 60.8%,#c5ff32 65.1%,#b6ff41 69.3%,#9fff58 73.5%,#5eff99 83.6%,#46ffb1 88.9%,#40ffb7 91.5%,#3effb9 94.2%,#40ffb6 96.8%,#49ffae 100%)"></i><i style="background:linear-gradient(90deg,#baff3d 0%,#a4ff53 4.2%,#57ffa0 16.4%,#47ffaf 20.1%,#3fffb7 23.8%,#41ffb6 28%,#4effa9 32.3%,#63ff94 36.5%,#9eff59 45.5%,#b5ff41 49.7%,#c5ff32 54%,#caff2c 57.7%,#c6ff31 61.9%,#b6ff40 66.1%,#9fff58 70.4%,#5eff98 80.4%,#4effa8 83.6%,#45ffb2 86.2%,#3fffb8 89.9%,#40ffb6 93.1%,#48ffae 96.3%,#59ff9e 100%)"></i><i style="background:linear-gradient(90deg,#aaff4d 0%,#57ff9f 13.2%,#46ffb0 17.5%,#40ffb7 21.2%,#42ffb5 24.9%,#4fffa8 29.1%,#64ff92 33.3%,#9fff58 42.3%,#b4ff43 46%,#c5ff32 50.3%,#cbff2c 54%,#c8ff2f 58.2%,#b9ff3e 62.4%,#a3ff54 66.7%,#5cff9b 77.8%,#4dffaa 81%,#43ffb4 84.1%,#3fffb7 87.8%,#45ffb2 91.5%,#52ffa5 95.2%,#6cff8b 100%)"></i><i style="background:linear-gradient(90deg,#97ff60 0%,#6aff8d 6.9%,#53ffa4 11.1%,#45ffb1 14.8%,#40ffb7 18.5%,#44ffb3 22.2%,#52ffa5 26.5%,#69ff8e 30.7%,#b2ff45 42.3%,#c4ff33 46.6%,#cbff2b 50.3%,#c9ff2e 54.5%,#bcff3b 58.7%,#a6ff51 63%,#59ff9e 75.1%,#49ffad 78.8%,#42ffb5 82%,#41ffb6 85.7%,#4affac 89.9%,#5eff99 94.2%,#82ff75 100%)"></i><i style="background:linear-gradient(90deg,#82ff75 0%,#5eff99 5.8%,#4affac 10.1%,#41ffb6 14.3%,#42ffb4 18%,#4affac 21.2%,#5aff9c 24.9%,#a7ff4f 37%,#bdff3a 41.3%,#caff2d 45.5%,#ccff2b 49.7%,#c4ff33 53.4%,#b5ff42 57.1%,#a0ff57 60.8%,#68ff8e 69.3%,#52ffa5 73.5%,#44ffb3 77.8%,#41ffb6 81.5%,#46ffb1 85.2%,#54ffa3 88.9%,#6bff8c 93.1%,#98ff5f 100%)"></i><i style="background:linear-gradient(90deg,#6dff8a 0%,#53ffa4 4.8%,#46ffb1 8.5%,#41ffb6 12.2%,#45ffb2 15.9%,#4fffa8 19%,#5eff99 22.2%,#a5ff52 33.3%,#bcff3b 37.6%,#caff2d 41.8%,#cdff2a 46%,#c6ff31 49.7%,#b5ff42 54%,#a0ff57 57.7%,#68ff8e 66.1%,#50ffa7 70.9%,#43ffb3 75.1%,#42ffb5 78.8%,#48ffae 82.5%,#5aff9d 86.8%,#adff4a 100%)"></i><i style="background:linear-gradient(90deg,#5bff9c 0%,#4bffac 3.7%,#43ffb4 6.9%,#42ffb5 10.1%,#47ffb0 13.2%,#52ffa5 16.4%,#62ff95 19.6%,#a3ff54 29.6%,#baff3d 33.9%,#c9ff2e 38.1%,#cdff2a 42.3%,#c8ff2f 46%,#b8ff3f 50.3%,#a3ff54 54%,#65ff92 63.5%,#50ffa7 67.7%,#44ffb3 72%,#42ffb4 76.2%,#4bffac 79.9%,#5aff9c 83.6%,#a7ff50 95.8%,#bdff3a 100%)"></i><i style="background:linear-gradient(90deg,#4dffaa 0%,#44ffb3 3.2%,#42ffb5 5.8%,#44ffb3 8.5%,#4affac 11.1%,#62ff94 16.4%,#a3ff54 26.5%,#b8ff3f 30.2%,#c8ff2f 34.4%,#ceff29 38.6%,#c8ff2f 42.9%,#b7ff3f 47.1%,#a3ff54 50.8%,#68ff8f 59.8%,#50ffa7 64.6%,#44ffb3 68.8%,#43ffb4 73%,#49ffad 76.2%,#58ff9e 79.9%,#6dff89 83.6%,#aeff49 93.7%,#beff39 96.8%,#c9ff2e 100%)"></i><i style="background:linear-gradient(90deg,#44ffb3 0%,#43ffb4 4.2%,#4effa8 9%,#66ff91 13.8%,#a1ff56 22.8%,#b8ff3e 27%,#c8ff2f 31.2%,#ceff29 35.4%,#c8ff2f 39.7%,#b7ff40 43.9%,#a2ff55 47.6%,#68ff8f 56.6%,#50ffa7 61.4%,#43ffb4 66.1%,#44ffb3 70.4%,#4bffab 73.5%,#5cff9b 77.2%,#a5ff52 88.9%,#b9ff3d 92.6%,#c7ff2f 96.3%,#cdff29 100%)"></i><i style="background:linear-gradient(90deg,#42ffb5 0%,#48ffaf 3.7%,#56ffa1 7.4%,#6aff8d 11.1%,#b3ff43 22.8%,#c4ff33 26.5%,#ccff2a 30.2%,#ccff2b 34.4%,#c0ff37 38.6%,#a8ff4f 43.4%,#6dff89 52.4%,#58ff9e 56.1%,#48ffaf 60.3%,#42ffb5 64.6%,#47ffb0 68.8%,#57ffa0 73%,#6eff88 77.2%,#a9ff4e 86.2%,#c1ff36 91%,#cdff2a 95.8%,#ccff2b 100%)"></i><i style="background:linear-gradient(90deg,#46ffb1 0%,#51ffa6 3.2%,#61ff96 6.3%,#a2ff55 16.4%,#b7ff40 20.1%,#c6ff31 23.8%,#cdff2a 27%,#ccff2b 31.2%,#c0ff37 35.4%,#a7ff50 40.2%,#6cff8a 49.2%,#57ff9f 52.9%,#47ffb0 57.1%,#41ffb6 61.4%,#46ffb0 65.6%,#57ffa0 69.8%,#6bff8b 73.5%,#acff4a 83.6%,#c5ff32 88.9%,#cbff2b 91.5%,#ceff29 94.2%,#cbff2b 96.8%,#c3ff34 100%)"></i><i style="background:linear-gradient(90deg,#50ffa7 0%,#67ff90 4.2%,#b4ff42 16.4%,#c4ff32 20.1%,#cdff2a 23.8%,#cbff2b 28%,#bfff38 32.3%,#a9ff4d 36.5%,#6bff8c 46%,#56ffa1 49.7%,#46ffb1 54%,#40ffb7 57.7%,#44ffb2 61.9%,#54ffa3 66.1%,#6bff8b 70.4%,#adff4a 80.4%,#bdff3a 83.6%,#c8ff2f 86.8%,#cdff29 89.9%,#ccff2b 93.1%,#c4ff33 96.3%,#b4ff43 100%)"></i><i style="background:linear-gradient(90deg,#60ff97 0%,#b5ff42 13.2%,#c6ff30 17.5%,#cdff2a 21.2%,#cbff2c 24.9%,#beff39 29.1%,#a8ff4f 33.3%,#6cff8a 42.3%,#57ffa0 46%,#45ffb1 50.3%,#3fffb8 54%,#42ffb5 58.2%,#51ffa6 62.4%,#68ff8f 66.7%,#b0ff47 77.8%,#c0ff37 81%,#caff2d 84.1%,#ceff29 87.8%,#c8ff2e 91.5%,#bbff3c 95.2%,#a0ff57 100%)"></i><i style="background:linear-gradient(90deg,#74ff83 0%,#a2ff54 6.9%,#baff3d 11.1%,#c8ff2f 14.8%,#cdff29 18.5%,#caff2d 22.2%,#bbff3c 26.5%,#a4ff53 30.7%,#57ff9f 42.3%,#45ffb2 46.6%,#3dffba 50.3%,#40ffb7 54.5%,#4dffaa 58.7%,#64ff93 63%,#b3ff43 75.1%,#c4ff33 78.8%,#ccff2b 82%,#cdff2a 85.7%,#c3ff34 89.9%,#afff48 94.2%,#89ff6e 100%)"></i><i style="background:linear-gradient(90deg,#89ff6d 0%,#afff47 5.8%,#c3ff33 10.1%,#cdff2a 14.3%,#cbff2b 18%,#c3ff34 21.2%,#b2ff45 24.9%,#65ff92 36.5%,#4dffaa 40.7%,#3dffba 45.5%,#3bffbb 49.7%,#43ffb3 53.4%,#54ffa3 57.1%,#6aff8d 60.8%,#a4ff53 69.3%,#bcff3b 73.5%,#caff2d 77.8%,#cdff29 81.5%,#c7ff2f 85.2%,#b9ff3e 88.9%,#a1ff56 93.1%,#71ff86 100%)"></i><i style="background:linear-gradient(90deg,#9fff58 0%,#b8ff3f 4.2%,#c7ff30 7.9%,#cdff2a 11.6%,#caff2d 15.3%,#c0ff36 18.5%,#aeff49 22.2%,#62ff95 33.3%,#4affad 37.6%,#3cffbb 41.8%,#39ffbe 46%,#40ffb7 49.7%,#52ffa4 54%,#69ff8d 57.7%,#a4ff53 66.1%,#bcff3b 70.4%,#caff2d 74.6%,#cdff2a 78.8%,#c5ff32 82.5%,#b2ff44 86.8%,#5aff9d 100%)"></i><i style="background:linear-gradient(90deg,#b3ff44 0%,#c4ff33 3.7%,#ccff2b 6.9%,#cdff2a 10.1%,#c7ff30 13.2%,#bdff3a 15.9%,#acff4a 19%,#63ff94 29.6%,#4affad 33.9%,#3affbd 38.1%,#36ffc1 42.3%,#3cffbb 46%,#4effa9 50.3%,#65ff92 54%,#a4ff52 63%,#bcff3b 67.2%,#caff2c 71.4%,#cdff2a 75.7%,#c5ff32 79.4%,#b4ff43 83.1%,#9dff59 86.8%,#5eff99 95.8%,#46ffb1 100%)"></i><i style="background:linear-gradient(90deg,#c2ff35 0%,#cbff2c 3.2%,#cdff29 5.8%,#cbff2c 8.5%,#c3ff34 11.1%,#a8ff4f 16.4%,#64ff93 25.9%,#4affad 30.2%,#38ffbe 34.4%,#33ffc4 38.6%,#3affbd 42.9%,#4cffaa 47.1%,#64ff93 50.8%,#a4ff52 59.8%,#bfff38 64.6%,#cbff2b 68.8%,#ccff2b 73%,#c4ff33 76.2%,#b3ff44 79.9%,#9cff5b 83.6%,#54ffa2 93.7%,#43ffb4 96.8%,#38ffbf 100%)"></i><i style="background:linear-gradient(90deg,#cbff2c 0%,#ccff2b 4.2%,#beff39 9%,#a3ff54 13.8%,#61ff96 22.8%,#49ffad 26.5%,#37ffc0 30.7%,#30ffc7 34.9%,#36ffc1 39.2%,#48ffaf 43.4%,#62ff94 47.6%,#a4ff53 56.6%,#bfff38 61.4%,#ccff2b 65.6%,#ccff2b 69.8%,#c1ff35 73.5%,#afff48 77.2%,#5fff97 88.4%,#45ffb1 92.6%,#36ffc1 96.3%,#30ffc7 100%)"></i><i style="background:linear-gradient(90deg,#cdff2a 0%,#c7ff30 3.2%,#b8ff3f 6.9%,#9eff59 11.1%,#4dffaa 22.2%,#39ffbd 25.9%,#2fffc8 29.6%,#2effc8 33.9%,#3effb9 38.6%,#56ffa1 42.9%,#9dff5a 52.4%,#b4ff42 56.1%,#c7ff30 60.3%,#cdff2a 64.6%,#c7ff30 68.8%,#b4ff43 73%,#9cff5b 76.7%,#55ffa2 86.2%,#3bffbc 91%,#2effc9 95.8%,#30ffc7 100%)"></i><i style="background:linear-gradient(90deg,#c7ff30 0%,#baff3d 3.2%,#a7ff50 6.3%,#5fff97 15.9%,#46ffb0 19.6%,#34ffc3 23.3%,#2bffcb 26.5%,#2cffcb 30.7%,#3bffbc 35.4%,#54ffa2 39.7%,#99ff5e 48.7%,#b5ff42 52.9%,#c7ff30 57.1%,#cdff2a 60.8%,#c8ff2f 65.1%,#b6ff41 69.3%,#9aff5c 73.5%,#52ffa4 83.1%,#35ffc2 88.4%,#2cffcb 91.5%,#2affcd 94.2%,#2dffca 96.8%,#37ffbf 100%)"></i><i style="background:linear-gradient(90deg,#b9ff3e 0%,#9eff59 4.2%,#5cff9a 12.7%,#43ffb4 16.4%,#31ffc6 20.1%,#27ffd0 23.8%,#29ffce 28%,#38ffbe 32.3%,#52ffa5 36.5%,#98ff5f 45.5%,#b1ff46 49.2%,#c5ff32 53.4%,#cdff2a 57.7%,#c7ff30 61.9%,#b5ff42 66.1%,#99ff5e 70.4%,#4cffab 80.4%,#39ffbe 83.6%,#2effc9 86.2%,#27ffd0 89.9%,#29ffce 93.1%,#32ffc5 96.3%,#46ffb1 100%)"></i><i style="background:linear-gradient(90deg,#a3ff53 0%,#59ff9e 9.5%,#3fffb8 13.2%,#2affcc 17.5%,#22ffd4 21.2%,#25ffd2 24.9%,#35ffc2 29.1%,#4fffa8 33.3%,#96ff61 42.3%,#b0ff47 46%,#c4ff33 50.3%,#ccff2b 54%,#c7ff2f 58.2%,#b6ff41 62.4%,#9aff5d 66.7%,#44ffb3 77.8%,#32ffc5 81%,#26ffd0 84.1%,#22ffd5 87.8%,#29ffce 91.5%,#39ffbe 95.2%,#59ff9e 100%)"></i><i style="background:linear-gradient(90deg,#89ff6e 0%,#51ffa6 6.9%,#34ffc2 11.1%,#24ffd3 14.8%,#1dffd9 18.5%,#22ffd5 22.2%,#33ffc4 26.5%,#4fffa8 30.7%,#90ff67 38.6%,#aaff4c 42.3%,#c0ff36 46.6%,#caff2d 50.3%,#c7ff30 54.5%,#b7ff40 58.7%,#9bff5b 63%,#57ffa0 71.4%,#3dffba 75.1%,#29ffce 78.8%,#1fffd7 82%,#1effd9 85.7%,#2affcd 89.9%,#42ffb5 94.2%,#6fff88 100%)"></i><i style="background:linear-gradient(90deg,#6bff8c 0%,#3dffba 5.8%,#25ffd2 10.1%,#19ffde 14.3%,#1affdc 18%,#24ffd3 21.2%,#38ffbf 24.9%,#53ffa3 28.6%,#99ff5e 37%,#b4ff42 41.3%,#c5ff32 45.5%,#c8ff2f 49.7%,#beff39 53.4%,#abff4c 57.1%,#90ff66 60.8%,#4bffac 69.3%,#2effc8 73.5%,#1dffda 77.8%,#18ffde 81.5%,#1fffd8 85.2%,#30ffc7 88.9%,#4dffaa 93.1%,#86ff71 100%)"></i><i style="background:linear-gradient(90deg,#4dffaa 0%,#2bffcc 4.8%,#1affdd 8.5%,#13fde3 12.2%,#18ffdf 15.9%,#24ffd3 19%,#37ffc0 22.2%,#92ff65 33.3%,#afff48 37.6%,#c1ff35 41.8%,#c6ff31 46%,#beff39 49.7%,#a9ff4e 54%,#8eff69 57.7%,#43ffb4 66.7%,#27ffd0 70.9%,#17ffe0 75.1%,#14fee3 78.8%,#1cffdb 82.5%,#32ffc5 86.8%,#4dffaa 90.5%,#9bff5b 100%)"></i><i style="background:linear-gradient(90deg,#31ffc5 0%,#1cffdb 3.7%,#16ffe1 5.3%,#11fbe6 6.9%,#0ff8e8 10.1%,#16ffe1 13.8%,#22ffd5 16.4%,#36ffc0 19.6%,#8eff68 30.2%,#acff4b 34.4%,#bfff38 38.6%,#c4ff33 42.9%,#bcff3b 46.6%,#a7ff50 50.8%,#8bff6c 54.5%,#3fffb8 63.5%,#23ffd4 67.7%,#15ffe2 70.9%,#12fce5 72%,#0ff8e8 74.1%,#0ff8e7 76.2%,#19ffde 79.9%,#2dffca 83.6%,#48ffae 87.3%,#90ff67 95.8%,#aeff49 100%)"></i><i style="background:linear-gradient(90deg,#1bffdc 0%,#14fee3 1.6%,#0ff8e8 3.2%,#0af2ec 5.8%,#0cf5eb 8.5%,#16ffe1 11.6%,#24ffd3 14.3%,#36ffc1 16.9%,#8bff6c 27%,#a6ff50 30.7%,#bbff3b 34.9%,#c3ff34 39.2%,#bbff3c 43.4%,#a5ff52 47.6%,#8aff6d 51.3%,#3cffba 60.3%,#1cffda 65.1%,#15ffe2 66.7%,#0df5ea 69.3%,#0af2ec 71.4%,#0cf4eb 73.5%,#15ffe2 76.7%,#29ffce 80.4%,#44ffb3 84.1%,#99ff5d 94.2%,#aeff49 97.4%,#baff3c 100%)"></i><i style="background:linear-gradient(90deg,#0bf4eb 0%,#07efef 2.1%,#07eef0 4.2%,#0cf5eb 6.9%,#17ffe0 9.5%,#36ffc1 14.3%,#88ff6e 23.8%,#a4ff53 27.5%,#baff3d 31.7%,#c2ff35 36%,#baff3d 40.2%,#a4ff52 44.4%,#89ff6e 48.1%,#3bffbc 57.1%,#1affdd 61.9%,#15ffe2 63%,#09f0ee 66.7%,#07eef0 68.8%,#09f0ee 70.9%,#15ffe1 74.6%,#2cffcb 78.3%,#8aff6c 89.4%,#a6ff51 93.1%,#b9ff3e 96.8%,#c1ff36 100%)"></i><i style="background:linear-gradient(90deg,#04ebf2 0%,#09f1ed 3.7%,#14fee3 6.3%,#1dffda 7.9%,#3bffbb 12.2%,#82ff75 20.1%,#9fff58 23.8%,#b4ff42 27.5%,#bfff38 30.7%,#c0ff37 34.9%,#baff3d 37%,#aeff48 39.7%,#8eff69 44.4%,#3effb8 53.4%,#22ffd4 57.1%,#16ffe1 59.3%,#0cf5eb 61.4%,#06edf0 63.5%,#04ebf2 65.6%,#06edf1 67.7%,#0cf4eb 69.8%,#15ffe2 72%,#21ffd5 74.1%,#3dffb9 77.8%,#91ff66 87.3%,#aeff49 91.5%,#beff38 95.8%,#c0ff37 100%)"></i><i style="background:linear-gradient(90deg,#06edf1 0%,#17ffe0 4.2%,#39ffbe 9%,#84ff73 17.5%,#9dff59 20.6%,#b4ff43 24.3%,#c0ff37 28%,#bfff37 32.3%,#b0ff47 36.5%,#8fff68 41.3%,#3fffb8 50.3%,#22ffd5 54%,#15ffe2 56.1%,#0bf4eb 58.2%,#05ecf2 60.3%,#03e9f4 62.4%,#04ebf3 64.6%,#09f1ed 66.7%,#15ffe2 69.3%,#1fffd8 70.9%,#3fffb8 75.1%,#93ff64 84.7%,#b2ff44 89.4%,#bdff3a 92.1%,#c1ff35 94.7%,#c0ff37 97.4%,#b8ff3e 100%)"></i><i style="background:linear-gradient(90deg,#0ff8e8 0%,#14fee3 1.1%,#31ffc5 5.3%,#82ff75 14.3%,#a0ff57 18%,#b5ff41 21.7%,#c1ff36 25.4%,#bfff38 29.6%,#aeff49 33.9%,#91ff66 38.1%,#3bffbb 47.6%,#1fffd8 51.3%,#15ffe2 52.9%,#09f0ee 55.6%,#01e7f6 59.3%,#02e8f5 61.4%,#07eef0 63.5%,#15ffe1 66.7%,#1cffdb 67.7%,#3cffbb 72%,#95ff61 82%,#acff4b 85.2%,#b9ff3e 87.8%,#c1ff36 91%,#c1ff35 93.7%,#b9ff3d 96.8%,#aaff4d 100%)"></i><i style="background:linear-gradient(90deg,#1effd8 0%,#3cffbb 3.7%,#80ff77 11.1%,#9eff59 14.8%,#b7ff40 19%,#c2ff35 22.8%,#c2ff35 24.9%,#bfff38 27%,#adff4a 31.2%,#8eff69 35.4%,#3cffbb 44.4%,#1fffd8 48.1%,#15ffe2 49.7%,#08efef 52.4%,#00e5f7 56.1%,#00e5f7 58.2%,#05ebf2 60.3%,#13fde4 63.5%,#19ffde 64.6%,#39ffbe 68.8%,#98ff5f 79.4%,#adff49 82.5%,#bcff3b 85.7%,#c2ff34 89.4%,#beff39 92.6%,#aeff48 96.3%,#95ff62 100%)"></i><i style="background:linear-gradient(90deg,#34ffc3 0%,#86ff70 9%,#a4ff53 12.7%,#bbff3c 16.9%,#c3ff34 20.6%,#beff38 24.3%,#abff4c 28.6%,#8cff6b 32.8%,#3effb9 41.3%,#1fffd7 45%,#15ffe2 46.6%,#07eef0 49.2%,#00e6f6 51.3%,#00e3f9 52.9%,#01e6f6 56.6%,#08efef 58.7%,#16ffe1 61.4%,#36ffc1 65.6%,#9aff5d 76.7%,#b2ff45 80.4%,#bfff38 83.6%,#c3ff34 87.3%,#baff3d 91%,#a3ff54 95.2%,#7bff7b 100%)"></i><i style="background:linear-gradient(90deg,#4dffaa 0%,#89ff6e 6.3%,#a9ff4e 10.6%,#bcff3b 14.3%,#c3ff33 18%,#beff39 21.7%,#aaff4d 25.9%,#89ff6d 30.2%,#3affbc 38.6%,#1cffda 42.3%,#15ffe2 43.4%,#05ebf2 46.6%,#00e5f7 48.1%,#00e1fa 49.7%,#00e1fb 51.9%,#00e5f7 54%,#07efef 56.1%,#13fde4 58.2%,#32ffc4 62.4%,#81ff76 70.9%,#a0ff57 74.6%,#b6ff40 78.3%,#c1ff36 81.5%,#c3ff33 83.6%,#c2ff35 85.7%,#b2ff45 89.9%,#95ff62 94.2%,#60ff97 100%)"></i><i style="background:linear-gradient(90deg,#68ff8f 0%,#9cff5b 5.8%,#b7ff40 10.1%,#c3ff33 14.3%,#c1ff36 18%,#b5ff42 21.2%,#9dff5a 24.9%,#82ff74 28%,#33ffc4 36.5%,#16ffe1 40.2%,#12fce4 40.7%,#00e6f7 44.4%,#00dffc 47.1%,#00dffc 49.2%,#01e6f6 51.9%,#16ffe0 56.1%,#33ffc4 59.8%,#83ff74 68.3%,#a5ff51 72.5%,#bcff3a 76.7%,#c2ff35 78.8%,#c4ff33 81%,#bdff3a 84.7%,#a7ff50 88.9%,#85ff72 93.1%,#44ffb3 100%)"></i><i style="background:linear-gradient(90deg,#83ff74 0%,#a9ff4e 4.8%,#bdff3a 8.5%,#c5ff32 12.2%,#bfff37 15.9%,#b1ff45 19%,#9cff5b 22.2%,#80ff76 25.4%,#34ffc2 33.3%,#17ffe0 37%,#10f9e7 38.1%,#00e5f7 41.3%,#00ddfe 43.9%,#00dcfe 46%,#00e5f7 49.2%,#16ffe0 53.4%,#39ffbe 57.7%,#8eff68 66.7%,#aeff49 70.9%,#c1ff36 75.1%,#c4ff33 78.8%,#bbff3c 82.5%,#a2ff55 86.8%,#83ff74 90.5%,#29ffce 100%)"></i><i style="background:linear-gradient(90deg,#9bff5b 0%,#b4ff42 3.7%,#c1ff35 6.9%,#c5ff32 10.1%,#beff39 13.8%,#b1ff46 16.4%,#9aff5c 19.6%,#36ffc0 30.2%,#18ffdf 33.9%,#14fee3 34.4%,#0df6ea 35.4%,#00e5f7 38.1%,#00defc 39.7%,#00daff 41.8%,#00dbff 43.9%,#01e7f6 47.1%,#17ffe0 50.8%,#35ffc2 54.5%,#90ff67 64%,#b0ff47 68.3%,#c2ff35 72.5%,#c5ff32 74.6%,#c4ff33 76.7%,#b8ff3f 80.4%,#a1ff56 84.1%,#81ff76 87.8%,#34ffc2 95.8%,#16ffe1 99.5%,#12fce4 100%)"></i><i style="background:linear-gradient(90deg,#b0ff47 0%,#bfff37 3.2%,#c5ff31 5.8%,#c5ff32 8.5%,#bbff3c 11.6%,#adff4a 14.3%,#95ff62 17.5%,#34ffc3 27.5%,#15ffe2 31.2%,#0bf3ec 32.8%,#00e5f7 34.9%,#00dbff 37.6%,#00d8ff 39.7%,#00dbff 41.8%,#00e6f6 44.4%,#17ffe0 48.1%,#36ffc1 51.9%,#8dff6a 60.8%,#aeff49 65.1%,#bcff3b 67.7%,#c3ff34 69.8%,#c6ff31 72%,#c4ff32 74.1%,#b8ff3f 77.8%,#a0ff57 81.5%,#7fff77 85.2%,#32ffc5 93.1%,#17ffdf 96.3%,#14fee3 96.8%,#01e7f6 100%)"></i><i style="background:linear-gradient(90deg,#bfff38 0%,#c6ff31 2.6%,#c6ff30 4.8%,#c3ff34 6.9%,#b8ff3e 9.5%,#a8ff4e 12.2%,#93ff63 14.8%,#37ffc0 24.3%,#17ffe0 28%,#0cf4eb 29.6%,#00e5f7 31.7%,#00daff 34.4%,#00d6ff 37%,#00daff 39.2%,#00e5f7 41.8%,#17ffe0 45.5%,#36ffc0 49.2%,#8fff68 58.2%,#afff47 62.4%,#bdff39 65.1%,#c4ff33 67.2%,#c7ff30 69.3%,#c5ff32 71.4%,#b7ff3f 75.1%,#9fff58 78.8%,#7eff79 82.5%,#34ffc2 89.9%,#15ffe2 93.7%,#01e7f5 96.8%,#00ddfe 98.9%,#00d9ff 100%)"></i><i style="background:linear-gradient(90deg,#c6ff30 0%,#c7ff30 2.1%,#c3ff34 4.2%,#bbff3c 6.3%,#abff4b 9%,#8dff69 12.7%,#34ffc2 21.7%,#15ffe2 25.4%,#00e6f6 28.6%,#00dbff 30.7%,#00d5ff 32.8%,#00d5ff 34.9%,#00dcfe 37.6%,#02e8f5 39.7%,#17ffe0 42.9%,#37ffc0 46.6%,#86ff70 54.5%,#a6ff51 58.2%,#beff38 62.4%,#c5ff32 64.6%,#c7ff30 66.7%,#c5ff32 68.8%,#bfff38 70.9%,#a6ff51 75.1%,#86ff70 78.8%,#37ffc0 86.8%,#17ffe0 90.5%,#05ecf2 93.1%,#00e5f8 94.2%,#00dcfe 95.8%,#00d6ff 97.9%,#00d5ff 100%)"></i><i style="background:linear-gradient(90deg,#c7ff30 0%,#bbff3c 3.7%,#a3ff54 7.4%,#87ff6f 10.6%,#37ffbf 18.5%,#17ffe0 22.2%,#01e7f5 25.4%,#00dbff 27.5%,#00d4ff 30.2%,#00d4ff 32.3%,#00dbff 34.9%,#01e7f5 37%,#17ffe0 40.2%,#38ffbf 43.9%,#88ff6f 51.9%,#a7ff50 55.6%,#c0ff37 59.8%,#c6ff31 61.9%,#c8ff2f 64%,#c5ff31 66.1%,#bfff38 68.3%,#a5ff51 72.5%,#8aff6d 75.7%,#35ffc2 84.1%,#15ffe2 87.8%,#03e9f4 90.5%,#00e6f7 91%,#00ddfe 92.6%,#00d4ff 95.2%,#00d3ff 97.4%,#00daff 100%)"></i><i style="background:linear-gradient(90deg,#c0ff37 0%,#aeff49 3.2%,#95ff62 6.3%,#36ffc1 15.9%,#15ffe2 19.6%,#00e5f7 22.8%,#00dcff 24.3%,#00d3ff 27%,#00d1ff 29.1%,#00daff 32.3%,#01e7f6 34.4%,#17ffe0 37.6%,#38ffbf 41.3%,#89ff6e 49.2%,#a8ff4e 52.9%,#c1ff36 57.1%,#c8ff2e 60.8%,#c7ff30 63%,#c1ff36 65.1%,#a9ff4e 69.3%,#89ff6e 73%,#39ffbe 81%,#17ffe0 84.7%,#13fde4 85.2%,#04ebf3 87.3%,#00e3f9 88.4%,#00daff 89.9%,#00d4ff 91.5%,#00d1ff 94.2%,#00d4ff 95.8%,#00dbff 97.9%,#02e8f5 100%)"></i><i style="background:linear-gradient(90deg,#b1ff45 0%,#8bff6c 4.8%,#39ffbd 12.7%,#17ffdf 16.4%,#13fde4 16.9%,#01e7f6 19.6%,#00daff 21.7%,#00d1ff 24.3%,#00d0ff 26.5%,#00d3ff 28%,#00dcff 30.2%,#00e6f6 31.7%,#17ffe0 34.9%,#38ffbe 38.6%,#8aff6d 46.6%,#a5ff51 49.7%,#bfff37 54%,#c6ff30 56.1%,#c9ff2e 58.2%,#c7ff2f 60.3%,#c1ff36 62.4%,#a8ff4e 66.7%,#88ff6e 70.4%,#37ffc0 78.3%,#15ffe1 82%,#03e9f4 84.7%,#00defd 86.2%,#00d4ff 88.4%,#00d0ff 89.9%,#00d2ff 93.1%,#00daff 95.2%,#00e4f8 96.8%,#14fee3 100%)"></i><i style="background:linear-gradient(90deg,#9dff5a 0%,#80ff77 3.2%,#33ffc4 10.6%,#16ffe1 13.8%,#00e5f7 16.9%,#00dbff 18.5%,#00d0ff 21.2%,#00cfff 23.8%,#00d2ff 25.4%,#00dbff 27.5%,#00e5f7 29.1%,#16ffe0 32.3%,#39ffbe 36%,#86ff71 43.4%,#a6ff50 47.1%,#c0ff36 51.3%,#caff2d 55%,#c9ff2e 57.1%,#c3ff33 59.3%,#acff4b 63.5%,#8dff6a 67.2%,#36ffc1 75.7%,#14fee3 79.4%,#01e7f6 82%,#00dcfe 83.6%,#00d1ff 86.2%,#00ceff 88.4%,#00d1ff 90.5%,#00dcfe 93.1%,#01e7f6 94.7%,#14fee3 97.4%,#2bffcb 100%)"></i><i style="background:linear-gradient(90deg,#84ff73 0%,#37ffc0 7.4%,#14ffe2 11.1%,#01e7f6 13.8%,#00d9ff 15.9%,#00cfff 18.5%,#00cdff 21.2%,#00d1ff 22.8%,#00daff 24.9%,#03e9f4 27%,#16ffe1 29.6%,#39ffbe 33.3%,#86ff70 40.7%,#a3ff54 43.9%,#bfff38 48.1%,#caff2d 51.9%,#caff2d 54%,#c5ff31 56.1%,#bdff3a 58.2%,#acff4b 60.8%,#87ff70 65.1%,#3affbd 72.5%,#17ffe0 76.2%,#00e5f7 79.4%,#00dbff 81%,#00cfff 83.6%,#00cdff 86.2%,#00d2ff 88.4%,#00dbff 90.5%,#01e6f6 92.1%,#14fee3 94.7%,#46ffb1 100%)"></i><i style="background:linear-gradient(90deg,#68ff8f 0%,#36ffc1 4.8%,#18ffdf 7.9%,#13fde4 8.5%,#00e5f7 11.1%,#00daff 12.7%,#00cdff 15.9%,#0cf 18.5%,#00d0ff 20.1%,#00d9ff 22.2%,#02e8f5 24.3%,#16ffe1 27%,#39ffbe 30.7%,#87ff70 38.1%,#a4ff53 41.3%,#c0ff37 45.5%,#caff2c 49.2%,#caff2c 51.3%,#c6ff31 53.4%,#bdff3a 55.6%,#acff4b 58.2%,#8cff6b 61.9%,#33ffc3 70.4%,#16ffe1 73.5%,#02e8f5 76.2%,#00dcfe 77.8%,#00ceff 81%,#0cf 83.6%,#00d1ff 85.7%,#00dbff 87.8%,#00e6f7 89.4%,#14fee3 92.1%,#18ffdf 92.6%,#36ffc1 95.8%,#63ff94 100%)"></i><i style="background:linear-gradient(90deg,#4bffac 0%,#17ffe0 5.3%,#00e4f8 8.5%,#00d9ff 10.1%,#00cfff 12.2%,#00cbff 14.3%,#00cdff 16.9%,#00dcff 20.1%,#02e7f5 21.7%,#16ffe1 24.3%,#34ffc3 27.5%,#88ff6f 35.4%,#adff4a 39.7%,#beff39 42.3%,#c7ff30 44.4%,#cbff2c 46.6%,#cbff2c 48.7%,#c0ff37 52.4%,#a3ff53 56.6%,#86ff71 59.8%,#38ffbf 67.2%,#15ffe2 70.9%,#01e6f6 73.5%,#00dbff 75.1%,#00d0ff 77.2%,#00cbff 79.4%,#00cdff 82%,#00daff 85.2%,#00e5f7 86.8%,#13fde4 89.4%,#18ffdf 89.9%,#36ffc1 93.1%,#7fff78 100%)"></i><i style="background:linear-gradient(90deg,#2fffc8 0%,#16ffe1 2.6%,#01e7f5 5.3%,#00dbff 6.9%,#00ceff 9.5%,#00caff 12.2%,#00ceff 14.8%,#00dbff 17.5%,#01e7f6 19%,#15ffe1 21.7%,#34ffc3 24.9%,#88ff6f 32.8%,#adff49 37%,#c5ff31 41.3%,#cbff2c 43.4%,#ccff2b 45.5%,#c2ff34 49.2%,#a8ff4f 53.4%,#86ff71 57.1%,#37ffc0 64.6%,#18ffde 67.7%,#14fee3 68.3%,#00e5f7 70.9%,#00daff 72.5%,#00cfff 74.6%,#00caff 76.7%,#0cf 79.4%,#00d9ff 82.5%,#00e5f8 84.1%,#13fde4 86.8%,#18ffdf 87.3%,#99ff5d 100%)"></i><i style="background:linear-gradient(90deg,#15ffe2 0%,#01e6f6 2.6%,#00dbff 4.2%,#0cf 7.4%,#00c9ff 9.5%,#00caff 11.1%,#00cfff 12.7%,#00dbff 14.8%,#01e6f6 16.4%,#15ffe2 19%,#34ffc3 22.2%,#88ff6f 30.2%,#aaff4d 33.9%,#c4ff33 38.1%,#caff2c 40.2%,#cdff2a 42.3%,#caff2d 44.4%,#c3ff34 46.6%,#a8ff4f 50.8%,#86ff71 54.5%,#37ffc0 61.9%,#18ffdf 65.1%,#13fde4 65.6%,#03e9f4 67.7%,#00e4f8 68.3%,#00d9ff 69.8%,#00ceff 72%,#00c9ff 74.1%,#0cf 77.2%,#00dcfe 80.4%,#02e8f4 82%,#13fde4 84.1%,#17ffe0 84.7%,#36ffc1 87.8%,#8bff6c 95.8%,#b0ff47 100%)"></i><i style="background:linear-gradient(90deg,#00e6f7 0%,#00daff 1.6%,#0cf 4.2%,#00c8ff 6.3%,#00cdff 9.5%,#00defd 12.7%,#00e6f6 13.8%,#15ffe2 16.4%,#33ffc3 19.6%,#88ff6e 27.5%,#aaff4d 31.2%,#c4ff33 35.4%,#cbff2c 37.6%,#cdff2a 39.7%,#caff2c 41.8%,#c3ff34 43.9%,#a8ff4f 48.1%,#86ff71 51.9%,#36ffc1 59.3%,#17ffdf 62.4%,#13fde4 63%,#02e8f5 65.1%,#00dcff 66.7%,#00ceff 69.3%,#00c8ff 71.4%,#0cf 74.6%,#00dcff 77.8%,#02e8f5 79.4%,#17ffe0 82%,#36ffc1 85.2%,#95ff62 94.2%,#b0ff47 97.4%,#c0ff36 100%)"></i><i style="background:linear-gradient(90deg,#00d3ff 0%,#00c9ff 2.6%,#00c8ff 5.3%,#00ceff 7.4%,#00d9ff 9.5%,#00e5f7 11.1%,#15ffe2 13.8%,#33ffc4 16.9%,#89ff6e 24.9%,#aaff4c 28.6%,#c4ff32 32.8%,#cbff2c 34.9%,#cdff29 37%,#cbff2c 39.2%,#c3ff33 41.3%,#a8ff4e 45.5%,#86ff71 49.2%,#36ffc1 56.6%,#17ffe0 59.8%,#02e8f5 62.4%,#00dbff 64%,#00cdff 66.7%,#00c8ff 68.8%,#00cbff 72%,#00dbff 75.1%,#02e7f5 76.7%,#17ffe0 79.4%,#9fff58 92.6%,#bbff3c 96.3%,#cbff2c 100%)"></i><i style="background:linear-gradient(90deg,#00c9ff 0%,#00c7ff 2.1%,#00cbff 4.2%,#00d9ff 6.9%,#00e5f7 8.5%,#14ffe3 11.1%,#33ffc4 14.3%,#89ff6e 22.2%,#aaff4c 25.9%,#c5ff32 30.2%,#cbff2b 32.3%,#ceff29 34.4%,#cbff2c 36.5%,#c4ff33 38.6%,#a9ff4e 42.9%,#86ff70 46.6%,#36ffc1 54%,#17ffe0 57.1%,#02e8f5 59.8%,#00dbff 61.4%,#00cdff 64%,#00c7ff 66.1%,#00cbff 69.3%,#00dbff 72.5%,#01e7f6 74.1%,#16ffe0 76.7%,#35ffc1 79.9%,#8bff6c 87.8%,#acff4a 91.5%,#c6ff31 95.8%,#ccff2b 97.9%,#ceff29 100%)"></i><i style="background:linear-gradient(90deg,#00c7ff 0%,#00cdff 2.1%,#00dcfe 4.8%,#03e9f4 6.3%,#14fee3 8.5%,#19ffde 9%,#38ffbf 12.2%,#83ff74 19%,#a2ff55 22.2%,#bdff3a 25.9%,#ccff2b 29.6%,#ceff29 31.7%,#caff2d 34.4%,#c2ff35 36.5%,#b1ff46 39.2%,#8cff6b 43.4%,#36ffc0 51.3%,#17ffe0 54.5%,#02e8f5 57.1%,#00dbff 58.7%,#00cbff 61.9%,#00c7ff 65.1%,#0cf 67.2%,#00daff 69.8%,#01e7f6 71.4%,#16ffe1 74.1%,#35ffc2 77.2%,#8bff6c 85.2%,#b4ff43 89.9%,#c4ff33 92.6%,#ccff2b 95.2%,#ceff29 97.4%,#c9ff2e 100%)"></i><i style="background:linear-gradient(90deg,#00cfff 0%,#00dcff 2.1%,#00e4f8 3.2%,#14fee3 5.8%,#18ffde 6.3%,#38ffbf 9.5%,#83ff74 16.4%,#a2ff55 19.6%,#bdff3a 23.3%,#ccff2b 27%,#ceff28 29.1%,#caff2c 31.7%,#c2ff35 33.9%,#b2ff45 36.5%,#8dff6a 40.7%,#37ffc0 48.7%,#17ffdf 51.9%,#13fde4 52.4%,#02e8f5 54.5%,#00dbff 56.1%,#00cbff 59.3%,#00c7ff 62.4%,#0cf 64.6%,#00daff 67.2%,#01e6f6 68.8%,#16ffe1 71.4%,#35ffc2 74.6%,#90ff67 83.1%,#a8ff4f 85.7%,#bbff3c 88.4%,#caff2d 91.5%,#ceff29 94.2%,#cbff2c 96.8%,#beff39 100%)"></i><i style="background:linear-gradient(90deg,#00dffc 0%,#02e8f5 1.1%,#13fde4 3.2%,#18ffdf 3.7%,#37ffbf 6.9%,#88ff6f 14.3%,#a6ff51 17.5%,#c0ff37 21.2%,#cdff29 24.9%,#cfff28 27%,#cbff2c 29.1%,#c3ff34 31.2%,#b3ff44 33.9%,#8dff69 38.1%,#37ffbf 46%,#18ffdf 49.2%,#13fde4 49.7%,#02e8f4 51.9%,#00dcff 53.4%,#00cbff 56.6%,#00c7ff 59.8%,#0cf 61.9%,#00d9ff 64.6%,#00e6f7 66.1%,#15ffe2 68.8%,#9fff58 82%,#b8ff3f 85.2%,#c8ff2e 88.4%,#cfff28 91.5%,#ccff2b 94.2%,#c2ff35 96.8%,#adff4a 100%)"></i><i style="background:linear-gradient(90deg,#0ef7e9 0%,#17ffdf 1.1%,#37ffc0 4.2%,#88ff6f 11.6%,#a6ff51 14.8%,#c3ff34 19%,#cfff28 22.8%,#cfff28 24.9%,#caff2d 27%,#c1ff36 29.1%,#b0ff47 31.7%,#89ff6e 36%,#33ffc4 43.9%,#14fee3 47.1%,#00e4f8 49.7%,#00d8ff 51.3%,#00c9ff 54.5%,#00c7ff 57.1%,#00d0ff 60.3%,#00ddfe 62.4%,#00e5f7 63.5%,#15ffe2 66.1%,#34ffc3 69.3%,#7fff78 76.2%,#9fff58 79.4%,#bbff3b 83.1%,#caff2c 86.2%,#cfff28 89.4%,#c9ff2e 92.6%,#b6ff41 96.3%,#97ff60 100%)"></i><i style="background:linear-gradient(90deg,#26ffd1 0%,#87ff6f 9%,#aaff4d 12.7%,#c6ff31 16.9%,#cfff27 20.6%,#cfff28 22.8%,#c9ff2e 24.9%,#bfff38 27%,#b1ff46 29.1%,#8aff6c 33.3%,#34ffc3 41.3%,#15ffe2 44.4%,#00e5f7 47.1%,#00d9ff 48.7%,#00caff 51.9%,#00c7ff 54.5%,#00d0ff 57.7%,#00dcfe 59.8%,#00e5f7 60.8%,#14ffe2 63.5%,#39ffbe 67.2%,#84ff73 74.1%,#a3ff54 77.2%,#beff38 81%,#ccff2b 84.1%,#cfff28 87.8%,#c3ff33 91.5%,#abff4c 95.2%,#7dff7a 100%)"></i><i style="background:linear-gradient(90deg,#41ffb6 0%,#87ff70 6.3%,#aeff49 10.6%,#bdff3a 12.7%,#c8ff2f 14.8%,#d0ff26 18.5%,#ceff28 20.6%,#c8ff2f 22.8%,#aeff49 27%,#8cff6b 30.7%,#35ffc2 38.6%,#16ffe1 41.8%,#01e7f6 44.4%,#00daff 46%,#00caff 49.2%,#00c8ff 52.4%,#00cdff 54.5%,#00dcfe 57.1%,#03e9f4 58.7%,#14fee3 60.8%,#18ffde 61.4%,#38ffbf 64.6%,#89ff6e 72%,#a7ff4f 75.1%,#c1ff35 78.8%,#cfff28 82.5%,#ceff29 86.2%,#c7ff30 88.4%,#bbff3b 90.5%,#99ff5e 94.7%,#61ff95 100%)"></i><i style="background:linear-gradient(90deg,#5eff99 0%,#9bff5c 5.8%,#bdff3a 10.1%,#c8ff2f 12.2%,#cfff28 14.3%,#cfff28 18%,#c1ff36 21.7%,#a7ff50 25.4%,#88ff6f 28.6%,#37ffc0 36%,#17ffdf 39.2%,#13fde4 39.7%,#02e8f5 41.8%,#00dbff 43.4%,#00cdff 46%,#00c8ff 48.1%,#00cbff 51.3%,#00dcff 54.5%,#02e8f4 56.1%,#13fde4 58.2%,#18ffdf 58.7%,#37ffbf 61.9%,#8eff69 69.8%,#b0ff47 73.5%,#beff38 75.7%,#c9ff2e 77.8%,#cfff27 79.9%,#d1ff26 82%,#c8ff2f 85.7%,#b2ff45 89.4%,#8bff6c 93.7%,#45ffb1 100%)"></i><i style="background:linear-gradient(90deg,#7aff7d 0%,#a9ff4e 4.8%,#c3ff34 8.5%,#d0ff26 12.2%,#cfff28 15.9%,#bfff37 19.6%,#a4ff53 23.3%,#84ff72 26.5%,#33ffc4 33.9%,#14fee3 37%,#00e5f7 39.7%,#00ddfe 40.7%,#00d0ff 42.9%,#00c8ff 46%,#00cbff 48.7%,#00dbff 51.9%,#02e8f5 53.4%,#12fce4 55.6%,#17ffe0 56.1%,#36ffc0 59.3%,#8dff69 67.2%,#afff47 70.9%,#c1ff35 73.5%,#cbff2b 75.7%,#d1ff26 77.8%,#d1ff26 79.9%,#c7ff30 83.6%,#abff4c 87.8%,#87ff6f 91.5%,#2bffcc 100%)"></i><i style="background:linear-gradient(90deg,#95ff62 0%,#b5ff42 3.7%,#cbff2c 7.4%,#d2ff24 11.1%,#cdff2a 14.3%,#beff39 17.5%,#a1ff56 21.2%,#81ff76 24.3%,#35ffc2 31.2%,#16ffe1 34.4%,#01e7f6 37%,#00daff 38.6%,#00cdff 41.3%,#00c8ff 43.4%,#00cbff 46%,#00dbff 49.2%,#01e7f5 50.8%,#16ffe0 53.4%,#36ffc1 56.6%,#8dff6a 64.6%,#b3ff44 68.8%,#c4ff32 71.4%,#cdff29 73.5%,#d2ff25 75.7%,#d1ff25 77.8%,#c5ff31 81.5%,#a8ff4f 85.7%,#89ff6d 88.9%,#38ffbf 96.3%,#14fee3 100%)"></i><i style="background:linear-gradient(90deg,#acff4a 0%,#c3ff34 3.2%,#d0ff27 6.3%,#d3ff24 9%,#cdff2a 12.2%,#bcff3b 15.3%,#a3ff54 18.5%,#83ff74 21.7%,#31ffc5 29.1%,#18ffdf 31.7%,#13fde4 32.3%,#02e8f4 34.4%,#00dcfe 36%,#00ceff 38.6%,#00c9ff 40.7%,#00cbff 43.4%,#00daff 46.6%,#01e6f6 48.1%,#16ffe1 50.8%,#35ffc2 54%,#91ff66 62.4%,#b7ff40 66.7%,#c7ff30 69.3%,#cfff28 71.4%,#d3ff24 73.5%,#d2ff25 75.7%,#c4ff33 79.4%,#aaff4d 83.1%,#8cff6b 86.2%,#3affbd 93.7%,#15ffe1 97.4%,#01e6f6 100%)"></i><i style="background:linear-gradient(90deg,#c0ff37 0%,#cdff2a 2.6%,#d3ff23 5.3%,#d2ff25 7.9%,#caff2d 10.6%,#baff3d 13.2%,#a0ff57 16.4%,#34ffc3 26.5%,#15ffe2 29.6%,#00e6f7 32.3%,#00daff 33.9%,#00cfff 36%,#00caff 38.1%,#0cf 40.7%,#00daff 43.9%,#00e6f7 45.5%,#15ffe2 48.1%,#39ffbe 51.9%,#90ff67 59.8%,#b6ff41 64%,#c7ff30 66.7%,#d0ff27 68.8%,#d4ff23 71.4%,#d2ff25 73.5%,#c3ff34 77.2%,#a7ff4f 81%,#88ff6e 84.1%,#37ffc0 91.5%,#17ffdf 94.7%,#13fde4 95.2%,#02e8f5 97.4%,#00dcfe 98.9%,#00d5ff 100%)"></i><i style="background:linear-gradient(90deg,#cdff2a 0%,#d4ff23 2.6%,#d3ff24 5.3%,#cbff2c 7.9%,#bcff3b 10.6%,#93ff64 15.3%,#36ffc1 23.8%,#17ffe0 27%,#02e8f5 29.6%,#00dcff 31.2%,#00d0ff 33.3%,#00cbff 35.4%,#0cf 38.1%,#00daff 41.3%,#00e5f7 42.9%,#14fee3 45.5%,#38ffbf 49.2%,#95ff62 57.7%,#baff3d 61.9%,#c9ff2d 64.6%,#d1ff25 66.7%,#d4ff22 68.8%,#d3ff24 70.9%,#c4ff32 74.6%,#a9ff4d 78.3%,#85ff72 82%,#33ffc3 89.4%,#15ffe2 92.6%,#00e6f6 95.2%,#00daff 96.8%,#0cf 100%)"></i><i style="background:linear-gradient(90deg,#d4ff22 0%,#d5ff22 2.1%,#d0ff26 4.2%,#c7ff2f 6.3%,#b6ff41 9%,#90ff67 13.2%,#38ffbe 21.2%,#14ffe3 24.9%,#00e6f7 27.5%,#00daff 29.1%,#0cf 32.3%,#00cbff 34.9%,#00cfff 36.5%,#00d9ff 38.6%,#03e9f4 40.7%,#13fde4 42.9%,#18ffdf 43.4%,#3cffba 47.1%,#8eff69 54.5%,#b1ff46 58.2%,#ccff2b 62.4%,#d3ff24 64.6%,#d5ff22 66.7%,#d3ff24 68.8%,#cbff2b 70.9%,#b0ff47 75.1%,#8dff6a 78.8%,#3bffbb 86.2%,#17ffe0 89.9%,#02e8f5 92.6%,#00dcfe 94.2%,#00d1ff 96.3%,#00cbff 98.4%,#00cbff 100%)"></i><i style="background:linear-gradient(90deg,#d5ff22 0%,#c9ff2e 3.7%,#abff4b 7.9%,#8dff6a 11.1%,#3bffbc 18.5%,#16ffe0 22.2%,#02e8f5 24.9%,#00dcfe 26.5%,#00ceff 29.6%,#0cf 32.3%,#00d1ff 34.4%,#00dcfe 36.5%,#02e8f5 38.1%,#16ffe0 40.7%,#3bffbc 44.4%,#8dff6a 51.9%,#b0ff47 55.6%,#ccff2b 59.8%,#d3ff24 61.9%,#d6ff21 64%,#d4ff23 66.1%,#cdff2a 68.3%,#c2ff35 70.4%,#b2ff44 72.5%,#90ff67 76.2%,#38ffbe 84.1%,#14ffe2 87.8%,#00e6f7 90.5%,#00daff 92.1%,#00cdff 95.2%,#00cbff 97.4%,#00d2ff 100%)"></i><i style="background:linear-gradient(90deg,#d0ff27 0%,#beff39 3.2%,#a4ff52 6.3%,#84ff73 9.5%,#38ffbf 16.4%,#14fee3 20.1%,#00e6f7 22.8%,#00dbff 24.3%,#00cfff 27%,#0cf 29.6%,#00d1ff 31.7%,#00dbff 33.9%,#01e7f6 35.4%,#15ffe1 38.1%,#3affbd 41.8%,#91ff66 49.7%,#b3ff43 53.4%,#c3ff34 55.6%,#ceff29 57.7%,#d5ff22 59.8%,#d7ff20 61.9%,#d4ff23 64%,#ccff2a 66.1%,#b0ff46 70.4%,#93ff64 73.5%,#3bffbc 81.5%,#17ffe0 85.2%,#02e8f5 87.8%,#00d9ff 89.9%,#00d0ff 92.1%,#0cf 94.2%,#00d0ff 96.8%,#00daff 98.9%,#00e1fb 100%)"></i><i style="background:linear-gradient(90deg,#c4ff33 0%,#b0ff47 2.6%,#98ff5f 5.3%,#3bffbc 13.8%,#16ffe0 17.5%,#02e8f5 20.1%,#00dcfe 21.7%,#00d0ff 24.3%,#00cdff 27%,#00d1ff 29.1%,#00dbff 31.2%,#00e6f6 32.8%,#14ffe3 35.4%,#38ffbf 39.2%,#90ff67 47.1%,#b3ff44 50.8%,#ceff29 55%,#d5ff22 57.1%,#d8ff1f 59.3%,#d5ff22 61.4%,#ceff29 63.5%,#b3ff44 67.7%,#90ff67 71.4%,#38ffbf 79.4%,#14ffe2 83.1%,#00e6f6 85.7%,#00defd 86.8%,#00dbff 87.3%,#00cfff 89.9%,#00ceff 93.1%,#00d2ff 94.7%,#00dcfe 96.8%,#02e8f5 98.4%,#0df6e9 100%)"></i><i style="background:linear-gradient(90deg,#b3ff44 0%,#95ff62 3.2%,#38ffbf 11.6%,#14fee3 15.3%,#00e6f6 18%,#00dbff 19.6%,#00d0ff 22.2%,#00ceff 24.9%,#00d1ff 26.5%,#00daff 28.6%,#00e5f7 30.2%,#03e9f4 30.7%,#13fde4 32.8%,#18ffdf 33.3%,#3cffbb 37%,#94ff63 45%,#b2ff45 48.1%,#ceff29 52.4%,#d8ff1f 56.1%,#d7ff20 58.2%,#d2ff25 60.3%,#c8ff2f 62.4%,#b9ff3d 64.6%,#93ff64 68.8%,#3bffbc 76.7%,#17ffe0 80.4%,#02e8f4 83.1%,#00ddfe 84.7%,#00cfff 87.8%,#00cfff 91%,#00dcff 94.2%,#01e7f6 95.8%,#15ffe2 98.4%,#23ffd3 100%)"></i><i style="background:linear-gradient(90deg,#9dff5a 0%,#3bffbc 9%,#17ffe0 12.7%,#02e8f4 15.3%,#00daff 17.5%,#00d0ff 20.1%,#00cfff 22.8%,#00daff 25.9%,#02e8f5 28%,#16ffe1 30.7%,#3affbc 34.4%,#92ff65 42.3%,#b0ff46 45.5%,#cdff29 49.7%,#d9ff1e 53.4%,#d8ff1e 55.6%,#d3ff24 57.7%,#caff2d 59.8%,#b8ff3f 62.4%,#96ff61 66.1%,#38ffbf 74.6%,#15ffe2 78.3%,#01e7f6 81%,#00dcff 82.5%,#00d0ff 85.2%,#00ceff 87.8%,#00d2ff 89.4%,#00dbff 91.5%,#00e6f6 93.1%,#14fee3 95.8%,#3dffba 100%)"></i><i style="background:linear-gradient(90deg,#84ff72 0%,#38ffbf 6.9%,#14ffe2 10.6%,#01e7f6 13.2%,#00d9ff 15.3%,#00d0ff 18%,#00cfff 20.1%,#00d2ff 21.7%,#00dcfe 23.8%,#01e7f5 25.4%,#15ffe2 28%,#39ffbe 31.7%,#96ff61 40.2%,#b4ff43 43.4%,#cdff2a 47.1%,#d9ff1e 50.8%,#d9ff1e 52.9%,#d5ff22 55%,#cbff2b 57.1%,#baff3d 59.8%,#98ff5e 63.5%,#3bffbc 72%,#17ffe0 75.7%,#00e5f7 78.8%,#00daff 80.4%,#00d0ff 83.1%,#00cfff 85.2%,#00d2ff 86.8%,#00daff 88.9%,#00e5f7 90.5%,#17ffe0 93.7%,#30ffc7 96.3%,#58ff9f 100%)"></i><i style="background:linear-gradient(90deg,#6aff8d 0%,#35ffc2 4.8%,#17ffe0 7.9%,#00e5f7 11.1%,#00dbff 12.7%,#00d2ff 14.8%,#00cfff 16.4%,#00d1ff 18.5%,#00dbff 21.2%,#00e6f6 22.8%,#14fee3 25.4%,#18ffdf 25.9%,#3cffba 29.6%,#94ff62 37.6%,#bbff3c 41.8%,#ccff2a 44.4%,#d6ff21 46.6%,#daff1d 48.7%,#daff1d 50.8%,#cdff29 54.5%,#b4ff43 58.2%,#96ff61 61.4%,#38ffbe 69.8%,#15ffe2 73.5%,#01e7f5 76.2%,#00dcfe 77.8%,#00d3ff 79.9%,#00cfff 81.5%,#00d0ff 83.6%,#00daff 86.2%,#02e8f5 88.4%,#15ffe1 91%,#39ffbe 94.7%,#74ff82 100%)"></i><i style="background:linear-gradient(90deg,#4fffa8 0%,#2dffca 3.2%,#15ffe2 5.8%,#01e7f5 8.5%,#00dcfe 10.1%,#00d3ff 12.2%,#00d0ff 13.8%,#00d1ff 15.9%,#00dbff 18.5%,#00e5f7 20.1%,#17ffe0 23.3%,#3affbc 27%,#98ff5f 35.4%,#beff39 39.7%,#ccff2b 41.8%,#d5ff21 43.9%,#daff1c 46%,#dbff1c 48.1%,#cfff28 51.9%,#b2ff45 56.1%,#8eff69 59.8%,#36ffc1 67.7%,#17ffe0 70.9%,#13fde4 71.4%,#03e9f4 73.5%,#00e5f7 74.1%,#00dbff 75.7%,#00d0ff 78.8%,#00d0ff 81%,#00d9ff 83.6%,#01e7f6 85.7%,#14fee3 88.4%,#37ffbf 92.1%,#8fff67 100%)"></i><i style="background:linear-gradient(90deg,#35ffc1 0%,#17ffe0 3.2%,#00e5f7 6.3%,#00dbff 7.9%,#00d3ff 10.1%,#00d0ff 11.6%,#00d2ff 13.8%,#00ddfe 16.4%,#02e7f5 18%,#15ffe2 20.6%,#38ffbe 24.3%,#9cff5b 33.3%,#bdff3a 37%,#cbff2c 39.2%,#d5ff22 41.3%,#dbff1c 43.4%,#dbff1b 45.5%,#d1ff26 49.2%,#b4ff42 53.4%,#91ff66 57.1%,#33ffc4 65.6%,#15ffe2 68.8%,#02e8f5 71.4%,#00daff 73.5%,#00d0ff 76.7%,#00d1ff 78.8%,#00dbff 81.5%,#00e5f7 83.1%,#17ffe0 86.2%,#3bffbc 89.9%,#88ff6f 96.8%,#a8ff4f 100%)"></i><i style="background:linear-gradient(90deg,#1effd9 0%,#15ffe2 1.1%,#02e8f5 3.7%,#00daff 5.8%,#00d2ff 7.9%,#00d1ff 10.6%,#00dcff 13.8%,#01e6f6 15.3%,#13fee3 18%,#18ffdf 18.5%,#3cffbb 22.2%,#9aff5d 30.7%,#bcff3b 34.4%,#caff2c 36.5%,#d5ff22 38.6%,#dbff1c 40.7%,#dcff1b 42.9%,#d3ff24 46.6%,#c7ff30 48.7%,#b7ff40 50.8%,#94ff63 54.5%,#3bffbb 62.4%,#17ffdf 66.1%,#13fde4 66.7%,#00e6f7 69.3%,#00dcff 70.9%,#00d1ff 74.1%,#00d1ff 76.2%,#00daff 78.8%,#02e8f5 81%,#15ffe1 83.6%,#39ffbe 87.3%,#9cff5b 96.3%,#bdff39 100%)"></i><i style="background:linear-gradient(90deg,#0bf3ec 0%,#00e6f7 1.6%,#00dcff 3.2%,#00d1ff 6.3%,#00d3ff 9%,#00dbff 11.1%,#00e1fa 12.2%,#03e9f4 13.2%,#16ffe1 15.9%,#3affbd 19.6%,#98ff5f 28%,#baff3d 31.7%,#c9ff2d 33.9%,#d4ff22 36%,#dbff1c 38.1%,#ddff1a 40.2%,#d4ff23 43.9%,#c9ff2e 46%,#b9ff3d 48.1%,#97ff60 51.9%,#39ffbe 60.3%,#15ffe2 64%,#02e8f5 66.7%,#00daff 68.8%,#00d1ff 72%,#00d2ff 74.1%,#00dcfe 76.7%,#01e6f6 78.3%,#14fee3 81%,#18ffdf 81.5%,#3cffbb 85.2%,#a5ff52 94.7%,#bcff3b 97.4%,#ceff29 100%)"></i><i style="background:linear-gradient(90deg,#00e0fb 0%,#00daff 1.1%,#00d4ff 2.6%,#00d1ff 5.3%,#00daff 8.5%,#01e7f5 10.6%,#14ffe2 13.2%,#37ffbf 16.9%,#9bff5c 25.9%,#b9ff3e 29.1%,#c8ff2e 31.2%,#d4ff23 33.3%,#dbff1c 35.4%,#ddff19 37.6%,#dbff1c 39.7%,#d3ff24 41.8%,#b7ff3f 46%,#9aff5d 49.2%,#3cffbb 57.7%,#18ffdf 61.4%,#13fde4 61.9%,#00e6f6 64.6%,#00dcfe 66.1%,#00d1ff 69.3%,#00d2ff 71.4%,#00dbff 74.1%,#00e5f7 75.7%,#16ffe1 78.8%,#3affbd 82.5%,#8dff6a 89.9%,#adff4a 93.1%,#caff2d 96.8%,#d9ff1e 100%)"></i><i style="background:linear-gradient(90deg,#00d5ff 0%,#00d1ff 2.1%,#00d3ff 4.2%,#00dcff 6.3%,#00e5f7 7.9%,#03e9f4 8.5%,#17ffe0 11.1%,#3bffbc 14.8%,#99ff5e 23.3%,#b7ff40 26.5%,#d3ff24 30.7%,#dbff1c 32.8%,#deff19 34.9%,#dcff1b 37%,#d5ff22 39.2%,#c9ff2d 41.3%,#baff3d 43.4%,#97ff60 47.1%,#39ffbe 55.6%,#15ffe2 59.3%,#02e8f5 61.9%,#00dbff 64%,#00d2ff 66.7%,#00d2ff 68.8%,#00daff 71.4%,#01e7f5 73.5%,#14ffe2 76.2%,#3dffba 80.4%,#9bff5b 88.9%,#b9ff3e 92.1%,#c9ff2e 94.2%,#d4ff22 96.3%,#deff19 100%)"></i><i style="background:linear-gradient(90deg,#00d1ff 0%,#00d3ff 1.6%,#00daff 3.7%,#00e4f8 5.3%,#09f0ee 6.9%,#15ffe2 8.5%,#38ffbf 12.2%,#8bff6c 19.6%,#b1ff46 23.3%,#cdff2a 27%,#dcff1b 30.7%,#deff19 32.8%,#daff1d 35.4%,#d1ff26 37.6%,#c0ff37 40.2%,#9aff5d 44.4%,#3bffbb 52.9%,#17ffdf 56.6%,#13fde4 57.1%,#00e6f6 59.8%,#00dcff 61.4%,#00d2ff 64.6%,#00d2ff 66.7%,#00d9ff 68.8%,#00e5f7 70.9%,#17ffe0 74.1%,#3bffbc 77.8%,#9eff58 86.8%,#c4ff33 91%,#d4ff23 93.7%,#dbff1c 95.8%,#deff19 97.9%,#dcff1b 100%)"></i><i style="background:linear-gradient(90deg,#00d5ff 0%,#00dcff 1.6%,#00e6f7 3.2%,#13fde4 5.8%,#17ffe0 6.3%,#3bffbc 10.1%,#8eff68 17.5%,#afff48 20.6%,#cbff2b 24.3%,#dcff1b 28%,#deff18 30.2%,#dbff1c 32.8%,#d3ff24 34.9%,#c2ff34 37.6%,#9dff5a 41.8%,#39ffbe 50.8%,#15ffe2 54.5%,#02e8f5 57.1%,#00daff 59.3%,#00d2ff 61.9%,#00d2ff 64%,#00daff 66.7%,#02e7f5 68.8%,#15ffe2 71.4%,#38ffbf 75.1%,#9cff5b 84.1%,#c6ff31 88.9%,#d7ff1f 92.1%,#deff19 94.7%,#ddff1a 97.4%,#d4ff23 100%)"></i><i style="background:linear-gradient(90deg,#00e0fb 0%,#02e8f5 1.1%,#15ffe2 3.7%,#39ffbe 7.4%,#8cff6b 14.8%,#b1ff46 18.5%,#cdff29 22.2%,#ddff1a 25.9%,#dfff18 28%,#dcff1b 30.2%,#d4ff22 32.3%,#c5ff32 34.9%,#9fff57 39.2%,#3bffbb 48.1%,#17ffdf 51.9%,#13fde4 52.4%,#00e6f7 55%,#00d9ff 57.1%,#00d1ff 59.8%,#00d2ff 61.9%,#00dcff 64.6%,#00e6f7 66.1%,#07eef0 67.2%,#17ffe0 69.3%,#3bffbc 73%,#aaff4d 83.1%,#c4ff32 86.2%,#d4ff23 88.9%,#ddff1a 91.5%,#deff18 94.2%,#d8ff1f 96.8%,#c7ff30 100%)"></i><i style="background:linear-gradient(90deg,#0bf3ec 0%,#17ffe0 1.6%,#36ffc1 4.8%,#8fff68 12.7%,#b4ff43 16.4%,#cfff28 20.1%,#ddff19 23.8%,#dfff18 25.9%,#dcff1b 28%,#d3ff23 30.2%,#c3ff34 32.8%,#9dff5a 37%,#39ffbe 46%,#15ffe2 49.7%,#02e8f5 52.4%,#00daff 54.5%,#00d2ff 57.1%,#00d2ff 59.3%,#00daff 61.9%,#00e4f8 63.5%,#05ecf2 64.6%,#15ffe2 66.7%,#38ffbf 70.4%,#8cff6b 77.8%,#acff4b 81%,#c6ff30 84.1%,#d8ff1f 87.3%,#dfff18 90.5%,#dbff1c 93.7%,#ccff2b 96.8%,#b4ff43 100%)"></i><i style="background:linear-gradient(90deg,#1effd9 0%,#3effb9 3.2%,#97ff5f 11.1%,#b6ff41 14.3%,#d4ff23 18.5%,#dfff18 22.2%,#dfff18 24.3%,#d9ff1d 26.5%,#d0ff27 28.6%,#c1ff35 30.7%,#9bff5c 34.9%,#3cffbb 43.4%,#18ffdf 47.1%,#13fde4 47.6%,#00e6f6 50.3%,#00dcff 51.9%,#00d2ff 54.5%,#00d1ff 56.6%,#00dbff 59.8%,#00e5f7 61.4%,#03e9f4 61.9%,#17ffe0 64.6%,#3bffbc 68.3%,#8eff68 75.7%,#afff48 78.8%,#c8ff2e 82%,#d9ff1e 85.2%,#dfff17 88.4%,#d9ff1e 92.1%,#c4ff33 95.8%,#9eff59 100%)"></i><i style="background:linear-gradient(90deg,#35ffc1 0%,#94ff62 8.5%,#b8ff3e 12.2%,#c9ff2e 14.3%,#d5ff22 16.4%,#dfff17 20.1%,#dfff18 22.2%,#d9ff1e 24.3%,#cfff28 26.5%,#c0ff37 28.6%,#9eff59 32.3%,#39ffbd 41.3%,#16ffe1 45%,#02e8f5 47.6%,#00dbff 49.7%,#00d2ff 52.4%,#00d1ff 54.5%,#00ddfe 57.7%,#00e3f9 58.7%,#05ebf2 59.8%,#14ffe2 61.9%,#38ffbf 65.6%,#91ff66 73.5%,#b1ff46 76.7%,#ceff29 80.4%,#dcff1b 83.6%,#dfff18 87.3%,#d3ff24 91%,#b5ff42 95.2%,#85ff72 100%)"></i><i style="background:linear-gradient(90deg,#4fffa8 0%,#97ff60 6.3%,#bfff38 10.6%,#d6ff20 14.3%,#e0ff17 18%,#dfff18 20.1%,#d8ff1e 22.2%,#cdff29 24.3%,#beff38 26.5%,#9cff5b 30.2%,#3dffba 38.6%,#18ffdf 42.3%,#14fee3 42.9%,#01e6f6 45.5%,#00dcfe 47.1%,#00d2ff 49.7%,#00d1ff 51.9%,#00dbff 55%,#03e9f4 57.1%,#16ffe0 59.8%,#3affbc 63.5%,#8eff69 70.9%,#b4ff43 74.6%,#cfff27 78.3%,#deff19 82%,#deff19 85.7%,#d7ff1f 87.8%,#ccff2b 89.9%,#a9ff4d 94.2%,#6aff8d 100%)"></i><i style="background:linear-gradient(90deg,#6aff8d 0%,#aaff4d 5.8%,#ccff2a 10.1%,#d8ff1f 12.2%,#deff18 14.3%,#deff18 18%,#d0ff27 21.7%,#b4ff43 25.4%,#8eff68 29.1%,#3affbc 36.5%,#16ffe1 40.2%,#03e9f4 42.9%,#00dbff 45%,#00d1ff 48.1%,#00d2ff 50.3%,#00dcfe 52.9%,#01e6f6 54.5%,#14fee3 57.1%,#18ffdf 57.7%,#3dffba 61.4%,#9cff5b 69.8%,#bfff38 73.5%,#ceff29 75.7%,#d9ff1e 77.8%,#dfff18 79.9%,#e0ff17 82%,#d7ff20 85.7%,#bfff38 89.4%,#97ff60 93.7%,#4fffa8 100%)"></i><i style="background:linear-gradient(90deg,#85ff72 0%,#b6ff41 4.8%,#d4ff23 9%,#e0ff17 12.7%,#ddff1a 16.4%,#cfff28 19.6%,#b2ff45 23.3%,#92ff65 26.5%,#38ffbf 34.4%,#14ffe2 38.1%,#04ebf2 40.2%,#01e7f6 40.7%,#00dcfe 42.3%,#00d1ff 45.5%,#00d1ff 47.6%,#00daff 50.3%,#02e8f5 52.4%,#15ffe1 55%,#39ffbd 58.7%,#9fff58 67.7%,#c1ff36 71.4%,#cfff27 73.5%,#daff1d 75.7%,#e0ff17 77.8%,#e0ff16 79.9%,#d6ff21 83.6%,#caff2d 85.7%,#b9ff3d 87.8%,#95ff62 91.5%,#36ffc1 100%)"></i><i style="background:linear-gradient(90deg,#9fff58 0%,#c5ff32 4.2%,#daff1d 7.9%,#e1ff16 11.6%,#dbff1c 14.8%,#caff2d 18%,#b0ff46 21.2%,#90ff67 24.3%,#3cffbb 31.7%,#17ffe0 35.4%,#03e9f4 38.1%,#00e5f7 38.6%,#00dbff 40.2%,#00d1ff 43.4%,#00d2ff 45.5%,#00dbff 48.1%,#00e5f7 49.7%,#13fde4 52.4%,#17ffe0 52.9%,#3cffbb 56.6%,#9bff5b 65.1%,#c3ff34 69.3%,#d1ff26 71.4%,#dbff1c 73.5%,#e0ff17 75.7%,#e1ff16 77.8%,#d5ff21 81.5%,#b8ff3f 85.7%,#99ff5e 88.9%,#3fffb8 96.8%,#1effd8 100%)"></i><i style="background:linear-gradient(90deg,#b5ff41 0%,#d1ff26 3.7%,#deff18 6.9%,#e1ff16 10.1%,#d8ff1f 13.2%,#c5ff32 16.4%,#aaff4d 19.6%,#39ffbd 29.6%,#15ffe1 33.3%,#05ecf2 35.4%,#00e4f8 36.5%,#00ddfe 37.6%,#00d1ff 40.7%,#00d1ff 42.9%,#00d9ff 45.5%,#01e7f6 47.6%,#14ffe2 50.3%,#38ffbf 54%,#9eff59 63%,#c4ff32 67.2%,#d5ff22 69.8%,#deff19 72%,#e1ff16 74.1%,#e0ff17 76.2%,#d2ff25 79.9%,#b6ff41 83.6%,#91ff66 87.3%,#37ffc0 95.2%,#18ffdf 98.4%,#13fee3 98.9%,#0bf3ec 100%)"></i><i style="background:linear-gradient(90deg,#c8ff2e 0%,#daff1d 3.2%,#e1ff16 5.8%,#e0ff17 8.5%,#d8ff1f 11.1%,#c8ff2f 13.8%,#adff4a 16.9%,#8cff6b 20.1%,#3dffba 27%,#18ffdf 30.7%,#14fee3 31.2%,#04eaf3 33.3%,#00e6f6 33.9%,#00dcff 35.4%,#00d1ff 38.6%,#00d1ff 40.7%,#00daff 43.4%,#02e8f5 45.5%,#16ffe1 48.1%,#3affbc 51.9%,#a0ff57 60.8%,#c6ff31 65.1%,#d7ff20 67.7%,#dfff18 69.8%,#e2ff15 72%,#e0ff17 74.1%,#d1ff26 77.8%,#b5ff42 81.5%,#8fff68 85.2%,#3affbc 92.6%,#16ffe1 96.3%,#02e8f5 98.9%,#00e1fb 100%)"></i><i style="background:linear-gradient(90deg,#d7ff20 0%,#e0ff17 2.6%,#e2ff15 5.3%,#dcff1b 7.9%,#cbff2c 11.1%,#baff3d 13.2%,#a1ff56 15.9%,#3bffbc 24.9%,#16ffe0 28.6%,#02e9f4 31.2%,#00daff 33.3%,#00d0ff 36.5%,#00d1ff 38.6%,#00dbff 41.3%,#00e6f7 42.9%,#13fde4 45.5%,#18ffdf 46%,#3dffba 49.7%,#9dff5a 58.2%,#c4ff33 62.4%,#d5ff22 65.1%,#deff19 67.2%,#e2ff15 69.8%,#e0ff17 72%,#d0ff27 75.7%,#b3ff44 79.4%,#93ff64 82.5%,#38ffbe 90.5%,#14ffe2 94.2%,#01e7f6 96.8%,#00dcfe 98.4%,#00d5ff 100%)"></i><i style="background:linear-gradient(90deg,#e0ff17 0%,#e2ff14 2.1%,#dfff18 4.8%,#d6ff20 6.9%,#c6ff31 9.5%,#9fff58 13.8%,#39ffbe 22.8%,#15ffe2 26.5%,#01e7f6 29.1%,#00d9ff 31.2%,#00d1ff 33.9%,#00d1ff 36%,#00dcfe 39.2%,#01e7f6 40.7%,#15ffe2 43.4%,#39ffbe 47.1%,#9fff58 56.1%,#c6ff31 60.3%,#d6ff20 63%,#dfff18 65.1%,#e2ff14 67.7%,#e0ff17 69.8%,#d2ff25 73%,#b6ff40 76.7%,#91ff66 80.4%,#36ffc0 88.4%,#17ffe0 91.5%,#0af2ec 93.1%,#00e5f7 94.7%,#00dbff 96.3%,#00d2ff 98.4%,#00d0ff 100%)"></i><i style="background:linear-gradient(90deg,#e3ff14 0%,#dbff1c 3.7%,#d0ff27 5.8%,#c0ff37 7.9%,#9dff5a 11.6%,#3dffba 20.1%,#18ffdf 23.8%,#13fde4 24.3%,#00e5f7 27%,#00dbff 28.6%,#00d1ff 31.2%,#00d0ff 33.3%,#00daff 36.5%,#02e8f4 38.6%,#16ffe0 41.3%,#3bffbc 45%,#9cff5b 53.4%,#bfff38 57.1%,#cfff28 59.3%,#daff1d 61.4%,#e3ff14 65.1%,#e1ff16 67.2%,#daff1d 69.3%,#ceff29 71.4%,#beff38 73.5%,#9bff5c 77.2%,#3affbd 85.7%,#16ffe1 89.4%,#02e8f5 92.1%,#00ddfe 93.7%,#00d2ff 96.3%,#00d0ff 97.9%,#00d3ff 100%)"></i><i style="background:linear-gradient(90deg,#e0ff17 0%,#d2ff25 3.2%,#b6ff41 6.9%,#90ff67 10.6%,#3affbc 18%,#16ffe1 21.7%,#02e8f5 24.3%,#00daff 26.5%,#00d1ff 29.1%,#00d0ff 31.2%,#00dbff 34.4%,#00e6f7 36%,#13fee3 38.6%,#18ffdf 39.2%,#3dffba 42.9%,#98ff5f 50.8%,#bcff3a 54.5%,#cdff2a 56.6%,#d9ff1e 58.7%,#e0ff16 60.8%,#e3ff14 63%,#e1ff16 65.1%,#d9ff1e 67.2%,#cdff2a 69.3%,#bdff3a 71.4%,#99ff5e 75.1%,#3effb9 83.1%,#19ffde 86.8%,#14fee3 87.3%,#00e6f6 89.9%,#00dcff 91.5%,#00d2ff 93.7%,#00d0ff 95.2%,#00d2ff 97.4%,#00dcfe 100%)"></i><i style="background:linear-gradient(90deg,#d7ff20 0%,#c6ff31 2.6%,#aaff4d 5.8%,#38ffbe 15.9%,#14ffe3 19.6%,#01e6f6 22.2%,#00dcff 23.8%,#00d1ff 26.5%,#00d0ff 28.6%,#00d3ff 30.2%,#00dcfe 32.3%,#01e7f6 33.9%,#15ffe2 36.5%,#39ffbd 40.2%,#9aff5c 48.7%,#beff39 52.4%,#ceff29 54.5%,#daff1d 56.6%,#e3ff14 60.3%,#e2ff15 62.4%,#dbff1c 64.6%,#d0ff27 66.7%,#c0ff37 68.8%,#9dff5a 72.5%,#3cffbb 81%,#17ffe0 84.7%,#03e9f4 87.3%,#00e1fb 88.4%,#00daff 89.4%,#00d2ff 91.5%,#00d0ff 94.2%,#00daff 97.4%,#00e5f7 98.9%,#06edf1 100%)"></i><i style="background:linear-gradient(90deg,#c9ff2e 0%,#a3ff54 4.2%,#3cffbb 13.2%,#17ffe0 16.9%,#00e5f7 20.1%,#00daff 21.7%,#00d1ff 24.3%,#00d0ff 26.5%,#00daff 29.6%,#02e8f5 31.7%,#16ffe0 34.4%,#3bffbb 38.1%,#9cff5a 46.6%,#bcff3b 49.7%,#ccff2b 51.9%,#d9ff1e 54%,#e1ff16 56.1%,#e4ff13 58.2%,#e1ff15 60.3%,#daff1c 62.4%,#cfff28 64.6%,#bfff38 66.7%,#9bff5c 70.4%,#3affbd 78.8%,#15ffe2 82.5%,#01e7f6 85.2%,#00dcfe 86.8%,#00d0ff 89.9%,#00d2ff 93.1%,#00dbff 95.2%,#00e6f6 96.8%,#14fee3 99.5%,#19ffde 100%)"></i><i style="background:linear-gradient(90deg,#b6ff41 0%,#90ff67 3.7%,#3affbd 11.1%,#15ffe1 14.8%,#01e7f5 17.5%,#00d9ff 19.6%,#00d0ff 22.2%,#00d0ff 24.3%,#00dbff 27.5%,#00e5f7 29.1%,#13fee3 31.7%,#18ffdf 32.3%,#3dffb9 36%,#99ff5e 43.9%,#bdff39 47.6%,#ceff29 49.7%,#daff1d 51.9%,#e4ff13 55.6%,#e2ff14 57.7%,#dcff1b 59.8%,#d1ff26 61.9%,#c2ff35 64%,#9fff58 67.7%,#3dffb9 76.2%,#18ffdf 79.9%,#13fee3 80.4%,#00e5f7 83.1%,#00dbff 84.7%,#00d2ff 86.8%,#00cfff 88.9%,#00d3ff 91%,#00dcfe 93.1%,#01e7f5 94.7%,#15ffe1 97.4%,#2fffc8 100%)"></i><i style="background:linear-gradient(90deg,#9fff58 0%,#3effb9 8.5%,#14fee3 12.7%,#00e6f7 15.3%,#00dbff 16.9%,#00d1ff 19.6%,#00cfff 21.7%,#00d2ff 23.3%,#00dcff 25.4%,#01e7f6 27%,#15ffe2 29.6%,#34ffc3 32.8%,#95ff61 41.3%,#bbff3c 45%,#ccff2b 47.1%,#d8ff1e 49.2%,#e4ff13 52.9%,#e3ff13 55%,#deff19 57.1%,#d3ff23 59.3%,#c5ff32 61.4%,#9dff5a 65.6%,#3bffbb 74.1%,#16ffe0 77.8%,#02e8f5 80.4%,#00ddfe 82%,#00d1ff 84.7%,#00cfff 86.8%,#00d1ff 88.4%,#00daff 90.5%,#00e4f8 92.1%,#17ffe0 95.2%,#48ffaf 100%)"></i><i style="background:linear-gradient(90deg,#86ff71 0%,#3cffbb 6.3%,#17ffe0 10.1%,#02e8f5 12.7%,#00daff 14.8%,#00d0ff 17.5%,#00cfff 19.6%,#00daff 22.8%,#02e8f5 24.9%,#17ffe0 27.5%,#3cffbb 31.2%,#9dff59 39.7%,#bcff3a 42.9%,#d7ff20 46.6%,#e4ff13 50.3%,#e4ff13 52.4%,#dfff18 54.5%,#d6ff21 56.6%,#c3ff33 59.3%,#a1ff56 63%,#39ffbe 72%,#15ffe2 75.7%,#01e6f6 78.3%,#00dbff 79.9%,#00d1ff 82.5%,#00cfff 84.7%,#00d2ff 86.2%,#00dbff 88.4%,#00e6f7 89.9%,#14fee3 92.6%,#33ffc4 95.8%,#63ff94 100%)"></i><i style="background:linear-gradient(90deg,#6bff8c 0%,#34ffc3 4.8%,#15ffe2 7.9%,#01e6f6 10.6%,#00dbff 12.2%,#00d2ff 14.3%,#00cfff 15.9%,#00d0ff 18%,#00dbff 20.6%,#00e5f7 22.2%,#14fee3 24.9%,#18ffdf 25.4%,#3effb9 29.1%,#a0ff57 37.6%,#c3ff34 41.3%,#d5ff21 43.9%,#dfff18 46%,#e4ff13 48.1%,#e4ff13 50.3%,#d8ff1f 54%,#caff2c 56.1%,#b9ff3e 58.2%,#93ff64 61.9%,#37ffc0 69.8%,#17ffdf 73%,#13fde4 73.5%,#03e9f4 75.7%,#00e5f7 76.2%,#00daff 77.8%,#00cfff 81%,#00d0ff 83.1%,#00d9ff 85.7%,#01e7f5 87.8%,#16ffe1 90.5%,#3bffbc 94.2%,#7eff78 100%)"></i><i style="background:linear-gradient(90deg,#4fffa7 0%,#18ffdf 5.3%,#13fde4 5.8%,#00e5f7 8.5%,#00daff 10.1%,#00d1ff 12.2%,#00ceff 13.8%,#00d0ff 15.9%,#00dcff 18.5%,#01e7f6 20.1%,#15ffe2 22.8%,#3affbd 26.5%,#a2ff55 35.4%,#c5ff32 39.2%,#d4ff23 41.3%,#deff19 43.4%,#e4ff13 45.5%,#e5ff12 47.6%,#daff1d 51.3%,#cdff2a 53.4%,#bcff3b 55.6%,#97ff60 59.3%,#35ffc2 67.7%,#16ffe1 70.9%,#01e7f5 73.5%,#00dcff 75.1%,#00d2ff 77.2%,#00cfff 78.8%,#00d0ff 81%,#00daff 83.6%,#03e9f4 85.7%,#13fde4 87.8%,#17ffe0 88.4%,#3dffba 92.1%,#99ff5e 100%)"></i><i style="background:linear-gradient(90deg,#35ffc2 0%,#16ffe1 3.2%,#01e7f5 5.8%,#00dcfe 7.4%,#00d2ff 9.5%,#00ceff 11.6%,#00d1ff 13.8%,#00ddfe 16.4%,#02e8f5 18%,#17ffe0 20.6%,#3cffba 24.3%,#9eff58 32.8%,#c2ff35 36.5%,#d2ff25 38.6%,#ddff1a 40.7%,#e4ff13 42.9%,#e5ff12 45%,#dcff1b 48.7%,#cfff27 50.8%,#bfff38 52.9%,#9bff5c 56.6%,#3effb8 64.6%,#18ffde 68.3%,#14fee3 68.8%,#00e5f7 71.4%,#00dbff 73%,#00d1ff 75.1%,#00ceff 76.7%,#00d0ff 78.8%,#00dbff 81.5%,#00e6f7 83.1%,#14ffe3 85.7%,#39ffbe 89.4%,#8fff67 96.8%,#b1ff46 100%)"></i><i style="background:linear-gradient(90deg,#1effd9 0%,#14fee3 1.1%,#00e5f7 3.7%,#00dbff 5.3%,#00d0ff 7.9%,#00d0ff 11.1%,#00defd 14.3%,#00e5f7 15.3%,#14fee3 18%,#39ffbe 21.7%,#a1ff56 30.7%,#c4ff33 34.4%,#d3ff24 36.5%,#deff19 38.6%,#e4ff13 40.7%,#e5ff12 42.9%,#dbff1c 46.6%,#ceff29 48.7%,#beff39 50.8%,#9eff59 54%,#3cffbb 62.4%,#17ffe0 66.1%,#02e8f5 68.8%,#00dcfe 70.4%,#00d2ff 72.5%,#00ceff 74.1%,#00d0ff 76.7%,#00dcff 79.4%,#01e7f5 81%,#16ffe1 83.6%,#3bffbc 87.3%,#9eff59 95.8%,#c6ff31 100%)"></i><i style="background:linear-gradient(90deg,#09f1ed 0%,#02e8f5 1.1%,#00dcfe 2.6%,#00d2ff 4.8%,#00ceff 6.3%,#00d0ff 9%,#00dcff 11.6%,#00dffc 12.2%,#01e7f6 13.2%,#16ffe1 15.9%,#3bffbc 19.6%,#9dff59 28%,#c2ff35 31.7%,#d1ff25 33.9%,#ddff1a 36%,#e4ff13 38.1%,#e6ff11 40.2%,#dcff1a 43.9%,#d1ff26 46%,#c0ff36 48.1%,#9cff5b 51.9%,#3affbd 60.3%,#15ffe2 64%,#00e6f6 66.7%,#00dbff 68.3%,#00d1ff 70.4%,#00ceff 72%,#00cfff 74.1%,#00daff 76.7%,#00e5f8 78.3%,#13fde4 81%,#18ffdf 81.5%,#3effb9 85.2%,#abff4c 94.7%,#c3ff33 97.4%,#d6ff21 100%)"></i><i style="background:linear-gradient(90deg,#00defd 0%,#00d1ff 2.6%,#00ceff 5.3%,#00d0ff 6.9%,#00d9ff 9%,#02e8f4 11.1%,#13fde4 13.2%,#17ffdf 13.8%,#3dffb9 17.5%,#9aff5d 25.4%,#bfff38 29.1%,#cfff27 31.2%,#dcff1b 33.3%,#e3ff13 35.4%,#e6ff11 37.6%,#e3ff13 39.7%,#dcff1b 41.8%,#cfff27 43.9%,#bfff38 46%,#9aff5d 49.7%,#3dffba 57.7%,#17ffe0 61.4%,#13fde4 61.9%,#02e8f5 64%,#00ddfe 65.6%,#00d2ff 67.7%,#00ceff 69.3%,#00d0ff 72%,#00dbff 74.6%,#00e6f6 76.2%,#15ffe2 78.8%,#3affbd 82.5%,#91ff66 89.9%,#b3ff44 93.1%,#d1ff26 96.8%,#e1ff16 100%)"></i><i style="background:linear-gradient(90deg,#00d2ff 0%,#00cdff 2.1%,#00cfff 4.2%,#00dbff 6.9%,#00e6f7 8.5%,#15ffe2 11.1%,#3affbd 14.8%,#9dff5a 23.3%,#c1ff36 27%,#d1ff26 29.1%,#ddff1a 31.2%,#e4ff13 33.3%,#e6ff11 35.4%,#ddff19 39.2%,#d2ff25 41.3%,#c2ff35 43.4%,#9dff5a 47.1%,#3bffbc 55.6%,#15ffe2 59.3%,#01e6f6 61.9%,#00dbff 63.5%,#00d1ff 65.6%,#00ceff 67.2%,#00d0ff 69.8%,#00dcfe 72.5%,#02e8f5 74.1%,#17ffe0 76.7%,#3cffba 80.4%,#9fff58 88.9%,#beff38 92.1%,#cfff28 94.2%,#dcff1b 96.3%,#e6ff11 100%)"></i><i style="background:linear-gradient(90deg,#00cdff 0%,#00d0ff 2.1%,#00dcff 4.8%,#00e3f9 5.8%,#05ecf1 6.9%,#17ffe0 9%,#3cffba 12.7%,#9fff58 21.2%,#bfff38 24.3%,#cfff27 26.5%,#dcff1b 28.6%,#e4ff13 30.7%,#e6ff10 32.8%,#e4ff13 34.9%,#dcff1a 37%,#d0ff27 39.2%,#c0ff37 41.3%,#9bff5c 45%,#3effb9 52.9%,#18ffdf 56.6%,#13fde4 57.1%,#02e9f4 59.3%,#00d9ff 61.4%,#00ceff 64.6%,#00cfff 67.2%,#00daff 69.8%,#00e5f7 71.4%,#14fee3 74.1%,#39ffbe 77.8%,#a2ff55 86.8%,#c9ff2e 91%,#daff1c 93.7%,#e3ff14 95.8%,#e6ff11 97.9%,#e5ff12 100%)"></i><i style="background:linear-gradient(90deg,#00d0ff 0%,#00daff 2.1%,#00e5f7 3.7%,#14fee3 6.3%,#19ffde 6.9%,#39ffbe 10.1%,#90ff67 17.5%,#b7ff3f 21.2%,#d5ff22 24.9%,#e4ff12 28.6%,#e6ff10 30.7%,#e2ff15 33.3%,#d9ff1e 35.4%,#c7ff30 38.1%,#9eff59 42.3%,#3bffbc 50.8%,#15ffe1 54.5%,#01e6f6 57.1%,#00dbff 58.7%,#00cfff 61.4%,#00cdff 64%,#00d1ff 65.6%,#00dbff 67.7%,#01e7f6 69.3%,#16ffe1 72%,#3cffbb 75.7%,#a4ff52 84.7%,#beff39 87.3%,#cfff28 89.4%,#deff19 92.1%,#e6ff11 94.7%,#e5ff12 97.4%,#ddff1a 100%)"></i><i style="background:linear-gradient(90deg,#00dbff 0%,#01e7f6 1.6%,#16ffe1 4.2%,#36ffc1 7.4%,#93ff64 15.3%,#baff3d 19%,#d6ff21 22.8%,#e5ff12 26.5%,#e7ff10 28.6%,#e3ff14 30.7%,#daff1c 32.8%,#c9ff2e 35.4%,#a1ff56 39.7%,#3effb9 48.1%,#18ffdf 51.9%,#13fde4 52.4%,#02e9f4 54.5%,#00d9ff 56.6%,#00ceff 59.3%,#00cdff 61.9%,#00d2ff 63.5%,#00ddfe 65.6%,#03e9f4 67.2%,#13fde4 69.3%,#18ffdf 69.8%,#3effb8 73.5%,#adff4a 83.1%,#c9ff2e 86.2%,#daff1c 88.9%,#e4ff12 91.5%,#e6ff10 94.2%,#e0ff16 96.8%,#cfff28 100%)"></i><i style="background:linear-gradient(90deg,#06edf0 0%,#13fde3 1.6%,#18ffdf 2.1%,#3fffb8 5.8%,#9cff5b 13.8%,#bcff3b 16.9%,#d8ff1f 20.6%,#e6ff11 24.3%,#e7ff10 26.5%,#e2ff14 28.6%,#d9ff1e 30.7%,#c7ff30 33.3%,#9fff58 37.6%,#3bffbc 46%,#15ffe1 49.7%,#01e6f6 52.4%,#00dbff 54%,#00cfff 56.6%,#00cdff 59.3%,#00d0ff 60.8%,#00dbff 63%,#01e6f6 64.6%,#15ffe1 67.2%,#3bffbc 70.9%,#8dff6a 77.8%,#afff48 81%,#cbff2b 84.1%,#deff18 87.3%,#e7ff10 90.5%,#e3ff13 93.7%,#d5ff22 96.8%,#bcff3b 100%)"></i><i style="background:linear-gradient(90deg,#1affdc 0%,#41ffb5 3.7%,#99ff5e 11.1%,#baff3d 14.3%,#ccff2b 16.4%,#daff1d 18.5%,#e6ff10 22.2%,#e7ff10 24.3%,#e2ff15 26.5%,#d8ff1f 28.6%,#c5ff32 31.2%,#a2ff55 34.9%,#3effb9 43.4%,#18ffdf 47.1%,#13fde4 47.6%,#02e8f5 49.7%,#00d9ff 51.9%,#00ceff 54.5%,#00cdff 57.1%,#00d1ff 58.7%,#00dcfe 60.8%,#02e8f5 62.4%,#13fde4 64.6%,#18ffdf 65.1%,#38ffbf 68.3%,#90ff67 75.7%,#b2ff45 78.8%,#d1ff26 82.5%,#e2ff15 85.7%,#e7ff10 88.9%,#dfff18 92.6%,#c8ff2f 96.3%,#a5ff52 100%)"></i><i style="background:linear-gradient(90deg,#33ffc4 0%,#96ff61 8.5%,#bcff3a 12.2%,#ceff29 14.3%,#dbff1c 16.4%,#e7ff10 20.1%,#e7ff10 22.2%,#e1ff16 24.3%,#d7ff20 26.5%,#c8ff2f 28.6%,#9fff58 32.8%,#3bffbc 41.3%,#15ffe2 45%,#00e6f7 47.6%,#00daff 49.2%,#00ceff 51.9%,#0cf 54.5%,#00d0ff 56.1%,#00daff 58.2%,#00e6f7 59.8%,#15ffe2 62.4%,#3bffbc 66.1%,#93ff64 73.5%,#b5ff42 76.7%,#d3ff24 80.4%,#e4ff12 84.1%,#e6ff11 87.8%,#d8ff1e 91.5%,#bcff3a 95.2%,#8aff6d 100%)"></i><i style="background:linear-gradient(90deg,#4effa9 0%,#99ff5d 6.3%,#c4ff33 10.6%,#d4ff23 12.7%,#dfff18 14.8%,#e8ff0f 18.5%,#e5ff12 20.6%,#deff19 22.8%,#d2ff25 24.9%,#c1ff36 27%,#9cff5b 30.7%,#3effb9 38.6%,#17ffe0 42.3%,#12fce4 42.9%,#02e8f5 45%,#00dbff 46.6%,#00cfff 49.2%,#0cf 51.9%,#00d0ff 54%,#00dcff 56.1%,#02e8f5 57.7%,#13fde4 59.8%,#17ffdf 60.3%,#38ffbf 63.5%,#90ff67 70.9%,#b7ff3f 74.6%,#d5ff22 78.3%,#e5ff11 82%,#e6ff11 85.7%,#dfff18 87.8%,#d4ff23 89.9%,#b0ff47 94.2%,#6dff89 100%)"></i><i style="background:linear-gradient(90deg,#6bff8c 0%,#aeff49 5.8%,#d2ff25 10.1%,#deff18 12.2%,#e6ff11 14.3%,#e6ff11 18%,#d7ff20 21.7%,#baff3d 25.4%,#93ff64 29.1%,#35ffc2 37%,#15ffe2 40.2%,#03eaf3 42.3%,#00e5f7 42.9%,#00d9ff 44.4%,#00cfff 46.6%,#0cf 48.1%,#00ceff 50.8%,#00daff 53.4%,#00e5f7 55%,#15ffe2 57.7%,#3bffbc 61.4%,#9fff58 69.8%,#c4ff33 73.5%,#d4ff23 75.7%,#dfff17 77.8%,#e6ff11 79.9%,#e8ff0f 82%,#deff19 85.7%,#c6ff31 89.4%,#9cff5b 93.7%,#51ffa6 100%)"></i><i style="background:linear-gradient(90deg,#88ff6f 0%,#bbff3c 4.8%,#cdff2a 6.9%,#dbff1c 9%,#e7ff0f 12.7%,#e4ff13 16.4%,#d5ff21 19.6%,#b7ff3f 23.3%,#90ff67 27%,#37ffbf 34.4%,#17ffe0 37.6%,#01e7f6 40.2%,#00dbff 41.8%,#00d0ff 43.9%,#00cbff 46%,#00ceff 48.7%,#00dbff 51.3%,#02e8f5 52.9%,#12fce4 55%,#17ffdf 55.6%,#3effb9 59.3%,#a2ff54 67.7%,#c6ff31 71.4%,#d6ff21 73.5%,#e1ff16 75.7%,#e7ff10 77.8%,#e8ff0f 79.9%,#ddff1a 83.6%,#d0ff27 85.7%,#bfff38 87.8%,#99ff5e 91.5%,#35ffc2 100%)"></i><i style="background:linear-gradient(90deg,#a3ff54 0%,#c7ff30 3.7%,#dfff18 7.4%,#e8ff0f 11.1%,#e4ff13 14.3%,#d4ff23 17.5%,#b5ff42 21.2%,#93ff64 24.3%,#3affbd 31.7%,#19ffde 34.9%,#14fee3 35.4%,#03e9f4 37.6%,#00dcfe 39.2%,#00d0ff 41.3%,#00cbff 43.4%,#00cdff 46%,#00d9ff 48.7%,#00e5f7 50.3%,#15ffe2 52.9%,#3bffbc 56.6%,#a0ff57 65.1%,#c9ff2e 69.3%,#d8ff1f 71.4%,#e2ff15 73.5%,#e8ff0f 75.7%,#e8ff0f 77.8%,#dcff1b 81.5%,#ceff28 83.6%,#bdff3a 85.7%,#9cff5b 88.9%,#3dffb9 96.8%,#1cffdb 100%)"></i><i style="background:linear-gradient(90deg,#bbff3b 0%,#d5ff22 3.2%,#e4ff12 6.3%,#e8ff0e 9.5%,#e1ff16 12.7%,#ceff29 15.9%,#b2ff45 19%,#8fff67 22.2%,#37ffc0 29.6%,#16ffe1 32.8%,#01e6f6 35.4%,#00daff 37%,#00cfff 39.2%,#00caff 41.3%,#00ceff 43.9%,#00dbff 46.6%,#01e7f5 48.1%,#12fce4 50.3%,#17ffdf 50.8%,#3effb8 54.5%,#9dff5a 62.4%,#c7ff30 66.7%,#daff1d 69.3%,#e3ff13 71.4%,#e8ff0e 74.1%,#e7ff10 76.2%,#d7ff1f 79.9%,#baff3d 83.6%,#99ff5e 86.8%,#40ffb7 94.2%,#19ffde 97.9%,#14fee3 98.4%,#07eef0 100%)"></i><i style="background:linear-gradient(90deg,#d0ff27 0%,#e2ff15 3.2%,#e8ff0e 5.8%,#e7ff10 8.5%,#ddff1a 11.1%,#ccff2b 13.8%,#afff47 16.9%,#3affbd 27%,#18ffdf 30.2%,#13fde3 30.7%,#02e8f5 32.8%,#00dbff 34.4%,#00d0ff 36.5%,#00caff 38.6%,#00cdff 41.3%,#00d9ff 43.9%,#00e5f7 45.5%,#15ffe2 48.1%,#3bffbb 51.9%,#a0ff56 60.3%,#c9ff2d 64.6%,#dbff1b 67.2%,#e4ff12 69.3%,#e9ff0e 72%,#e6ff10 74.1%,#d6ff21 77.8%,#b8ff3f 81.5%,#96ff61 84.7%,#37ffc0 92.6%,#16ffe1 95.8%,#00e6f6 98.4%,#00daff 100%)"></i><i style="background:linear-gradient(90deg,#dfff18 0%,#e8ff0f 2.6%,#e8ff0e 5.3%,#e1ff16 7.9%,#d2ff25 10.6%,#c1ff36 12.7%,#a7ff50 15.3%,#3cffbb 24.3%,#15ffe1 28%,#00e5f7 30.7%,#00d9ff 32.3%,#00ceff 34.4%,#00caff 36.5%,#00cdff 39.2%,#00dbff 41.8%,#01e7f5 43.4%,#13fce4 45.5%,#17ffdf 46%,#3fffb8 49.7%,#9eff59 57.7%,#c7ff2f 61.9%,#daff1d 64.6%,#e4ff13 66.7%,#e9ff0e 69.3%,#e7ff10 71.4%,#d7ff1f 75.1%,#baff3d 78.8%,#93ff64 82.5%,#3affbd 89.9%,#18ffdf 93.1%,#13fde3 93.7%,#00e3f8 96.3%,#00dbff 97.4%,#00ceff 100%)"></i><i style="background:linear-gradient(90deg,#e7ff10 0%,#e9ff0e 2.1%,#e4ff13 4.8%,#dbff1c 6.9%,#c8ff2f 9.5%,#9eff59 13.8%,#3fffb8 21.7%,#18ffdf 25.4%,#13fde4 25.9%,#01e7f5 28%,#00dbff 29.6%,#0cf 32.8%,#00caff 35.4%,#00d0ff 37.6%,#00dcfe 39.7%,#00e5f7 40.7%,#03eaf4 41.3%,#15ffe2 43.4%,#3cffbb 47.1%,#9bff5c 55%,#c1ff36 58.7%,#d2ff25 60.8%,#dfff18 63%,#e7ff10 65.1%,#e9ff0e 67.2%,#e7ff10 69.3%,#dfff18 71.4%,#d2ff24 73.5%,#c1ff35 75.7%,#9cff5b 79.4%,#3cffba 87.3%,#15ffe1 91%,#04eaf3 93.1%,#00e5f7 93.7%,#00d9ff 95.2%,#0cf 97.9%,#00c9ff 100%)"></i><i style="background:linear-gradient(90deg,#e9ff0e 0%,#dfff18 3.7%,#d2ff25 5.8%,#c1ff36 7.9%,#9bff5c 11.6%,#3cffbb 19.6%,#15ffe2 23.3%,#00e5f7 25.9%,#00dcfe 27%,#0cf 30.2%,#00c9ff 32.8%,#00cfff 34.9%,#00daff 37%,#01e7f6 38.6%,#13fce4 40.7%,#17ffdf 41.3%,#3fffb8 45%,#9eff59 52.9%,#c4ff33 56.6%,#d4ff23 58.7%,#e0ff17 60.8%,#e7ff0f 63%,#e9ff0d 65.1%,#e6ff11 67.2%,#deff19 69.3%,#d0ff26 71.4%,#bfff38 73.5%,#9eff58 76.7%,#3fffb8 84.7%,#18ffdf 88.4%,#13fde4 88.9%,#01e7f5 91%,#00dbff 92.6%,#00cbff 95.8%,#00c9ff 97.9%,#00ceff 100%)"></i><i style="background:linear-gradient(90deg,#e5ff12 0%,#d4ff23 3.2%,#b5ff42 6.9%,#92ff65 10.1%,#38ffbe 17.5%,#17ffe0 20.6%,#01e7f6 23.3%,#00daff 24.9%,#00cbff 28%,#00caff 30.7%,#00d0ff 32.8%,#00dcfe 34.9%,#00e5f7 36%,#03e9f4 36.5%,#15ffe2 38.6%,#3cffbb 42.3%,#9bff5b 50.3%,#c2ff35 54%,#d3ff24 56.1%,#dfff18 58.2%,#e7ff10 60.3%,#eaff0d 62.4%,#e7ff10 64.6%,#dfff18 66.7%,#d2ff24 68.8%,#c1ff35 70.9%,#9bff5b 74.6%,#3cffbb 82.5%,#15ffe2 86.2%,#03e9f4 88.4%,#00e5f8 88.9%,#00dcfe 89.9%,#00d0ff 92.1%,#00caff 94.2%,#00cbff 96.8%,#00daff 100%)"></i><i style="background:linear-gradient(90deg,#d9ff1d 0%,#c6ff31 2.6%,#acff4a 5.3%,#3bffbc 14.8%,#14ffe2 18.5%,#03e9f4 20.6%,#00dcff 22.2%,#00cbff 25.4%,#00c9ff 28%,#00ceff 30.2%,#00daff 32.3%,#01e7f6 33.9%,#12fce4 36%,#17ffdf 36.5%,#3fffb8 40.2%,#9fff58 48.1%,#bfff37 51.3%,#d1ff26 53.4%,#deff19 55.6%,#e7ff10 57.7%,#eaff0d 59.8%,#e8ff0f 61.9%,#e1ff16 64%,#d4ff22 66.1%,#c4ff33 68.3%,#9eff58 72%,#3fffb8 79.9%,#17ffe0 83.6%,#01e7f6 86.2%,#00defd 87.3%,#0cf 90.5%,#00c9ff 93.7%,#00cfff 95.8%,#00dcff 97.9%,#00e4f8 98.9%,#07eef0 100%)"></i><i style="background:linear-gradient(90deg,#c8ff2f 0%,#9eff59 4.2%,#3effb9 12.2%,#17ffe0 15.9%,#00e6f6 18.5%,#00d9ff 20.1%,#00caff 23.3%,#00c9ff 25.9%,#00cfff 28%,#00dcff 30.2%,#03e9f4 31.7%,#15ffe2 33.9%,#3cffbb 37.6%,#9cff5b 45.5%,#c2ff35 49.2%,#d3ff24 51.3%,#e0ff17 53.4%,#eaff0d 57.1%,#e9ff0e 59.3%,#e2ff15 61.4%,#d6ff20 63.5%,#c6ff31 65.6%,#a1ff55 69.3%,#3bffbb 77.8%,#14ffe2 81.5%,#03e9f4 83.6%,#00dcff 85.2%,#00cfff 87.3%,#00caff 88.9%,#00cbff 92.1%,#00daff 95.2%,#01e6f6 96.8%,#12fce5 98.9%,#1cffdb 100%)"></i><i style="background:linear-gradient(90deg,#b2ff45 0%,#8fff68 3.2%,#3bffbc 10.1%,#14fee3 13.8%,#02e8f5 15.9%,#00dbff 17.5%,#00cbff 20.6%,#00c9ff 23.3%,#00ceff 25.4%,#00daff 27.5%,#01e7f6 29.1%,#12fce5 31.2%,#17ffe0 31.7%,#3fffb8 35.4%,#9fff58 43.4%,#c0ff37 46.6%,#d1ff26 48.7%,#dfff18 50.8%,#eaff0d 54.5%,#e9ff0e 56.6%,#e3ff14 58.7%,#d8ff1f 60.8%,#c9ff2e 63%,#9eff58 67.2%,#3effb8 75.1%,#17ffe0 78.8%,#00e6f6 81.5%,#00ddfd 82.5%,#00ceff 85.2%,#00c8ff 87.8%,#00cdff 90.5%,#00dbff 93.1%,#03e9f4 94.7%,#14ffe2 96.8%,#35ffc1 100%)"></i><i style="background:linear-gradient(90deg,#98ff5f 0%,#3effb9 7.4%,#16ffe0 11.1%,#00e6f7 13.8%,#00d9ff 15.3%,#00caff 18.5%,#00c9ff 21.2%,#00cfff 23.3%,#00dbff 25.4%,#03e9f4 27%,#15ffe2 29.1%,#36ffc1 32.3%,#96ff61 40.2%,#bdff39 43.9%,#cfff27 46%,#ddff1a 48.1%,#eaff0d 51.9%,#eaff0d 54%,#e4ff12 56.1%,#daff1d 58.2%,#c6ff30 60.8%,#a2ff55 64.6%,#3bffbb 73%,#14ffe3 76.7%,#02e8f4 78.8%,#00dbff 80.4%,#00cbff 83.6%,#00c8ff 86.2%,#00ceff 88.4%,#00d9ff 90.5%,#00e6f6 92.1%,#17ffe0 94.7%,#52ffa5 100%)"></i><i style="background:linear-gradient(90deg,#7cff7b 0%,#3bffbc 5.3%,#14fee3 9%,#02e8f5 11.1%,#00dbff 12.7%,#00cbff 15.9%,#00c8ff 18.5%,#00cdff 20.6%,#00d9ff 22.8%,#00e6f6 24.3%,#17ffe0 27%,#3fffb8 30.7%,#9fff58 38.6%,#c0ff37 41.8%,#dcff1b 45.5%,#eaff0d 49.2%,#eaff0d 51.3%,#e6ff11 53.4%,#dcff1b 55.6%,#c9ff2e 58.2%,#9fff58 62.4%,#3fffb8 70.4%,#17ffe0 74.1%,#00e6f6 76.7%,#00d9ff 78.3%,#00caff 81.5%,#00c8ff 84.1%,#00ceff 86.2%,#00dbff 88.4%,#02e8f5 89.9%,#14fee3 92.1%,#35ffc2 95.2%,#6fff88 100%)"></i><i style="background:linear-gradient(90deg,#5eff98 0%,#32ffc5 3.7%,#16ffe0 6.3%,#00e6f7 9%,#00d9ff 10.6%,#00cdff 12.7%,#00c8ff 14.8%,#00caff 17.5%,#00dbff 20.6%,#02e8f5 22.2%,#14fee3 24.3%,#3bffbb 28%,#a2ff55 36.5%,#c7ff30 40.2%,#daff1c 42.9%,#e5ff12 45%,#eaff0d 47.1%,#eaff0d 49.2%,#ddff19 52.9%,#d0ff27 55%,#bdff39 57.1%,#96ff61 60.8%,#36ffc1 68.8%,#14ffe2 72%,#02e8f4 74.1%,#00dbff 75.7%,#00ceff 77.8%,#00c8ff 79.9%,#00caff 82.5%,#00d9ff 85.7%,#00e5f7 87.3%,#16ffe1 89.9%,#3effb9 93.7%,#8cff6b 100%)"></i><i style="background:linear-gradient(90deg,#42ffb5 0%,#14fee3 4.2%,#02e8f5 6.3%,#00dbff 7.9%,#0cf 10.6%,#00c7ff 13.2%,#00cdff 15.9%,#00ddfe 18.5%,#00e5f7 19.6%,#16ffe1 22.2%,#3effb9 25.9%,#9eff58 33.9%,#c9ff2e 38.1%,#d9ff1e 40.2%,#e4ff13 42.3%,#eaff0d 44.4%,#ebff0c 46.6%,#dfff18 50.3%,#d2ff25 52.4%,#c0ff37 54.5%,#9fff57 57.7%,#3fffb8 65.6%,#17ffe0 69.3%,#00e6f6 72%,#00d9ff 73.5%,#00cdff 75.7%,#00c8ff 77.8%,#00caff 80.4%,#00daff 83.6%,#02e7f5 85.2%,#13fee3 87.3%,#18ffde 87.8%,#3bffbc 91%,#a7ff50 100%)"></i><i style="background:linear-gradient(90deg,#27ffd0 0%,#17ffe0 1.6%,#00e6f6 4.2%,#00d9ff 5.8%,#00cdff 7.9%,#00c8ff 9.5%,#00caff 12.7%,#00d0ff 14.3%,#00defd 16.4%,#01e7f5 17.5%,#13fde3 19.6%,#18ffde 20.1%,#41ffb6 23.8%,#a1ff56 31.7%,#c6ff30 35.4%,#d7ff20 37.6%,#e3ff14 39.7%,#e9ff0d 41.8%,#ebff0c 43.9%,#e1ff16 47.6%,#d4ff23 49.7%,#c3ff34 51.9%,#9dff5a 55.6%,#3cffba 63.5%,#15ffe2 67.2%,#03e9f4 69.3%,#00dbff 70.9%,#0cf 73.5%,#00c7ff 75.7%,#00cbff 78.3%,#00dcff 81.5%,#00e5f7 82.5%,#16ffe1 85.2%,#3dffba 88.9%,#9eff59 96.8%,#bfff38 100%)"></i><i style="background:linear-gradient(90deg,#10f9e7 0%,#03e9f4 1.6%,#00dbff 3.2%,#00ceff 5.3%,#00c9ff 6.9%,#00c9ff 10.1%,#00cfff 11.6%,#00dcff 13.8%,#00e4f8 14.8%,#15ffe1 17.5%,#3dffba 21.2%,#9eff59 29.1%,#c4ff33 32.8%,#d5ff22 34.9%,#e1ff16 37%,#e9ff0e 39.2%,#ebff0c 41.3%,#e8ff0f 43.4%,#e0ff17 45.5%,#d3ff24 47.6%,#c1ff36 49.7%,#9aff5c 53.4%,#40ffb7 60.8%,#18ffdf 64.6%,#13fde4 65.1%,#01e7f6 67.2%,#00daff 68.8%,#00cdff 70.9%,#00c8ff 73%,#00caff 75.7%,#00daff 78.8%,#01e7f6 80.4%,#13fce4 82.5%,#18ffdf 83.1%,#40ffb7 86.8%,#a6ff51 95.2%,#c1ff36 97.9%,#d3ff24 100%)"></i><i style="background:linear-gradient(90deg,#00e2fa 0%,#00daff 1.1%,#00cdff 3.2%,#00c7ff 6.3%,#00d0ff 9.5%,#00d9ff 11.1%,#01e6f6 12.7%,#12fce5 14.8%,#17ffe0 15.3%,#3fffb7 19%,#9aff5d 26.5%,#c1ff36 30.2%,#d2ff24 32.3%,#e0ff17 34.4%,#e8ff0f 36.5%,#ebff0c 38.6%,#e9ff0e 40.7%,#e1ff15 42.9%,#d5ff22 45%,#c4ff33 47.1%,#9eff59 50.8%,#3dffb9 58.7%,#16ffe1 62.4%,#03eaf4 64.6%,#00e5f7 65.1%,#00dcff 66.1%,#0cf 68.8%,#00c7ff 70.9%,#00caff 73.5%,#00dbff 76.7%,#02e8f4 78.3%,#14ffe2 80.4%,#3cffbb 84.1%,#aeff49 93.7%,#ccff2b 96.8%,#e1ff16 100%)"></i><i style="background:linear-gradient(90deg,#00d2ff 0%,#00c8ff 2.6%,#00c9ff 5.3%,#00ceff 6.9%,#00dbff 9%,#02e8f5 10.6%,#14fee3 12.7%,#3cffbb 16.4%,#9cff5b 24.3%,#c3ff34 28%,#d4ff23 30.2%,#e1ff16 32.3%,#e9ff0e 34.4%,#ebff0c 36.5%,#e8ff0e 38.6%,#e1ff16 40.7%,#d4ff23 42.9%,#c2ff34 45%,#9cff5b 48.7%,#41ffb5 56.1%,#19ffde 59.8%,#14fee3 60.3%,#02e8f5 62.4%,#00daff 64%,#0cf 66.7%,#00c7ff 68.8%,#00cbff 71.4%,#00dcfe 74.6%,#00e5f7 75.7%,#16ffe1 78.3%,#38ffbf 81.5%,#93ff64 88.9%,#bbff3c 92.6%,#d9ff1e 96.3%,#e9ff0e 100%)"></i><i style="background:linear-gradient(90deg,#00c9ff 0%,#00c7ff 2.1%,#0cf 4.2%,#00dcfe 6.9%,#00e5f7 7.9%,#03eaf3 8.5%,#16ffe1 10.6%,#3effb9 14.3%,#9eff58 22.2%,#c4ff32 25.9%,#d5ff22 28%,#e2ff15 30.2%,#e9ff0e 32.3%,#ebff0c 34.4%,#e8ff0f 36.5%,#e0ff17 38.6%,#d2ff24 40.7%,#c1ff36 42.9%,#a0ff57 46%,#3fffb8 54%,#17ffe0 57.7%,#00e6f6 60.3%,#00d9ff 61.9%,#00cdff 64%,#00c7ff 66.1%,#00caff 68.8%,#00daff 72%,#01e7f6 73.5%,#13fde4 75.7%,#18ffdf 76.2%,#40ffb6 79.9%,#a1ff56 87.8%,#c6ff30 91.5%,#d7ff20 93.7%,#e3ff14 95.8%,#eaff0d 97.9%,#ebff0c 100%)"></i><i style="background:linear-gradient(90deg,#00c7ff 0%,#00cdff 2.1%,#00d9ff 4.2%,#01e6f6 5.8%,#05ebf2 6.3%,#12fce4 7.9%,#17ffdf 8.5%,#40ffb7 12.2%,#9aff5c 19.6%,#bcff3b 22.8%,#daff1d 26.5%,#e9ff0d 30.2%,#ebff0c 32.3%,#e8ff0f 34.4%,#dfff18 36.5%,#cdff2a 39.2%,#a4ff53 43.4%,#3dffba 51.9%,#15ffe1 55.6%,#00e4f8 58.2%,#00dcff 59.3%,#00d8ff 59.8%,#00c9ff 63%,#00c8ff 65.6%,#00ceff 67.7%,#00dbff 69.8%,#02e9f4 71.4%,#15ffe2 73.5%,#3cffbb 77.2%,#a3ff54 85.7%,#ccff2a 89.9%,#deff18 92.6%,#e9ff0e 95.2%,#ebff0c 97.4%,#e7ff10 100%)"></i><i style="background:linear-gradient(90deg,#00ceff 0%,#00dbff 2.1%,#00e3f9 3.2%,#02e8f5 3.7%,#14fee3 5.8%,#35ffc1 9%,#96ff61 16.9%,#b9ff3e 20.1%,#d8ff1f 23.8%,#e9ff0e 27.5%,#ebff0c 29.6%,#e7ff10 32.3%,#deff19 34.4%,#ccff2b 37%,#a2ff55 41.3%,#3bffbc 49.7%,#19ffde 52.9%,#14fee3 53.4%,#02e8f5 55.6%,#00daff 57.1%,#00caff 60.3%,#00c7ff 63%,#00cfff 65.6%,#00dcfe 67.7%,#00e5f7 68.8%,#16ffe1 71.4%,#3effb9 75.1%,#a5ff52 83.6%,#c0ff37 86.2%,#d6ff21 88.9%,#e6ff11 92.1%,#ebff0c 94.7%,#e8ff0f 97.4%,#ddff1a 100%)"></i><i style="background:linear-gradient(90deg,#00dcff 0%,#00e4f8 1.1%,#15ffe1 3.7%,#37ffc0 6.9%,#92ff65 14.3%,#baff3d 18%,#d9ff1e 21.7%,#e9ff0e 25.4%,#ebff0c 27.5%,#e7ff10 30.2%,#ddff1a 32.3%,#caff2c 34.9%,#a0ff57 39.2%,#40ffb7 47.1%,#17ffdf 50.8%,#12fce4 51.3%,#01e6f6 53.4%,#00d9ff 55%,#00c9ff 58.2%,#00c7ff 60.8%,#00cdff 63%,#00d9ff 65.1%,#01e7f6 66.7%,#13fde4 68.8%,#18ffdf 69.3%,#3affbd 72.5%,#8eff69 79.4%,#b2ff45 82.5%,#cfff28 85.7%,#e3ff14 88.9%,#eaff0c 91.5%,#eaff0d 94.2%,#e1ff15 96.8%,#cdff2a 100%)"></i><i style="background:linear-gradient(90deg,#09f0ee 0%,#17ffe0 1.6%,#39ffbe 4.8%,#93ff63 12.2%,#bcff3b 15.9%,#ceff29 18%,#ddff1a 20.1%,#eaff0c 23.8%,#ebff0c 25.9%,#e6ff11 28%,#dcff1b 30.2%,#c9ff2e 32.8%,#9fff58 37%,#3effb9 45%,#16ffe1 48.7%,#00e5f7 51.3%,#00d8ff 52.9%,#00c9ff 56.1%,#00c8ff 58.7%,#00ceff 60.8%,#00dbff 63%,#02e8f5 64.6%,#14fee3 66.7%,#19ffde 67.2%,#3cffbb 70.4%,#90ff67 77.2%,#b3ff43 80.4%,#d0ff27 83.6%,#e3ff14 86.8%,#ebff0c 89.9%,#e7ff10 93.1%,#d7ff1f 96.3%,#b8ff3e 100%)"></i><i style="background:linear-gradient(90deg,#1dffd9 0%,#41ffb6 3.2%,#9bff5c 10.6%,#bdff3a 13.8%,#cfff27 15.9%,#ddff19 18%,#eaff0c 21.7%,#ebff0c 23.8%,#e6ff11 25.9%,#dbff1c 28%,#c8ff2f 30.7%,#a3ff54 34.4%,#3cffbb 42.9%,#15ffe2 46.6%,#02e8f4 48.7%,#00dbff 50.3%,#00caff 53.4%,#00c7ff 56.1%,#0cf 58.2%,#00dcff 60.8%,#00e4f8 61.9%,#03e9f4 62.4%,#15ffe1 64.6%,#37ffc0 67.7%,#92ff65 75.1%,#b5ff42 78.3%,#d5ff22 82%,#e6ff11 85.2%,#ebff0c 88.4%,#e2ff14 92.1%,#caff2c 95.8%,#a0ff56 100%)"></i><i style="background:linear-gradient(90deg,#36ffc1 0%,#97ff60 7.9%,#c3ff34 12.2%,#d4ff23 14.3%,#e1ff16 16.4%,#ebff0c 20.1%,#eaff0d 22.2%,#e3ff14 24.3%,#d7ff20 26.5%,#c7ff30 28.6%,#a1ff55 32.3%,#41ffb6 40.2%,#18ffde 43.9%,#13fde3 44.4%,#01e7f5 46.6%,#00daff 48.1%,#00caff 51.3%,#00c7ff 54%,#00cdff 56.1%,#00d9ff 58.2%,#00e6f7 59.8%,#17ffe0 62.4%,#39ffbe 65.6%,#93ff64 73%,#b6ff41 76.2%,#d6ff21 79.9%,#e8ff0f 83.6%,#ebff0c 85.7%,#eaff0d 87.3%,#dcff1b 91%,#ceff29 93.1%,#bbff3c 95.2%,#86ff71 100%)"></i><i style="background:linear-gradient(90deg,#51ffa6 0%,#9eff59 6.3%,#c9ff2e 10.6%,#e2ff15 14.3%,#ebff0c 18%,#e9ff0d 20.1%,#e2ff14 22.2%,#d6ff21 24.3%,#c6ff31 26.5%,#a0ff57 30.2%,#3fffb7 38.1%,#17ffe0 41.8%,#00e6f6 44.4%,#00d9ff 46%,#00c9ff 49.2%,#00c7ff 51.9%,#00cdff 54%,#00daff 56.1%,#01e7f6 57.7%,#13fde4 59.8%,#18ffdf 60.3%,#40ffb7 64%,#9bff5c 71.4%,#bdff3a 74.6%,#daff1d 78.3%,#eaff0d 82%,#ebff0c 83.6%,#e9ff0e 85.7%,#e1ff16 87.8%,#d5ff22 89.9%,#afff48 94.2%,#6aff8d 100%)"></i><i style="background:linear-gradient(90deg,#6cff8a 0%,#b1ff46 5.8%,#d6ff21 10.1%,#e2ff15 12.2%,#e9ff0d 14.3%,#ebff0c 15.9%,#e9ff0e 18%,#d9ff1e 21.7%,#bbff3c 25.4%,#92ff64 29.1%,#38ffbf 36.5%,#16ffe1 39.7%,#00e5f7 42.3%,#00dcfe 43.4%,#00cfff 45.5%,#00c7ff 48.1%,#00caff 50.8%,#00daff 54%,#02e8f5 55.6%,#14fee3 57.7%,#3bffbb 61.4%,#9cff5b 69.3%,#c3ff34 73%,#d4ff23 75.1%,#e1ff16 77.2%,#e9ff0e 79.4%,#ebff0c 81.5%,#e3ff14 85.2%,#d7ff1f 87.3%,#c7ff30 89.4%,#9cff5b 93.7%,#4effa9 100%)"></i><i style="background:linear-gradient(90deg,#88ff6f 0%,#bdff3a 4.8%,#cfff28 6.9%,#ddff1a 9%,#eaff0c 12.7%,#ebff0c 14.3%,#e7ff0f 16.4%,#d8ff1f 19.6%,#baff3d 23.3%,#91ff66 27%,#36ffc0 34.4%,#15ffe2 37.6%,#03e9f4 39.7%,#00dbff 41.3%,#0cf 43.9%,#00c7ff 46%,#00caff 48.7%,#00dbff 51.9%,#03e9f4 53.4%,#15ffe2 55.6%,#3dffba 59.3%,#a3ff53 67.7%,#c8ff2e 71.4%,#d8ff1f 73.5%,#e4ff13 75.7%,#eaff0d 77.8%,#ebff0c 79.9%,#e0ff17 83.6%,#d3ff24 85.7%,#c1ff35 87.8%,#9bff5c 91.5%,#34ffc3 100%)"></i><i style="background:linear-gradient(90deg,#a2ff55 0%,#ccff2b 4.2%,#e3ff14 7.9%,#ebff0c 11.6%,#e5ff12 14.8%,#d4ff23 18%,#b3ff44 21.7%,#90ff67 24.9%,#3bffbb 31.7%,#19ffde 34.9%,#14fee3 35.4%,#02e8f5 37.6%,#00daff 39.2%,#00ceff 41.3%,#00c8ff 43.4%,#00c9ff 46%,#00d8ff 49.2%,#00e5f7 50.8%,#16ffe1 53.4%,#3effb9 57.1%,#9fff58 65.1%,#c9ff2e 69.3%,#dcff1b 72%,#e6ff11 74.1%,#ebff0c 76.2%,#eaff0d 78.3%,#ddff1a 82%,#ceff29 84.1%,#bbff3b 86.2%,#99ff5d 89.4%,#3fffb8 96.8%,#1cffdb 100%)"></i><i style="background:linear-gradient(90deg,#baff3d 0%,#d5ff22 3.2%,#e6ff11 6.3%,#ebff0c 9.5%,#e5ff12 12.7%,#d3ff24 15.9%,#b2ff45 19.6%,#8eff68 22.8%,#3affbd 29.6%,#18ffdf 32.8%,#13fde4 33.3%,#01e7f6 35.4%,#00daff 37%,#00cdff 39.2%,#00c7ff 41.3%,#00c9ff 43.9%,#00d9ff 47.1%,#00e6f6 48.7%,#17ffe0 51.3%,#3fffb8 55%,#a0ff57 63%,#caff2d 67.2%,#ddff1a 69.8%,#e6ff10 72%,#ebff0c 74.1%,#eaff0d 76.2%,#dcff1b 79.9%,#bfff37 83.6%,#9eff58 86.8%,#3effb9 94.7%,#16ffe1 98.4%,#08efef 100%)"></i><i style="background:linear-gradient(90deg,#cdff29 0%,#e2ff15 3.2%,#eaff0d 5.8%,#eaff0c 8.5%,#e2ff15 11.1%,#ceff28 14.3%,#b1ff46 17.5%,#8dff6a 20.6%,#39ffbe 27.5%,#17ffe0 30.7%,#00e6f6 33.3%,#00d9ff 34.9%,#00cdff 37%,#00c7ff 39.2%,#00caff 41.8%,#00daff 45%,#01e7f6 46.6%,#13fde4 48.7%,#18ffdf 49.2%,#40ffb6 52.9%,#a1ff56 60.8%,#cbff2c 65.1%,#ddff19 67.7%,#e7ff10 69.8%,#ebff0c 72.5%,#e9ff0e 74.6%,#d8ff1f 78.3%,#b9ff3d 82%,#91ff66 85.7%,#36ffc0 93.1%,#15ffe2 96.3%,#03e9f4 98.4%,#00dbff 100%)"></i><i style="background:linear-gradient(90deg,#ddff1a 0%,#e8ff0f 2.6%,#ebff0c 5.3%,#e6ff11 7.9%,#d5ff21 11.1%,#c0ff37 13.8%,#a5ff52 16.4%,#3effb9 24.9%,#16ffe1 28.6%,#00e5f7 31.2%,#00dcfe 32.3%,#00cfff 34.4%,#00c7ff 37%,#00caff 39.7%,#00daff 42.9%,#02e8f5 44.4%,#14fee3 46.6%,#3bffbc 50.3%,#a2ff55 58.7%,#ccff2b 63%,#deff19 65.6%,#e7ff10 67.7%,#ebff0c 70.4%,#e9ff0e 72.5%,#d7ff1f 76.2%,#b9ff3e 79.9%,#96ff61 83.1%,#35ffc2 91%,#14fee3 94.2%,#02e8f5 96.3%,#00e3f9 96.8%,#00daff 97.9%,#00ceff 100%)"></i><i style="background:linear-gradient(90deg,#e7ff10 0%,#ebff0c 2.6%,#e9ff0e 4.8%,#dfff18 7.4%,#cdff2a 10.1%,#a4ff53 14.3%,#3dffba 22.8%,#15ffe2 26.5%,#03e9f4 28.6%,#00dcff 30.2%,#0cf 32.8%,#00c7ff 34.9%,#00caff 37.6%,#00dbff 40.7%,#02e9f4 42.3%,#15ffe2 44.4%,#3cffba 48.1%,#a3ff54 56.6%,#ccff2a 60.8%,#deff18 63.5%,#e7ff0f 65.6%,#ebff0c 68.3%,#e8ff0e 70.4%,#daff1c 73.5%,#bdff3a 77.2%,#9bff5c 80.4%,#41ffb6 87.8%,#18ffdf 91.5%,#13fde4 92.1%,#05ecf2 93.7%,#01e7f6 94.2%,#00daff 95.8%,#00cdff 97.9%,#00c7ff 100%)"></i><i style="background:linear-gradient(90deg,#ebff0c 0%,#eaff0d 2.1%,#e3ff13 4.2%,#d8ff1f 6.3%,#c8ff2f 8.5%,#a3ff54 12.2%,#3cffbb 20.6%,#14ffe2 24.3%,#02e8f4 26.5%,#00dbff 28%,#00caff 31.2%,#00c7ff 33.9%,#0cf 36%,#00dcff 38.6%,#00e4f8 39.7%,#03e9f4 40.2%,#15ffe1 42.3%,#3dffb9 46%,#9eff59 54%,#c4ff33 57.7%,#d5ff22 59.8%,#e1ff15 61.9%,#e9ff0e 64%,#ebff0c 66.1%,#e8ff0f 68.3%,#e0ff17 70.4%,#d3ff24 72.5%,#c1ff36 74.6%,#9aff5d 78.3%,#40ffb7 85.7%,#17ffe0 89.4%,#12fce5 89.9%,#01e6f6 92.1%,#00d9ff 93.7%,#00cbff 96.3%,#00c7ff 98.4%,#00c8ff 100%)"></i><i style="background:linear-gradient(90deg,#eaff0d 0%,#dbff1c 3.7%,#bdff39 7.4%,#9cff5b 10.6%,#41ffb5 18%,#19ffde 21.7%,#14fee3 22.2%,#02e8f5 24.3%,#00daff 25.9%,#00caff 29.1%,#00c7ff 31.7%,#00cfff 34.4%,#00dcfe 36.5%,#00e5f7 37.6%,#16ffe1 40.2%,#3effb9 43.9%,#9fff58 51.9%,#c5ff32 55.6%,#d6ff21 57.7%,#e2ff15 59.8%,#e9ff0e 61.9%,#ebff0c 64%,#e8ff0f 66.1%,#dfff17 68.3%,#d2ff25 70.4%,#c0ff37 72.5%,#9fff58 75.7%,#3fffb8 83.6%,#16ffe0 87.3%,#00e5f7 89.9%,#00d9ff 91.5%,#00cdff 93.7%,#00c8ff 95.2%,#00c7ff 97.4%,#00d0ff 100%)"></i><i style="background:linear-gradient(90deg,#e3ff14 0%,#cfff28 3.2%,#b2ff45 6.3%,#8eff68 9.5%,#3affbd 16.4%,#18ffdf 19.6%,#13fde4 20.1%,#01e7f6 22.2%,#00daff 23.8%,#00caff 27%,#00c7ff 29.6%,#00cdff 31.7%,#00d9ff 33.9%,#00e6f6 35.4%,#17ffe0 38.1%,#3fffb8 41.8%,#a0ff57 49.7%,#c1ff36 52.9%,#d2ff24 55%,#e0ff17 57.1%,#e8ff0f 59.3%,#ebff0c 61.4%,#e9ff0e 63.5%,#e2ff15 65.6%,#d5ff22 67.7%,#c4ff32 69.8%,#9eff58 73.5%,#3effb9 81.5%,#16ffe1 85.2%,#00e5f7 87.8%,#00dcfe 88.9%,#00cfff 91%,#00c7ff 94.2%,#0cf 96.8%,#00dbff 99.5%,#00dffc 100%)"></i><i style="background:linear-gradient(90deg,#d6ff20 0%,#c1ff36 2.6%,#a6ff51 5.3%,#40ffb7 13.8%,#17ffe0 17.5%,#12fce5 18%,#01e6f6 20.1%,#00d9ff 21.7%,#00c9ff 24.9%,#00c7ff 27.5%,#00cdff 29.6%,#00daff 31.7%,#01e7f6 33.3%,#13fde4 35.4%,#18ffdf 36%,#40ffb7 39.7%,#9bff5c 47.1%,#c1ff35 50.8%,#d3ff24 52.9%,#e0ff17 55%,#e8ff0f 57.1%,#ebff0c 59.3%,#e9ff0e 61.4%,#e1ff16 63.5%,#d5ff22 65.6%,#c4ff33 67.7%,#9dff59 71.4%,#3dffba 79.4%,#15ffe2 83.1%,#03e9f4 85.2%,#00dbff 86.8%,#00caff 89.9%,#00c8ff 93.1%,#00ceff 95.2%,#00dbff 97.4%,#00e4f8 98.4%,#0bf3ec 100%)"></i><i style="background:linear-gradient(90deg,#c5ff32 0%,#9fff57 3.7%,#3fffb8 11.6%,#17ffe0 15.3%,#00e6f7 18%,#00d9ff 19.6%,#00c9ff 22.8%,#00c7ff 25.4%,#00ceff 27.5%,#00daff 29.6%,#01e7f5 31.2%,#13fde3 33.3%,#18ffde 33.9%,#41ffb6 37.6%,#9bff5b 45%,#c2ff35 48.7%,#d3ff23 50.8%,#e0ff16 52.9%,#ebff0c 56.6%,#eaff0d 58.7%,#e3ff13 60.8%,#d8ff1f 63%,#c8ff2f 65.1%,#a3ff54 68.8%,#3cffbb 77.2%,#14ffe2 81%,#02e8f5 83.1%,#00dbff 84.7%,#00ceff 86.8%,#00c9ff 88.4%,#00c9ff 91.5%,#00cfff 93.1%,#00dcff 95.2%,#00e5f8 96.3%,#16ffe1 98.9%,#20ffd7 100%)"></i><i style="background:linear-gradient(90deg,#b0ff47 0%,#38ffbf 10.1%,#16ffe1 13.2%,#00e5f7 15.9%,#00dcfe 16.9%,#00cbff 20.1%,#00c7ff 22.8%,#0cf 24.9%,#00dbff 27.5%,#02e8f5 29.1%,#14fee3 31.2%,#19ffde 31.7%,#42ffb5 35.4%,#9cff5b 42.9%,#c3ff34 46.6%,#d4ff23 48.7%,#e1ff16 50.8%,#ebff0c 54.5%,#eaff0d 56.6%,#e3ff14 58.7%,#d7ff1f 60.8%,#c7ff30 63%,#a2ff55 66.7%,#3bffbc 75.1%,#19ffde 78.3%,#14fee3 78.8%,#02e8f5 81%,#00daff 82.5%,#0cf 85.2%,#00c7ff 87.8%,#00cdff 90.5%,#00dcfe 93.1%,#00e5f7 94.2%,#16ffe1 96.8%,#38ffbf 100%)"></i><i style="background:linear-gradient(90deg,#98ff5f 0%,#3dffba 7.4%,#15ffe2 11.1%,#03e9f4 13.2%,#00dcff 14.8%,#00caff 18%,#00c7ff 20.6%,#0cf 22.8%,#00dbff 25.4%,#02e9f4 27%,#15ffe2 29.1%,#3cffba 32.8%,#9dff5a 40.7%,#beff38 43.9%,#d1ff26 46%,#deff18 48.1%,#ebff0c 51.9%,#eaff0c 54%,#e5ff12 56.1%,#daff1c 58.2%,#c7ff30 60.8%,#a1ff56 64.6%,#41ffb6 72.5%,#18ffdf 76.2%,#13fde4 76.7%,#01e7f6 78.8%,#00daff 80.4%,#00caff 83.6%,#00c7ff 86.2%,#00cdff 88.4%,#00d9ff 90.5%,#00e6f7 92.1%,#17ffe0 94.7%,#52ffa5 100%)"></i><i style="background:linear-gradient(90deg,#7dff79 0%,#3cffba 5.3%,#15ffe2 9%,#02e9f4 11.1%,#00dbff 12.7%,#00caff 15.9%,#00c7ff 18.5%,#0cf 20.6%,#00dcff 23.3%,#03e9f4 24.9%,#15ffe2 27%,#3dffba 30.7%,#9eff59 38.6%,#bfff38 41.8%,#d1ff26 43.9%,#dfff18 46%,#ebff0c 49.7%,#eaff0c 51.9%,#e5ff12 54%,#daff1d 56.1%,#caff2c 58.2%,#a0ff56 62.4%,#40ffb7 70.4%,#17ffdf 74.1%,#12fce4 74.6%,#01e6f6 76.7%,#00d9ff 78.3%,#00c9ff 81.5%,#00c7ff 84.1%,#00cdff 86.2%,#00d9ff 88.4%,#01e6f6 89.9%,#12fce4 92.1%,#17ffdf 92.6%,#3affbd 95.8%,#6dff89 100%)"></i><i style="background:linear-gradient(90deg,#62ff95 0%,#35ffc1 3.7%,#14fee3 6.9%,#02e8f5 9%,#00dbff 10.6%,#0cf 13.2%,#00c7ff 15.3%,#00cbff 18%,#00dcfe 21.2%,#00e5f7 22.2%,#16ffe1 24.9%,#3effb9 28.6%,#9fff58 36.5%,#c9ff2e 40.7%,#dcff1b 43.4%,#e6ff11 45.5%,#ebff0c 47.6%,#eaff0c 49.7%,#ddff1a 53.4%,#c1ff36 57.1%,#a0ff57 60.3%,#3fffb8 68.3%,#17ffe0 72%,#00e6f7 74.6%,#00d9ff 76.2%,#00cdff 78.3%,#00c7ff 80.4%,#00caff 83.1%,#00daff 86.2%,#01e7f6 87.8%,#13fde4 89.9%,#18ffdf 90.5%,#41ffb6 94.2%,#88ff6e 100%)"></i><i style="background:linear-gradient(90deg,#47ffaf 0%,#13fee3 4.8%,#01e7f5 6.9%,#00daff 8.5%,#00cbff 11.1%,#00c7ff 13.8%,#00cdff 16.4%,#00ddfe 19%,#00e5f7 20.1%,#16ffe0 22.8%,#3fffb8 26.5%,#9fff58 34.4%,#c5ff32 38.1%,#d9ff1e 40.7%,#e4ff12 42.9%,#eaff0d 45%,#ebff0c 47.1%,#dfff18 50.8%,#d2ff25 52.9%,#c0ff37 55%,#9fff58 58.2%,#3effb9 66.1%,#16ffe1 69.8%,#00e5f7 72.5%,#00dcfe 73.5%,#00cfff 75.7%,#00c7ff 78.3%,#00caff 81%,#00daff 84.1%,#02e8f5 85.7%,#14fee3 87.8%,#3bffbc 91.5%,#a2ff55 100%)"></i><i style="background:linear-gradient(90deg,#2effc9 0%,#13fde4 2.6%,#01e7f6 4.8%,#00daff 6.3%,#00cdff 8.5%,#00c8ff 10.1%,#00c9ff 13.2%,#00cfff 14.8%,#00ddfe 16.9%,#00e6f6 18%,#17ffe0 20.6%,#3fffb7 24.3%,#a0ff57 32.3%,#c6ff31 36%,#d6ff21 38.1%,#e2ff15 40.2%,#e9ff0d 42.3%,#ebff0c 44.4%,#e2ff15 48.1%,#d5ff22 50.3%,#c4ff33 52.4%,#9eff59 56.1%,#3effb9 64%,#16ffe1 67.7%,#03eaf4 69.8%,#00e5f7 70.4%,#00dcff 71.4%,#0cf 74.1%,#00c7ff 76.2%,#00caff 78.8%,#00dbff 82%,#02e8f5 83.6%,#14ffe3 85.7%,#36ffc1 88.9%,#96ff60 96.8%,#b9ff3e 100%)"></i><i style="background:linear-gradient(90deg,#17ffe0 0%,#12fce5 0.5%,#01e6f6 2.6%,#00ddfe 3.7%,#00d0ff 5.8%,#00c8ff 7.9%,#00caff 11.1%,#00d0ff 12.7%,#00defd 14.8%,#01e7f6 15.9%,#13fde4 18%,#18ffdf 18.5%,#40ffb7 22.2%,#a1ff56 30.2%,#c6ff31 33.9%,#d7ff20 36%,#e3ff14 38.1%,#eaff0d 40.2%,#ebff0c 42.3%,#e1ff16 46%,#d5ff22 48.1%,#c4ff33 50.3%,#9dff59 54%,#3dffba 61.9%,#15ffe2 65.6%,#03e9f4 67.7%,#00dbff 69.3%,#0cf 72%,#00c7ff 74.1%,#00caff 76.7%,#00dbff 79.9%,#03e9f4 81.5%,#15ffe2 83.6%,#3dffba 87.3%,#a3ff54 95.8%,#cdff2a 100%)"></i><i style="background:linear-gradient(90deg,#04ebf3 0%,#00e6f7 0.5%,#00d9ff 2.1%,#00cdff 4.2%,#00c7ff 6.3%,#00cbff 9.5%,#00defd 12.7%,#01e7f5 13.8%,#13fde4 15.9%,#18ffde 16.4%,#41ffb6 20.1%,#9bff5b 27.5%,#c2ff35 31.2%,#d3ff23 33.3%,#e0ff16 35.4%,#e8ff0e 37.6%,#ebff0c 39.7%,#e9ff0e 41.8%,#e1ff16 43.9%,#d4ff23 46%,#c3ff34 48.1%,#9dff5a 51.9%,#3cffbb 59.8%,#14ffe2 63.5%,#02e8f4 65.6%,#00dbff 67.2%,#0cf 69.8%,#00c7ff 72%,#00caff 74.6%,#00dcff 77.8%,#00e4f8 78.8%,#15ffe1 81.5%,#3dffb9 85.2%,#aaff4d 94.2%,#c9ff2e 97.4%,#dcff1b 100%)"></i><i style="background:linear-gradient(90deg,#00d8ff 0%,#00c9ff 3.2%,#00c8ff 5.8%,#00ceff 7.9%,#00daff 10.1%,#02e8f5 11.6%,#14fee3 13.8%,#19ffde 14.3%,#42ffb5 18%,#9cff5b 25.4%,#c3ff34 29.1%,#d4ff23 31.2%,#e1ff16 33.3%,#e9ff0e 35.4%,#ebff0c 37.6%,#e9ff0e 39.7%,#e1ff16 41.8%,#d4ff23 43.9%,#c3ff34 46%,#9cff5b 49.7%,#42ffb5 57.1%,#19ffde 60.8%,#14fee3 61.4%,#02e8f5 63.5%,#00daff 65.1%,#0cf 67.7%,#00c7ff 69.8%,#00cbff 72.5%,#00dcfe 75.7%,#00e5f7 76.7%,#16ffe1 79.4%,#38ffbf 82.5%,#92ff64 89.9%,#b6ff41 93.1%,#d5ff21 96.8%,#e6ff11 100%)"></i><i style="background:linear-gradient(90deg,#0cf 0%,#00c7ff 2.6%,#00caff 4.8%,#00dbff 7.9%,#02e8f4 9.5%,#14ffe2 11.6%,#3cffbb 15.3%,#9dff5a 23.3%,#c3ff34 27%,#d4ff23 29.1%,#e1ff16 31.2%,#e9ff0e 33.3%,#ebff0c 35.4%,#e8ff0e 37.6%,#e0ff16 39.7%,#d3ff23 41.8%,#c2ff35 43.9%,#9bff5b 47.6%,#41ffb6 55%,#18ffde 58.7%,#13fde4 59.3%,#01e7f5 61.4%,#00daff 63%,#00cbff 65.6%,#00c7ff 67.7%,#00cbff 70.4%,#00ddfe 73.5%,#00e6f7 74.6%,#17ffe0 77.2%,#3fffb8 81%,#9fff57 88.9%,#c0ff36 92.1%,#d2ff25 94.2%,#dfff17 96.3%,#ebff0c 100%)"></i><i style="background:linear-gradient(90deg,#00c7ff 0%,#00c8ff 1.6%,#00ceff 3.7%,#00dbff 5.8%,#03e9f4 7.4%,#15ffe2 9.5%,#3dffba 13.2%,#9eff59 21.2%,#c4ff33 24.9%,#d5ff22 27%,#e1ff15 29.1%,#e9ff0e 31.2%,#ebff0c 33.3%,#e8ff0f 35.4%,#e0ff17 37.6%,#d3ff24 39.7%,#c1ff35 41.8%,#9bff5c 45.5%,#40ffb7 52.9%,#18ffdf 56.6%,#13fde4 57.1%,#01e7f6 59.3%,#00d9ff 60.8%,#00cdff 63%,#00c7ff 65.1%,#00c9ff 67.7%,#00d9ff 70.9%,#01e6f6 72.5%,#12fce5 74.6%,#17ffdf 75.1%,#40ffb7 78.8%,#a0ff57 86.8%,#caff2c 91%,#ddff1a 93.7%,#e7ff10 95.8%,#ebff0c 97.9%,#eaff0d 100%)"></i><i style="background:linear-gradient(90deg,#00c9ff 0%,#00cfff 1.6%,#00dcff 3.7%,#00e5f7 4.8%,#16ffe1 7.4%,#37ffbf 10.6%,#92ff65 18%,#baff3c 21.7%,#d9ff1e 25.4%,#e9ff0e 29.1%,#ebff0c 31.2%,#e6ff10 33.9%,#ddff1a 36%,#caff2d 38.6%,#a0ff57 42.9%,#3fffb7 50.8%,#17ffe0 54.5%,#00e6f6 57.1%,#00d9ff 58.7%,#00c9ff 61.9%,#00c7ff 64.6%,#00cdff 66.7%,#00daff 68.8%,#01e7f6 70.4%,#13fde4 72.5%,#18ffdf 73%,#40ffb6 76.7%,#a1ff56 84.7%,#bdff3a 87.3%,#cfff28 89.4%,#e0ff17 92.1%,#eaff0d 94.7%,#ebff0c 97.4%,#e4ff13 100%)"></i><i style="background:linear-gradient(90deg,#00d2ff 0%,#00dcfe 1.6%,#00e5f7 2.6%,#16ffe1 5.3%,#38ffbf 8.5%,#93ff64 15.9%,#bbff3c 19.6%,#d9ff1e 23.3%,#e9ff0e 27%,#ebff0c 29.1%,#e8ff0f 31.2%,#dfff17 33.3%,#ceff29 36%,#a5ff52 40.2%,#3fffb8 48.7%,#16ffe0 52.4%,#00e5f7 55%,#00d9ff 56.6%,#00c9ff 59.8%,#00c8ff 62.4%,#00ceff 64.6%,#00daff 66.7%,#01e7f5 68.3%,#13fee3 70.4%,#19ffde 70.9%,#3bffbc 74.1%,#adff4a 83.6%,#cbff2b 86.8%,#e0ff16 89.9%,#eaff0d 92.6%,#ebff0c 94.7%,#e5ff11 97.4%,#d8ff1f 100%)"></i><i style="background:linear-gradient(90deg,#00e1fa 0%,#00e6f7 0.5%,#17ffe0 3.2%,#39ffbe 6.3%,#93ff63 13.8%,#bcff3b 17.5%,#d9ff1d 21.2%,#e9ff0d 24.9%,#ebff0c 27%,#e8ff0f 29.1%,#dfff18 31.2%,#cdff29 33.9%,#a4ff52 38.1%,#3effb9 46.6%,#16ffe1 50.3%,#00e5f7 52.9%,#00d8ff 54.5%,#00c9ff 57.7%,#00c8ff 60.3%,#00ceff 62.4%,#00dbff 64.6%,#02e8f5 66.1%,#14fee3 68.3%,#19ffde 68.8%,#3cffbb 72%,#90ff67 78.8%,#b3ff43 82%,#d0ff27 85.2%,#e3ff14 88.4%,#ebff0c 91.5%,#e9ff0e 94.2%,#deff19 96.8%,#c7ff30 100%)"></i><i style="background:linear-gradient(90deg,#0ef6e9 0%,#17ffdf 1.1%,#40ffb7 4.8%,#9aff5d 12.2%,#bcff3b 15.3%,#cfff28 17.5%,#ddff1a 19.6%,#eaff0c 23.3%,#ebff0c 25.4%,#e6ff11 27.5%,#dcff1b 29.6%,#c9ff2e 32.3%,#9eff59 36.5%,#3dffba 44.4%,#15ffe1 48.1%,#03e9f4 50.3%,#00e4f8 50.8%,#00dcff 51.9%,#00caff 55%,#00c7ff 57.7%,#0cf 59.8%,#00dbff 62.4%,#02e8f4 64%,#15ffe2 66.1%,#36ffc1 69.3%,#91ff66 76.7%,#b4ff43 79.9%,#d4ff22 83.6%,#e6ff11 86.8%,#ebff0c 89.9%,#e5ff12 93.1%,#d3ff23 96.3%,#b2ff44 100%)"></i><i style="background:linear-gradient(90deg,#23ffd4 0%,#9bff5c 10.1%,#bdff3a 13.2%,#cfff28 15.3%,#ddff19 17.5%,#eaff0c 21.2%,#ebff0c 23.3%,#e6ff11 25.4%,#dbff1b 27.5%,#c8ff2f 30.2%,#a3ff54 33.9%,#3dffba 42.3%,#15ffe2 46%,#03e9f4 48.1%,#00dbff 49.7%,#00caff 52.9%,#00c7ff 55.6%,#0cf 57.7%,#00dbff 60.3%,#03e9f4 61.9%,#15ffe2 64%,#37ffc0 67.2%,#91ff66 74.6%,#baff3d 78.3%,#d8ff1e 82%,#e7ff0f 85.2%,#ebff0c 88.4%,#e0ff17 92.1%,#c6ff31 95.8%,#9bff5c 100%)"></i><i style="background:linear-gradient(90deg,#3bffbc 0%,#9bff5b 7.9%,#c2ff35 11.6%,#d3ff23 13.8%,#e0ff16 15.9%,#ebff0c 19.6%,#eaff0d 21.7%,#e3ff13 23.8%,#d8ff1f 25.9%,#c8ff2f 28%,#a3ff54 31.7%,#3cffbb 40.2%,#14ffe2 43.9%,#02e8f5 46%,#00dbff 47.6%,#00caff 50.8%,#00c7ff 53.4%,#0cf 55.6%,#00dcff 58.2%,#00e5f8 59.3%,#03e9f4 59.8%,#16ffe1 61.9%,#37ffc0 65.1%,#92ff65 72.5%,#baff3d 76.2%,#d9ff1e 79.9%,#e9ff0e 83.6%,#ebff0c 85.7%,#e9ff0d 87.3%,#daff1d 91%,#b7ff40 95.2%,#81ff76 100%)"></i><i style="background:linear-gradient(90deg,#55ffa2 0%,#a2ff55 6.3%,#ccff2b 10.6%,#e3ff14 14.3%,#ebff0c 18%,#e3ff14 21.7%,#d7ff1f 23.8%,#c7ff2f 25.9%,#a2ff55 29.6%,#3bffbb 38.1%,#14fee3 41.8%,#02e8f5 43.9%,#00daff 45.5%,#00caff 48.7%,#00c7ff 51.3%,#00cfff 54%,#00dcfe 56.1%,#00e5f7 57.1%,#16ffe1 59.8%,#38ffbf 63%,#92ff64 70.4%,#bbff3c 74.1%,#d9ff1e 77.8%,#e9ff0e 81.5%,#ebff0c 83.6%,#e9ff0d 85.2%,#e2ff15 87.3%,#d6ff21 89.4%,#c5ff32 91.5%,#abff4c 94.2%,#66ff91 100%)"></i><i style="background:linear-gradient(90deg,#70ff87 0%,#aeff49 5.3%,#d4ff23 9.5%,#e1ff16 11.6%,#e9ff0e 13.8%,#ebff0c 15.9%,#eaff0d 17.5%,#dbff1c 21.2%,#bdff3a 24.9%,#9cff5b 28%,#41ffb6 35.4%,#19ffde 39.2%,#13fee3 39.7%,#02e7f5 41.8%,#00daff 43.4%,#00ceff 45.5%,#00c8ff 47.6%,#00c9ff 50.3%,#00d9ff 53.4%,#00e5f7 55%,#16ffe0 57.7%,#3fffb8 61.4%,#9fff58 69.3%,#c5ff32 73%,#d6ff21 75.1%,#e2ff15 77.2%,#e9ff0e 79.4%,#ebff0c 81.5%,#e2ff15 85.2%,#d6ff21 87.3%,#c5ff32 89.4%,#99ff5e 93.7%,#4bffac 100%)"></i><i style="background:linear-gradient(90deg,#8aff6c 0%,#beff38 4.8%,#dbff1b 8.5%,#eaff0d 12.2%,#ebff0c 13.8%,#e8ff0e 15.9%,#daff1c 19%,#bdff3a 22.8%,#9bff5c 25.9%,#41ffb6 33.3%,#18ffdf 37%,#13fde4 37.6%,#01e7f6 39.7%,#00daff 41.3%,#00cdff 43.4%,#00c7ff 45.5%,#00c9ff 48.1%,#00d9ff 51.3%,#00e6f7 52.9%,#17ffe0 55.6%,#3fffb8 59.3%,#a0ff57 67.2%,#caff2d 71.4%,#daff1d 73.5%,#e4ff12 75.7%,#eaff0c 77.8%,#ebff0c 79.9%,#dfff18 83.6%,#d1ff25 85.7%,#c0ff37 87.8%,#98ff5e 91.5%,#32ffc5 100%)"></i><i style="background:linear-gradient(90deg,#a4ff53 0%,#c8ff2e 3.7%,#e1ff15 7.4%,#ebff0c 11.1%,#e7ff10 14.3%,#d7ff20 17.5%,#b7ff40 21.2%,#94ff62 24.3%,#3affbd 31.7%,#18ffdf 34.9%,#13fde4 35.4%,#01e7f6 37.6%,#00d9ff 39.2%,#00cdff 41.3%,#00c7ff 43.4%,#00c9ff 46%,#00d9ff 49.2%,#01e6f6 50.8%,#12fce4 52.9%,#17ffdf 53.4%,#40ffb7 57.1%,#a0ff57 65.1%,#caff2c 69.3%,#daff1d 71.4%,#e5ff12 73.5%,#eaff0c 75.7%,#ebff0c 77.8%,#dfff18 81.5%,#d1ff26 83.6%,#bfff38 85.7%,#9eff59 88.9%,#3dffba 96.8%,#1bffdc 100%)"></i><i style="background:linear-gradient(90deg,#baff3d 0%,#d5ff22 3.2%,#e6ff11 6.3%,#ebff0c 9.5%,#e5ff12 12.7%,#d3ff24 15.9%,#b1ff45 19.6%,#8eff69 22.8%,#39ffbd 29.6%,#17ffe0 32.8%,#12fce5 33.3%,#01e6f6 35.4%,#00d9ff 37%,#00cdff 39.2%,#00c7ff 41.3%,#00caff 43.9%,#00daff 47.1%,#01e7f6 48.7%,#13fde4 50.8%,#18ffdf 51.3%,#40ffb7 55%,#a1ff56 63%,#cbff2c 67.2%,#ddff1a 69.8%,#e7ff10 72%,#ebff0c 74.1%,#eaff0d 76.2%,#dcff1b 79.9%,#bfff38 83.6%,#9dff59 86.8%,#3dffba 94.7%,#15ffe2 98.4%,#07eef0 100%)"></i><i style="background:linear-gradient(90deg,#cdff29 0%,#e2ff15 3.2%,#eaff0d 5.8%,#eaff0c 8.5%,#e2ff15 11.1%,#ceff29 14.3%,#b1ff46 17.5%,#8dff6a 20.6%,#39ffbe 27.5%,#17ffe0 30.7%,#00e6f7 33.3%,#00d9ff 34.9%,#00cdff 37%,#00c7ff 39.2%,#00caff 41.8%,#00daff 45%,#01e7f6 46.6%,#13fde4 48.7%,#18ffdf 49.2%,#41ffb6 52.9%,#a1ff56 60.8%,#cbff2c 65.1%,#ddff19 67.7%,#e7ff10 69.8%,#ebff0c 72.5%,#e9ff0e 74.6%,#d8ff1f 78.3%,#b9ff3d 82%,#91ff66 85.7%,#36ffc1 93.1%,#15ffe2 96.3%,#02e9f4 98.4%,#00dbff 100%)"></i><i style="background:linear-gradient(90deg,#dcff1a 0%,#e8ff0f 2.6%,#ebff0c 5.3%,#e6ff11 7.9%,#d6ff21 11.1%,#c0ff36 13.8%,#a5ff52 16.4%,#3fffb8 24.9%,#17ffe0 28.6%,#00e5f7 31.2%,#00d9ff 32.8%,#00cdff 34.9%,#00c7ff 37%,#00caff 39.7%,#00daff 42.9%,#01e7f5 44.4%,#13fee3 46.6%,#18ffde 47.1%,#41ffb6 50.8%,#a2ff55 58.7%,#cbff2b 63%,#deff19 65.6%,#e7ff10 67.7%,#ebff0c 70.4%,#e9ff0e 72.5%,#d8ff1f 76.2%,#b9ff3e 79.9%,#96ff60 83.1%,#36ffc1 91%,#14ffe2 94.2%,#00e3f8 96.8%,#00dbff 97.9%,#00ceff 100%)"></i><i style="background:linear-gradient(90deg,#e6ff10 0%,#ebff0c 2.6%,#e9ff0e 4.8%,#dfff18 7.4%,#ceff29 10.1%,#a5ff52 14.3%,#3effb9 22.8%,#16ffe1 26.5%,#00e5f7 29.1%,#00dcfe 30.2%,#00cfff 32.3%,#00c7ff 34.9%,#00caff 37.6%,#00daff 40.7%,#02e8f5 42.3%,#14fee3 44.4%,#19ffde 45%,#3bffbc 48.1%,#a2ff55 56.6%,#ccff2b 60.8%,#deff19 63.5%,#e7ff10 65.6%,#ebff0c 68.3%,#e9ff0e 70.4%,#d8ff1f 74.1%,#b9ff3e 77.8%,#96ff61 81%,#3bffbb 88.4%,#19ffde 91.5%,#14fee3 92.1%,#06edf1 93.7%,#00e3f9 94.7%,#00dbff 95.8%,#00ceff 97.9%,#00c8ff 100%)"></i><i style="background:linear-gradient(90deg,#ebff0c 0%,#eaff0d 2.1%,#e4ff13 4.2%,#d9ff1e 6.3%,#c9ff2e 8.5%,#9eff58 12.7%,#3effb9 20.6%,#16ffe1 24.3%,#00e5f7 27%,#00dcfe 28%,#00cbff 31.2%,#00c7ff 33.9%,#0cf 36%,#00dbff 38.6%,#02e8f5 40.2%,#14fee3 42.3%,#3cffbb 46%,#9cff5a 54%,#c3ff34 57.7%,#d4ff23 59.8%,#e1ff16 61.9%,#e9ff0e 64%,#ebff0c 66.1%,#e9ff0e 68.3%,#e1ff16 70.4%,#d4ff23 72.5%,#c2ff34 74.6%,#9cff5b 78.3%,#41ffb6 85.7%,#19ffde 89.4%,#14fee3 89.9%,#02e8f5 92.1%,#00daff 93.7%,#0cf 96.3%,#00c7ff 98.4%,#00c8ff 100%)"></i><i style="background:linear-gradient(90deg,#eaff0d 0%,#dcff1b 3.7%,#bfff37 7.4%,#9eff59 10.6%,#3dffb9 18.5%,#16ffe1 22.2%,#00e5f8 24.9%,#00dcff 25.9%,#00caff 29.1%,#00c7ff 31.7%,#0cf 33.9%,#00dbff 36.5%,#02e8f5 38.1%,#14ffe2 40.2%,#3cffbb 43.9%,#9dff5a 51.9%,#c3ff34 55.6%,#d4ff23 57.7%,#e1ff16 59.8%,#e9ff0e 61.9%,#ebff0c 64%,#e8ff0e 66.1%,#e0ff16 68.3%,#d3ff23 70.4%,#c2ff35 72.5%,#9bff5b 76.2%,#41ffb6 83.6%,#18ffde 87.3%,#13fde3 87.8%,#01e7f5 89.9%,#00daff 91.5%,#00ceff 93.7%,#00c8ff 95.2%,#00c7ff 97.4%,#00cfff 100%)"></i><i style="background:linear-gradient(90deg,#e4ff13 0%,#d1ff26 3.2%,#b5ff42 6.3%,#91ff65 9.5%,#37ffc0 16.9%,#15ffe2 20.1%,#03e9f4 22.2%,#00dcff 23.8%,#00caff 27%,#00c7ff 29.6%,#0cf 31.7%,#00dbff 34.4%,#02e9f4 36%,#15ffe2 38.1%,#3cffba 41.8%,#9dff5a 49.7%,#c3ff33 53.4%,#d4ff22 55.6%,#e1ff16 57.7%,#e9ff0e 59.8%,#ebff0c 61.9%,#e8ff0e 64%,#e0ff17 66.1%,#d3ff24 68.3%,#c2ff35 70.4%,#9bff5c 74.1%,#41ffb6 81.5%,#18ffdf 85.2%,#13fde4 85.7%,#01e7f6 87.8%,#00daff 89.4%,#00cbff 92.1%,#00c7ff 94.2%,#00cbff 96.8%,#00ddfe 100%)"></i><i style="background:linear-gradient(90deg,#d8ff1f 0%,#c4ff33 2.6%,#a9ff4e 5.3%,#3dffba 14.3%,#15ffe2 18%,#03e9f4 20.1%,#00dbff 21.7%,#00caff 24.9%,#00c7ff 27.5%,#0cf 29.6%,#00dbff 32.3%,#03e9f4 33.9%,#15ffe2 36%,#3dffba 39.7%,#9dff59 47.6%,#c4ff33 51.3%,#d5ff22 53.4%,#e1ff16 55.6%,#ebff0c 59.3%,#eaff0d 61.4%,#e3ff14 63.5%,#d7ff20 65.6%,#c6ff31 67.7%,#a1ff56 71.4%,#40ffb7 79.4%,#18ffdf 83.1%,#13fde4 83.6%,#01e7f6 85.7%,#00defd 86.8%,#00cbff 89.9%,#00c7ff 93.1%,#00cdff 95.2%,#00d9ff 97.4%,#00e6f6 98.9%,#09f0ee 100%)"></i><i style="background:linear-gradient(90deg,#c8ff2f 0%,#a3ff54 3.7%,#3cffba 12.2%,#15ffe2 15.9%,#02e9f4 18%,#00dbff 19.6%,#00caff 22.8%,#00c7ff 25.4%,#0cf 27.5%,#00dcff 30.2%,#03e9f4 31.7%,#15ffe2 33.9%,#3dffba 37.6%,#9eff59 45.5%,#c4ff33 49.2%,#d5ff22 51.3%,#e1ff15 53.4%,#ebff0c 57.1%,#e9ff0d 59.3%,#e2ff14 61.4%,#d6ff20 63.5%,#c6ff31 65.6%,#a0ff56 69.3%,#40ffb7 77.2%,#17ffdf 81%,#12fce4 81.5%,#01e6f6 83.6%,#00ddfd 84.7%,#00d0ff 86.8%,#00c9ff 88.4%,#00c8ff 91.5%,#00cdff 93.1%,#00d9ff 95.2%,#01e6f6 96.8%,#12fce4 98.9%,#1dffda 100%)"></i><i style="background:linear-gradient(90deg,#b4ff43 0%,#90ff66 3.2%,#36ffc1 10.6%,#14ffe2 13.8%,#02e8f5 15.9%,#00dbff 17.5%,#00caff 20.6%,#00c7ff 23.3%,#0cf 25.4%,#00dcff 28%,#00e5f8 29.1%,#03e9f4 29.6%,#15ffe1 31.7%,#3dffb9 35.4%,#9eff59 43.4%,#c4ff33 47.1%,#d5ff22 49.2%,#e1ff15 51.3%,#ebff0c 55%,#e9ff0d 57.1%,#e2ff14 59.3%,#d6ff20 61.4%,#c6ff31 63.5%,#a0ff57 67.2%,#3fffb7 75.1%,#17ffe0 78.8%,#12fce5 79.4%,#01e6f6 81.5%,#00ddfe 82.5%,#00cdff 85.2%,#00c7ff 87.8%,#00cbff 90.5%,#00daff 93.1%,#01e7f6 94.7%,#13fde4 96.8%,#34ffc3 100%)"></i><i style="background:linear-gradient(90deg,#9cff5a 0%,#3cffbb 7.9%,#14fee3 11.6%,#02e8f5 13.8%,#00dbff 15.3%,#00caff 18.5%,#00c7ff 21.2%,#0cf 23.3%,#00dcfe 25.9%,#00e5f7 27%,#03eaf3 27.5%,#16ffe1 29.6%,#3effb9 33.3%,#9eff58 41.3%,#c0ff37 44.4%,#d1ff25 46.6%,#dfff18 48.7%,#ebff0c 52.4%,#eaff0c 54.5%,#e4ff12 56.6%,#daff1d 58.7%,#c5ff31 61.4%,#a0ff57 65.1%,#3fffb8 73%,#17ffe0 76.7%,#00e6f6 79.4%,#00ddfe 80.4%,#00cdff 83.1%,#00c7ff 85.7%,#00cbff 88.4%,#00defd 91.5%,#01e7f6 92.6%,#13fde4 94.7%,#4dffaa 100%)"></i><i style="background:linear-gradient(90deg,#83ff74 0%,#3bffbb 5.8%,#14fee3 9.5%,#02e8f5 11.6%,#00daff 13.2%,#00caff 16.4%,#00c7ff 19%,#00cfff 21.7%,#00dcfe 23.8%,#00e5f7 24.9%,#16ffe1 27.5%,#3effb9 31.2%,#9fff58 39.2%,#c0ff37 42.3%,#d2ff25 44.4%,#dfff18 46.6%,#ebff0c 50.3%,#eaff0d 52.4%,#e4ff12 54.5%,#d9ff1d 56.6%,#c5ff32 59.3%,#a0ff57 63%,#3fffb8 70.9%,#17ffe0 74.6%,#00e6f7 77.2%,#00ddfe 78.3%,#00cbff 81.5%,#00c7ff 84.1%,#00cbff 86.2%,#00daff 88.9%,#01e7f5 90.5%,#13fde4 92.6%,#18ffdf 93.1%,#3bffbc 96.3%,#68ff8f 100%)"></i><i style="background:linear-gradient(90deg,#68ff8e 0%,#35ffc2 4.2%,#14fee3 7.4%,#02e8f5 9.5%,#00daff 11.1%,#0cf 13.8%,#00c7ff 15.9%,#00cbff 18.5%,#00dcfe 21.7%,#00e5f7 22.8%,#16ffe1 25.4%,#3effb9 29.1%,#9fff58 37%,#c9ff2d 41.3%,#dcff1a 43.9%,#e6ff11 46%,#ebff0c 48.1%,#eaff0d 50.3%,#dcff1a 54%,#c0ff37 57.7%,#9fff58 60.8%,#3fffb8 68.8%,#16ffe0 72.5%,#00e5f7 75.1%,#00d9ff 76.7%,#00cdff 78.8%,#00c7ff 81%,#00caff 83.6%,#00daff 86.8%,#01e7f5 88.4%,#13fee3 90.5%,#3bffbc 94.2%,#82ff74 100%)"></i><i style="background:linear-gradient(90deg,#4effa9 0%,#13fee3 5.3%,#02e7f5 7.4%,#00daff 9%,#00cbff 11.6%,#00c7ff 14.3%,#00cdff 16.9%,#00dcfe 19.6%,#00e5f7 20.6%,#16ffe0 23.3%,#3fffb8 27%,#9fff58 34.9%,#c5ff32 38.6%,#d9ff1e 41.3%,#e4ff13 43.4%,#eaff0d 45.5%,#ebff0c 47.6%,#dfff18 51.3%,#d2ff25 53.4%,#c0ff37 55.6%,#9fff58 58.7%,#3effb8 66.7%,#16ffe1 70.4%,#00e5f7 73%,#00dcfe 74.1%,#00cfff 76.2%,#00c7ff 78.8%,#00caff 81.5%,#00daff 84.7%,#02e8f5 86.2%,#14fee3 88.4%,#3bffbc 92.1%,#9cff5b 100%)"></i><i style="background:linear-gradient(90deg,#34ffc2 0%,#13fde4 3.2%,#01e7f5 5.3%,#00daff 6.9%,#00cbff 9.5%,#00c7ff 12.2%,#00cdff 14.8%,#00ddfe 17.5%,#00e6f7 18.5%,#17ffe0 21.2%,#3fffb8 24.9%,#9fff57 32.8%,#c5ff32 36.5%,#d9ff1d 39.2%,#e4ff12 41.3%,#eaff0d 43.4%,#ebff0c 45.5%,#dfff18 49.2%,#d2ff25 51.3%,#c0ff37 53.4%,#9fff58 56.6%,#3effb9 64.6%,#16ffe1 68.3%,#00e5f7 70.9%,#00dcfe 72%,#00cfff 74.1%,#00c7ff 76.7%,#00caff 79.4%,#00daff 82.5%,#02e8f5 84.1%,#14fee3 86.2%,#3bffbb 89.9%,#90ff67 96.8%,#b3ff44 100%)"></i><i style="background:linear-gradient(90deg,#1dffd9 0%,#13fde4 1.1%,#01e7f6 3.2%,#00daff 4.8%,#00cdff 6.9%,#00c8ff 8.5%,#00c9ff 11.6%,#00cfff 13.2%,#00ddfe 15.3%,#00e6f7 16.4%,#17ffe0 19%,#3fffb8 22.8%,#a0ff57 30.7%,#c5ff31 34.4%,#d6ff21 36.5%,#e2ff15 38.6%,#e9ff0d 40.7%,#ebff0c 42.9%,#e2ff15 46.6%,#d5ff21 48.7%,#c4ff32 50.8%,#9eff58 54.5%,#3effb9 62.4%,#16ffe1 66.1%,#00e5f7 68.8%,#00dcfe 69.8%,#00cfff 72%,#00c7ff 74.6%,#00caff 77.2%,#00dbff 80.4%,#02e8f5 82%,#14fee3 84.1%,#3cffbb 87.8%,#a2ff54 96.3%,#c7ff2f 100%)"></i><i style="background:linear-gradient(90deg,#09f1ed 0%,#01e7f6 1.1%,#00daff 2.6%,#00cdff 4.8%,#00c7ff 6.9%,#00cbff 10.1%,#00ddfe 13.2%,#00e6f6 14.3%,#17ffe0 16.9%,#3fffb7 20.6%,#a0ff57 28.6%,#c6ff31 32.3%,#d6ff21 34.4%,#e2ff15 36.5%,#e9ff0d 38.6%,#ebff0c 40.7%,#e2ff15 44.4%,#d5ff22 46.6%,#c4ff33 48.7%,#9eff59 52.4%,#3effb9 60.3%,#16ffe1 64%,#03eaf4 66.1%,#00e5f7 66.7%,#00dcff 67.7%,#0cf 70.4%,#00c7ff 72.5%,#00caff 75.1%,#00dbff 78.3%,#02e8f5 79.9%,#14ffe3 82%,#3cffbb 85.7%,#a8ff4e 94.7%,#c3ff34 97.4%,#d8ff1f 100%)"></i><i style="background:linear-gradient(90deg,#00defd 0%,#00cbff 3.2%,#00c7ff 5.8%,#00d0ff 9%,#00d9ff 10.6%,#01e6f6 12.2%,#12fce5 14.3%,#17ffe0 14.8%,#40ffb7 18.5%,#9aff5d 25.9%,#c1ff36 29.6%,#d3ff24 31.7%,#e0ff17 33.9%,#e8ff0f 36%,#ebff0c 38.1%,#e9ff0e 40.2%,#e1ff15 42.3%,#d5ff22 44.4%,#c4ff33 46.6%,#9eff59 50.3%,#3dffb9 58.2%,#15ffe1 61.9%,#03e9f4 64%,#00e4f8 64.6%,#00dcff 65.6%,#0cf 68.3%,#00c7ff 70.4%,#00caff 73%,#00dbff 76.2%,#02e8f4 77.8%,#14ffe2 79.9%,#36ffc1 83.1%,#90ff66 90.5%,#b4ff43 93.7%,#d0ff26 96.8%,#e3ff13 100%)"></i><i style="background:linear-gradient(90deg,#00d0ff 0%,#00c7ff 2.6%,#00c8ff 4.8%,#00cdff 6.3%,#00d9ff 8.5%,#01e6f6 10.1%,#12fce4 12.2%,#17ffdf 12.7%,#40ffb7 16.4%,#9aff5c 23.8%,#c1ff36 27.5%,#d3ff24 29.6%,#e0ff17 31.7%,#e8ff0f 33.9%,#ebff0c 36%,#e9ff0e 38.1%,#e1ff15 40.2%,#d5ff22 42.3%,#c4ff33 44.4%,#9eff59 48.1%,#3dffba 56.1%,#15ffe2 59.8%,#03e9f4 61.9%,#00dcff 63.5%,#0cf 66.1%,#00c7ff 68.3%,#00caff 70.9%,#00dbff 74.1%,#02e9f4 75.7%,#15ffe2 77.8%,#3cffba 81.5%,#9dff5a 89.4%,#beff38 92.6%,#dbff1b 96.3%,#eaff0d 100%)"></i><i style="background:linear-gradient(90deg,#00c8ff 0%,#00c7ff 1.6%,#00cbff 3.7%,#00d9ff 6.3%,#01e7f6 7.9%,#13fde4 10.1%,#18ffdf 10.6%,#40ffb7 14.3%,#9bff5c 21.7%,#c1ff35 25.4%,#d3ff24 27.5%,#e0ff17 29.6%,#e8ff0f 31.7%,#ebff0c 33.9%,#e9ff0e 36%,#e1ff15 38.1%,#d5ff22 40.2%,#c4ff33 42.3%,#9eff59 46%,#3dffba 54%,#15ffe2 57.7%,#03e9f4 59.8%,#00dbff 61.4%,#0cf 64%,#00c7ff 66.1%,#00caff 68.8%,#00dbff 72%,#03e9f4 73.5%,#15ffe2 75.7%,#3dffba 79.4%,#a3ff54 87.8%,#c8ff2f 91.5%,#d8ff1f 93.7%,#e4ff13 95.8%,#eaff0d 97.9%,#ebff0c 100%)"></i><i style="background:linear-gradient(90deg,#00c7ff 0%,#00cdff 2.1%,#00daff 4.2%,#01e7f6 5.8%,#05ecf2 6.3%,#13fde4 7.9%,#18ffdf 8.5%,#40ffb7 12.2%,#9bff5c 19.6%,#bdff3a 22.8%,#daff1d 26.5%,#e8ff0e 29.6%,#ebff0c 31.7%,#e7ff0f 34.4%,#deff18 36.5%,#cdff2a 39.2%,#a3ff53 43.4%,#3dffba 51.9%,#15ffe2 55.6%,#03e9f4 57.7%,#00dbff 59.3%,#00caff 62.4%,#00c7ff 65.1%,#0cf 67.2%,#00dbff 69.8%,#03e9f4 71.4%,#15ffe2 73.5%,#3dffba 77.2%,#a3ff53 85.7%,#cdff2a 89.9%,#dfff18 92.6%,#e9ff0e 95.2%,#ebff0c 97.4%,#e7ff10 100%)"></i><i style="background:linear-gradient(90deg,#00cdff 0%,#00daff 2.1%,#01e7f6 3.7%,#13fde4 5.8%,#18ffdf 6.3%,#40ffb6 10.1%,#9bff5c 17.5%,#bdff3a 20.6%,#daff1d 24.3%,#eaff0d 28%,#ebff0c 30.2%,#e7ff0f 32.3%,#deff18 34.4%,#ccff2a 37%,#a3ff54 41.3%,#3cffba 49.7%,#15ffe2 53.4%,#03e9f4 55.6%,#00dbff 57.1%,#00caff 60.3%,#00c7ff 63%,#00ceff 65.6%,#00dbff 67.7%,#00e4f8 68.8%,#15ffe2 71.4%,#3dffba 75.1%,#a9ff4d 84.1%,#c4ff33 86.8%,#d5ff22 88.9%,#e6ff11 92.1%,#ebff0c 94.7%,#e8ff0f 97.4%,#ddff1a 100%)"></i><i style="background:linear-gradient(90deg,#00daff 0%,#01e7f6 1.6%,#13fde4 3.7%,#18ffdf 4.2%,#41ffb6 7.9%,#9bff5c 15.3%,#bdff3a 18.5%,#daff1c 22.2%,#eaff0d 25.9%,#ebff0c 28%,#e7ff0f 30.2%,#deff18 32.3%,#ccff2a 34.9%,#a3ff54 39.2%,#3cffbb 47.6%,#15ffe2 51.3%,#02e9f4 53.4%,#00dbff 55%,#00caff 58.2%,#00c7ff 60.8%,#0cf 63%,#00dcff 65.6%,#03e9f4 67.2%,#15ffe1 69.3%,#3dffba 73%,#afff48 82.5%,#cdff2a 85.7%,#e1ff15 88.9%,#eaff0d 91.5%,#eaff0c 94.2%,#e2ff14 96.8%,#cfff28 100%)"></i><i style="background:linear-gradient(90deg,#05ecf1 0%,#13fde4 1.6%,#18ffde 2.1%,#41ffb6 5.8%,#9bff5b 13.2%,#bdff3a 16.4%,#daff1c 20.1%,#eaff0d 23.8%,#ebff0c 25.9%,#e7ff0f 28%,#deff19 30.2%,#ccff2b 32.8%,#a3ff54 37%,#3cffbb 45.5%,#14ffe2 49.2%,#02e8f4 51.3%,#00dbff 52.9%,#00caff 56.1%,#00c7ff 58.7%,#0cf 60.8%,#00dcff 63.5%,#00e4f8 64.6%,#03e9f4 65.1%,#15ffe1 67.2%,#37ffc0 70.4%,#92ff65 77.8%,#b5ff42 81%,#d1ff26 84.1%,#e4ff13 87.3%,#ebff0c 90.5%,#e7ff10 93.7%,#d6ff20 96.8%,#bcff3b 100%)"></i><i style="background:linear-gradient(90deg,#18ffde 0%,#41ffb6 3.7%,#9bff5b 11.1%,#bdff3a 14.3%,#cfff27 16.4%,#deff19 18.5%,#ebff0c 22.2%,#ebff0c 24.3%,#e5ff11 26.5%,#dbff1c 28.6%,#c8ff2f 31.2%,#a3ff54 34.9%,#3cffbb 43.4%,#14ffe2 47.1%,#02e8f5 49.2%,#00dbff 50.8%,#00caff 54%,#00c7ff 56.6%,#0cf 58.7%,#00dcff 61.4%,#00e5f8 62.4%,#03e9f4 63%,#16ffe1 65.1%,#37ffc0 68.3%,#92ff65 75.7%,#b5ff42 78.8%,#d5ff22 82.5%,#e6ff11 85.7%,#ebff0c 88.9%,#e2ff14 92.6%,#caff2d 96.3%,#a6ff51 100%)"></i><i style="background:linear-gradient(90deg,#2fffc8 0%,#9cff5b 9%,#c2ff35 12.7%,#d4ff23 14.8%,#e0ff16 16.9%,#ebff0c 20.6%,#eaff0d 22.8%,#e3ff13 24.9%,#d8ff1f 27%,#c8ff2f 29.1%,#a3ff54 32.8%,#3cffbb 41.3%,#14ffe3 45%,#02e8f5 47.1%,#00dbff 48.7%,#00caff 51.9%,#00c7ff 54.5%,#0cf 56.6%,#00dcff 59.3%,#00e5f7 60.3%,#03eaf3 60.8%,#16ffe1 63%,#37ffbf 66.1%,#92ff65 73.5%,#baff3c 77.2%,#d9ff1e 81%,#e8ff0f 84.1%,#ebff0c 86.2%,#eaff0c 87.8%,#ddff1a 91.5%,#c1ff36 95.2%,#8dff69 100%)"></i><i style="background:linear-gradient(90deg,#48ffaf 0%,#9cff5b 6.9%,#c7ff30 11.1%,#e0ff16 14.8%,#ebff0c 18.5%,#eaff0d 20.6%,#e3ff14 22.8%,#d8ff1f 24.9%,#c8ff2f 27%,#a2ff54 30.7%,#3cffbb 39.2%,#14fee3 42.9%,#02e8f5 45%,#00dbff 46.6%,#00caff 49.7%,#00c7ff 52.4%,#0cf 54.5%,#00dcfe 57.1%,#00e5f7 58.2%,#03eaf3 58.7%,#16ffe1 60.8%,#38ffbf 64%,#92ff65 71.4%,#baff3c 75.1%,#d9ff1e 78.8%,#e9ff0e 82.5%,#ebff0c 84.7%,#e9ff0d 86.2%,#e2ff15 88.4%,#d6ff21 90.5%,#b1ff46 94.7%,#73ff84 100%)"></i><i style="background:linear-gradient(90deg,#62ff95 0%,#adff49 6.3%,#d4ff23 10.6%,#e1ff16 12.7%,#e9ff0e 14.8%,#ebff0c 16.9%,#eaff0d 18.5%,#dbff1c 22.2%,#beff39 25.9%,#96ff61 29.6%,#35ffc1 37.6%,#14fee3 40.7%,#02e8f5 42.9%,#00dbff 44.4%,#0cf 47.1%,#00c7ff 49.2%,#00cbff 51.9%,#00dcfe 55%,#00e5f7 56.1%,#16ffe1 58.7%,#3effb9 62.4%,#9eff58 70.4%,#c4ff32 74.1%,#d5ff21 76.2%,#e2ff15 78.3%,#e9ff0e 80.4%,#ebff0c 82.5%,#e2ff15 86.2%,#caff2d 89.9%,#a0ff57 94.2%,#59ff9e 100%)"></i><i style="background:linear-gradient(90deg,#7cff7b 0%,#b3ff44 4.8%,#d7ff1f 9%,#e3ff14 11.1%,#eaff0d 13.2%,#ebff0c 14.8%,#e9ff0e 16.9%,#dbff1c 20.1%,#beff39 23.8%,#96ff61 27.5%,#35ffc1 35.4%,#14fee3 38.6%,#02e8f5 40.7%,#00dbff 42.3%,#0cf 45%,#00c7ff 47.1%,#00cbff 49.7%,#00dcfe 52.9%,#00e5f7 54%,#16ffe1 56.6%,#3effb9 60.3%,#9fff58 68.3%,#c9ff2e 72.5%,#d9ff1e 74.6%,#e4ff13 76.7%,#eaff0d 78.8%,#ebff0c 81%,#e0ff17 84.7%,#c5ff31 88.4%,#9aff5d 92.6%,#3fffb8 100%)"></i><i style="background:linear-gradient(90deg,#96ff61 0%,#c2ff34 4.2%,#deff19 7.9%,#ebff0c 11.6%,#ebff0c 13.2%,#e7ff10 15.3%,#d8ff1f 18.5%,#b9ff3e 22.2%,#96ff61 25.4%,#3bffbb 32.8%,#19ffde 36%,#14fee3 36.5%,#02e8f5 38.6%,#00daff 40.2%,#00ceff 42.3%,#00c8ff 44.4%,#00c9ff 47.1%,#00d8ff 50.3%,#00e5f7 51.9%,#16ffe1 54.5%,#3effb9 58.2%,#9fff58 66.1%,#c9ff2e 70.4%,#d9ff1e 72.5%,#e4ff13 74.6%,#eaff0d 76.7%,#ebff0c 78.8%,#e0ff17 82.5%,#d2ff25 84.7%,#c1ff36 86.8%,#99ff5d 90.5%,#27ffd0 100%)"></i><i style="background:linear-gradient(90deg,#aeff49 0%,#d0ff27 3.7%,#e5ff12 7.4%,#ebff0c 10.6%,#e5ff12 13.8%,#d4ff23 16.9%,#b3ff44 20.6%,#90ff67 23.8%,#3bffbb 30.7%,#19ffde 33.9%,#14fee3 34.4%,#02e8f5 36.5%,#00daff 38.1%,#00ceff 40.2%,#00c8ff 42.3%,#00c9ff 45%,#00d8ff 48.1%,#00e5f7 49.7%,#16ffe1 52.4%,#3effb9 56.1%,#9fff58 64%,#c9ff2e 68.3%,#dcff1b 70.9%,#e6ff11 73%,#ebff0c 75.1%,#eaff0d 77.2%,#ddff1a 81%,#ceff29 83.1%,#bbff3b 85.2%,#93ff64 88.9%,#33ffc4 96.8%,#17ffe0 99.5%,#12fbe5 100%)"></i><i style="background:linear-gradient(90deg,#c3ff34 0%,#dbff1c 3.2%,#e9ff0e 6.3%,#ebff0c 9%,#e3ff14 12.2%,#d0ff27 15.3%,#b3ff44 18.5%,#90ff67 21.7%,#3bffbb 28.6%,#19ffde 31.7%,#14fee3 32.3%,#02e8f5 34.4%,#00daff 36%,#00ceff 38.1%,#00c8ff 40.2%,#00c9ff 42.9%,#00d8ff 46%,#00e5f7 47.6%,#16ffe1 50.3%,#3effb9 54%,#a5ff52 62.4%,#ceff29 66.7%,#dfff18 69.3%,#e8ff0f 71.4%,#ebff0c 73.5%,#e9ff0d 75.7%,#d9ff1d 79.4%,#bbff3b 83.1%,#93ff64 86.8%,#39ffbe 94.2%,#17ffe0 97.4%,#00e6f7 100%)"></i><i style="background:linear-gradient(90deg,#d4ff23 0%,#e3ff14 2.6%,#ebff0c 5.3%,#eaff0d 7.9%,#e1ff16 10.6%,#ccff2b 13.8%,#aeff49 16.9%,#3bffbb 26.5%,#19ffde 29.6%,#14fee3 30.2%,#02e8f5 32.3%,#00daff 33.9%,#00ceff 36%,#00c8ff 38.1%,#00c9ff 40.7%,#00d8ff 43.9%,#00e5f7 45.5%,#16ffe1 48.1%,#3effb9 51.9%,#a5ff52 60.3%,#ceff29 64.6%,#dfff18 67.2%,#e8ff0f 69.3%,#ebff0c 71.4%,#e9ff0e 73.5%,#d9ff1d 77.2%,#bbff3b 81%,#93ff64 84.7%,#39ffbe 92.1%,#17ffe0 95.2%,#00e6f7 97.9%,#00ddfe 98.9%,#00d5ff 100%)"></i><i style="background:linear-gradient(90deg,#e1ff16 0%,#eaff0d 2.6%,#ebff0c 5.3%,#e3ff14 7.9%,#d4ff23 10.6%,#c3ff34 12.7%,#a8ff4f 15.3%,#3bffbc 24.3%,#19ffde 27.5%,#14fee3 28%,#02e8f5 30.2%,#00daff 31.7%,#00ceff 33.9%,#00c8ff 36%,#00c9ff 38.6%,#00d8ff 41.8%,#00e5f7 43.4%,#16ffe1 46%,#3effb9 49.7%,#a5ff52 58.2%,#ceff29 62.4%,#dfff18 65.1%,#e8ff0f 67.2%,#ebff0c 69.3%,#e9ff0e 71.4%,#d9ff1d 75.1%,#bbff3b 78.8%,#93ff64 82.5%,#39ffbe 89.9%,#17ffe0 93.1%,#00e6f7 95.8%,#00d9ff 97.4%,#00cbff 100%)"></i><i style="background:linear-gradient(90deg,#e9ff0e 0%,#ebff0c 2.1%,#e7ff10 4.8%,#deff19 6.9%,#ccff2b 9.5%,#a2ff55 13.8%,#3bffbc 22.2%,#14fee3 25.9%,#02e8f5 28%,#00daff 29.6%,#00caff 32.8%,#00c7ff 35.4%,#00cfff 38.1%,#00dcfe 40.2%,#00e5f7 41.3%,#16ffe1 43.9%,#3effb9 47.6%,#9fff58 55.6%,#c5ff32 59.3%,#d5ff21 61.4%,#e2ff15 63.5%,#e9ff0e 65.6%,#ebff0c 67.7%,#e8ff0f 69.8%,#dfff17 72%,#d2ff25 74.1%,#c0ff36 76.2%,#9fff57 79.4%,#3fffb8 87.3%,#17ffe0 91%,#00e6f7 93.7%,#00ddfe 94.7%,#00cfff 96.8%,#00c7ff 100%)"></i><i style="background:linear-gradient(90deg,#ebff0c 0%,#e3ff14 3.7%,#d7ff1f 5.8%,#c7ff30 7.9%,#a2ff55 11.6%,#3bffbc 20.1%,#14fee3 23.8%,#02e8f5 25.9%,#00daff 27.5%,#00caff 30.7%,#00c7ff 33.3%,#00cfff 36%,#00dcfe 38.1%,#00e5f7 39.2%,#16ffe1 41.8%,#3effb9 45.5%,#9fff58 53.4%,#c5ff32 57.1%,#d5ff21 59.3%,#e2ff15 61.4%,#e9ff0e 63.5%,#ebff0c 65.6%,#e8ff0f 67.7%,#dfff17 69.8%,#d2ff25 72%,#c0ff36 74.1%,#9fff57 77.2%,#3fffb8 85.2%,#17ffe0 88.9%,#00e6f7 91.5%,#00d9ff 93.1%,#00cbff 95.8%,#00c7ff 97.9%,#00caff 100%)"></i><i style="background:linear-gradient(90deg,#e9ff0e 0%,#d7ff1f 3.7%,#b8ff3e 7.4%,#96ff61 10.6%,#3bffbc 18%,#19ffde 21.2%,#14fee3 21.7%,#02e8f5 23.8%,#00daff 25.4%,#00caff 28.6%,#00c7ff 31.2%,#00cfff 33.9%,#00dcfe 36%,#00e5f7 37%,#16ffe1 39.7%,#3effb9 43.4%,#9fff58 51.3%,#c5ff32 55%,#d5ff21 57.1%,#e2ff15 59.3%,#e9ff0e 61.4%,#ebff0c 63.5%,#e8ff0f 65.6%,#dfff17 67.7%,#d2ff25 69.8%,#c0ff36 72%,#9fff57 75.1%,#3fffb8 83.1%,#17ffe0 86.8%,#00e6f7 89.4%,#00d9ff 91%,#00cdff 93.1%,#00c8ff 94.7%,#00c8ff 97.4%,#00d3ff 100%)"></i><i style="background:linear-gradient(90deg,#e1ff16 0%,#ccff2b 3.2%,#aeff49 6.3%,#3bffbb 15.9%,#19ffde 19%,#14fee3 19.6%,#02e8f5 21.7%,#00daff 23.3%,#00caff 26.5%,#00c7ff 29.1%,#00cfff 31.7%,#00dcfe 33.9%,#00e5f7 34.9%,#16ffe1 37.6%,#3effb9 41.3%,#9fff58 49.2%,#c5ff32 52.9%,#d5ff21 55%,#e2ff15 57.1%,#ebff0c 60.8%,#e9ff0e 63%,#e2ff15 65.1%,#d6ff21 67.2%,#c5ff32 69.3%,#9fff57 73%,#3fffb8 81%,#17ffe0 84.7%,#00e6f7 87.3%,#00ddfe 88.4%,#00cfff 90.5%,#00c7ff 93.7%,#00ceff 96.8%,#00daff 98.9%,#00e2f9 100%)"></i><i style="background:linear-gradient(90deg,#d4ff23 0%,#c3ff34 2.1%,#a8ff4f 4.8%,#3bffbb 13.8%,#14fee3 17.5%,#02e8f5 19.6%,#00daff 21.2%,#00caff 24.3%,#00c7ff 27%,#00cfff 29.6%,#00dcfe 31.7%,#00e5f7 32.8%,#16ffe1 35.4%,#3effb9 39.2%,#9fff58 47.1%,#c5ff32 50.8%,#d5ff21 52.9%,#e2ff15 55%,#ebff0c 58.7%,#e9ff0d 60.8%,#e2ff15 63%,#d6ff21 65.1%,#c5ff32 67.2%,#9fff57 70.9%,#3fffb8 78.8%,#17ffe0 82.5%,#00e6f7 85.2%,#00ddfe 86.2%,#00cfff 88.4%,#00c9ff 89.9%,#00c8ff 93.1%,#00ceff 94.7%,#00daff 96.8%,#01e7f5 98.4%,#0ef7e8 100%)"></i><i style="background:linear-gradient(90deg,#c3ff34 0%,#9cff5b 3.7%,#3bffbb 11.6%,#14fee3 15.3%,#02e8f5 17.5%,#00daff 19%,#00caff 22.2%,#00c7ff 24.9%,#00cfff 27.5%,#00dcfe 29.6%,#00e5f7 30.7%,#16ffe1 33.3%,#3effb9 37%,#9fff58 45%,#c5ff32 48.7%,#d5ff21 50.8%,#e2ff15 52.9%,#ebff0c 56.6%,#e9ff0d 58.7%,#e2ff15 60.8%,#d6ff21 63%,#c5ff32 65.1%,#9fff57 68.8%,#3fffb8 76.7%,#17ffe0 80.4%,#00e6f7 83.1%,#00ddfe 84.1%,#00cfff 86.2%,#00c9ff 87.8%,#00c8ff 91%,#00ceff 92.6%,#00daff 94.7%,#01e7f5 96.3%,#13fde4 98.4%,#23ffd4 100%)"></i><i style="background:linear-gradient(90deg,#aeff49 0%,#3bffbb 9.5%,#14fee3 13.2%,#02e8f5 15.3%,#00daff 16.9%,#00caff 20.1%,#00c7ff 22.8%,#00cfff 25.4%,#00dcfe 27.5%,#00e5f7 28.6%,#16ffe1 31.2%,#3effb9 34.9%,#9fff58 42.9%,#c0ff37 46%,#d2ff25 48.1%,#dfff18 50.3%,#ebff0c 54%,#eaff0d 56.1%,#e4ff12 58.2%,#d9ff1d 60.3%,#c5ff31 63%,#a0ff57 66.7%,#3fffb8 74.6%,#17ffe0 78.3%,#00e6f7 81%,#00ddfe 82%,#00cdff 84.7%,#00c7ff 87.3%,#00cbff 89.9%,#00daff 92.6%,#01e7f5 94.2%,#13fde4 96.3%,#3affbc 100%)"></i><i style="background:linear-gradient(90deg,#96ff61 0%,#3bffbb 7.4%,#14fee3 11.1%,#02e8f5 13.2%,#00dbff 14.8%,#00caff 18%,#00c7ff 20.6%,#00cfff 23.3%,#00dcfe 25.4%,#00e5f7 26.5%,#16ffe1 29.1%,#3effb9 32.8%,#9fff58 40.7%,#c0ff37 43.9%,#d2ff25 46%,#dfff18 48.1%,#ebff0c 51.9%,#eaff0c 54%,#e4ff12 56.1%,#d9ff1d 58.2%,#c5ff31 60.8%,#a0ff57 64.6%,#3fffb8 72.5%,#17ffe0 76.2%,#00e6f7 78.8%,#00ddfe 79.9%,#00cbff 83.1%,#00c7ff 85.7%,#00cbff 87.8%,#00daff 90.5%,#01e7f6 92.1%,#13fde4 94.2%,#18ffdf 94.7%,#54ffa3 100%)"></i><i style="background:linear-gradient(90deg,#7dff7a 0%,#3cffbb 5.3%,#14fee3 9%,#02e8f5 11.1%,#00dbff 12.7%,#00caff 15.9%,#00c7ff 18.5%,#00cfff 21.2%,#00dcfe 23.3%,#00e5f7 24.3%,#16ffe1 27%,#3effb9 30.7%,#9fff58 38.6%,#c0ff37 41.8%,#dcff1b 45.5%,#eaff0d 49.2%,#ebff0c 51.3%,#e6ff10 53.4%,#ddff1a 55.6%,#caff2d 58.2%,#a0ff57 62.4%,#3fffb8 70.4%,#17ffe0 74.1%,#00e6f7 76.7%,#00ddfe 77.8%,#00cbff 81%,#00c7ff 83.6%,#00cbff 85.7%,#00daff 88.4%,#01e7f6 89.9%,#13fde4 92.1%,#18ffdf 92.6%,#3affbc 95.8%,#6eff89 100%)"></i><i style="background:linear-gradient(90deg,#62ff95 0%,#35ffc1 3.7%,#14fee3 6.9%,#02e8f5 9%,#00dbff 10.6%,#0cf 13.2%,#00c7ff 15.3%,#00cbff 18%,#00dcfe 21.2%,#00e5f7 22.2%,#16ffe1 24.9%,#3effb9 28.6%,#9eff58 36.5%,#c9ff2e 40.7%,#dcff1b 43.4%,#e6ff11 45.5%,#ebff0c 47.6%,#eaff0c 49.7%,#ddff1a 53.4%,#c1ff36 57.1%,#a0ff57 60.3%,#3fffb8 68.3%,#17ffe0 72%,#00e6f7 74.6%,#00d9ff 76.2%,#00cdff 78.3%,#00c7ff 80.4%,#00caff 83.1%,#00daff 86.2%,#01e7f6 87.8%,#13fde4 89.9%,#18ffdf 90.5%,#41ffb6 94.2%,#88ff6f 100%)"></i><i style="background:linear-gradient(90deg,#48ffaf 0%,#14fee3 4.8%,#02e8f5 6.9%,#00dbff 8.5%,#0cf 11.1%,#00c7ff 13.8%,#0cf 16.4%,#00dcfe 19%,#00e5f7 20.1%,#16ffe1 22.8%,#3effb9 26.5%,#9eff58 34.4%,#c9ff2e 38.6%,#d9ff1e 40.7%,#e4ff13 42.9%,#eaff0d 45%,#ebff0c 47.1%,#e0ff17 50.8%,#d2ff24 52.9%,#c1ff36 55%,#a0ff57 58.2%,#3fffb8 66.1%,#17ffe0 69.8%,#00e6f6 72.5%,#00d9ff 74.1%,#00cdff 76.2%,#00c7ff 78.3%,#00caff 81%,#00daff 84.1%,#01e7f6 85.7%,#13fde4 87.8%,#18ffdf 88.4%,#40ffb6 92.1%,#a1ff56 100%)"></i></div><svg width="1932" height="2315" viewBox="0 0 1932 2315"><defs><linearGradient id="jet" x1="0" y1="0" x2="0" y2="1"><stop offset="0.0000" stop-color="#800000"/><stop offset="0.0156" stop-color="#920000"/><stop offset="0.0312" stop-color="#a40000"/><stop offset="0.0469" stop-color="#b60000"/><stop offset="0.0625" stop-color="#c80000"/><stop offset="0.0781" stop-color="#da0000"/><stop offset="0.0938" stop-color="#ec0400"/><stop offset="0.1094" stop-color="#fe1200"/><stop offset="0.1250" stop-color="#ff2100"/><stop offset="0.1406" stop-color="#ff3000"/><stop offset="0.1562" stop-color="#ff3f00"/><stop offset="0.1719" stop-color="#ff4d00"/><stop offset="0.1875" stop-color="#ff5c00"/><stop offset="0.2031" stop-color="#ff6b00"/><stop offset="0.2188" stop-color="#ff7a00"/><stop offset="0.2344" stop-color="#f80"/><stop offset="0.2500" stop-color="#ff9700"/><stop offset="0.2656" stop-color="#ffa600"/><stop offset="0.2812" stop-color="#ffb500"/><stop offset="0.2969" stop-color="#ffc300"/><stop offset="0.3125" stop-color="#ffd200"/><stop offset="0.3281" stop-color="#ffe100"/><stop offset="0.3438" stop-color="#fcf000"/><stop offset="0.3594" stop-color="#effe08"/><stop offset="0.3750" stop-color="#e2ff15"/><stop offset="0.3906" stop-color="#d5ff21"/><stop offset="0.4062" stop-color="#c9ff2e"/><stop offset="0.4219" stop-color="#bcff3b"/><stop offset="0.4375" stop-color="#afff48"/><stop offset="0.4531" stop-color="#a2ff55"/><stop offset="0.4688" stop-color="#95ff62"/><stop offset="0.4844" stop-color="#88ff6f"/><stop offset="0.5000" stop-color="#7bff7b"/><stop offset="0.5156" stop-color="#6fff88"/><stop offset="0.5312" stop-color="#62ff95"/><stop offset="0.5469" stop-color="#55ffa2"/><stop offset="0.5625" stop-color="#48ffaf"/><stop offset="0.5781" stop-color="#3bffbc"/><stop offset="0.5938" stop-color="#2effc9"/><stop offset="0.6094" stop-color="#21ffd5"/><stop offset="0.6250" stop-color="#15ffe2"/><stop offset="0.6406" stop-color="#08efef"/><stop offset="0.6562" stop-color="#00dffc"/><stop offset="0.6719" stop-color="#00cfff"/><stop offset="0.6875" stop-color="#00bfff"/><stop offset="0.7031" stop-color="#00afff"/><stop offset="0.7188" stop-color="#009fff"/><stop offset="0.7344" stop-color="#008fff"/><stop offset="0.7500" stop-color="#0080ff"/><stop offset="0.7656" stop-color="#0070ff"/><stop offset="0.7812" stop-color="#0060ff"/><stop offset="0.7969" stop-color="#0050ff"/><stop offset="0.8125" stop-color="#0040ff"/><stop offset="0.8281" stop-color="#0030ff"/><stop offset="0.8438" stop-color="#0020ff"/><stop offset="0.8594" stop-color="#0010ff"/><stop offset="0.8750" stop-color="#00f"/><stop offset="0.8906" stop-color="#0000fe"/><stop offset="0.9062" stop-color="#0000ec"/><stop offset="0.9219" stop-color="#0000da"/><stop offset="0.9375" stop-color="#0000c8"/><stop offset="0.9531" stop-color="#0000b6"/><stop offset="0.9688" stop-color="#0000a4"/><stop offset="0.9844" stop-color="#000092"/><stop offset="1.0000" stop-color="#000080"/></linearGradient></defs><rect x="244.9" y="150.8" width="81.2" height="90.2" fill="#fff"/><text class="s" transform="matrix(0.6916 0 0 0.6598 264.4596 222.9)">A</text><path d="M391.08 149.80L391.08 158.80M391.08 1032.80L391.08 1023.80M538.25 149.80L538.25 158.80M538.25 1032.80L538.25 1023.80M685.43 149.80L685.43 158.80M685.43 1032.80L685.43 1023.80M243.90 444.13L252.90 444.13M832.60 444.13L823.60 444.13M243.90 738.47L252.90 738.47M832.60 738.47L823.60 738.47" fill="none" stroke="#111" stroke-width="1.2"/><rect x="243.90" y="149.80" width="588.70" height="883.00" fill="none" stroke="#222" stroke-width="1.8"/><rect x="867.10" y="149.80" width="43.30" height="883.00" fill="url(#jet)" stroke="#000" stroke-width="1.3"/><text class="s" transform="matrix(0.633 0 0 0.633 920.4274 1049.4)">0</text><text class="s" transform="matrix(0.6235 0 0 0.633 920.49 797.1143)">0.1</text><text class="s" transform="matrix(0.6235 0 0 0.633 920.49 544.8286)">0.2</text><text class="s" transform="matrix(0.6235 0 0 0.633 919.39 292.3)">0.3</text><path d="M901.90 780.51L910.40 780.51M901.90 528.23L910.40 528.23M901.90 275.94L910.40 275.94" fill="none" stroke="#111" stroke-width="1.2"/><text class="s" transform="matrix(0.633 0 0 0.633 193.7301 165.6)">0</text><text class="s" transform="matrix(0.6235 0 0 0.633 114.9326 459.9333)">100</text><text class="s" transform="matrix(0.6235 0 0 0.633 114.9326 754.2667)">200</text><text class="s" transform="matrix(0.6235 0 0 0.633 114.9326 1048.6)">300</text><text class="s" transform="matrix(0 -0.7823 0.7873 0 87.8199 626.2229)">[m]</text><text class="m" transform="matrix(0 -0.6745 0.7558 0 85.9889 680.2685)">y</text><rect x="1150.8" y="150.8" width="78.1" height="90.2" fill="#fff"/><text class="s" transform="matrix(0.7213 0 0 0.6571 1166.9204 223)">B</text><path d="M1296.97 149.80L1296.97 158.80M1296.97 1032.80L1296.97 1023.80M1444.15 149.80L1444.15 158.80M1444.15 1032.80L1444.15 1023.80M1591.33 149.80L1591.33 158.80M1591.33 1032.80L1591.33 1023.80M1149.80 296.97L1158.80 296.97M1738.50 296.97L1729.50 296.97M1149.80 444.13L1158.80 444.13M1738.50 444.13L1729.50 444.13M1149.80 591.30L1158.80 591.30M1738.50 591.30L1729.50 591.30M1149.80 738.47L1158.80 738.47M1738.50 738.47L1729.50 738.47M1149.80 885.63L1158.80 885.63M1738.50 885.63L1729.50 885.63" fill="none" stroke="#111" stroke-width="1.2"/><rect x="1149.80" y="149.80" width="588.70" height="883.00" fill="none" stroke="#222" stroke-width="1.8"/><rect x="1772.90" y="149.80" width="43.30" height="883.00" fill="url(#jet)" stroke="#000" stroke-width="1.3"/><text class="s" transform="matrix(0.6235 0 0 0.633 1824.3555 1051.5)">-5</text><text class="s" transform="matrix(0.633 0 0 0.633 1824.2274 608)">0</text><text class="s" transform="matrix(0.6235 0 0 0.633 1824.2935 166.6)">+5</text><path d="M1807.70 591.30L1816.20 591.30" fill="none" stroke="#111" stroke-width="1.2"/><rect x="244.9" y="1248.9" width="84.4" height="92.8" fill="#fff"/><text class="s" transform="matrix(0.7586 0 0 0.6505 264.14 1324.0789)">C</text><path d="M538.25 1247.90L538.25 1256.90M538.25 2130.90L538.25 2121.90M243.90 1542.23L252.90 1542.23M832.60 1542.23L823.60 1542.23M243.90 1836.57L252.90 1836.57M832.60 1836.57L823.60 1836.57" fill="none" stroke="#111" stroke-width="1.2"/><rect x="243.90" y="1247.90" width="588.70" height="883.00" fill="none" stroke="#222" stroke-width="1.8"/><rect x="867.10" y="1247.90" width="43.30" height="883.00" fill="url(#jet)" stroke="#000" stroke-width="1.3"/><text class="s" transform="matrix(0.633 0 0 0.633 920.4274 2147.5)">0</text><text class="s" transform="matrix(0.633 0 0 0.633 919.9638 1926.75)">2</text><text class="s" transform="matrix(0.633 0 0 0.633 921.5092 1706)">4</text><text class="s" transform="matrix(0.633 0 0 0.633 920.1801 1485.2)">6</text><text class="s" transform="matrix(0.633 0 0 0.633 920.3038 1263.5)">8</text><path d="M901.90 1910.15L910.40 1910.15M901.90 1689.40L910.40 1689.40M901.90 1468.65L910.40 1468.65" fill="none" stroke="#111" stroke-width="1.2"/><text class="s" transform="matrix(0.633 0 0 0.633 193.7301 1263.7)">0</text><text class="s" transform="matrix(0.6235 0 0 0.633 114.9326 1558.0333)">100</text><text class="s" transform="matrix(0.6235 0 0 0.633 114.9326 1852.3667)">200</text><text class="s" transform="matrix(0.6235 0 0 0.633 114.9326 2146.7)">300</text><text class="s" transform="matrix(0 -0.7823 0.7873 0 87.8199 1724.3229)">[m]</text><text class="m" transform="matrix(0 -0.6745 0.7558 0 85.9889 1778.3685)">y</text><text class="s" transform="matrix(0.633 0 0 0.633 223.4788 2187)">0</text><text class="s" transform="matrix(0.6235 0 0 0.633 477.0913 2187)">100</text><text class="s" transform="matrix(0.6235 0 0 0.633 772.583 2187)">200</text><text class="s" transform="matrix(0.7823 0 0 0.7907 505.7771 2272.2756)">[m]</text><text class="m" transform="matrix(0.8491 0 0 0.7756 441.3365 2272.3)">x</text><rect x="1150.8" y="1248.9" width="82.2" height="92.8" fill="#fff"/><text class="s" transform="matrix(0.687 0 0 0.6612 1167.3573 1325)">D</text><path d="M1444.15 1247.90L1444.15 1256.90M1444.15 2130.90L1444.15 2121.90M1149.80 1395.07L1158.80 1395.07M1738.50 1395.07L1729.50 1395.07M1149.80 1542.23L1158.80 1542.23M1738.50 1542.23L1729.50 1542.23M1149.80 1689.40L1158.80 1689.40M1738.50 1689.40L1729.50 1689.40M1149.80 1836.57L1158.80 1836.57M1738.50 1836.57L1729.50 1836.57M1149.80 1983.73L1158.80 1983.73M1738.50 1983.73L1729.50 1983.73" fill="none" stroke="#111" stroke-width="1.2"/><rect x="1149.80" y="1247.90" width="588.70" height="883.00" fill="none" stroke="#222" stroke-width="1.8"/><rect x="1772.90" y="1247.90" width="43.30" height="883.00" fill="url(#jet)" stroke="#000" stroke-width="1.3"/><text class="s" transform="matrix(0.6235 0 0 0.633 1824.3555 2149.6)">-5</text><text class="s" transform="matrix(0.633 0 0 0.633 1824.2274 1706.1)">0</text><text class="s" transform="matrix(0.6235 0 0 0.633 1824.2935 1264.7)">+5</text><path d="M1807.70 1689.40L1816.20 1689.40" fill="none" stroke="#111" stroke-width="1.2"/><text class="s" transform="matrix(0.633 0 0 0.633 1129.3788 2187)">0</text><text class="s" transform="matrix(0.6235 0 0 0.633 1382.9913 2187)">100</text><text class="s" transform="matrix(0.6235 0 0 0.633 1678.483 2187)">200</text><text class="s" transform="matrix(0.7823 0 0 0.7907 1411.4771 2272.2756)">[m]</text><text class="m" transform="matrix(0.8491 0 0 0.7756 1347.0365 2272.3)">x</text><text class="s" transform="matrix(0.7828 0 0 0.7851 424.7727 95.2495)">[rad/m]</text><text class="m" transform="matrix(0.8378 0 0 0.7956 362.7864 95.8)">k</text><text class="s" transform="matrix(0.7853 0 0 0.7851 1422.0511 95.2495)">[%]</text><text class="m" transform="matrix(0.6514 0 0 0.7256 1335.1598 93.5914)">ϵ</text><text class="m" transform="matrix(0.5818 0 0 0.5578 1366.9239 106)">k</text><text class="s" transform="matrix(0.7842 0 0 0.7873 505.8608 1193.4199)">[m]</text><text class="m" transform="matrix(0.9234 0 0 0.7956 438.0636 1193.8)">h</text><text class="s" transform="matrix(0.7879 0 0 0.7873 1423.4291 1193.4199)">[%]</text><text class="m" transform="matrix(0.6588 0 0 0.7256 1333.4377 1191.5914)">ϵ</text><text class="m" transform="matrix(0.6416 0 0 0.5578 1364.8816 1204)">h</text><rect x="165" y="1006.8" width="61.6" height="50" fill="#fff"/><text class="s" transform="matrix(0.4602 0 0 0.4348 177.3835 1051.8)">D</text><rect x="87.5" y="1769.3" width="72.5" height="83" fill="#fff"/><text class="s" transform="matrix(0.6902 0 0 0.6598 101.5608 1835)">A</text></svg></div></div></body></html>
